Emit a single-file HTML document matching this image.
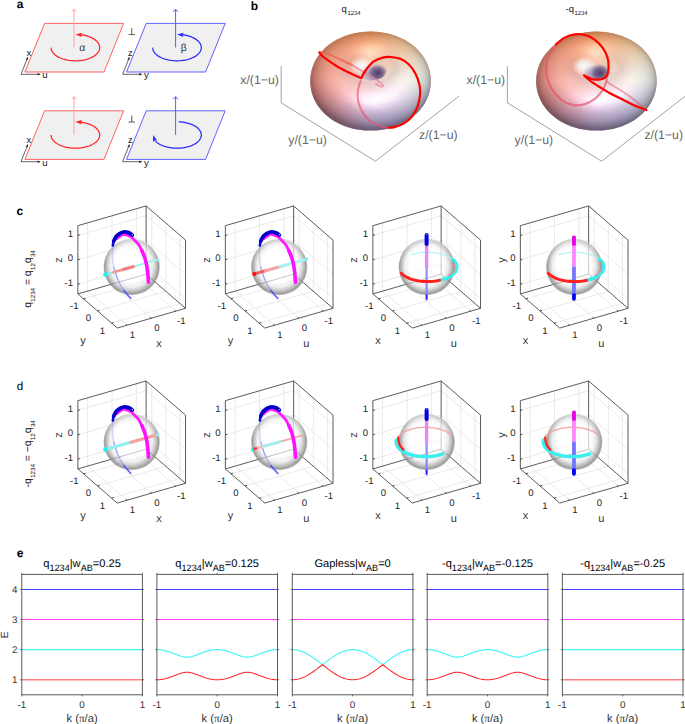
<!DOCTYPE html>
<html><head><meta charset="utf-8"><style>
html,body{margin:0;padding:0;background:#fff;}
svg{display:block;}
text{font-family:'Liberation Sans',sans-serif;text-rendering:geometricPrecision;}
</style></head><body>
<svg width="685" height="724" viewBox="0 0 685 724" style="font-family:'Liberation Sans',sans-serif">
<defs>
<radialGradient id="sph" cx="0.5" cy="0.5" r="0.5" fx="0.47" fy="0.4">
<stop offset="0" stop-color="#ffffff" stop-opacity="0.7"/>
<stop offset="0.6" stop-color="#ffffff" stop-opacity="0.65"/>
<stop offset="0.76" stop-color="#e8e8e8" stop-opacity="0.65"/>
<stop offset="0.88" stop-color="#a8a8a8" stop-opacity="0.72"/>
<stop offset="0.96" stop-color="#808080" stop-opacity="0.78"/>
<stop offset="1" stop-color="#a0a0a0" stop-opacity="0.6"/>
</radialGradient>
<linearGradient id="sphl" x1="0" y1="0" x2="0" y2="1">
<stop offset="0" stop-color="#ffffff" stop-opacity="0.55"/>
<stop offset="0.45" stop-color="#ffffff" stop-opacity="0"/>
<stop offset="1" stop-color="#ffffff" stop-opacity="0"/>
</linearGradient>
<linearGradient id="tul" x1="0" y1="0" x2="0" y2="1"><stop offset="0" stop-color="#c8885c"/><stop offset="0.5" stop-color="#b08080"/><stop offset="1" stop-color="#74607e"/></linearGradient><radialGradient id="hd"><stop offset="0" stop-color="#48385e" stop-opacity="0.95"/><stop offset="0.55" stop-color="#5e4e78" stop-opacity="0.7"/><stop offset="1" stop-color="#8070a0" stop-opacity="0"/></radialGradient><radialGradient id="hl"><stop offset="0" stop-color="#7878b0" stop-opacity="0.8"/><stop offset="0.6" stop-color="#9090c0" stop-opacity="0.5"/><stop offset="1" stop-color="#b0b0d8" stop-opacity="0"/></radialGradient><radialGradient id="hw"><stop offset="0" stop-color="#ffffff" stop-opacity="1"/><stop offset="0.45" stop-color="#f4fcff" stop-opacity="0.8"/><stop offset="0.75" stop-color="#fffbf0" stop-opacity="0.35"/><stop offset="1" stop-color="#ffffff" stop-opacity="0"/></radialGradient><filter id="tb" x="-5%" y="-5%" width="110%" height="110%"><feGaussianBlur stdDeviation="1.0"/></filter></defs>
<rect width="685" height="724" fill="#fff"/>
<path d="M151.76,279.09 L151.76,210.83 M146.13,264.46 L185.54,298.59 M136.37,277.03 L136.37,208.77 M146.13,264.46 L77.86,284.17 M136.37,277.03 L175.78,311.16 M151.76,279.09 L83.49,298.79 M165.83,291.28 L165.83,223.02 M146.13,240.08 L185.54,274.21 M111.99,284.07 L111.99,215.8 M146.13,240.08 L77.86,259.79 M111.99,284.07 L151.4,318.2 M165.83,291.28 L97.57,310.98 M179.91,303.47 L179.91,235.21 M146.13,215.7 L185.54,249.83 M87.62,291.1 L87.62,222.84 M146.13,215.7 L77.86,235.41 M87.62,291.1 L127.03,325.23 M179.91,303.47 L111.64,323.17" stroke="#e3e3e3" stroke-width="0.75" fill="none"/>
<path d="M77.86,293.92 L77.86,225.66 M146.13,274.21 L146.13,205.95 M185.54,308.34 L185.54,240.08 M77.86,225.66 L146.13,205.95 M146.13,205.95 L185.54,240.08 M77.86,293.92 L117.27,328.05 M117.27,328.05 L185.54,308.34 M77.86,293.92 L146.13,274.21 M146.13,274.21 L185.54,308.34" stroke="#4a4a4a" stroke-width="0.9" fill="none" stroke-linejoin="miter"/>
<path d="M77.86,284.17 L79.82,283.6 M83.49,298.79 L85.45,298.23 M175.78,311.16 L174.66,310.18 M77.86,259.79 L79.82,259.22 M97.57,310.98 L99.52,310.42 M151.4,318.2 L150.28,317.22 M77.86,235.41 L79.82,234.85 M111.64,323.17 L113.6,322.61 M127.03,325.23 L125.9,324.26" stroke="#333" stroke-width="0.9" fill="none"/>
<text x="73.06" y="237.01" text-anchor="end" font-size="9.6" fill="#262626">1</text>
<text x="73.06" y="261.39" text-anchor="end" font-size="9.6" fill="#262626">0</text>
<text x="73.06" y="285.77" text-anchor="end" font-size="9.6" fill="#262626">-1</text>
<text x="74.29" y="309.19" text-anchor="middle" font-size="9.6" fill="#262626">-1</text>
<text x="88.37" y="321.38" text-anchor="middle" font-size="9.6" fill="#262626">0</text>
<text x="102.44" y="333.57" text-anchor="middle" font-size="9.6" fill="#262626">1</text>
<text x="132.53" y="337.73" text-anchor="middle" font-size="9.6" fill="#262626">1</text>
<text x="156.9" y="330.7" text-anchor="middle" font-size="9.6" fill="#262626">0</text>
<text x="181.28" y="323.66" text-anchor="middle" font-size="9.6" fill="#262626">-1</text>
<text transform="translate(62.06,259.99) rotate(-90)" text-anchor="middle" font-size="11" fill="#333">z</text>
<text x="83.07" y="343.98" text-anchor="middle" font-size="11" fill="#333">y</text>
<text x="158.9" y="346.7" text-anchor="middle" font-size="11" fill="#333">x</text>
<circle cx="131.7" cy="267" r="28.15" fill="url(#sph)"/><circle cx="131.7" cy="267" r="28.15" fill="url(#sphl)"/>
<path d="M113.19,245.23 C113.06,246.9 112.27,251.59 112.37,255.21 C112.47,258.83 112.86,262.84 113.78,266.95 C114.7,271.06 117.2,277.71 117.89,279.86" stroke="#9a9aff" stroke-width="1.3" stroke-opacity="0.4" fill="none" stroke-linecap="round" stroke-linejoin="round"/>
<path d="M113.78,266.95 C114.46,269.1 116.22,275.95 117.89,279.86 C119.55,283.77 121.6,287.33 123.76,290.42 C125.91,293.51 129.62,297.07 130.8,298.4" stroke="#7a7aff" stroke-width="1.3" stroke-opacity="0.55" fill="none" stroke-linecap="round" stroke-linejoin="round"/>
<path d="M123.76,290.42 C124.93,291.75 129.62,297.07 130.8,298.4" stroke="#4040ff" stroke-width="1.4" stroke-opacity="0.8" fill="none" stroke-linecap="round" stroke-linejoin="round"/>
<path d="M104.98,274.58 L113.78,272.09" stroke="#7ff0f0" stroke-width="1.9" stroke-opacity="1" fill="none" stroke-linecap="round"/>
<path d="M133.15,266.62 L158.97,259.32" stroke="#9ff2f2" stroke-width="1.7" stroke-opacity="1" fill="none" stroke-linecap="round"/>
<path d="M113.78,272.09 L133.15,266.62" stroke="#f29a9a" stroke-width="3" stroke-opacity="1" fill="none" stroke-linecap="round"/>
<path d="M123.17,269.44 L133.15,266.62" stroke="#ef8080" stroke-width="3" stroke-opacity="1" fill="none" stroke-linecap="round"/>
<circle cx="105.33" cy="274.48" r="2.2" fill="#1ef0f0"/>
<path d="M116.71,238.78 C117.79,238.04 120.92,234.71 123.17,234.32 C125.42,233.93 128.35,235.49 130.21,236.43 C132.07,237.37 132.91,238.58 134.32,239.95 C135.73,241.32 137.39,242.85 138.66,244.65 C139.93,246.45 141.4,249.73 141.95,250.75" stroke="#ff1cff" stroke-width="2.8" stroke-opacity="1" fill="none" stroke-linecap="round" stroke-linejoin="round"/>
<path d="M141.95,250.75 C142.42,251.92 143.98,255.39 144.77,257.79 C145.55,260.2 146.13,262.59 146.64,265.19 C147.15,267.79 147.52,270.57 147.82,273.4 C148.11,276.24 148.31,280.74 148.4,282.21" stroke="#ff10ff" stroke-width="3.6" stroke-opacity="1" fill="none" stroke-linecap="round" stroke-linejoin="round"/>
<path d="M112.84,245.59 C113,244.84 113.13,242.75 113.78,241.13 C114.42,239.5 116.22,236.73 116.71,235.85" stroke="#0a0ad8" stroke-width="2.6" stroke-opacity="1" fill="none" stroke-linecap="round" stroke-linejoin="round"/>
<path d="M113.78,241.13 C114.27,240.25 115.25,237.33 116.71,235.85 C118.18,234.36 120.63,232.75 122.58,232.21 C124.54,231.66 126.83,232.09 128.45,232.56 C130.07,233.03 131.68,234.61 132.32,235.02" stroke="#0000c8" stroke-width="3.8" stroke-opacity="1" fill="none" stroke-linecap="round" stroke-linejoin="round"/>
<circle cx="132.39" cy="234.59" r="0.8" fill="#9a9aff"/>
<path d="M299.26,279.09 L299.26,210.83 M293.63,264.46 L333.04,298.59 M283.87,277.03 L283.87,208.77 M293.63,264.46 L225.36,284.17 M283.87,277.03 L323.28,311.16 M299.26,279.09 L230.99,298.79 M313.33,291.28 L313.33,223.02 M293.63,240.08 L333.04,274.21 M259.5,284.07 L259.5,215.8 M293.63,240.08 L225.36,259.79 M259.5,284.07 L298.9,318.2 M313.33,291.28 L245.07,310.98 M327.41,303.47 L327.41,235.21 M293.63,215.7 L333.04,249.83 M235.12,291.1 L235.12,222.84 M293.63,215.7 L225.36,235.41 M235.12,291.1 L274.53,325.23 M327.41,303.47 L259.14,323.17" stroke="#e3e3e3" stroke-width="0.75" fill="none"/>
<path d="M225.36,293.92 L225.36,225.66 M293.63,274.21 L293.63,205.95 M333.04,308.34 L333.04,240.08 M225.36,225.66 L293.63,205.95 M293.63,205.95 L333.04,240.08 M225.36,293.92 L264.77,328.05 M264.77,328.05 L333.04,308.34 M225.36,293.92 L293.63,274.21 M293.63,274.21 L333.04,308.34" stroke="#4a4a4a" stroke-width="0.9" fill="none" stroke-linejoin="miter"/>
<path d="M225.36,284.17 L227.32,283.6 M230.99,298.79 L232.95,298.23 M323.28,311.16 L322.16,310.18 M225.36,259.79 L227.32,259.22 M245.07,310.98 L247.02,310.42 M298.9,318.2 L297.78,317.22 M225.36,235.41 L227.32,234.85 M259.14,323.17 L261.1,322.61 M274.53,325.23 L273.4,324.26" stroke="#333" stroke-width="0.9" fill="none"/>
<text x="220.56" y="237.01" text-anchor="end" font-size="9.6" fill="#262626">1</text>
<text x="220.56" y="261.39" text-anchor="end" font-size="9.6" fill="#262626">0</text>
<text x="220.56" y="285.77" text-anchor="end" font-size="9.6" fill="#262626">-1</text>
<text x="221.79" y="309.19" text-anchor="middle" font-size="9.6" fill="#262626">-1</text>
<text x="235.87" y="321.38" text-anchor="middle" font-size="9.6" fill="#262626">0</text>
<text x="249.94" y="333.57" text-anchor="middle" font-size="9.6" fill="#262626">1</text>
<text x="280.03" y="337.73" text-anchor="middle" font-size="9.6" fill="#262626">1</text>
<text x="304.4" y="330.7" text-anchor="middle" font-size="9.6" fill="#262626">0</text>
<text x="328.78" y="323.66" text-anchor="middle" font-size="9.6" fill="#262626">-1</text>
<text transform="translate(209.56,259.99) rotate(-90)" text-anchor="middle" font-size="11" fill="#333">z</text>
<text x="230.57" y="343.98" text-anchor="middle" font-size="11" fill="#333">y</text>
<text x="306.4" y="346.7" text-anchor="middle" font-size="11" fill="#333">u</text>
<circle cx="279.2" cy="267" r="28.15" fill="url(#sph)"/><circle cx="279.2" cy="267" r="28.15" fill="url(#sphl)"/>
<path d="M260.19,245.23 C260.06,246.9 259.27,251.59 259.37,255.21 C259.47,258.83 259.86,262.84 260.78,266.95 C261.7,271.06 264.2,277.71 264.89,279.86" stroke="#9a9aff" stroke-width="1.3" stroke-opacity="0.4" fill="none" stroke-linecap="round" stroke-linejoin="round"/>
<path d="M260.78,266.95 C261.46,269.1 263.22,275.95 264.89,279.86 C266.55,283.77 268.6,287.33 270.76,290.42 C272.91,293.51 276.62,297.07 277.8,298.4" stroke="#7a7aff" stroke-width="1.3" stroke-opacity="0.55" fill="none" stroke-linecap="round" stroke-linejoin="round"/>
<path d="M270.76,290.42 C271.93,291.75 276.62,297.07 277.8,298.4" stroke="#4040ff" stroke-width="1.4" stroke-opacity="0.8" fill="none" stroke-linecap="round" stroke-linejoin="round"/>
<path d="M277.8,267.28 L306.55,259.15" stroke="#a8f2f2" stroke-width="3" stroke-opacity="1" fill="none" stroke-linecap="round"/>
<path d="M254.32,273.91 L265.47,270.76" stroke="#f06060" stroke-width="3" stroke-opacity="1" fill="none" stroke-linecap="round"/>
<path d="M265.47,270.76 L277.8,267.28" stroke="#f4a4a4" stroke-width="3" stroke-opacity="1" fill="none" stroke-linecap="round"/>
<circle cx="306.32" cy="259.22" r="1.5" fill="#70e8e8"/>
<circle cx="254.32" cy="273.91" r="2.1" fill="#ff1010"/>
<path d="M263.71,238.78 C264.79,238.04 267.92,234.71 270.17,234.32 C272.42,233.93 275.35,235.49 277.21,236.43 C279.07,237.37 279.91,238.58 281.32,239.95 C282.73,241.32 284.39,242.85 285.66,244.65 C286.93,246.45 288.4,249.73 288.95,250.75" stroke="#ff1cff" stroke-width="2.8" stroke-opacity="1" fill="none" stroke-linecap="round" stroke-linejoin="round"/>
<path d="M288.95,250.75 C289.42,251.92 290.98,255.39 291.77,257.79 C292.55,260.2 293.13,262.59 293.64,265.19 C294.15,267.79 294.52,270.57 294.82,273.4 C295.11,276.24 295.31,280.74 295.4,282.21" stroke="#ff10ff" stroke-width="3.6" stroke-opacity="1" fill="none" stroke-linecap="round" stroke-linejoin="round"/>
<path d="M259.84,245.59 C260,244.84 260.13,242.75 260.78,241.13 C261.42,239.5 263.22,236.73 263.71,235.85" stroke="#0a0ad8" stroke-width="2.6" stroke-opacity="1" fill="none" stroke-linecap="round" stroke-linejoin="round"/>
<path d="M260.78,241.13 C261.27,240.25 262.25,237.33 263.71,235.85 C265.18,234.36 267.63,232.75 269.58,232.21 C271.54,231.66 273.83,232.09 275.45,232.56 C277.07,233.03 278.68,234.61 279.32,235.02" stroke="#0000c8" stroke-width="3.8" stroke-opacity="1" fill="none" stroke-linecap="round" stroke-linejoin="round"/>
<circle cx="279.39" cy="234.59" r="0.8" fill="#9a9aff"/>
<path d="M446.76,279.09 L446.76,210.83 M441.13,264.46 L480.54,298.59 M431.37,277.03 L431.37,208.77 M441.13,264.46 L372.86,284.17 M431.37,277.03 L470.78,311.16 M446.76,279.09 L378.49,298.79 M460.83,291.28 L460.83,223.02 M441.13,240.08 L480.54,274.21 M407,284.07 L407,215.8 M441.13,240.08 L372.86,259.79 M407,284.07 L446.4,318.2 M460.83,291.28 L392.57,310.98 M474.91,303.47 L474.91,235.21 M441.13,215.7 L480.54,249.83 M382.62,291.1 L382.62,222.84 M441.13,215.7 L372.86,235.41 M382.62,291.1 L422.03,325.23 M474.91,303.47 L406.64,323.17" stroke="#e3e3e3" stroke-width="0.75" fill="none"/>
<path d="M372.86,293.92 L372.86,225.66 M441.13,274.21 L441.13,205.95 M480.54,308.34 L480.54,240.08 M372.86,225.66 L441.13,205.95 M441.13,205.95 L480.54,240.08 M372.86,293.92 L412.27,328.05 M412.27,328.05 L480.54,308.34 M372.86,293.92 L441.13,274.21 M441.13,274.21 L480.54,308.34" stroke="#4a4a4a" stroke-width="0.9" fill="none" stroke-linejoin="miter"/>
<path d="M372.86,284.17 L374.82,283.6 M378.49,298.79 L380.45,298.23 M470.78,311.16 L469.66,310.18 M372.86,259.79 L374.82,259.22 M392.57,310.98 L394.52,310.42 M446.4,318.2 L445.28,317.22 M372.86,235.41 L374.82,234.85 M406.64,323.17 L408.6,322.61 M422.03,325.23 L420.9,324.26" stroke="#333" stroke-width="0.9" fill="none"/>
<text x="368.06" y="237.01" text-anchor="end" font-size="9.6" fill="#262626">1</text>
<text x="368.06" y="261.39" text-anchor="end" font-size="9.6" fill="#262626">0</text>
<text x="368.06" y="285.77" text-anchor="end" font-size="9.6" fill="#262626">-1</text>
<text x="369.29" y="309.19" text-anchor="middle" font-size="9.6" fill="#262626">-1</text>
<text x="383.37" y="321.38" text-anchor="middle" font-size="9.6" fill="#262626">0</text>
<text x="397.44" y="333.57" text-anchor="middle" font-size="9.6" fill="#262626">1</text>
<text x="427.53" y="337.73" text-anchor="middle" font-size="9.6" fill="#262626">1</text>
<text x="451.9" y="330.7" text-anchor="middle" font-size="9.6" fill="#262626">0</text>
<text x="476.28" y="323.66" text-anchor="middle" font-size="9.6" fill="#262626">-1</text>
<text transform="translate(357.06,259.99) rotate(-90)" text-anchor="middle" font-size="11" fill="#333">z</text>
<text x="378.07" y="343.98" text-anchor="middle" font-size="11" fill="#333">x</text>
<text x="453.9" y="346.7" text-anchor="middle" font-size="11" fill="#333">u</text>
<circle cx="426.7" cy="267" r="28.15" fill="url(#sph)"/><circle cx="426.7" cy="267" r="28.15" fill="url(#sphl)"/>
<path d="M452.93,259.62 L451.85,258.76 L450.64,257.93 L449.33,257.15 L447.91,256.41 L446.39,255.73 L444.78,255.1 L443.08,254.53 L441.31,254.02 L439.47,253.57 L437.58,253.18 L435.63,252.87 L433.65,252.62 L431.64,252.44 L429.6,252.34 L427.56,252.3 L425.51,252.34 L423.48,252.44 L421.47,252.62 L419.48,252.87 L417.54,253.18 L415.64,253.57 L413.81,254.02 L412.03,254.53" stroke="#a8f4f4" stroke-width="1.3" stroke-opacity="0.85" fill="none" stroke-linecap="round" stroke-linejoin="round"/>
<path d="M426.62,268.12 L426.62,298.87" stroke="#7c7cff" stroke-width="2.3" stroke-opacity="0.85" fill="none" stroke-linecap="butt"/>
<path d="M426.62,295.12 L426.62,299.23" stroke="#2020ff" stroke-width="1.8" stroke-opacity="0.9" fill="none" stroke-linecap="round"/>
<path d="M426.62,243.47 L426.62,268.12" stroke="#e488f4" stroke-width="3.4" stroke-opacity="1" fill="none" stroke-linecap="butt"/>
<path d="M426.62,235.02 L426.62,244.06" stroke="#0000e8" stroke-width="4" stroke-opacity="1" fill="none" stroke-linecap="round"/>
<circle cx="426.62" cy="234.55" r="0.7" fill="#8a8aff"/>
<path d="M401.23,273.37 L402.19,274.27 L403.27,275.14 L404.47,275.97 L405.79,276.75 L407.21,277.49 L408.73,278.17 L410.34,278.8 L412.03,279.37 L413.81,279.88 L415.64,280.33 L417.54,280.71 L419.48,281.03 L421.47,281.28 L423.48,281.45 L425.52,281.56 L427.56,281.6 L429.6,281.56 L431.64,281.45 L433.65,281.28 L435.63,281.03 L437.58,280.71 L439.47,280.33 L441.31,279.88 L443.08,279.37" stroke="#ff2020" stroke-width="3" stroke-opacity="1" fill="none" stroke-linecap="round" stroke-linejoin="round"/>
<path d="M442.21,279.63 L443.98,279.08 L445.67,278.46 L447.26,277.79 L448.76,277.06 L450.15,276.27 L451.42,275.44 L452.57,274.57 L453.6,273.66 L454.49,272.71 L455.24,271.74 L455.86,270.74 L456.32,269.72 L456.65,268.69 L456.82,267.65 L456.85,266.6 L456.72,265.56 L456.45,264.52 L456.03,263.49 L455.46,262.49 L454.76,261.5 L453.91,260.55 L452.93,259.62" stroke="#38f0f0" stroke-width="3.4" stroke-opacity="1" fill="none" stroke-linecap="round" stroke-linejoin="round"/>
<path d="M448.43,275.7 L449.64,274.93 L450.73,274.11 L451.7,273.26 L452.55,272.37 L453.27,271.46 L453.85,270.52 L454.3,269.56 L454.6,268.59 L454.77,267.61 L454.8,266.63 L454.68,265.65 L454.42,264.68 L454.02,263.71 L453.49,262.77 L452.82,261.85" stroke="#f07878" stroke-width="1.1" stroke-opacity="0.9" fill="none" stroke-linecap="round" stroke-linejoin="round"/>
<path d="M594.26,279.09 L594.26,210.83 M588.63,264.46 L628.04,298.59 M578.87,277.03 L578.87,208.77 M588.63,264.46 L520.36,284.17 M578.87,277.03 L618.28,311.16 M594.26,279.09 L525.99,298.79 M608.33,291.28 L608.33,223.02 M588.63,240.08 L628.04,274.21 M554.5,284.07 L554.5,215.8 M588.63,240.08 L520.36,259.79 M554.5,284.07 L593.91,318.2 M608.33,291.28 L540.07,310.98 M622.41,303.47 L622.41,235.21 M588.63,215.7 L628.04,249.83 M530.12,291.1 L530.12,222.84 M588.63,215.7 L520.36,235.41 M530.12,291.1 L569.53,325.23 M622.41,303.47 L554.14,323.17" stroke="#e3e3e3" stroke-width="0.75" fill="none"/>
<path d="M520.36,293.92 L520.36,225.66 M588.63,274.21 L588.63,205.95 M628.04,308.34 L628.04,240.08 M520.36,225.66 L588.63,205.95 M588.63,205.95 L628.04,240.08 M520.36,293.92 L559.77,328.05 M559.77,328.05 L628.04,308.34 M520.36,293.92 L588.63,274.21 M588.63,274.21 L628.04,308.34" stroke="#4a4a4a" stroke-width="0.9" fill="none" stroke-linejoin="miter"/>
<path d="M520.36,284.17 L522.32,283.6 M525.99,298.79 L527.95,298.23 M618.28,311.16 L617.16,310.18 M520.36,259.79 L522.32,259.22 M540.07,310.98 L542.02,310.42 M593.91,318.2 L592.78,317.22 M520.36,235.41 L522.32,234.85 M554.14,323.17 L556.1,322.61 M569.53,325.23 L568.4,324.26" stroke="#333" stroke-width="0.9" fill="none"/>
<text x="515.56" y="237.01" text-anchor="end" font-size="9.6" fill="#262626">1</text>
<text x="515.56" y="261.39" text-anchor="end" font-size="9.6" fill="#262626">0</text>
<text x="515.56" y="285.77" text-anchor="end" font-size="9.6" fill="#262626">-1</text>
<text x="516.79" y="309.19" text-anchor="middle" font-size="9.6" fill="#262626">-1</text>
<text x="530.87" y="321.38" text-anchor="middle" font-size="9.6" fill="#262626">0</text>
<text x="544.94" y="333.57" text-anchor="middle" font-size="9.6" fill="#262626">1</text>
<text x="575.03" y="337.73" text-anchor="middle" font-size="9.6" fill="#262626">1</text>
<text x="599.41" y="330.7" text-anchor="middle" font-size="9.6" fill="#262626">0</text>
<text x="623.78" y="323.66" text-anchor="middle" font-size="9.6" fill="#262626">-1</text>
<text transform="translate(504.56,259.99) rotate(-90)" text-anchor="middle" font-size="11" fill="#333">y</text>
<text x="525.57" y="343.98" text-anchor="middle" font-size="11" fill="#333">x</text>
<text x="601.41" y="346.7" text-anchor="middle" font-size="11" fill="#333">u</text>
<circle cx="574.2" cy="267" r="28.15" fill="url(#sph)"/><circle cx="574.2" cy="267" r="28.15" fill="url(#sphl)"/>
<path d="M599.93,259.62 L598.85,258.76 L597.64,257.93 L596.33,257.15 L594.91,256.41 L593.39,255.73 L591.78,255.1 L590.08,254.53 L588.31,254.02 L586.47,253.57 L584.58,253.18 L582.63,252.87 L580.65,252.62 L578.64,252.44 L576.6,252.34 L574.56,252.3 L572.51,252.34 L570.48,252.44 L568.47,252.62 L566.48,252.87 L564.54,253.18 L562.64,253.57 L560.81,254.02 L559.03,254.53" stroke="#a8f4f4" stroke-width="1.3" stroke-opacity="0.85" fill="none" stroke-linecap="round" stroke-linejoin="round"/>
<path d="M573.97,266.36 L573.97,295.7" stroke="#7474ff" stroke-width="3.8" stroke-opacity="1" fill="none" stroke-linecap="butt"/>
<path d="M573.97,295.12 L573.97,298.87" stroke="#0000ff" stroke-width="3.8" stroke-opacity="1" fill="none" stroke-linecap="round"/>
<path d="M573.97,243.47 L573.97,266.36" stroke="#ff88ff" stroke-width="3.8" stroke-opacity="1" fill="none" stroke-linecap="butt"/>
<path d="M573.97,237.37 L573.97,244.06" stroke="#e800e8" stroke-width="3.9" stroke-opacity="1" fill="none" stroke-linecap="round"/>
<path d="M548.23,273.37 L549.19,274.27 L550.27,275.14 L551.47,275.97 L552.79,276.75 L554.21,277.49 L555.73,278.17 L557.34,278.8 L559.03,279.37 L560.81,279.88 L562.64,280.33 L564.54,280.71 L566.48,281.03 L568.47,281.28 L570.48,281.45 L572.52,281.56 L574.56,281.6 L576.6,281.56 L578.64,281.45 L580.65,281.28 L582.63,281.03 L584.58,280.71 L586.47,280.33 L588.31,279.88 L590.08,279.37" stroke="#ff2020" stroke-width="3" stroke-opacity="1" fill="none" stroke-linecap="round" stroke-linejoin="round"/>
<path d="M589.21,279.63 L590.98,279.08 L592.67,278.46 L594.26,277.79 L595.76,277.06 L597.15,276.27 L598.42,275.44 L599.57,274.57 L600.6,273.66 L601.49,272.71 L602.24,271.74 L602.86,270.74 L603.32,269.72 L603.65,268.69 L603.82,267.65 L603.85,266.6 L603.72,265.56 L603.45,264.52 L603.03,263.49 L602.46,262.49 L601.76,261.5 L600.91,260.55 L599.93,259.62" stroke="#38f0f0" stroke-width="3.4" stroke-opacity="1" fill="none" stroke-linecap="round" stroke-linejoin="round"/>
<path d="M595.43,275.7 L596.64,274.93 L597.73,274.11 L598.7,273.26 L599.55,272.37 L600.27,271.46 L600.85,270.52 L601.3,269.56 L601.6,268.59 L601.77,267.61 L601.8,266.63 L601.68,265.65 L601.42,264.68 L601.02,263.71 L600.49,262.77 L599.82,261.85" stroke="#f07878" stroke-width="1.1" stroke-opacity="0.9" fill="none" stroke-linecap="round" stroke-linejoin="round"/>
<path d="M151.76,454.09 L151.76,385.83 M146.13,439.46 L185.54,473.59 M136.37,452.03 L136.37,383.77 M146.13,439.46 L77.86,459.17 M136.37,452.03 L175.78,486.16 M151.76,454.09 L83.49,473.79 M165.83,466.28 L165.83,398.02 M146.13,415.08 L185.54,449.21 M111.99,459.07 L111.99,390.8 M146.13,415.08 L77.86,434.79 M111.99,459.07 L151.4,493.2 M165.83,466.28 L97.57,485.98 M179.91,478.47 L179.91,410.21 M146.13,390.7 L185.54,424.83 M87.62,466.1 L87.62,397.84 M146.13,390.7 L77.86,410.41 M87.62,466.1 L127.03,500.23 M179.91,478.47 L111.64,498.17" stroke="#e3e3e3" stroke-width="0.75" fill="none"/>
<path d="M77.86,468.92 L77.86,400.66 M146.13,449.21 L146.13,380.95 M185.54,483.34 L185.54,415.08 M77.86,400.66 L146.13,380.95 M146.13,380.95 L185.54,415.08 M77.86,468.92 L117.27,503.05 M117.27,503.05 L185.54,483.34 M77.86,468.92 L146.13,449.21 M146.13,449.21 L185.54,483.34" stroke="#4a4a4a" stroke-width="0.9" fill="none" stroke-linejoin="miter"/>
<path d="M77.86,459.17 L79.82,458.6 M83.49,473.79 L85.45,473.23 M175.78,486.16 L174.66,485.18 M77.86,434.79 L79.82,434.22 M97.57,485.98 L99.52,485.42 M151.4,493.2 L150.28,492.22 M77.86,410.41 L79.82,409.85 M111.64,498.17 L113.6,497.61 M127.03,500.23 L125.9,499.26" stroke="#333" stroke-width="0.9" fill="none"/>
<text x="73.06" y="412.01" text-anchor="end" font-size="9.6" fill="#262626">1</text>
<text x="73.06" y="436.39" text-anchor="end" font-size="9.6" fill="#262626">0</text>
<text x="73.06" y="460.77" text-anchor="end" font-size="9.6" fill="#262626">-1</text>
<text x="74.29" y="484.19" text-anchor="middle" font-size="9.6" fill="#262626">-1</text>
<text x="88.37" y="496.38" text-anchor="middle" font-size="9.6" fill="#262626">0</text>
<text x="102.44" y="508.57" text-anchor="middle" font-size="9.6" fill="#262626">1</text>
<text x="132.53" y="512.73" text-anchor="middle" font-size="9.6" fill="#262626">1</text>
<text x="156.9" y="505.7" text-anchor="middle" font-size="9.6" fill="#262626">0</text>
<text x="181.28" y="498.66" text-anchor="middle" font-size="9.6" fill="#262626">-1</text>
<text transform="translate(62.06,434.99) rotate(-90)" text-anchor="middle" font-size="11" fill="#333">z</text>
<text x="83.07" y="518.98" text-anchor="middle" font-size="11" fill="#333">y</text>
<text x="158.9" y="521.7" text-anchor="middle" font-size="11" fill="#333">x</text>
<circle cx="131.7" cy="442" r="28.15" fill="url(#sph)"/><circle cx="131.7" cy="442" r="28.15" fill="url(#sphl)"/>
<path d="M113.19,420.23 C113.06,421.9 112.27,426.59 112.37,430.21 C112.47,433.83 112.86,437.84 113.78,441.95 C114.7,446.06 117.2,452.71 117.89,454.86" stroke="#9a9aff" stroke-width="1.3" stroke-opacity="0.4" fill="none" stroke-linecap="round" stroke-linejoin="round"/>
<path d="M113.78,441.95 C114.46,444.1 116.22,450.95 117.89,454.86 C119.55,458.77 121.6,462.33 123.76,465.42 C125.91,468.51 129.62,472.07 130.8,473.4" stroke="#7a7aff" stroke-width="1.3" stroke-opacity="0.55" fill="none" stroke-linecap="round" stroke-linejoin="round"/>
<path d="M123.76,465.42 C124.93,466.75 129.62,472.07 130.8,473.4" stroke="#4040ff" stroke-width="1.4" stroke-opacity="0.8" fill="none" stroke-linecap="round" stroke-linejoin="round"/>
<path d="M104.98,449.58 L130.8,442.28" stroke="#8ff0f0" stroke-width="3" stroke-opacity="1" fill="none" stroke-linecap="round"/>
<path d="M130.8,442.28 L156.62,434.98" stroke="#f4a0a0" stroke-width="3" stroke-opacity="1" fill="none" stroke-linecap="round"/>
<path d="M156.62,434.98 L158.97,434.32" stroke="#a0f0f0" stroke-width="2" stroke-opacity="1" fill="none" stroke-linecap="round"/>
<circle cx="105.33" cy="449.48" r="2.2" fill="#1ef0f0"/>
<path d="M116.71,413.78 C117.79,413.04 120.92,409.71 123.17,409.32 C125.42,408.93 128.35,410.49 130.21,411.43 C132.07,412.37 132.91,413.58 134.32,414.95 C135.73,416.32 137.39,417.85 138.66,419.65 C139.93,421.45 141.4,424.73 141.95,425.75" stroke="#ff1cff" stroke-width="2.8" stroke-opacity="1" fill="none" stroke-linecap="round" stroke-linejoin="round"/>
<path d="M141.95,425.75 C142.42,426.92 143.98,430.39 144.77,432.79 C145.55,435.2 146.13,437.59 146.64,440.19 C147.15,442.79 147.52,445.57 147.82,448.4 C148.11,451.24 148.31,455.74 148.4,457.21" stroke="#ff10ff" stroke-width="3.6" stroke-opacity="1" fill="none" stroke-linecap="round" stroke-linejoin="round"/>
<path d="M112.84,420.59 C113,419.84 113.13,417.75 113.78,416.13 C114.42,414.5 116.22,411.73 116.71,410.85" stroke="#0a0ad8" stroke-width="2.6" stroke-opacity="1" fill="none" stroke-linecap="round" stroke-linejoin="round"/>
<path d="M113.78,416.13 C114.27,415.25 115.25,412.33 116.71,410.85 C118.18,409.36 120.63,407.75 122.58,407.21 C124.54,406.66 126.83,407.09 128.45,407.56 C130.07,408.03 131.68,409.61 132.32,410.02" stroke="#0000c8" stroke-width="3.8" stroke-opacity="1" fill="none" stroke-linecap="round" stroke-linejoin="round"/>
<circle cx="132.39" cy="409.59" r="0.8" fill="#9a9aff"/>
<path d="M299.26,454.09 L299.26,385.83 M293.63,439.46 L333.04,473.59 M283.87,452.03 L283.87,383.77 M293.63,439.46 L225.36,459.17 M283.87,452.03 L323.28,486.16 M299.26,454.09 L230.99,473.79 M313.33,466.28 L313.33,398.02 M293.63,415.08 L333.04,449.21 M259.5,459.07 L259.5,390.8 M293.63,415.08 L225.36,434.79 M259.5,459.07 L298.9,493.2 M313.33,466.28 L245.07,485.98 M327.41,478.47 L327.41,410.21 M293.63,390.7 L333.04,424.83 M235.12,466.1 L235.12,397.84 M293.63,390.7 L225.36,410.41 M235.12,466.1 L274.53,500.23 M327.41,478.47 L259.14,498.17" stroke="#e3e3e3" stroke-width="0.75" fill="none"/>
<path d="M225.36,468.92 L225.36,400.66 M293.63,449.21 L293.63,380.95 M333.04,483.34 L333.04,415.08 M225.36,400.66 L293.63,380.95 M293.63,380.95 L333.04,415.08 M225.36,468.92 L264.77,503.05 M264.77,503.05 L333.04,483.34 M225.36,468.92 L293.63,449.21 M293.63,449.21 L333.04,483.34" stroke="#4a4a4a" stroke-width="0.9" fill="none" stroke-linejoin="miter"/>
<path d="M225.36,459.17 L227.32,458.6 M230.99,473.79 L232.95,473.23 M323.28,486.16 L322.16,485.18 M225.36,434.79 L227.32,434.22 M245.07,485.98 L247.02,485.42 M298.9,493.2 L297.78,492.22 M225.36,410.41 L227.32,409.85 M259.14,498.17 L261.1,497.61 M274.53,500.23 L273.4,499.26" stroke="#333" stroke-width="0.9" fill="none"/>
<text x="220.56" y="412.01" text-anchor="end" font-size="9.6" fill="#262626">1</text>
<text x="220.56" y="436.39" text-anchor="end" font-size="9.6" fill="#262626">0</text>
<text x="220.56" y="460.77" text-anchor="end" font-size="9.6" fill="#262626">-1</text>
<text x="221.79" y="484.19" text-anchor="middle" font-size="9.6" fill="#262626">-1</text>
<text x="235.87" y="496.38" text-anchor="middle" font-size="9.6" fill="#262626">0</text>
<text x="249.94" y="508.57" text-anchor="middle" font-size="9.6" fill="#262626">1</text>
<text x="280.03" y="512.73" text-anchor="middle" font-size="9.6" fill="#262626">1</text>
<text x="304.4" y="505.7" text-anchor="middle" font-size="9.6" fill="#262626">0</text>
<text x="328.78" y="498.66" text-anchor="middle" font-size="9.6" fill="#262626">-1</text>
<text transform="translate(209.56,434.99) rotate(-90)" text-anchor="middle" font-size="11" fill="#333">z</text>
<text x="230.57" y="518.98" text-anchor="middle" font-size="11" fill="#333">y</text>
<text x="306.4" y="521.7" text-anchor="middle" font-size="11" fill="#333">u</text>
<circle cx="279.2" cy="442" r="28.15" fill="url(#sph)"/><circle cx="279.2" cy="442" r="28.15" fill="url(#sphl)"/>
<path d="M260.19,420.23 C260.06,421.9 259.27,426.59 259.37,430.21 C259.47,433.83 259.86,437.84 260.78,441.95 C261.7,446.06 264.2,452.71 264.89,454.86" stroke="#9a9aff" stroke-width="1.3" stroke-opacity="0.4" fill="none" stroke-linecap="round" stroke-linejoin="round"/>
<path d="M260.78,441.95 C261.46,444.1 263.22,450.95 264.89,454.86 C266.55,458.77 268.6,462.33 270.76,465.42 C272.91,468.51 276.62,472.07 277.8,473.4" stroke="#7a7aff" stroke-width="1.3" stroke-opacity="0.55" fill="none" stroke-linecap="round" stroke-linejoin="round"/>
<path d="M270.76,465.42 C271.93,466.75 276.62,472.07 277.8,473.4" stroke="#4040ff" stroke-width="1.4" stroke-opacity="0.8" fill="none" stroke-linecap="round" stroke-linejoin="round"/>
<path d="M280.15,441.62 L303.62,434.98" stroke="#f6a4a4" stroke-width="1.6" stroke-opacity="1" fill="none" stroke-linecap="round"/>
<path d="M261.37,446.92 L280.15,441.62" stroke="#a6ecec" stroke-width="3" stroke-opacity="1" fill="none" stroke-linecap="round"/>
<path d="M256.08,448.42 L261.37,446.92" stroke="#f8b4b4" stroke-width="2.4" stroke-opacity="1" fill="none" stroke-linecap="round"/>
<path d="M253.15,449.25 L256.08,448.42" stroke="#ff3030" stroke-width="2.4" stroke-opacity="1" fill="none" stroke-linecap="round"/>
<circle cx="252.33" cy="449.88" r="1.6" fill="#30f0f0"/>
<path d="M263.71,413.78 C264.79,413.04 267.92,409.71 270.17,409.32 C272.42,408.93 275.35,410.49 277.21,411.43 C279.07,412.37 279.91,413.58 281.32,414.95 C282.73,416.32 284.39,417.85 285.66,419.65 C286.93,421.45 288.4,424.73 288.95,425.75" stroke="#ff1cff" stroke-width="2.8" stroke-opacity="1" fill="none" stroke-linecap="round" stroke-linejoin="round"/>
<path d="M288.95,425.75 C289.42,426.92 290.98,430.39 291.77,432.79 C292.55,435.2 293.13,437.59 293.64,440.19 C294.15,442.79 294.52,445.57 294.82,448.4 C295.11,451.24 295.31,455.74 295.4,457.21" stroke="#ff10ff" stroke-width="3.6" stroke-opacity="1" fill="none" stroke-linecap="round" stroke-linejoin="round"/>
<path d="M259.84,420.59 C260,419.84 260.13,417.75 260.78,416.13 C261.42,414.5 263.22,411.73 263.71,410.85" stroke="#0a0ad8" stroke-width="2.6" stroke-opacity="1" fill="none" stroke-linecap="round" stroke-linejoin="round"/>
<path d="M260.78,416.13 C261.27,415.25 262.25,412.33 263.71,410.85 C265.18,409.36 267.63,407.75 269.58,407.21 C271.54,406.66 273.83,407.09 275.45,407.56 C277.07,408.03 278.68,409.61 279.32,410.02" stroke="#0000c8" stroke-width="3.8" stroke-opacity="1" fill="none" stroke-linecap="round" stroke-linejoin="round"/>
<circle cx="279.39" cy="409.59" r="0.8" fill="#9a9aff"/>
<path d="M446.76,454.09 L446.76,385.83 M441.13,439.46 L480.54,473.59 M431.37,452.03 L431.37,383.77 M441.13,439.46 L372.86,459.17 M431.37,452.03 L470.78,486.16 M446.76,454.09 L378.49,473.79 M460.83,466.28 L460.83,398.02 M441.13,415.08 L480.54,449.21 M407,459.07 L407,390.8 M441.13,415.08 L372.86,434.79 M407,459.07 L446.4,493.2 M460.83,466.28 L392.57,485.98 M474.91,478.47 L474.91,410.21 M441.13,390.7 L480.54,424.83 M382.62,466.1 L382.62,397.84 M441.13,390.7 L372.86,410.41 M382.62,466.1 L422.03,500.23 M474.91,478.47 L406.64,498.17" stroke="#e3e3e3" stroke-width="0.75" fill="none"/>
<path d="M372.86,468.92 L372.86,400.66 M441.13,449.21 L441.13,380.95 M480.54,483.34 L480.54,415.08 M372.86,400.66 L441.13,380.95 M441.13,380.95 L480.54,415.08 M372.86,468.92 L412.27,503.05 M412.27,503.05 L480.54,483.34 M372.86,468.92 L441.13,449.21 M441.13,449.21 L480.54,483.34" stroke="#4a4a4a" stroke-width="0.9" fill="none" stroke-linejoin="miter"/>
<path d="M372.86,459.17 L374.82,458.6 M378.49,473.79 L380.45,473.23 M470.78,486.16 L469.66,485.18 M372.86,434.79 L374.82,434.22 M392.57,485.98 L394.52,485.42 M446.4,493.2 L445.28,492.22 M372.86,410.41 L374.82,409.85 M406.64,498.17 L408.6,497.61 M422.03,500.23 L420.9,499.26" stroke="#333" stroke-width="0.9" fill="none"/>
<text x="368.06" y="412.01" text-anchor="end" font-size="9.6" fill="#262626">1</text>
<text x="368.06" y="436.39" text-anchor="end" font-size="9.6" fill="#262626">0</text>
<text x="368.06" y="460.77" text-anchor="end" font-size="9.6" fill="#262626">-1</text>
<text x="369.29" y="484.19" text-anchor="middle" font-size="9.6" fill="#262626">-1</text>
<text x="383.37" y="496.38" text-anchor="middle" font-size="9.6" fill="#262626">0</text>
<text x="397.44" y="508.57" text-anchor="middle" font-size="9.6" fill="#262626">1</text>
<text x="427.53" y="512.73" text-anchor="middle" font-size="9.6" fill="#262626">1</text>
<text x="451.9" y="505.7" text-anchor="middle" font-size="9.6" fill="#262626">0</text>
<text x="476.28" y="498.66" text-anchor="middle" font-size="9.6" fill="#262626">-1</text>
<text transform="translate(357.06,434.99) rotate(-90)" text-anchor="middle" font-size="11" fill="#333">z</text>
<text x="378.07" y="518.98" text-anchor="middle" font-size="11" fill="#333">x</text>
<text x="453.9" y="521.7" text-anchor="middle" font-size="11" fill="#333">u</text>
<circle cx="426.7" cy="442" r="28.15" fill="url(#sph)"/><circle cx="426.7" cy="442" r="28.15" fill="url(#sphl)"/>
<path d="M450.82,434.62 L449.72,433.75 L448.51,432.92 L447.18,432.13 L445.75,431.39 L444.21,430.7 L442.58,430.07 L440.87,429.5 L439.08,428.98 L437.23,428.54 L435.31,428.16 L433.35,427.84 L431.34,427.6 L429.31,427.43 L427.26,427.33 L425.2,427.3 L423.14,427.35 L421.09,427.46 L419.06,427.65 L417.07,427.91 L415.12,428.24 L413.21,428.64 L411.37,429.1 L409.6,429.63 L407.91,430.22 L406.3,430.86 L404.79,431.56 L403.38,432.31 L402.08,433.11 L400.89,433.96 L399.83,434.84 L398.9,435.76" stroke="#f6a0a0" stroke-width="1.4" stroke-opacity="0.9" fill="none" stroke-linecap="round" stroke-linejoin="round"/>
<path d="M426.62,443.12 L426.62,473.87" stroke="#7c7cff" stroke-width="2.3" stroke-opacity="0.85" fill="none" stroke-linecap="butt"/>
<path d="M426.62,470.12 L426.62,474.23" stroke="#2020ff" stroke-width="1.8" stroke-opacity="0.9" fill="none" stroke-linecap="round"/>
<path d="M426.62,418.47 L426.62,443.12" stroke="#e488f4" stroke-width="3.4" stroke-opacity="1" fill="none" stroke-linecap="butt"/>
<path d="M426.62,410.02 L426.62,419.06" stroke="#0000e8" stroke-width="4" stroke-opacity="1" fill="none" stroke-linecap="round"/>
<circle cx="426.62" cy="409.55" r="0.7" fill="#8a8aff"/>
<path d="M396.44,439.91 L396.22,440.94 L396.15,441.98 L396.23,443.02 L396.45,444.05 L396.82,445.07 L397.34,446.08 L397.99,447.06 L398.79,448.02 L399.71,448.95 L400.77,449.84 L401.95,450.7 L403.25,451.51 L404.65,452.27 L406.17,452.98 L407.78,453.63 L409.48,454.23 L411.26,454.76 L413.11,455.23 L415.02,455.64 L416.99,455.97 L418.99,456.24 L421.03,456.43 L423.09,456.55 L425.17,456.6 L427.24,456.57 L429.31,456.47 L431.36,456.29 L433.37,456.05 L435.35,455.73 L437.28,455.35 L439.14,454.9 L440.94,454.38 L442.67,453.8" stroke="#38f0f0" stroke-width="3.4" stroke-opacity="1" fill="none" stroke-linecap="round" stroke-linejoin="round"/>
<path d="M398.22,437.49 C398.29,438.19 398.33,440.29 398.69,441.71 C399.04,443.14 399.55,444.73 400.33,446.06 C401.11,447.39 402.87,449.09 403.38,449.69" stroke="#ff2020" stroke-width="2.3" stroke-opacity="1" fill="none" stroke-linecap="round" stroke-linejoin="round"/>
<path d="M594.26,454.09 L594.26,385.83 M588.63,439.46 L628.04,473.59 M578.87,452.03 L578.87,383.77 M588.63,439.46 L520.36,459.17 M578.87,452.03 L618.28,486.16 M594.26,454.09 L525.99,473.79 M608.33,466.28 L608.33,398.02 M588.63,415.08 L628.04,449.21 M554.5,459.07 L554.5,390.8 M588.63,415.08 L520.36,434.79 M554.5,459.07 L593.91,493.2 M608.33,466.28 L540.07,485.98 M622.41,478.47 L622.41,410.21 M588.63,390.7 L628.04,424.83 M530.12,466.1 L530.12,397.84 M588.63,390.7 L520.36,410.41 M530.12,466.1 L569.53,500.23 M622.41,478.47 L554.14,498.17" stroke="#e3e3e3" stroke-width="0.75" fill="none"/>
<path d="M520.36,468.92 L520.36,400.66 M588.63,449.21 L588.63,380.95 M628.04,483.34 L628.04,415.08 M520.36,400.66 L588.63,380.95 M588.63,380.95 L628.04,415.08 M520.36,468.92 L559.77,503.05 M559.77,503.05 L628.04,483.34 M520.36,468.92 L588.63,449.21 M588.63,449.21 L628.04,483.34" stroke="#4a4a4a" stroke-width="0.9" fill="none" stroke-linejoin="miter"/>
<path d="M520.36,459.17 L522.32,458.6 M525.99,473.79 L527.95,473.23 M618.28,486.16 L617.16,485.18 M520.36,434.79 L522.32,434.22 M540.07,485.98 L542.02,485.42 M593.91,493.2 L592.78,492.22 M520.36,410.41 L522.32,409.85 M554.14,498.17 L556.1,497.61 M569.53,500.23 L568.4,499.26" stroke="#333" stroke-width="0.9" fill="none"/>
<text x="515.56" y="412.01" text-anchor="end" font-size="9.6" fill="#262626">1</text>
<text x="515.56" y="436.39" text-anchor="end" font-size="9.6" fill="#262626">0</text>
<text x="515.56" y="460.77" text-anchor="end" font-size="9.6" fill="#262626">-1</text>
<text x="516.79" y="484.19" text-anchor="middle" font-size="9.6" fill="#262626">-1</text>
<text x="530.87" y="496.38" text-anchor="middle" font-size="9.6" fill="#262626">0</text>
<text x="544.94" y="508.57" text-anchor="middle" font-size="9.6" fill="#262626">1</text>
<text x="575.03" y="512.73" text-anchor="middle" font-size="9.6" fill="#262626">1</text>
<text x="599.41" y="505.7" text-anchor="middle" font-size="9.6" fill="#262626">0</text>
<text x="623.78" y="498.66" text-anchor="middle" font-size="9.6" fill="#262626">-1</text>
<text transform="translate(504.56,434.99) rotate(-90)" text-anchor="middle" font-size="11" fill="#333">y</text>
<text x="525.57" y="518.98" text-anchor="middle" font-size="11" fill="#333">x</text>
<text x="601.41" y="521.7" text-anchor="middle" font-size="11" fill="#333">u</text>
<circle cx="574.2" cy="442" r="28.15" fill="url(#sph)"/><circle cx="574.2" cy="442" r="28.15" fill="url(#sphl)"/>
<path d="M597.82,434.62 L596.72,433.75 L595.51,432.92 L594.18,432.13 L592.75,431.39 L591.21,430.7 L589.58,430.07 L587.87,429.5 L586.08,428.98 L584.23,428.54 L582.31,428.16 L580.35,427.84 L578.34,427.6 L576.31,427.43 L574.26,427.33 L572.2,427.3 L570.14,427.35 L568.09,427.46 L566.06,427.65 L564.07,427.91 L562.12,428.24 L560.21,428.64 L558.37,429.1 L556.6,429.63 L554.91,430.22 L553.3,430.86 L551.79,431.56 L550.38,432.31 L549.08,433.11 L547.89,433.96 L546.83,434.84 L545.9,435.76" stroke="#f6a0a0" stroke-width="1.4" stroke-opacity="0.9" fill="none" stroke-linecap="round" stroke-linejoin="round"/>
<path d="M573.97,441.36 L573.97,470.7" stroke="#7474ff" stroke-width="3.8" stroke-opacity="1" fill="none" stroke-linecap="butt"/>
<path d="M573.97,470.12 L573.97,473.87" stroke="#0000ff" stroke-width="3.8" stroke-opacity="1" fill="none" stroke-linecap="round"/>
<path d="M573.97,418.47 L573.97,441.36" stroke="#ff88ff" stroke-width="3.8" stroke-opacity="1" fill="none" stroke-linecap="butt"/>
<path d="M573.97,412.37 L573.97,419.06" stroke="#e800e8" stroke-width="3.9" stroke-opacity="1" fill="none" stroke-linecap="round"/>
<path d="M543.44,439.91 L543.22,440.94 L543.15,441.98 L543.23,443.02 L543.45,444.05 L543.82,445.07 L544.34,446.08 L544.99,447.06 L545.79,448.02 L546.71,448.95 L547.77,449.84 L548.95,450.7 L550.25,451.51 L551.65,452.27 L553.17,452.98 L554.78,453.63 L556.48,454.23 L558.26,454.76 L560.11,455.23 L562.02,455.64 L563.99,455.97 L565.99,456.24 L568.03,456.43 L570.09,456.55 L572.17,456.6 L574.24,456.57 L576.31,456.47 L578.36,456.29 L580.37,456.05 L582.35,455.73 L584.28,455.35 L586.14,454.9 L587.94,454.38 L589.67,453.8" stroke="#38f0f0" stroke-width="3.4" stroke-opacity="1" fill="none" stroke-linecap="round" stroke-linejoin="round"/>
<path d="M545.22,437.49 C545.29,438.19 545.33,440.29 545.69,441.71 C546.04,443.14 546.55,444.73 547.33,446.06 C548.11,447.39 549.87,449.09 550.38,449.69" stroke="#ff2020" stroke-width="2.3" stroke-opacity="1" fill="none" stroke-linecap="round" stroke-linejoin="round"/>
<text x="16.6" y="215" font-size="12" font-weight="bold">c</text>
<text x="16.7" y="389.9" font-size="11.6">d</text>
<text transform="translate(30.8,279) rotate(-90)" text-anchor="middle" font-size="10.4" fill="#111">q<tspan font-size="6.2" dx="0.3" dy="3.9">1234</tspan><tspan dy="-3.9"> = q</tspan><tspan font-size="6.2" dx="0.3" dy="3.9">12</tspan><tspan dy="-3.9">q</tspan><tspan font-size="6.2" dx="0.3" dy="3.9">34</tspan></text>
<text transform="translate(30.8,453.8) rotate(-90)" text-anchor="middle" font-size="10.4" fill="#111">-q<tspan font-size="6.2" dx="0.3" dy="3.9">1234</tspan><tspan dy="-3.9"> = −q</tspan><tspan font-size="6.2" dx="0.3" dy="3.9">12</tspan><tspan dy="-3.9">q</tspan><tspan font-size="6.2" dx="0.3" dy="3.9">34</tspan></text>
<path d="M21.8,589.45 H142.4" stroke="#4646ff" stroke-width="1.1" fill="none"/>
<path d="M21.8,619.55 H142.4" stroke="#ff3cff" stroke-width="1.1" fill="none"/>
<path d="M21.8,649.65 L22.81,649.65 L23.81,649.65 L24.82,649.65 L25.82,649.65 L26.83,649.65 L27.83,649.65 L28.84,649.65 L29.84,649.65 L30.85,649.65 L31.85,649.65 L32.86,649.65 L33.86,649.65 L34.87,649.65 L35.87,649.65 L36.88,649.65 L37.88,649.65 L38.88,649.65 L39.89,649.65 L40.89,649.65 L41.9,649.65 L42.91,649.65 L43.91,649.65 L44.91,649.65 L45.92,649.65 L46.93,649.65 L47.93,649.65 L48.93,649.65 L49.94,649.65 L50.95,649.65 L51.95,649.65 L52.95,649.65 L53.96,649.65 L54.97,649.65 L55.97,649.65 L56.97,649.65 L57.98,649.65 L58.98,649.65 L59.99,649.65 L61,649.65 L62,649.65 L63,649.65 L64.01,649.65 L65.02,649.65 L66.02,649.65 L67.02,649.65 L68.03,649.65 L69.03,649.65 L70.04,649.65 L71.05,649.65 L72.05,649.65 L73.05,649.65 L74.06,649.65 L75.06,649.65 L76.07,649.65 L77.08,649.65 L78.08,649.65 L79.08,649.65 L80.09,649.65 L81.09,649.65 L82.1,649.65 L83.1,649.65 L84.11,649.65 L85.11,649.65 L86.12,649.65 L87.12,649.65 L88.13,649.65 L89.13,649.65 L90.14,649.65 L91.14,649.65 L92.15,649.65 L93.16,649.65 L94.16,649.65 L95.16,649.65 L96.17,649.65 L97.17,649.65 L98.18,649.65 L99.19,649.65 L100.19,649.65 L101.19,649.65 L102.2,649.65 L103.2,649.65 L104.21,649.65 L105.21,649.65 L106.22,649.65 L107.22,649.65 L108.23,649.65 L109.23,649.65 L110.24,649.65 L111.24,649.65 L112.25,649.65 L113.25,649.65 L114.26,649.65 L115.27,649.65 L116.27,649.65 L117.27,649.65 L118.28,649.65 L119.28,649.65 L120.29,649.65 L121.29,649.65 L122.3,649.65 L123.3,649.65 L124.31,649.65 L125.31,649.65 L126.32,649.65 L127.32,649.65 L128.33,649.65 L129.34,649.65 L130.34,649.65 L131.34,649.65 L132.35,649.65 L133.36,649.65 L134.36,649.65 L135.37,649.65 L136.37,649.65 L137.38,649.65 L138.38,649.65 L139.38,649.65 L140.39,649.65 L141.4,649.65 L142.4,649.65" stroke="#3cf4f4" stroke-width="1.1" fill="none"/>
<path d="M21.8,679.75 L22.81,679.75 L23.81,679.75 L24.82,679.75 L25.82,679.75 L26.83,679.75 L27.83,679.75 L28.84,679.75 L29.84,679.75 L30.85,679.75 L31.85,679.75 L32.86,679.75 L33.86,679.75 L34.87,679.75 L35.87,679.75 L36.88,679.75 L37.88,679.75 L38.88,679.75 L39.89,679.75 L40.89,679.75 L41.9,679.75 L42.91,679.75 L43.91,679.75 L44.91,679.75 L45.92,679.75 L46.93,679.75 L47.93,679.75 L48.93,679.75 L49.94,679.75 L50.95,679.75 L51.95,679.75 L52.95,679.75 L53.96,679.75 L54.97,679.75 L55.97,679.75 L56.97,679.75 L57.98,679.75 L58.98,679.75 L59.99,679.75 L61,679.75 L62,679.75 L63,679.75 L64.01,679.75 L65.02,679.75 L66.02,679.75 L67.02,679.75 L68.03,679.75 L69.03,679.75 L70.04,679.75 L71.05,679.75 L72.05,679.75 L73.05,679.75 L74.06,679.75 L75.06,679.75 L76.07,679.75 L77.08,679.75 L78.08,679.75 L79.08,679.75 L80.09,679.75 L81.09,679.75 L82.1,679.75 L83.1,679.75 L84.11,679.75 L85.11,679.75 L86.12,679.75 L87.12,679.75 L88.13,679.75 L89.13,679.75 L90.14,679.75 L91.14,679.75 L92.15,679.75 L93.16,679.75 L94.16,679.75 L95.16,679.75 L96.17,679.75 L97.17,679.75 L98.18,679.75 L99.19,679.75 L100.19,679.75 L101.19,679.75 L102.2,679.75 L103.2,679.75 L104.21,679.75 L105.21,679.75 L106.22,679.75 L107.22,679.75 L108.23,679.75 L109.23,679.75 L110.24,679.75 L111.24,679.75 L112.25,679.75 L113.25,679.75 L114.26,679.75 L115.27,679.75 L116.27,679.75 L117.27,679.75 L118.28,679.75 L119.28,679.75 L120.29,679.75 L121.29,679.75 L122.3,679.75 L123.3,679.75 L124.31,679.75 L125.31,679.75 L126.32,679.75 L127.32,679.75 L128.33,679.75 L129.34,679.75 L130.34,679.75 L131.34,679.75 L132.35,679.75 L133.36,679.75 L134.36,679.75 L135.37,679.75 L136.37,679.75 L137.38,679.75 L138.38,679.75 L139.38,679.75 L140.39,679.75 L141.4,679.75 L142.4,679.75" stroke="#ff8080" stroke-width="1.4" fill="none"/>
<rect x="21.8" y="574.4" width="120.6" height="120.4" fill="none" stroke="#5a5a5a" stroke-width="1"/>
<path d="M21.8,694.8 v1.6 M21.8,574.4 v-1.6 M82.1,694.8 v1.6 M82.1,574.4 v-1.6 M142.4,694.8 v1.6 M142.4,574.4 v-1.6 M21.8,679.75 h-1.6 M142.4,679.75 h1.6 M21.8,649.65 h-1.6 M142.4,649.65 h1.6 M21.8,619.55 h-1.6 M142.4,619.55 h1.6 M21.8,589.45 h-1.6 M142.4,589.45 h1.6" stroke="#444" stroke-width="0.8" fill="none"/>
<text x="21.8" y="708.4" text-anchor="middle" font-size="9.8" fill="#333">-1</text>
<text x="82.1" y="708.4" text-anchor="middle" font-size="9.8" fill="#333">0</text>
<text x="142.4" y="708.4" text-anchor="middle" font-size="9.8" fill="#333">1</text>
<text x="82.1" y="721.8" text-anchor="middle" font-size="11.2" fill="#333">k (<tspan font-family="Liberation Serif">π</tspan>/a)</text>
<text x="82.1" y="566.5" text-anchor="middle" font-size="11.1" fill="#000">q<tspan font-size="9.1" dy="4.7">1234</tspan><tspan dy="-4.7">|w</tspan><tspan font-size="9.1" dy="4.7">AB</tspan><tspan dy="-4.7">=0.25</tspan></text>
<text x="17.5" y="683.25" text-anchor="end" font-size="9.8" fill="#333">1</text>
<text x="17.5" y="653.15" text-anchor="end" font-size="9.8" fill="#333">2</text>
<text x="17.5" y="623.05" text-anchor="end" font-size="9.8" fill="#333">3</text>
<text x="17.5" y="592.95" text-anchor="end" font-size="9.8" fill="#333">4</text>
<text transform="translate(7.9,634.9) rotate(-90)" text-anchor="middle" font-size="10.4" fill="#333">E</text>
<path d="M156.9,589.45 H277.5" stroke="#4646ff" stroke-width="1.1" fill="none"/>
<path d="M156.9,619.55 H277.5" stroke="#ff3cff" stroke-width="1.1" fill="none"/>
<path d="M156.9,649.65 L157.91,649.67 L158.91,649.71 L159.92,649.79 L160.92,649.9 L161.93,650.03 L162.93,650.2 L163.94,650.39 L164.94,650.61 L165.94,650.86 L166.95,651.13 L167.96,651.43 L168.96,651.75 L169.97,652.08 L170.97,652.43 L171.97,652.8 L172.98,653.18 L173.99,653.57 L174.99,653.96 L176,654.36 L177,654.75 L178,655.13 L179.01,655.5 L180.02,655.84 L181.02,656.16 L182.03,656.45 L183.03,656.7 L184.03,656.9 L185.04,657.05 L186.05,657.14 L187.05,657.17 L188.06,657.14 L189.06,657.05 L190.06,656.9 L191.07,656.7 L192.07,656.45 L193.08,656.16 L194.09,655.84 L195.09,655.5 L196.09,655.13 L197.1,654.75 L198.11,654.36 L199.11,653.96 L200.12,653.57 L201.12,653.18 L202.12,652.8 L203.13,652.43 L204.13,652.08 L205.14,651.75 L206.15,651.43 L207.15,651.13 L208.16,650.86 L209.16,650.61 L210.16,650.39 L211.17,650.2 L212.18,650.03 L213.18,649.9 L214.19,649.79 L215.19,649.71 L216.19,649.67 L217.2,649.65 L218.2,649.67 L219.21,649.71 L220.22,649.79 L221.22,649.9 L222.22,650.03 L223.23,650.2 L224.24,650.39 L225.24,650.61 L226.25,650.86 L227.25,651.13 L228.25,651.43 L229.26,651.75 L230.26,652.08 L231.27,652.43 L232.28,652.8 L233.28,653.18 L234.29,653.57 L235.29,653.96 L236.3,654.36 L237.3,654.75 L238.31,655.13 L239.31,655.5 L240.31,655.84 L241.32,656.16 L242.32,656.45 L243.33,656.7 L244.33,656.9 L245.34,657.05 L246.34,657.14 L247.35,657.17 L248.36,657.14 L249.36,657.05 L250.37,656.9 L251.37,656.7 L252.38,656.45 L253.38,656.16 L254.38,655.84 L255.39,655.5 L256.39,655.13 L257.4,654.75 L258.4,654.36 L259.41,653.96 L260.41,653.57 L261.42,653.18 L262.43,652.8 L263.43,652.43 L264.44,652.08 L265.44,651.75 L266.44,651.43 L267.45,651.13 L268.46,650.86 L269.46,650.61 L270.47,650.39 L271.47,650.2 L272.48,650.03 L273.48,649.9 L274.49,649.79 L275.49,649.71 L276.5,649.67 L277.5,649.65" stroke="#3cf4f4" stroke-width="1.1" fill="none"/>
<path d="M156.9,679.75 L157.91,679.73 L158.91,679.69 L159.92,679.61 L160.92,679.5 L161.93,679.37 L162.93,679.2 L163.94,679.01 L164.94,678.79 L165.94,678.54 L166.95,678.27 L167.96,677.97 L168.96,677.65 L169.97,677.32 L170.97,676.97 L171.97,676.6 L172.98,676.22 L173.99,675.83 L174.99,675.44 L176,675.04 L177,674.65 L178,674.27 L179.01,673.9 L180.02,673.56 L181.02,673.24 L182.03,672.95 L183.03,672.7 L184.03,672.5 L185.04,672.35 L186.05,672.26 L187.05,672.22 L188.06,672.26 L189.06,672.35 L190.06,672.5 L191.07,672.7 L192.07,672.95 L193.08,673.24 L194.09,673.56 L195.09,673.9 L196.09,674.27 L197.1,674.65 L198.11,675.04 L199.11,675.44 L200.12,675.83 L201.12,676.22 L202.12,676.6 L203.13,676.97 L204.13,677.32 L205.14,677.65 L206.15,677.97 L207.15,678.27 L208.16,678.54 L209.16,678.79 L210.16,679.01 L211.17,679.2 L212.18,679.37 L213.18,679.5 L214.19,679.61 L215.19,679.69 L216.19,679.73 L217.2,679.75 L218.2,679.73 L219.21,679.69 L220.22,679.61 L221.22,679.5 L222.22,679.37 L223.23,679.2 L224.24,679.01 L225.24,678.79 L226.25,678.54 L227.25,678.27 L228.25,677.97 L229.26,677.65 L230.26,677.32 L231.27,676.97 L232.28,676.6 L233.28,676.22 L234.29,675.83 L235.29,675.44 L236.3,675.04 L237.3,674.65 L238.31,674.27 L239.31,673.9 L240.31,673.56 L241.32,673.24 L242.32,672.95 L243.33,672.7 L244.33,672.5 L245.34,672.35 L246.34,672.26 L247.35,672.22 L248.36,672.26 L249.36,672.35 L250.37,672.5 L251.37,672.7 L252.38,672.95 L253.38,673.24 L254.38,673.56 L255.39,673.9 L256.39,674.27 L257.4,674.65 L258.4,675.04 L259.41,675.44 L260.41,675.83 L261.42,676.22 L262.43,676.6 L263.43,676.97 L264.44,677.32 L265.44,677.65 L266.44,677.97 L267.45,678.27 L268.46,678.54 L269.46,678.79 L270.47,679.01 L271.47,679.2 L272.48,679.37 L273.48,679.5 L274.49,679.61 L275.49,679.69 L276.5,679.73 L277.5,679.75" stroke="#ff2a2a" stroke-width="1.1" fill="none"/>
<rect x="156.9" y="574.4" width="120.6" height="120.4" fill="none" stroke="#5a5a5a" stroke-width="1"/>
<path d="M156.9,694.8 v1.6 M156.9,574.4 v-1.6 M217.2,694.8 v1.6 M217.2,574.4 v-1.6 M277.5,694.8 v1.6 M277.5,574.4 v-1.6 M156.9,679.75 h-1.6 M277.5,679.75 h1.6 M156.9,649.65 h-1.6 M277.5,649.65 h1.6 M156.9,619.55 h-1.6 M277.5,619.55 h1.6 M156.9,589.45 h-1.6 M277.5,589.45 h1.6" stroke="#444" stroke-width="0.8" fill="none"/>
<text x="156.9" y="708.4" text-anchor="middle" font-size="9.8" fill="#333">-1</text>
<text x="217.2" y="708.4" text-anchor="middle" font-size="9.8" fill="#333">0</text>
<text x="277.5" y="708.4" text-anchor="middle" font-size="9.8" fill="#333">1</text>
<text x="217.2" y="721.8" text-anchor="middle" font-size="11.2" fill="#333">k (<tspan font-family="Liberation Serif">π</tspan>/a)</text>
<text x="217.2" y="566.5" text-anchor="middle" font-size="11.1" fill="#000">q<tspan font-size="9.1" dy="4.7">1234</tspan><tspan dy="-4.7">|w</tspan><tspan font-size="9.1" dy="4.7">AB</tspan><tspan dy="-4.7">=0.125</tspan></text>
<path d="M292.3,589.45 H412.9" stroke="#4646ff" stroke-width="1.1" fill="none"/>
<path d="M292.3,619.55 H412.9" stroke="#ff3cff" stroke-width="1.1" fill="none"/>
<path d="M292.3,649.65 L293.31,649.67 L294.31,649.73 L295.31,649.84 L296.32,649.98 L297.32,650.16 L298.33,650.39 L299.34,650.65 L300.34,650.95 L301.35,651.29 L302.35,651.67 L303.36,652.08 L304.36,652.52 L305.37,653 L306.37,653.52 L307.38,654.06 L308.38,654.63 L309.38,655.23 L310.39,655.85 L311.39,656.5 L312.4,657.17 L313.41,657.87 L314.41,658.58 L315.42,659.31 L316.42,660.05 L317.43,660.8 L318.43,661.57 L319.44,662.35 L320.44,663.13 L321.44,663.91 L322.45,664.7 L323.46,663.91 L324.46,663.13 L325.47,662.35 L326.47,661.57 L327.48,660.8 L328.48,660.05 L329.49,659.31 L330.49,658.58 L331.5,657.87 L332.5,657.17 L333.5,656.5 L334.51,655.85 L335.51,655.23 L336.52,654.63 L337.52,654.06 L338.53,653.52 L339.54,653 L340.54,652.52 L341.55,652.08 L342.55,651.67 L343.56,651.29 L344.56,650.95 L345.56,650.65 L346.57,650.39 L347.57,650.16 L348.58,649.98 L349.59,649.84 L350.59,649.73 L351.6,649.67 L352.6,649.65 L353.61,649.67 L354.61,649.73 L355.62,649.84 L356.62,649.98 L357.62,650.16 L358.63,650.39 L359.63,650.65 L360.64,650.95 L361.64,651.29 L362.65,651.67 L363.66,652.08 L364.66,652.52 L365.67,653 L366.67,653.52 L367.68,654.06 L368.68,654.63 L369.69,655.23 L370.69,655.85 L371.69,656.5 L372.7,657.17 L373.71,657.87 L374.71,658.58 L375.72,659.31 L376.72,660.05 L377.73,660.8 L378.73,661.57 L379.74,662.35 L380.74,663.13 L381.75,663.91 L382.75,664.7 L383.75,663.91 L384.76,663.13 L385.76,662.35 L386.77,661.57 L387.77,660.8 L388.78,660.05 L389.79,659.31 L390.79,658.58 L391.8,657.87 L392.8,657.17 L393.81,656.5 L394.81,655.85 L395.81,655.23 L396.82,654.63 L397.82,654.06 L398.83,653.52 L399.84,653 L400.84,652.52 L401.85,652.08 L402.85,651.67 L403.86,651.29 L404.86,650.95 L405.87,650.65 L406.87,650.39 L407.88,650.16 L408.88,649.98 L409.88,649.84 L410.89,649.73 L411.89,649.67 L412.9,649.65" stroke="#3cf4f4" stroke-width="1.1" fill="none"/>
<path d="M292.3,679.75 L293.31,679.73 L294.31,679.67 L295.31,679.56 L296.32,679.42 L297.32,679.24 L298.33,679.01 L299.34,678.75 L300.34,678.45 L301.35,678.11 L302.35,677.73 L303.36,677.32 L304.36,676.88 L305.37,676.4 L306.37,675.88 L307.38,675.34 L308.38,674.77 L309.38,674.17 L310.39,673.55 L311.39,672.9 L312.4,672.22 L313.41,671.53 L314.41,670.82 L315.42,670.09 L316.42,669.35 L317.43,668.6 L318.43,667.83 L319.44,667.05 L320.44,666.27 L321.44,665.49 L322.45,664.7 L323.46,665.49 L324.46,666.27 L325.47,667.05 L326.47,667.83 L327.48,668.6 L328.48,669.35 L329.49,670.09 L330.49,670.82 L331.5,671.53 L332.5,672.22 L333.5,672.9 L334.51,673.55 L335.51,674.17 L336.52,674.77 L337.52,675.34 L338.53,675.88 L339.54,676.4 L340.54,676.88 L341.55,677.32 L342.55,677.73 L343.56,678.11 L344.56,678.45 L345.56,678.75 L346.57,679.01 L347.57,679.24 L348.58,679.42 L349.59,679.56 L350.59,679.67 L351.6,679.73 L352.6,679.75 L353.61,679.73 L354.61,679.67 L355.62,679.56 L356.62,679.42 L357.62,679.24 L358.63,679.01 L359.63,678.75 L360.64,678.45 L361.64,678.11 L362.65,677.73 L363.66,677.32 L364.66,676.88 L365.67,676.4 L366.67,675.88 L367.68,675.34 L368.68,674.77 L369.69,674.17 L370.69,673.55 L371.69,672.9 L372.7,672.22 L373.71,671.53 L374.71,670.82 L375.72,670.09 L376.72,669.35 L377.73,668.6 L378.73,667.83 L379.74,667.05 L380.74,666.27 L381.75,665.49 L382.75,664.7 L383.75,665.49 L384.76,666.27 L385.76,667.05 L386.77,667.83 L387.77,668.6 L388.78,669.35 L389.79,670.09 L390.79,670.82 L391.8,671.53 L392.8,672.22 L393.81,672.9 L394.81,673.55 L395.81,674.17 L396.82,674.77 L397.82,675.34 L398.83,675.88 L399.84,676.4 L400.84,676.88 L401.85,677.32 L402.85,677.73 L403.86,678.11 L404.86,678.45 L405.87,678.75 L406.87,679.01 L407.88,679.24 L408.88,679.42 L409.88,679.56 L410.89,679.67 L411.89,679.73 L412.9,679.75" stroke="#ff2a2a" stroke-width="1.1" fill="none"/>
<rect x="292.3" y="574.4" width="120.6" height="120.4" fill="none" stroke="#5a5a5a" stroke-width="1"/>
<path d="M292.3,694.8 v1.6 M292.3,574.4 v-1.6 M352.6,694.8 v1.6 M352.6,574.4 v-1.6 M412.9,694.8 v1.6 M412.9,574.4 v-1.6 M292.3,679.75 h-1.6 M412.9,679.75 h1.6 M292.3,649.65 h-1.6 M412.9,649.65 h1.6 M292.3,619.55 h-1.6 M412.9,619.55 h1.6 M292.3,589.45 h-1.6 M412.9,589.45 h1.6" stroke="#444" stroke-width="0.8" fill="none"/>
<text x="292.3" y="708.4" text-anchor="middle" font-size="9.8" fill="#333">-1</text>
<text x="352.6" y="708.4" text-anchor="middle" font-size="9.8" fill="#333">0</text>
<text x="412.9" y="708.4" text-anchor="middle" font-size="9.8" fill="#333">1</text>
<text x="352.6" y="721.8" text-anchor="middle" font-size="11.2" fill="#333">k (<tspan font-family="Liberation Serif">π</tspan>/a)</text>
<text x="352.6" y="566.5" text-anchor="middle" font-size="11.1" fill="#000">Gapless|w<tspan font-size="9.1" dy="4.7">AB</tspan><tspan dy="-4.7">=0</tspan></text>
<path d="M427.2,589.45 H547.8" stroke="#4646ff" stroke-width="1.1" fill="none"/>
<path d="M427.2,619.55 H547.8" stroke="#ff3cff" stroke-width="1.1" fill="none"/>
<path d="M427.2,649.65 L428.2,649.67 L429.21,649.71 L430.21,649.79 L431.22,649.9 L432.22,650.03 L433.23,650.2 L434.24,650.39 L435.24,650.61 L436.25,650.86 L437.25,651.13 L438.25,651.43 L439.26,651.75 L440.26,652.08 L441.27,652.43 L442.27,652.8 L443.28,653.18 L444.28,653.57 L445.29,653.96 L446.29,654.36 L447.3,654.75 L448.31,655.13 L449.31,655.5 L450.31,655.84 L451.32,656.16 L452.32,656.45 L453.33,656.7 L454.33,656.9 L455.34,657.05 L456.34,657.14 L457.35,657.17 L458.36,657.14 L459.36,657.05 L460.37,656.9 L461.37,656.7 L462.38,656.45 L463.38,656.16 L464.38,655.84 L465.39,655.5 L466.39,655.13 L467.4,654.75 L468.4,654.36 L469.41,653.96 L470.41,653.57 L471.42,653.18 L472.42,652.8 L473.43,652.43 L474.44,652.08 L475.44,651.75 L476.44,651.43 L477.45,651.13 L478.45,650.86 L479.46,650.61 L480.46,650.39 L481.47,650.2 L482.47,650.03 L483.48,649.9 L484.49,649.79 L485.49,649.71 L486.5,649.67 L487.5,649.65 L488.5,649.67 L489.51,649.71 L490.51,649.79 L491.52,649.9 L492.52,650.03 L493.53,650.2 L494.53,650.39 L495.54,650.61 L496.54,650.86 L497.55,651.13 L498.56,651.43 L499.56,651.75 L500.56,652.08 L501.57,652.43 L502.57,652.8 L503.58,653.18 L504.58,653.57 L505.59,653.96 L506.59,654.36 L507.6,654.75 L508.61,655.13 L509.61,655.5 L510.62,655.84 L511.62,656.16 L512.62,656.45 L513.63,656.7 L514.63,656.9 L515.64,657.05 L516.64,657.14 L517.65,657.17 L518.65,657.14 L519.66,657.05 L520.66,656.9 L521.67,656.7 L522.67,656.45 L523.68,656.16 L524.68,655.84 L525.69,655.5 L526.69,655.13 L527.7,654.75 L528.7,654.36 L529.71,653.96 L530.71,653.57 L531.72,653.18 L532.73,652.8 L533.73,652.43 L534.74,652.08 L535.74,651.75 L536.75,651.43 L537.75,651.13 L538.75,650.86 L539.76,650.61 L540.76,650.39 L541.77,650.2 L542.77,650.03 L543.78,649.9 L544.78,649.79 L545.79,649.71 L546.79,649.67 L547.8,649.65" stroke="#3cf4f4" stroke-width="1.1" fill="none"/>
<path d="M427.2,679.75 L428.2,679.73 L429.21,679.69 L430.21,679.61 L431.22,679.5 L432.22,679.37 L433.23,679.2 L434.24,679.01 L435.24,678.79 L436.25,678.54 L437.25,678.27 L438.25,677.97 L439.26,677.65 L440.26,677.32 L441.27,676.97 L442.27,676.6 L443.28,676.22 L444.28,675.83 L445.29,675.44 L446.29,675.04 L447.3,674.65 L448.31,674.27 L449.31,673.9 L450.31,673.56 L451.32,673.24 L452.32,672.95 L453.33,672.7 L454.33,672.5 L455.34,672.35 L456.34,672.26 L457.35,672.22 L458.36,672.26 L459.36,672.35 L460.37,672.5 L461.37,672.7 L462.38,672.95 L463.38,673.24 L464.38,673.56 L465.39,673.9 L466.39,674.27 L467.4,674.65 L468.4,675.04 L469.41,675.44 L470.41,675.83 L471.42,676.22 L472.42,676.6 L473.43,676.97 L474.44,677.32 L475.44,677.65 L476.44,677.97 L477.45,678.27 L478.45,678.54 L479.46,678.79 L480.46,679.01 L481.47,679.2 L482.47,679.37 L483.48,679.5 L484.49,679.61 L485.49,679.69 L486.5,679.73 L487.5,679.75 L488.5,679.73 L489.51,679.69 L490.51,679.61 L491.52,679.5 L492.52,679.37 L493.53,679.2 L494.53,679.01 L495.54,678.79 L496.54,678.54 L497.55,678.27 L498.56,677.97 L499.56,677.65 L500.56,677.32 L501.57,676.97 L502.57,676.6 L503.58,676.22 L504.58,675.83 L505.59,675.44 L506.59,675.04 L507.6,674.65 L508.61,674.27 L509.61,673.9 L510.62,673.56 L511.62,673.24 L512.62,672.95 L513.63,672.7 L514.63,672.5 L515.64,672.35 L516.64,672.26 L517.65,672.22 L518.65,672.26 L519.66,672.35 L520.66,672.5 L521.67,672.7 L522.67,672.95 L523.68,673.24 L524.68,673.56 L525.69,673.9 L526.69,674.27 L527.7,674.65 L528.7,675.04 L529.71,675.44 L530.71,675.83 L531.72,676.22 L532.73,676.6 L533.73,676.97 L534.74,677.32 L535.74,677.65 L536.75,677.97 L537.75,678.27 L538.75,678.54 L539.76,678.79 L540.76,679.01 L541.77,679.2 L542.77,679.37 L543.78,679.5 L544.78,679.61 L545.79,679.69 L546.79,679.73 L547.8,679.75" stroke="#ff2a2a" stroke-width="1.1" fill="none"/>
<rect x="427.2" y="574.4" width="120.6" height="120.4" fill="none" stroke="#5a5a5a" stroke-width="1"/>
<path d="M427.2,694.8 v1.6 M427.2,574.4 v-1.6 M487.5,694.8 v1.6 M487.5,574.4 v-1.6 M547.8,694.8 v1.6 M547.8,574.4 v-1.6 M427.2,679.75 h-1.6 M547.8,679.75 h1.6 M427.2,649.65 h-1.6 M547.8,649.65 h1.6 M427.2,619.55 h-1.6 M547.8,619.55 h1.6 M427.2,589.45 h-1.6 M547.8,589.45 h1.6" stroke="#444" stroke-width="0.8" fill="none"/>
<text x="427.2" y="708.4" text-anchor="middle" font-size="9.8" fill="#333">-1</text>
<text x="487.5" y="708.4" text-anchor="middle" font-size="9.8" fill="#333">0</text>
<text x="547.8" y="708.4" text-anchor="middle" font-size="9.8" fill="#333">1</text>
<text x="487.5" y="721.8" text-anchor="middle" font-size="11.2" fill="#333">k (<tspan font-family="Liberation Serif">π</tspan>/a)</text>
<text x="487.5" y="566.5" text-anchor="middle" font-size="11.1" fill="#000">-q<tspan font-size="9.1" dy="4.7">1234</tspan><tspan dy="-4.7">|w</tspan><tspan font-size="9.1" dy="4.7">AB</tspan><tspan dy="-4.7">=-0.125</tspan></text>
<path d="M562.4,589.45 H683" stroke="#4646ff" stroke-width="1.1" fill="none"/>
<path d="M562.4,619.55 H683" stroke="#ff3cff" stroke-width="1.1" fill="none"/>
<path d="M562.4,649.65 L563.4,649.65 L564.41,649.65 L565.41,649.65 L566.42,649.65 L567.42,649.65 L568.43,649.65 L569.43,649.65 L570.44,649.65 L571.44,649.65 L572.45,649.65 L573.45,649.65 L574.46,649.65 L575.47,649.65 L576.47,649.65 L577.48,649.65 L578.48,649.65 L579.49,649.65 L580.49,649.65 L581.5,649.65 L582.5,649.65 L583.5,649.65 L584.51,649.65 L585.51,649.65 L586.52,649.65 L587.52,649.65 L588.53,649.65 L589.53,649.65 L590.54,649.65 L591.54,649.65 L592.55,649.65 L593.55,649.65 L594.56,649.65 L595.56,649.65 L596.57,649.65 L597.57,649.65 L598.58,649.65 L599.59,649.65 L600.59,649.65 L601.6,649.65 L602.6,649.65 L603.61,649.65 L604.61,649.65 L605.62,649.65 L606.62,649.65 L607.62,649.65 L608.63,649.65 L609.63,649.65 L610.64,649.65 L611.64,649.65 L612.65,649.65 L613.65,649.65 L614.66,649.65 L615.66,649.65 L616.67,649.65 L617.67,649.65 L618.68,649.65 L619.68,649.65 L620.69,649.65 L621.69,649.65 L622.7,649.65 L623.7,649.65 L624.71,649.65 L625.71,649.65 L626.72,649.65 L627.72,649.65 L628.73,649.65 L629.74,649.65 L630.74,649.65 L631.75,649.65 L632.75,649.65 L633.75,649.65 L634.76,649.65 L635.76,649.65 L636.77,649.65 L637.77,649.65 L638.78,649.65 L639.78,649.65 L640.79,649.65 L641.79,649.65 L642.8,649.65 L643.8,649.65 L644.81,649.65 L645.81,649.65 L646.82,649.65 L647.82,649.65 L648.83,649.65 L649.83,649.65 L650.84,649.65 L651.85,649.65 L652.85,649.65 L653.86,649.65 L654.86,649.65 L655.87,649.65 L656.87,649.65 L657.88,649.65 L658.88,649.65 L659.88,649.65 L660.89,649.65 L661.89,649.65 L662.9,649.65 L663.9,649.65 L664.91,649.65 L665.91,649.65 L666.92,649.65 L667.92,649.65 L668.93,649.65 L669.93,649.65 L670.94,649.65 L671.94,649.65 L672.95,649.65 L673.95,649.65 L674.96,649.65 L675.96,649.65 L676.97,649.65 L677.98,649.65 L678.98,649.65 L679.99,649.65 L680.99,649.65 L682,649.65 L683,649.65" stroke="#3cf4f4" stroke-width="1.1" fill="none"/>
<path d="M562.4,679.75 L563.4,679.75 L564.41,679.75 L565.41,679.75 L566.42,679.75 L567.42,679.75 L568.43,679.75 L569.43,679.75 L570.44,679.75 L571.44,679.75 L572.45,679.75 L573.45,679.75 L574.46,679.75 L575.47,679.75 L576.47,679.75 L577.48,679.75 L578.48,679.75 L579.49,679.75 L580.49,679.75 L581.5,679.75 L582.5,679.75 L583.5,679.75 L584.51,679.75 L585.51,679.75 L586.52,679.75 L587.52,679.75 L588.53,679.75 L589.53,679.75 L590.54,679.75 L591.54,679.75 L592.55,679.75 L593.55,679.75 L594.56,679.75 L595.56,679.75 L596.57,679.75 L597.57,679.75 L598.58,679.75 L599.59,679.75 L600.59,679.75 L601.6,679.75 L602.6,679.75 L603.61,679.75 L604.61,679.75 L605.62,679.75 L606.62,679.75 L607.62,679.75 L608.63,679.75 L609.63,679.75 L610.64,679.75 L611.64,679.75 L612.65,679.75 L613.65,679.75 L614.66,679.75 L615.66,679.75 L616.67,679.75 L617.67,679.75 L618.68,679.75 L619.68,679.75 L620.69,679.75 L621.69,679.75 L622.7,679.75 L623.7,679.75 L624.71,679.75 L625.71,679.75 L626.72,679.75 L627.72,679.75 L628.73,679.75 L629.74,679.75 L630.74,679.75 L631.75,679.75 L632.75,679.75 L633.75,679.75 L634.76,679.75 L635.76,679.75 L636.77,679.75 L637.77,679.75 L638.78,679.75 L639.78,679.75 L640.79,679.75 L641.79,679.75 L642.8,679.75 L643.8,679.75 L644.81,679.75 L645.81,679.75 L646.82,679.75 L647.82,679.75 L648.83,679.75 L649.83,679.75 L650.84,679.75 L651.85,679.75 L652.85,679.75 L653.86,679.75 L654.86,679.75 L655.87,679.75 L656.87,679.75 L657.88,679.75 L658.88,679.75 L659.88,679.75 L660.89,679.75 L661.89,679.75 L662.9,679.75 L663.9,679.75 L664.91,679.75 L665.91,679.75 L666.92,679.75 L667.92,679.75 L668.93,679.75 L669.93,679.75 L670.94,679.75 L671.94,679.75 L672.95,679.75 L673.95,679.75 L674.96,679.75 L675.96,679.75 L676.97,679.75 L677.98,679.75 L678.98,679.75 L679.99,679.75 L680.99,679.75 L682,679.75 L683,679.75" stroke="#ff8080" stroke-width="1.4" fill="none"/>
<rect x="562.4" y="574.4" width="120.6" height="120.4" fill="none" stroke="#5a5a5a" stroke-width="1"/>
<path d="M562.4,694.8 v1.6 M562.4,574.4 v-1.6 M622.7,694.8 v1.6 M622.7,574.4 v-1.6 M683,694.8 v1.6 M683,574.4 v-1.6 M562.4,679.75 h-1.6 M683,679.75 h1.6 M562.4,649.65 h-1.6 M683,649.65 h1.6 M562.4,619.55 h-1.6 M683,619.55 h1.6 M562.4,589.45 h-1.6 M683,589.45 h1.6" stroke="#444" stroke-width="0.8" fill="none"/>
<text x="562.4" y="708.4" text-anchor="middle" font-size="9.8" fill="#333">-1</text>
<text x="622.7" y="708.4" text-anchor="middle" font-size="9.8" fill="#333">0</text>
<text x="683" y="708.4" text-anchor="middle" font-size="9.8" fill="#333">1</text>
<text x="622.7" y="721.8" text-anchor="middle" font-size="11.2" fill="#333">k (<tspan font-family="Liberation Serif">π</tspan>/a)</text>
<text x="622.7" y="566.5" text-anchor="middle" font-size="11.1" fill="#000">-q<tspan font-size="9.1" dy="4.7">1234</tspan><tspan dy="-4.7">|w</tspan><tspan font-size="9.1" dy="4.7">AB</tspan><tspan dy="-4.7">=-0.25</tspan></text>
<text x="16.7" y="557" font-size="12" font-weight="bold">e</text>
<path d="M44.6,23.4 L123.6,23.4 L104,72 L24.9,72 Z" fill="#f0f0f0" stroke="#ff5c5c" stroke-width="0.95"/>
<path d="M74,47.5 V9.4 M71.6,11.9 L74,9.2 L76.4,11.9" stroke="#f7a8a8" stroke-width="1" fill="none"/>
<path d="M51.1,47.6 L51.13,48.26 L51.22,48.92 L51.38,49.58 L51.59,50.23 L51.86,50.88 L52.2,51.52 L52.59,52.15 L53.04,52.76 L53.54,53.37 L54.1,53.95 L54.72,54.53 L55.38,55.08 L56.1,55.62 L56.86,56.14 L57.68,56.63 L58.53,57.1 L59.43,57.55 L60.37,57.97 L61.35,58.37 L62.36,58.74 L63.41,59.08 L64.49,59.39 L65.59,59.68 L66.72,59.93 L67.87,60.15 L69.04,60.34 L70.22,60.5 L71.42,60.62 L72.63,60.71 L73.85,60.77 L75.07,60.8 L76.29,60.79 L77.5,60.75 L78.72,60.68 L79.92,60.57 L81.11,60.43 L82.29,60.26 L83.45,60.05 L84.59,59.82 L85.71,59.55 L86.8,59.26 L87.87,58.93 L88.9,58.58 L89.9,58.19 L90.86,57.79 L91.78,57.35 L92.66,56.89 L93.5,56.41 L94.29,55.91 L95.03,55.38 L95.73,54.83 L96.37,54.27 L96.96,53.69 L97.49,53.09 L97.97,52.49 L98.4,51.86 L98.76,51.23 L99.07,50.59 L99.32,49.94 L99.5,49.28 L99.63,48.63 L99.69,47.96 L99.69,47.3 L99.64,46.64 L99.52,45.98 L99.34,45.32 L99.1,44.67 L98.79,44.03 L98.44,43.4 L98.02,42.77 L97.54,42.16 L97.01,41.57 L96.43,40.98 L95.79,40.42 L95.1,39.87 L94.36,39.34 L93.57,38.84 L92.74,38.35 L91.87,37.89 L90.95,37.46 L89.99,37.04 L89,36.66 L87.97,36.3 L86.91,35.97 L85.82,35.67 L84.7,35.41 L83.56,35.17 L82.41,34.96 L81.23,34.79 L80.04,34.64" stroke="#ff2222" stroke-width="1.25" fill="none"/>
<path d="M75.4,34.4 L81.96,32.72 L81.14,34.86 L81.6,37.1 Z" fill="#ff2222"/>
<text x="82.2" y="51.2" text-anchor="middle" font-size="10.4" fill="#333">α</text>
<path d="M27.7,57.5 L21,74.3 L40,74.3" stroke="#222" stroke-width="0.7" fill="none"/>
<path d="M28,56.7 L27.93,60.12 L26.93,59.38 L25.7,59.23 Z" fill="#222"/>
<path d="M40.6,74.3 L37.4,75.5 L37.72,74.3 L37.4,73.1 Z" fill="#222"/>
<text x="28.8" y="55.9" text-anchor="middle" font-size="9.6" fill="#222">x</text>
<text x="44.8" y="78.3" text-anchor="middle" font-size="9.6" fill="#222">u</text>
<path d="M146.2,23.4 L225.2,23.4 L205.6,72 L126.5,72 Z" fill="#f0f0f0" stroke="#5a5aff" stroke-width="0.95"/>
<path d="M175.6,47.5 V9.4 M173.2,11.9 L175.6,9.2 L178,11.9" stroke="#5a5aff" stroke-width="1" fill="none"/>
<path d="M152.7,47.6 L152.73,48.26 L152.82,48.92 L152.98,49.58 L153.19,50.23 L153.46,50.88 L153.8,51.52 L154.19,52.15 L154.64,52.76 L155.14,53.37 L155.7,53.95 L156.32,54.53 L156.98,55.08 L157.7,55.62 L158.46,56.14 L159.28,56.63 L160.13,57.1 L161.03,57.55 L161.97,57.97 L162.95,58.37 L163.96,58.74 L165.01,59.08 L166.09,59.39 L167.19,59.68 L168.32,59.93 L169.47,60.15 L170.64,60.34 L171.82,60.5 L173.02,60.62 L174.23,60.71 L175.45,60.77 L176.67,60.8 L177.89,60.79 L179.1,60.75 L180.32,60.68 L181.52,60.57 L182.71,60.43 L183.89,60.26 L185.05,60.05 L186.19,59.82 L187.31,59.55 L188.4,59.26 L189.47,58.93 L190.5,58.58 L191.5,58.19 L192.46,57.79 L193.38,57.35 L194.26,56.89 L195.1,56.41 L195.89,55.91 L196.63,55.38 L197.33,54.83 L197.97,54.27 L198.56,53.69 L199.09,53.09 L199.57,52.49 L200,51.86 L200.36,51.23 L200.67,50.59 L200.92,49.94 L201.1,49.28 L201.23,48.63 L201.29,47.96 L201.29,47.3 L201.24,46.64 L201.12,45.98 L200.94,45.32 L200.7,44.67 L200.39,44.03 L200.04,43.4 L199.62,42.77 L199.14,42.16 L198.61,41.57 L198.03,40.98 L197.39,40.42 L196.7,39.87 L195.96,39.34 L195.17,38.84 L194.34,38.35 L193.47,37.89 L192.55,37.46 L191.59,37.04 L190.6,36.66 L189.57,36.3 L188.51,35.97 L187.42,35.67 L186.3,35.41 L185.16,35.17 L184.01,34.96 L182.83,34.79 L181.64,34.64" stroke="#2828ff" stroke-width="1.25" fill="none"/>
<path d="M177,34.4 L183.56,32.72 L182.74,34.86 L183.2,37.1 Z" fill="#2828ff"/>
<text x="183.8" y="51.2" text-anchor="middle" font-size="10.4" fill="#333">β</text>
<path d="M129.3,57.5 L122.6,74.3 L141.6,74.3" stroke="#222" stroke-width="0.7" fill="none"/>
<path d="M129.6,56.7 L129.53,60.12 L128.53,59.38 L127.3,59.23 Z" fill="#222"/>
<path d="M142.2,74.3 L139,75.5 L139.32,74.3 L139,73.1 Z" fill="#222"/>
<text x="130.4" y="55.9" text-anchor="middle" font-size="9.6" fill="#222">z</text>
<text x="146.4" y="78.3" text-anchor="middle" font-size="9.6" fill="#222">y</text>
<path d="M44.6,110.8 L123.6,110.8 L104,159.4 L24.9,159.4 Z" fill="#f0f0f0" stroke="#ff5c5c" stroke-width="0.95"/>
<path d="M74,134.9 V96.8 M71.6,99.3 L74,96.6 L76.4,99.3" stroke="#f7a8a8" stroke-width="1" fill="none"/>
<path d="M51.1,135 L51.13,135.66 L51.22,136.32 L51.38,136.98 L51.59,137.63 L51.86,138.28 L52.2,138.92 L52.59,139.55 L53.04,140.16 L53.54,140.77 L54.1,141.35 L54.72,141.93 L55.38,142.48 L56.1,143.02 L56.86,143.54 L57.68,144.03 L58.53,144.5 L59.43,144.95 L60.37,145.37 L61.35,145.77 L62.36,146.14 L63.41,146.48 L64.49,146.79 L65.59,147.08 L66.72,147.33 L67.87,147.55 L69.04,147.74 L70.22,147.9 L71.42,148.02 L72.63,148.11 L73.85,148.17 L75.07,148.2 L76.29,148.19 L77.5,148.15 L78.72,148.08 L79.92,147.97 L81.11,147.83 L82.29,147.66 L83.45,147.45 L84.59,147.22 L85.71,146.95 L86.8,146.66 L87.87,146.33 L88.9,145.98 L89.9,145.59 L90.86,145.19 L91.78,144.75 L92.66,144.29 L93.5,143.81 L94.29,143.31 L95.03,142.78 L95.73,142.23 L96.37,141.67 L96.96,141.09 L97.49,140.49 L97.97,139.89 L98.4,139.26 L98.76,138.63 L99.07,137.99 L99.32,137.34 L99.5,136.68 L99.63,136.03 L99.69,135.36 L99.69,134.7 L99.64,134.04 L99.52,133.38 L99.34,132.72 L99.1,132.07 L98.79,131.43 L98.44,130.8 L98.02,130.17 L97.54,129.56 L97.01,128.97 L96.43,128.38 L95.79,127.82 L95.1,127.27 L94.36,126.74 L93.57,126.24 L92.74,125.75 L91.87,125.29 L90.95,124.86 L89.99,124.44 L89,124.06 L87.97,123.7 L86.91,123.37 L85.82,123.07 L84.7,122.81 L83.56,122.57 L82.41,122.36 L81.23,122.19 L80.04,122.04" stroke="#ff2222" stroke-width="1.25" fill="none"/>
<path d="M75.4,121.8 L81.96,120.12 L81.14,122.26 L81.6,124.5 Z" fill="#ff2222"/>
<path d="M27.7,144.9 L21,161.7 L40,161.7" stroke="#222" stroke-width="0.7" fill="none"/>
<path d="M28,144.1 L27.93,147.52 L26.93,146.78 L25.7,146.63 Z" fill="#222"/>
<path d="M40.6,161.7 L37.4,162.9 L37.72,161.7 L37.4,160.5 Z" fill="#222"/>
<text x="28.8" y="143.3" text-anchor="middle" font-size="9.6" fill="#222">x</text>
<text x="44.8" y="165.7" text-anchor="middle" font-size="9.6" fill="#222">u</text>
<path d="M146.2,110.8 L225.2,110.8 L205.6,159.4 L126.5,159.4 Z" fill="#f0f0f0" stroke="#5a5aff" stroke-width="0.95"/>
<path d="M175.6,134.9 V96.8 M173.2,99.3 L175.6,96.6 L178,99.3" stroke="#5a5aff" stroke-width="1" fill="none"/>
<path d="M178.7,121.83 L179.81,121.89 L180.92,121.97 L182.02,122.09 L183.12,122.22 L184.19,122.39 L185.26,122.59 L186.3,122.81 L187.33,123.05 L188.33,123.32 L189.31,123.62 L190.27,123.94 L191.19,124.28 L192.09,124.65 L192.95,125.04 L193.78,125.45 L194.57,125.88 L195.33,126.33 L196.04,126.8 L196.72,127.29 L197.35,127.79 L197.94,128.31 L198.49,128.84 L198.99,129.38 L199.44,129.94 L199.85,130.51 L200.21,131.09 L200.52,131.67 L200.77,132.27 L200.98,132.86 L201.14,133.47 L201.24,134.07 L201.29,134.68 L201.29,135.29 L201.24,135.9 L201.14,136.51 L200.99,137.11 L200.78,137.71 L200.53,138.3 L200.22,138.89 L199.87,139.47 L199.46,140.03 L199.01,140.59 L198.51,141.14 L197.97,141.67 L197.38,142.19 L196.75,142.69 L196.07,143.18 L195.36,143.65 L194.6,144.1 L193.81,144.53 L192.98,144.94 L192.12,145.33 L191.23,145.7 L190.31,146.05 L189.35,146.37 L188.37,146.66 L187.37,146.94 L186.35,147.18 L185.3,147.41 L184.24,147.6 L183.16,147.77 L182.07,147.91 L180.97,148.02 L179.86,148.11 L178.74,148.17 L177.62,148.2 L176.5,148.2 L175.38,148.17 L174.26,148.12 L173.15,148.03 L172.05,147.92 L170.96,147.79 L169.88,147.62 L168.81,147.43 L167.77,147.21 L166.74,146.97 L165.73,146.7 L164.75,146.4 L163.8,146.08 L162.87,145.74 L161.97,145.37 L161.11,144.99 L160.28,144.58 L159.48,144.15 L158.72,143.7 L158,143.23 L157.32,142.75 L156.69,142.24 L156.09,141.73 L155.54,141.2" stroke="#2828ff" stroke-width="1.25" fill="none"/>
<path d="M153.2,135.1 L157.15,140.6 L154.86,140.62 L152.93,141.86 Z" fill="#2828ff"/>
<path d="M129.3,144.9 L122.6,161.7 L141.6,161.7" stroke="#222" stroke-width="0.7" fill="none"/>
<path d="M129.6,144.1 L129.53,147.52 L128.53,146.78 L127.3,146.63 Z" fill="#222"/>
<path d="M142.2,161.7 L139,162.9 L139.32,161.7 L139,160.5 Z" fill="#222"/>
<text x="130.4" y="143.3" text-anchor="middle" font-size="9.6" fill="#222">z</text>
<text x="146.4" y="165.7" text-anchor="middle" font-size="9.6" fill="#222">y</text>
<path d="M128.6,34.6 H134.9 M131.75,34.6 V28.2" stroke="#333" stroke-width="0.8" fill="none"/>
<path d="M128.6,122 H134.9 M131.75,122 V115.6" stroke="#333" stroke-width="0.8" fill="none"/>
<text x="16.7" y="8.4" font-size="12" font-weight="bold">a</text>
<clipPath id="ts0"><path d="M310.21,82.15 L310.30,84.25 L310.50,86.35 L310.80,88.43 L311.21,90.49 L311.70,92.53 L312.31,94.53 L313.00,96.51 L313.78,98.44 L314.66,100.33 L315.61,102.17 L316.65,103.96 L317.77,105.69 L318.95,107.37 L320.20,108.98 L321.50,110.54 L322.87,112.03 L324.28,113.46 L325.74,114.83 L327.25,116.12 L328.78,117.37 L330.35,118.54 L331.96,119.64 L333.58,120.70 L335.24,121.67 L336.89,122.60 L338.57,123.47 L340.26,124.29 L341.96,125.04 L343.68,125.74 L345.40,126.38 L347.12,126.99 L348.84,127.54 L350.57,128.04 L352.31,128.49 L354.05,128.89 L355.78,129.25 L357.51,129.56 L359.25,129.84 L360.98,130.07 L362.71,130.26 L364.45,130.40 L366.18,130.53 L367.91,130.59 L369.64,130.62 L371.36,130.62 L373.09,130.59 L374.82,130.53 L376.55,130.40 L378.29,130.26 L380.02,130.07 L381.75,129.84 L383.49,129.56 L385.22,129.25 L386.95,128.89 L388.69,128.49 L390.43,128.04 L392.16,127.54 L393.88,126.99 L395.60,126.38 L397.32,125.74 L399.04,125.04 L400.74,124.29 L402.43,123.47 L404.11,122.60 L405.76,121.67 L407.42,120.70 L409.04,119.64 L410.65,118.54 L412.22,117.37 L413.75,116.12 L415.26,114.83 L416.72,113.46 L418.13,112.03 L419.50,110.54 L420.80,108.98 L422.05,107.37 L423.23,105.69 L424.35,103.96 L425.39,102.17 L426.34,100.33 L427.22,98.44 L428.00,96.51 L428.69,94.53 L429.30,92.53 L429.79,90.49 L430.20,88.43 L430.50,86.35 L430.70,84.25 L430.79,82.15 L430.79,80.05 L430.70,77.95 L430.50,75.85 L430.20,73.77 L429.79,71.71 L429.30,69.67 L428.69,67.67 L428.00,65.69 L427.22,63.76 L426.34,61.87 L425.39,60.03 L424.35,58.24 L423.23,56.51 L422.05,54.83 L420.80,53.22 L419.50,51.66 L418.13,50.17 L416.72,48.74 L415.26,47.37 L413.75,46.08 L412.22,44.83 L410.65,43.66 L409.04,42.56 L407.42,41.50 L405.76,40.53 L404.11,39.60 L402.43,38.73 L400.74,37.91 L399.04,37.16 L397.32,36.46 L395.60,35.82 L393.88,35.21 L392.16,34.66 L390.43,34.16 L388.69,33.71 L386.95,33.31 L385.22,32.95 L383.49,32.64 L381.75,32.36 L380.02,32.13 L378.29,31.94 L376.55,31.80 L374.82,31.67 L373.09,31.61 L371.36,31.58 L369.64,31.58 L367.91,31.61 L366.18,31.67 L364.45,31.80 L362.71,31.94 L360.98,32.13 L359.25,32.36 L357.51,32.64 L355.78,32.95 L354.05,33.31 L352.31,33.71 L350.57,34.16 L348.84,34.66 L347.12,35.21 L345.40,35.82 L343.68,36.46 L341.96,37.16 L340.26,37.91 L338.57,38.73 L336.89,39.60 L335.24,40.53 L333.58,41.50 L331.96,42.56 L330.35,43.66 L328.78,44.83 L327.25,46.08 L325.74,47.37 L324.28,48.74 L322.87,50.17 L321.50,51.66 L320.20,53.22 L318.95,54.83 L317.77,56.51 L316.65,58.24 L315.61,60.03 L314.66,61.87 L313.78,63.76 L313.00,65.69 L312.31,67.67 L311.70,69.67 L311.21,71.71 L310.80,73.77 L310.50,75.85 L310.30,77.95 L310.21,80.05 Z"/></clipPath>
<path d="M310.21,82.15 L310.30,84.25 L310.50,86.35 L310.80,88.43 L311.21,90.49 L311.70,92.53 L312.31,94.53 L313.00,96.51 L313.78,98.44 L314.66,100.33 L315.61,102.17 L316.65,103.96 L317.77,105.69 L318.95,107.37 L320.20,108.98 L321.50,110.54 L322.87,112.03 L324.28,113.46 L325.74,114.83 L327.25,116.12 L328.78,117.37 L330.35,118.54 L331.96,119.64 L333.58,120.70 L335.24,121.67 L336.89,122.60 L338.57,123.47 L340.26,124.29 L341.96,125.04 L343.68,125.74 L345.40,126.38 L347.12,126.99 L348.84,127.54 L350.57,128.04 L352.31,128.49 L354.05,128.89 L355.78,129.25 L357.51,129.56 L359.25,129.84 L360.98,130.07 L362.71,130.26 L364.45,130.40 L366.18,130.53 L367.91,130.59 L369.64,130.62 L371.36,130.62 L373.09,130.59 L374.82,130.53 L376.55,130.40 L378.29,130.26 L380.02,130.07 L381.75,129.84 L383.49,129.56 L385.22,129.25 L386.95,128.89 L388.69,128.49 L390.43,128.04 L392.16,127.54 L393.88,126.99 L395.60,126.38 L397.32,125.74 L399.04,125.04 L400.74,124.29 L402.43,123.47 L404.11,122.60 L405.76,121.67 L407.42,120.70 L409.04,119.64 L410.65,118.54 L412.22,117.37 L413.75,116.12 L415.26,114.83 L416.72,113.46 L418.13,112.03 L419.50,110.54 L420.80,108.98 L422.05,107.37 L423.23,105.69 L424.35,103.96 L425.39,102.17 L426.34,100.33 L427.22,98.44 L428.00,96.51 L428.69,94.53 L429.30,92.53 L429.79,90.49 L430.20,88.43 L430.50,86.35 L430.70,84.25 L430.79,82.15 L430.79,80.05 L430.70,77.95 L430.50,75.85 L430.20,73.77 L429.79,71.71 L429.30,69.67 L428.69,67.67 L428.00,65.69 L427.22,63.76 L426.34,61.87 L425.39,60.03 L424.35,58.24 L423.23,56.51 L422.05,54.83 L420.80,53.22 L419.50,51.66 L418.13,50.17 L416.72,48.74 L415.26,47.37 L413.75,46.08 L412.22,44.83 L410.65,43.66 L409.04,42.56 L407.42,41.50 L405.76,40.53 L404.11,39.60 L402.43,38.73 L400.74,37.91 L399.04,37.16 L397.32,36.46 L395.60,35.82 L393.88,35.21 L392.16,34.66 L390.43,34.16 L388.69,33.71 L386.95,33.31 L385.22,32.95 L383.49,32.64 L381.75,32.36 L380.02,32.13 L378.29,31.94 L376.55,31.80 L374.82,31.67 L373.09,31.61 L371.36,31.58 L369.64,31.58 L367.91,31.61 L366.18,31.67 L364.45,31.80 L362.71,31.94 L360.98,32.13 L359.25,32.36 L357.51,32.64 L355.78,32.95 L354.05,33.31 L352.31,33.71 L350.57,34.16 L348.84,34.66 L347.12,35.21 L345.40,35.82 L343.68,36.46 L341.96,37.16 L340.26,37.91 L338.57,38.73 L336.89,39.60 L335.24,40.53 L333.58,41.50 L331.96,42.56 L330.35,43.66 L328.78,44.83 L327.25,46.08 L325.74,47.37 L324.28,48.74 L322.87,50.17 L321.50,51.66 L320.20,53.22 L318.95,54.83 L317.77,56.51 L316.65,58.24 L315.61,60.03 L314.66,61.87 L313.78,63.76 L313.00,65.69 L312.31,67.67 L311.70,69.67 L311.21,71.71 L310.80,73.77 L310.50,75.85 L310.30,77.95 L310.21,80.05 Z" fill="url(#tul)"/>
<g clip-path="url(#ts0)"><g filter="url(#tb)"><path fill="#ac6c43" d="M375.4 31.7l-5.1-.1 .0 .2 4.8 .2z"/><path fill="#ab6a41" d="M370.7 31.6l-5.1 .1 .3 .3 4.8-.2z"/><path fill="#aa6941" d="M366.1 31.7l-5.0 .5 .5 .2 4.8-.5z"/><path fill="#ac7047" d="M379.9 32.2l-5.0-.5-.3 .2 4.8 .5z"/><path fill="#ad754c" d="M384.5 32.9l-5.0-.8-.6 .2 4.8 .8z"/><path fill="#aa6942" d="M361.5 32.1l-5.0 .8 .8 .2 4.8-.8z"/><path fill="#ae7951" d="M388.9 33.8l-4.9-1.0-.8 .2 4.6 1.0z"/><path fill="#aa6943" d="M357.0 32.8l-4.9 1.0 1.1 .2 4.6-1.0z"/><path fill="#b07f58" d="M393.1 35.1l-4.7-1.4-1.0 .2 4.5 1.3z"/><path fill="#ab6945" d="M352.6 33.7l-4.7 1.4 1.2 .1 4.5-1.3z"/><path fill="#bb774a" d="M375.1 31.9l-4.8-.1 .0 .9 4.5 .2z"/><path fill="#bb7548" d="M370.7 31.8l-4.8 .1 .3 1.0 4.5-.2z"/><path fill="#bc7b4e" d="M379.4 32.3l-4.8-.4-.3 .9 4.5 .4z"/><path fill="#ba7448" d="M366.4 31.9l-4.8 .4 .6 .9 4.5-.4z"/><path fill="#b2845e" d="M397.2 36.6l-4.5-1.7-1.3 .1 4.3 1.6z"/><path fill="#ac6a47" d="M348.3 34.9l-4.5 1.7 1.5 .0 4.3-1.6z"/><path fill="#bd7f53" d="M383.7 33.0l-4.7-.7-.6 .9 4.4 .7z"/><path fill="#ba7349" d="M362.0 32.3l-4.7 .7 .9 .9 4.4-.7z"/><path fill="#be8459" d="M387.8 33.9l-4.6-1.0-.9 .9 4.4 .9z"/><path fill="#ba734a" d="M357.8 32.9l-4.6 1.0 1.1 .8 4.4-.9z"/><path fill="#ad6b4a" d="M344.2 36.4l-4.3 1.9 1.7 .0 4.1-1.9z"/><path fill="#b48a65" d="M401.1 38.3l-4.3-1.9-1.5 .0 4.1 1.9z"/><path fill="#a16348" d="M335.0 40.8l-4.0 2.6 1.8-.9 3.9-2.4z"/><path fill="#aa8c6d" d="M410.0 43.4l-4.0-2.6-1.7-.7 3.9 2.4z"/><path fill="#bf895f" d="M391.9 35.1l-4.5-1.3-1.2 .8 4.2 1.3z"/><path fill="#ba744c" d="M353.6 33.8l-4.5 1.3 1.5 .8 4.2-1.3z"/><path fill="#b6906d" d="M404.8 40.3l-4.1-2.2-1.8-.1 3.9 2.1z"/><path fill="#af6c4c" d="M340.3 38.1l-4.1 2.2 2.0-.2 3.9-2.1z"/><path fill="#c98152" d="M374.8 32.7l-4.5-.1 .0 1.6 4.2 .1z"/><path fill="#c97f50" d="M370.7 32.6l-4.5 .1 .3 1.6 4.2-.1z"/><path fill="#bb744e" d="M349.6 34.9l-4.3 1.6 1.7 .7 4.0-1.5z"/><path fill="#c08e66" d="M395.7 36.5l-4.3-1.6-1.4 .8 4.0 1.5z"/><path fill="#c87e51" d="M366.7 32.7l-4.5 .4 .6 1.6 4.2-.4z"/><path fill="#ca8557" d="M378.8 33.1l-4.5-.4-.3 1.6 4.2 .4z"/><path fill="#ca895b" d="M382.8 33.7l-4.4-.7-.7 1.6 4.1 .7z"/><path fill="#c87e51" d="M362.6 33.0l-4.4 .7 1.0 1.6 4.1-.7z"/><path fill="#fee2dc" d="M371.6 78.5l-1.2-.1 .0 2.0 1.4 .1z"/><path fill="#ffe1db" d="M370.6 78.4l-1.2 .1-.2 2.0 1.4-.1z"/><path fill="#fee2dc" d="M372.6 78.6l-1.2-.1 .1 2.0 1.4 .1z"/><path fill="#fee0d9" d="M369.6 78.5l-1.2 .1-.3 2.0 1.4-.1z"/><path fill="#fee3dd" d="M373.6 78.7l-1.2-.1 .2 2.0 1.4 .1z"/><path fill="#feded8" d="M368.6 78.6l-1.2 .1-.4 2.0 1.4-.1z"/><path fill="#a3654b" d="M331.4 43.1l-3.6 2.8 2.0-1.0 3.4-2.7z"/><path fill="#ac9276" d="M413.2 45.9l-3.6-2.8-1.8-.9 3.4 2.7z"/><path fill="#feddd7" d="M367.7 78.7l-1.2 .2-.6 2.1 1.3-.2z"/><path fill="#fee4de" d="M374.5 78.9l-1.2-.2 .5 2.1 1.3 .2z"/><path fill="#fee4df" d="M375.4 79.2l-1.1-.3 .6 2.1 1.3 .3z"/><path fill="#fedcd6" d="M366.7 78.9l-1.1 .3-.8 2.1 1.3-.3z"/><path fill="#c87e53" d="M358.6 33.6l-4.3 1.0 1.3 1.5 4.0-.9z"/><path fill="#cb8e61" d="M386.7 34.6l-4.3-1.0-1.0 1.6 4.0 .9z"/><path fill="#bc7551" d="M345.7 36.3l-4.1 1.9 2.0 .5 3.8-1.7z"/><path fill="#c2946d" d="M399.4 38.2l-4.1-1.9-1.7 .7 3.8 1.7z"/><path fill="#fedbd5" d="M365.8 79.2l-1.1 .3-.9 2.1 1.3-.3z"/><path fill="#fee5e0" d="M376.3 79.5l-1.1-.3 .7 2.1 1.3 .3z"/><path fill="#b99675" d="M408.2 42.5l-3.8-2.5-2.0-.2 3.6 2.4z"/><path fill="#b06d4f" d="M336.6 40.0l-3.8 2.5 2.2-.3 3.6-2.4z"/><path fill="#cc9367" d="M390.5 35.7l-4.2-1.2-1.3 1.4 3.9 1.2z"/><path fill="#c97e54" d="M354.7 34.5l-4.2 1.2 1.6 1.4 3.9-1.2z"/><path fill="#c49a74" d="M402.9 40.0l-3.9-2.1-2.0 .6 3.6 2.0z"/><path fill="#bd7654" d="M342.0 37.9l-3.9 2.1 2.3 .5 3.6-2.0z"/><path fill="#d68c5c" d="M374.5 34.1l-4.2-.1 .0 2.2 3.8 .1z"/><path fill="#d68a5a" d="M370.7 34.0l-4.2 .1 .4 2.2 3.8-.1z"/><path fill="#c97e56" d="M350.9 35.5l-4.0 1.5 1.9 1.3 3.8-1.4z"/><path fill="#ce986d" d="M394.1 37.0l-4.0-1.5-1.7 1.4 3.8 1.4z"/><path fill="#a6664e" d="M328.1 45.5l-3.3 3.1 2.2-1.1 3.1-2.9z"/><path fill="#b0997e" d="M416.2 48.6l-3.3-3.1-2.0-.9 3.1 2.9z"/><path fill="#d68f60" d="M378.2 34.5l-4.2-.4-.3 2.2 3.8 .4z"/><path fill="#d5895a" d="M367.0 34.1l-4.2 .4 .7 2.2 3.8-.4z"/><path fill="#d79365" d="M381.9 35.1l-4.1-.7-.7 2.2 3.7 .6z"/><path fill="#d5885b" d="M363.2 34.4l-4.1 .7 1.1 2.1 3.7-.6z"/><path fill="#fee0d9" d="M371.5 76.3l-1.1 .0 .0 2.6 1.2 .0z"/><path fill="#fedfd8" d="M370.6 76.3l-1.1 .0-.1 2.6 1.2 .0z"/><path fill="#fee0d9" d="M372.4 76.4l-1.1-.1 .1 2.6 1.2 .1z"/><path fill="#feded6" d="M369.7 76.3l-1.1 .1-.2 2.6 1.2-.1z"/><path fill="#b36f52" d="M333.1 42.1l-3.4 2.7 2.4-.3 3.3-2.6z"/><path fill="#bb9d7d" d="M411.3 44.8l-3.4-2.7-2.3-.2 3.3 2.6z"/><path fill="#fee1da" d="M373.3 76.6l-1.1-.2 .2 2.6 1.2 .1z"/><path fill="#feddd5" d="M368.8 76.4l-1.1 .2-.3 2.5 1.2-.1z"/><path fill="#fde1da" d="M374.2 76.8l-1.1-.2 .3 2.6 1.2 .2z"/><path fill="#fedcd4" d="M367.9 76.6l-1.1 .2-.4 2.6 1.2-.2z"/><path fill="#fde2db" d="M375.0 77.0l-1.0-.2 .4 2.6 1.1 .2z"/><path fill="#fedbd3" d="M367.0 76.8l-1.0 .2-.5 2.6 1.1-.2z"/><path fill="#d5885c" d="M359.5 34.9l-4.0 1.0 1.4 2.0 3.7-.8z"/><path fill="#d7976a" d="M385.5 35.9l-4.0-1.0-1.1 2.2 3.7 .8z"/><path fill="#ca7f59" d="M347.3 36.8l-3.8 1.8 2.2 1.1 3.5-1.6z"/><path fill="#cf9d74" d="M397.5 38.6l-3.8-1.8-1.9 1.3 3.5 1.6z"/><path fill="#fde3dc" d="M375.9 77.3l-1.0-.3 .4 2.6 1.1 .3z"/><path fill="#fedad3" d="M366.1 77.0l-1.0 .3-.5 2.6 1.1-.3z"/><path fill="#bf7756" d="M338.5 39.7l-3.6 2.4 2.5 .3 3.4-2.2z"/><path fill="#c6a07c" d="M406.1 42.1l-3.6-2.4-2.3 .5 3.4 2.2z"/><path fill="#fed9d2" d="M365.3 77.3l-.9 .3-.6 2.7 1.0-.3z"/><path fill="#fde3dd" d="M376.6 77.6l-.9-.3 .5 2.7 1.0 .3z"/><path fill="#d89c6f" d="M388.9 36.9l-3.8-1.2-1.4 2.1 3.5 1.1z"/><path fill="#d5885d" d="M355.9 35.7l-3.8 1.2 1.7 2.0 3.5-1.1z"/><path fill="#fde4de" d="M377.3 78.0l-.8-.3 .6 2.6 .9 .4z"/><path fill="#fed9d1" d="M364.5 77.7l-.8 .3-.7 2.7 .9-.4z"/><path fill="#fde5df" d="M378.0 78.5l-.8-.5 .7 2.8 .9 .4z"/><path fill="#fed8d1" d="M363.8 78.0l-.8 .5-.8 2.7 .9-.4z"/><path fill="#9d604d" d="M320.7 52.7l-2.5 3.5 1.9-1.7 2.5-3.4z"/><path fill="#a96851" d="M325.1 48.2l-2.9 3.2 2.4-1.2 2.7-3.1z"/><path fill="#b39f86" d="M418.8 51.4l-2.9-3.2-2.2-1.1 2.7 3.1z"/><path fill="#d1a37b" d="M400.7 40.3l-3.5-2.0-2.3 1.2 3.3 1.8z"/><path fill="#cb805b" d="M343.8 38.3l-3.5 2.0 2.5 1.0 3.3-1.8z"/><path fill="#e19667" d="M374.1 36.1l-3.8-.2 .0 2.8 3.5 .2z"/><path fill="#e19465" d="M370.7 35.9l-3.8 .2 .3 2.8 3.5-.2z"/><path fill="#fde6e0" d="M378.6 78.9l-.7-.4 .7 2.7 .8 .5z"/><path fill="#fed8d1" d="M363.1 78.5l-.7 .4-.8 2.8 .8-.5z"/><path fill="#b57055" d="M330.0 44.5l-3.1 2.9 2.6-.5 2.9-2.8z"/><path fill="#bea385" d="M414.1 47.4l-3.1-2.9-2.4-.4 2.9 2.8z"/><path fill="#d6885f" d="M352.4 36.7l-3.7 1.4 2.1 1.9 3.4-1.3z"/><path fill="#d9a175" d="M392.3 38.1l-3.7-1.4-1.8 2.0 3.4 1.3z"/><path fill="#e09365" d="M367.3 36.0l-3.8 .4 .7 2.8 3.4-.4z"/><path fill="#e19a6b" d="M377.5 36.4l-3.8-.4-.3 2.8 3.4 .4z"/><path fill="#e19d6f" d="M380.9 36.9l-3.8-.6-.7 2.8 3.4 .5z"/><path fill="#e09265" d="M363.9 36.3l-3.8 .6 1.1 2.7 3.4-.5z"/><path fill="#fdddd4" d="M371.5 73.7l-1.1 .0 .0 3.1 1.1 .0z"/><path fill="#fddcd3" d="M370.6 73.7l-1.1 .0 .0 3.1 1.1 .0z"/><path fill="#fdddd4" d="M372.4 73.8l-1.1-.1 .0 3.1 1.1 .1z"/><path fill="#fddbd2" d="M369.7 73.7l-1.1 .1 .0 3.1 1.1-.1z"/><path fill="#c9a684" d="M409.0 44.3l-3.2-2.6-2.5 .4 3.0 2.4z"/><path fill="#c17959" d="M335.2 41.7l-3.2 2.6 2.7 .2 3.0-2.4z"/><path fill="#fdded5" d="M373.2 74.0l-1.0-.2 .1 3.1 1.0 .1z"/><path fill="#fddad1" d="M368.8 73.8l-1.0 .2-.1 3.0 1.0-.1z"/><path fill="#fdded6" d="M374.1 74.1l-1.0-.1 .1 3.0 1.0 .2z"/><path fill="#fdd9d0" d="M367.9 74.0l-1.0 .1-.1 3.1 1.0-.2z"/><path fill="#fcdfd7" d="M374.9 74.4l-1.0-.3 .2 3.1 1.0 .3z"/><path fill="#fdd8cf" d="M367.1 74.1l-1.0 .3-.2 3.1 1.0-.3z"/><path fill="#e2a173" d="M384.1 37.7l-3.6-.9-1.1 2.7 3.3 .8z"/><path fill="#e09266" d="M360.5 36.8l-3.6 .9 1.4 2.6 3.3-.8z"/><path fill="#d68961" d="M349.1 37.9l-3.5 1.6 2.3 1.8 3.2-1.5z"/><path fill="#daa57c" d="M395.4 39.5l-3.5-1.6-2.0 1.9 3.2 1.5z"/><path fill="#fce0d7" d="M375.7 74.7l-.9-.3 .1 3.1 1.0 .3z"/><path fill="#fdd8cf" d="M366.2 74.4l-.9 .3-.2 3.1 1.0-.3z"/><path fill="#cc815e" d="M340.6 40.0l-3.3 2.2 2.7 .9 3.1-2.0z"/><path fill="#d2a882" d="M403.7 42.2l-3.3-2.2-2.5 1.1 3.1 2.0z"/><path fill="#fdd7ce" d="M365.4 74.7l-.9 .3-.2 3.1 1.0-.3z"/><path fill="#fce1d8" d="M376.5 75.0l-.9-.3 .1 3.1 1.0 .3z"/><path fill="#e2a578" d="M387.3 38.6l-3.5-1.1-1.5 2.7 3.2 .9z"/><path fill="#e09267" d="M357.2 37.5l-3.5 1.1 1.8 2.5 3.2-.9z"/><path fill="#fce1da" d="M377.2 75.4l-.9-.4 .2 3.1 .9 .4z"/><path fill="#fdd7ce" d="M364.7 75.0l-.9 .4-.2 3.1 .9-.4z"/><path fill="#fce2db" d="M377.8 75.8l-.7-.4 .2 3.1 .8 .4z"/><path fill="#fdd6ce" d="M363.9 75.4l-.7 .4-.3 3.1 .8-.4z"/><path fill="#b6a68f" d="M421.0 54.4l-2.4-3.4-2.4-1.2 2.3 3.3z"/><path fill="#ac6a54" d="M322.4 51.0l-2.4 3.4 2.5-1.3 2.3-3.3z"/><path fill="#b87258" d="M327.1 47.0l-2.7 3.1 2.8-.7 2.6-2.9z"/><path fill="#c1aa8e" d="M416.6 50.1l-2.7-3.1-2.7-.5 2.6 2.9z"/><path fill="#eba275" d="M373.8 38.5l-3.5-.1 .0 3.3 3.1 .1z"/><path fill="#eba073" d="M370.7 38.4l-3.5 .1 .4 3.3 3.1-.1z"/><path fill="#dbaa82" d="M398.4 41.1l-3.3-1.8-2.4 1.7 3.0 1.7z"/><path fill="#d78963" d="M345.9 39.3l-3.3 1.8 2.7 1.6 3.0-1.7z"/><path fill="#a16250" d="M318.3 55.8l-2.1 3.7 2.1-1.9 2.0-3.6z"/><path fill="#aba18f" d="M424.8 59.5l-2.1-3.7-2.0-1.8 2.0 3.6z"/><path fill="#eb9f72" d="M367.6 38.5l-3.4 .3 .7 3.3 3.1-.3z"/><path fill="#eba578" d="M376.8 38.8l-3.4-.3-.4 3.3 3.1 .3z"/><path fill="#e09269" d="M354.0 38.4l-3.3 1.3 2.1 2.4 3.0-1.1z"/><path fill="#e3a97e" d="M390.3 39.7l-3.3-1.3-1.8 2.6 3.0 1.1z"/><path fill="#fdd6cd" d="M363.3 75.8l-.7 .5-.3 3.1 .7-.5z"/><path fill="#fce3dc" d="M378.4 76.3l-.7-.5 .3 3.1 .7 .5z"/><path fill="#c37a5c" d="M332.2 44.0l-2.9 2.7 3.0 .0 2.7-2.6z"/><path fill="#cbac8c" d="M411.7 46.7l-2.9-2.7-2.8 .1 2.7 2.6z"/><path fill="#eba87b" d="M379.8 39.3l-3.3-.5-.8 3.2 3.0 .5z"/><path fill="#eb9e72" d="M364.5 38.8l-3.3 .5 1.1 3.2 3.0-.5z"/><path fill="#fcd9ce" d="M371.5 70.7l-1.1 .0 .0 3.5 1.1 .0z"/><path fill="#fcd8cd" d="M370.6 70.7l-1.1 .0 .0 3.5 1.1 .0z"/><path fill="#fcd9ce" d="M372.4 70.8l-1.0-.1-.1 3.5 1.1 .1z"/><path fill="#fcd7cc" d="M369.6 70.7l-1.0 .1 .0 3.5 1.1-.1z"/><path fill="#955a4b" d="M315.0 61.3l-1.7 3.8 1.6-2.3 1.6-3.8z"/><path fill="#9f9b8e" d="M427.7 65.1l-1.7-3.8-1.5-2.3 1.6 3.8z"/><path fill="#fcdacf" d="M373.3 70.9l-1.0-.1-.1 3.5 1.0 .1z"/><path fill="#fcd6cb" d="M368.7 70.8l-1.0 .1 .1 3.5 1.0-.1z"/><path fill="#fdd6cd" d="M362.7 76.3l-.7 .4-.3 3.2 .7-.5z"/><path fill="#fce4dd" d="M379.0 76.7l-.7-.4 .3 3.1 .7 .5z"/><path fill="#ce8261" d="M337.5 41.9l-3.0 2.4 3.1 .7 2.7-2.2z"/><path fill="#d4ae8a" d="M406.5 44.3l-3.0-2.4-2.8 .9 2.7 2.2z"/><path fill="#fcd5ca" d="M367.8 70.9l-1.0 .2 .1 3.5 1.0-.2z"/><path fill="#fbdbd0" d="M374.2 71.1l-1.0-.2-.1 3.5 1.0 .2z"/><path fill="#ebab7f" d="M382.8 40.0l-3.3-.8-1.1 3.2 2.9 .7z"/><path fill="#ea9d73" d="M361.5 39.2l-3.3 .8 1.5 3.1 2.9-.7z"/><path fill="#fbdbd0" d="M375.1 71.4l-1.0-.3-.2 3.5 1.0 .3z"/><path fill="#fcd5c9" d="M366.9 71.1l-1.0 .3 .2 3.5 1.0-.3z"/><path fill="#fdd5ce" d="M362.1 76.8l-.5 .5-.3 3.2 .5-.6z"/><path fill="#fde4de" d="M379.4 77.3l-.5-.5 .3 3.1 .5 .6z"/><path fill="#e1926a" d="M351.0 39.5l-3.2 1.5 2.4 2.3 2.9-1.4z"/><path fill="#e3ad84" d="M393.2 41.0l-3.2-1.5-2.1 2.4 2.9 1.4z"/><path fill="#fbdcd1" d="M375.9 71.7l-1.0-.3-.1 3.5 .9 .2z"/><path fill="#fcd4c9" d="M366.1 71.4l-1.0 .3 .2 3.4 .9-.2z"/><path fill="#885246" d="M312.6 67.3l-1.3 4.0 1.0-2.6 1.2-4.0z"/><path fill="#fcd3c8" d="M365.2 71.7l-.9 .3 .2 3.5 .9-.4z"/><path fill="#fbddd3" d="M376.7 72.0l-.9-.3-.2 3.4 .9 .4z"/><path fill="#d88a66" d="M342.9 40.9l-3.1 2.0 3.0 1.4 2.7-1.8z"/><path fill="#dcb089" d="M401.2 42.9l-3.1-2.0-2.6 1.6 2.7 1.8z"/><path fill="#ebae83" d="M385.6 40.8l-3.1-1.0-1.5 3.2 2.8 .8z"/><path fill="#ea9d73" d="M358.5 39.8l-3.1 1.0 1.8 3.0 2.8-.8z"/><path fill="#fde5df" d="M379.9 77.8l-.5-.5 .3 3.2 .5 .5z"/><path fill="#fdd5ce" d="M361.6 77.3l-.5 .5-.3 3.2 .5-.5z"/><path fill="#fbded4" d="M377.4 72.4l-.9-.4-.2 3.5 .9 .4z"/><path fill="#fcd3c8" d="M364.5 72.0l-.9 .4 .2 3.5 .9-.4z"/><path fill="#fab389" d="M373.4 41.4l-3.1-.1 .0 3.7 2.7 .1z"/><path fill="#fab287" d="M370.7 41.3l-3.1 .1 .4 3.7 2.7-.1z"/><path fill="#fdd5ce" d="M361.2 77.8l-.4 .6-.3 3.2 .4-.6z"/><path fill="#fde6e0" d="M380.2 78.4l-.4-.6 .3 3.2 .4 .6z"/><path fill="#fbdfd5" d="M378.1 72.8l-.8-.4-.3 3.5 .8 .4z"/><path fill="#fcd3c8" d="M363.7 72.4l-.8 .4 .3 3.5 .8-.4z"/><path fill="#fab086" d="M367.9 41.4l-3.0 .3 .7 3.7 2.7-.3z"/><path fill="#f9b58b" d="M376.1 41.7l-3.0-.3-.4 3.7 2.7 .3z"/><path fill="#ea9d74" d="M355.6 40.7l-3.0 1.1 2.2 2.9 2.7-1.0z"/><path fill="#ebb188" d="M388.4 41.8l-3.0-1.1-1.9 3.0 2.7 1.0z"/><path fill="#e4b289" d="M396.0 42.4l-3.0-1.6-2.5 2.3 2.7 1.5z"/><path fill="#e1936c" d="M348.0 40.8l-3.0 1.6 2.8 2.2 2.7-1.5z"/><path fill="#c4b096" d="M418.7 53.0l-2.3-3.3-2.8-.7 2.1 3.1z"/><path fill="#bb745c" d="M324.6 49.7l-2.3 3.3 3.0-.9 2.1-3.1z"/><path fill="#c67c60" d="M329.5 46.4l-2.5 2.9 3.2-.2 2.3-2.7z"/><path fill="#cdb294" d="M414.0 49.3l-2.5-2.9-3.0 .0 2.3 2.7z"/><path fill="#fad4c6" d="M371.6 67.3l-1.2 .0 .0 3.9 1.1 .0z"/><path fill="#fad3c5" d="M370.6 67.3l-1.2 .0 .1 3.9 1.1 .0z"/><path fill="#f8b78d" d="M378.8 42.1l-3.0-.5-.7 3.7 2.6 .4z"/><path fill="#f9af86" d="M365.2 41.6l-3.0 .5 1.1 3.6 2.6-.4z"/><path fill="#fad2c4" d="M369.6 67.3l-1.2 .1 .2 3.9 1.1-.1z"/><path fill="#fad5c7" d="M372.6 67.4l-1.2-.1-.1 3.9 1.1 .1z"/><path fill="#fcd2c8" d="M363.0 72.8l-.7 .5 .3 3.4 .7-.4z"/><path fill="#fbdfd6" d="M378.7 73.3l-.7-.5-.3 3.5 .7 .4z"/><path fill="#b06c58" d="M320.1 54.0l-1.9 3.5 2.6-1.5 1.9-3.4z"/><path fill="#baad98" d="M422.8 57.5l-1.9-3.5-2.6-1.4 1.9 3.4z"/><path fill="#fad5c7" d="M373.6 67.6l-1.2-.2-.1 3.9 1.0 .1z"/><path fill="#fad1c3" d="M368.6 67.4l-1.2 .2 .3 3.8 1.0-.1z"/><path fill="#d08364" d="M334.7 44.0l-2.7 2.6 3.3 .5 2.5-2.4z"/><path fill="#d6b492" d="M409.0 46.6l-2.7-2.6-3.1 .7 2.5 2.4z"/><path fill="#fad6c8" d="M374.5 67.8l-1.1-.2-.2 3.8 1.0 .2z"/><path fill="#fad1c2" d="M367.6 67.6l-1.1 .2 .3 3.8 1.0-.2z"/><path fill="#f8ae85" d="M362.5 42.0l-2.9 .7 1.4 3.5 2.6-.6z"/><path fill="#f7b990" d="M381.4 42.7l-2.9-.7-1.1 3.6 2.6 .6z"/><path fill="#fad7c9" d="M375.5 68.1l-1.1-.3-.4 3.8 1.0 .3z"/><path fill="#fad0c2" d="M366.6 67.8l-1.1 .3 .5 3.8 1.0-.3z"/><path fill="#fcd2c8" d="M362.4 73.3l-.7 .5 .3 3.4 .7-.5z"/><path fill="#fbe0d7" d="M379.3 73.8l-.7-.5-.3 3.4 .7 .5z"/><path fill="#a56453" d="M316.3 59.0l-1.5 3.8 2.2-2.0 1.5-3.7z"/><path fill="#afa898" d="M426.2 62.8l-1.5-3.8-2.2-1.9 1.5 3.7z"/><path fill="#deb590" d="M403.7 44.8l-2.8-2.2-2.9 1.4 2.5 2.1z"/><path fill="#d98b69" d="M340.1 42.6l-2.8 2.2 3.2 1.3 2.5-2.1z"/><path fill="#facfc1" d="M365.7 68.0l-1.1 .4 .6 3.8 .9-.4z"/><path fill="#fad8ca" d="M376.4 68.4l-1.1-.4-.4 3.8 .9 .4z"/><path fill="#ea9c76" d="M352.9 41.6l-2.9 1.4 2.5 2.7 2.5-1.2z"/><path fill="#ebb58d" d="M391.0 43.0l-2.9-1.4-2.1 2.9 2.5 1.2z"/><path fill="#f6bb93" d="M384.0 43.4l-2.8-.8-1.5 3.5 2.5 .8z"/><path fill="#f7ac85" d="M359.8 42.6l-2.8 .8 1.8 3.5 2.5-.8z"/><path fill="#fcd2c9" d="M361.8 73.8l-.6 .6 .4 3.4 .5-.6z"/><path fill="#fce1d9" d="M379.8 74.4l-.6-.6-.3 3.4 .5 .6z"/><path fill="#facfc1" d="M364.8 68.4l-1.0 .4 .6 3.7 .9-.4z"/><path fill="#fad9cc" d="M377.2 68.8l-1.0-.4-.5 3.7 .9 .4z"/><path fill="#e2936f" d="M345.3 42.2l-2.8 1.9 3.1 1.9 2.5-1.7z"/><path fill="#e5b690" d="M398.5 44.1l-2.8-1.9-2.8 2.1 2.5 1.7z"/><path fill="#ffcda6" d="M373.1 44.7l-2.7-.1 .0 4.1 2.3 .0z"/><path fill="#ffcca5" d="M370.6 44.6l-2.7 .1 .4 4.0 2.3 .0z"/><path fill="#995c4f" d="M313.4 64.7l-1.2 3.9 1.7-2.4 1.1-3.8z"/><path fill="#a3a196" d="M428.8 68.6l-1.2-3.9-1.6-2.3 1.1 3.8z"/><path fill="#ffcaa4" d="M368.2 44.7l-2.7 .2 .7 4.0 2.4-.2z"/><path fill="#ffcda7" d="M375.5 44.9l-2.7-.2-.4 4.0 2.4 .2z"/><path fill="#fadacd" d="M378.0 69.2l-.9-.5-.6 3.8 .8 .4z"/><path fill="#facec1" d="M363.9 68.7l-.9 .5 .7 3.7 .8-.4z"/><path fill="#facfbe" d="M371.7 63.7l-1.3-.1 .0 4.2 1.2 .0z"/><path fill="#facfbd" d="M370.6 63.6l-1.3 .1 .1 4.1 1.2 .0z"/><path fill="#fce2da" d="M380.2 74.9l-.5-.5-.3 3.4 .4 .5z"/><path fill="#fcd2c9" d="M361.3 74.4l-.5 .5 .4 3.4 .4-.5z"/><path fill="#f9d0bf" d="M372.8 63.8l-1.2-.1-.2 4.1 1.2 .1z"/><path fill="#f9cebc" d="M369.4 63.7l-1.2 .1 .2 4.1 1.2-.1z"/><path fill="#ffcca7" d="M377.8 45.3l-2.6-.4-.7 4.0 2.3 .3z"/><path fill="#ffc7a2" d="M365.8 44.9l-2.6 .4 1.0 3.9 2.3-.3z"/><path fill="#f9d1bf" d="M374.0 64.0l-1.3-.2-.3 4.1 1.1 .2z"/><path fill="#f9cdbb" d="M368.3 63.8l-1.3 .2 .5 4.1 1.1-.2z"/><path fill="#f5bc96" d="M386.4 44.3l-2.7-1.0-1.8 3.5 2.4 .9z"/><path fill="#f6ab85" d="M357.3 43.3l-2.7 1.0 2.1 3.4 2.4-.9z"/><path fill="#facec1" d="M363.1 69.2l-.9 .5 .8 3.6 .8-.4z"/><path fill="#fadbce" d="M378.8 69.7l-.9-.5-.7 3.7 .8 .4z"/><path fill="#f9ccba" d="M367.2 63.9l-1.3 .3 .6 4.1 1.1-.3z"/><path fill="#f9d1c0" d="M375.1 64.2l-1.3-.3-.4 4.1 1.1 .3z"/><path fill="#ebb892" d="M393.4 44.3l-2.7-1.5-2.4 2.7 2.4 1.4z"/><path fill="#ea9d77" d="M350.3 42.8l-2.7 1.5 2.7 2.6 2.4-1.4z"/><path fill="#ffcba6" d="M380.1 45.8l-2.5-.5-1.1 3.9 2.2 .5z"/><path fill="#ffc49f" d="M363.4 45.3l-2.5 .5 1.4 3.9 2.2-.5z"/><path fill="#979992" d="M430.3 74.9l-.7-4.1-1.0-2.6 .7 4.0z"/><path fill="#8d544a" d="M311.4 70.8l-.7 4.1 1.0-2.7 .7-4.0z"/><path fill="#fcd3c9" d="M360.9 74.9l-.4 .6 .3 3.4 .4-.6z"/><path fill="#fce3db" d="M380.5 75.5l-.4-.6-.3 3.4 .4 .6z"/><path fill="#f9d2c1" d="M376.1 64.5l-1.2-.3-.6 4.0 1.1 .3z"/><path fill="#f9cbb9" d="M366.1 64.2l-1.2 .3 .7 4.0 1.1-.3z"/><path fill="#d28567" d="M332.2 46.3l-2.3 2.7 3.4 .3 2.2-2.5z"/><path fill="#d8b999" d="M411.1 49.0l-2.3-2.7-3.3 .5 2.2 2.5z"/><path fill="#facec1" d="M362.4 69.6l-.8 .6 .8 3.6 .7-.5z"/><path fill="#fadcd0" d="M379.4 70.2l-.8-.6-.7 3.7 .7 .5z"/><path fill="#d0b89c" d="M416.0 52.0l-2.1-3.0-3.2-.3 2.0 2.9z"/><path fill="#c87e63" d="M327.1 49.0l-2.1 3.0 3.3-.4 2.0-2.9z"/><path fill="#ffe2c0" d="M372.7 48.3l-2.3-.1 .0 4.3 2.0 .0z"/><path fill="#ffe2c0" d="M370.6 48.2l-2.3 .1 .3 4.2 2.0 .0z"/><path fill="#f9cab9" d="M365.0 64.5l-1.1 .4 .8 4.0 1.0-.4z"/><path fill="#f8d3c2" d="M377.1 64.9l-1.1-.4-.7 4.0 1.0 .4z"/><path fill="#db8c6b" d="M337.5 44.5l-2.5 2.4 3.5 1.1 2.2-2.2z"/><path fill="#dfba97" d="M406.0 46.9l-2.5-2.4-3.2 1.3 2.2 2.2z"/><path fill="#ffcaa6" d="M382.4 46.5l-2.5-.7-1.4 3.8 2.2 .6z"/><path fill="#ffc09c" d="M361.1 45.8l-2.5 .7 1.7 3.7 2.2-.6z"/><path fill="#ffe0be" d="M368.5 48.3l-2.3 .2 .6 4.2 2.0-.2z"/><path fill="#ffe0be" d="M374.8 48.5l-2.3-.2-.3 4.2 2.0 .2z"/><path fill="#f5aa85" d="M354.8 44.2l-2.5 1.2 2.4 3.2 2.2-1.1z"/><path fill="#f4be99" d="M388.7 45.4l-2.5-1.2-2.1 3.3 2.2 1.1z"/><path fill="#be765f" d="M322.4 52.6l-1.9 3.4 3.2-1.1 1.7-3.2z"/><path fill="#c7b69f" d="M420.5 56.0l-1.9-3.4-3.0-.9 1.7 3.2z"/><path fill="#fdceb9" d="M371.9 59.9l-1.5-.1 .0 4.3 1.3 .1z"/><path fill="#fdceb8" d="M370.6 59.8l-1.5 .1 .2 4.3 1.3-.1z"/><path fill="#fcccb7" d="M369.2 59.9l-1.4 .1 .4 4.3 1.3-.1z"/><path fill="#fcceb9" d="M373.2 60.0l-1.4-.1-.3 4.3 1.3 .1z"/><path fill="#fdd3ca" d="M360.5 75.5l-.3 .6 .4 3.4 .3-.6z"/><path fill="#fce4dd" d="M380.8 76.1l-.3-.6-.4 3.4 .3 .6z"/><path fill="#ffddbb" d="M376.9 48.8l-2.3-.3-.7 4.2 2.0 .3z"/><path fill="#ffdbba" d="M366.4 48.5l-2.3 .3 1.0 4.2 2.0-.3z"/><path fill="#e39471" d="M342.7 43.8l-2.5 2.0 3.3 1.8 2.3-1.8z"/><path fill="#e6ba96" d="M400.8 45.8l-2.5-2.0-3.1 2.0 2.3 1.8z"/><path fill="#fbcec1" d="M361.7 70.1l-.8 .6 .9 3.6 .7-.5z"/><path fill="#faddd1" d="M380.1 70.7l-.8-.6-.8 3.7 .7 .5z"/><path fill="#f9c9b9" d="M364.0 64.9l-1.1 .4 1.0 3.9 1.0-.4z"/><path fill="#f8d4c4" d="M378.1 65.3l-1.1-.4-.9 3.9 1.0 .4z"/><path fill="#fbceb9" d="M374.5 60.2l-1.4-.2-.4 4.3 1.2 .1z"/><path fill="#fccbb5" d="M367.9 60.0l-1.4 .2 .6 4.2 1.2-.1z"/><path fill="#814d44" d="M310.4 77.2l-.2 4.1 .3-2.8 .3-4.1z"/><path fill="#f9ceb9" d="M375.8 60.5l-1.4-.3-.6 4.2 1.2 .3z"/><path fill="#fbc9b4" d="M366.6 60.2l-1.4 .3 .8 4.2 1.2-.3z"/><path fill="#ffe1c4" d="M372.4 52.1l-2.0-.1 .0 4.4 1.7 .0z"/><path fill="#ffe1c4" d="M370.6 52.0l-2.0 .1 .3 4.3 1.7 .0z"/><path fill="#b46e5b" d="M318.2 57.1l-1.5 3.6 2.8-1.6 1.4-3.5z"/><path fill="#bdb3a0" d="M424.3 60.7l-1.5-3.6-2.7-1.5 1.4 3.5z"/><path fill="#ffd6b5" d="M364.4 48.8l-2.3 .5 1.3 4.0 1.9-.4z"/><path fill="#ffd8b7" d="M378.9 49.3l-2.3-.5-.9 4.1 1.9 .4z"/><path fill="#ffd6bd" d="M372.1 56.0l-1.7-.1 .0 4.4 1.5 .0z"/><path fill="#ffd6bc" d="M370.6 55.9l-1.7 .1 .2 4.3 1.5 .0z"/><path fill="#ffdfc2" d="M374.2 52.2l-2.0-.1-.3 4.3 1.7 .2z"/><path fill="#ffdfc2" d="M368.8 52.1l-2.0 .1 .6 4.4 1.7-.2z"/><path fill="#ffc9a5" d="M384.5 47.3l-2.4-.9-1.7 3.7 2.1 .8z"/><path fill="#ffbc99" d="M358.9 46.4l-2.4 .9 2.0 3.6 2.1-.8z"/><path fill="#ea9d79" d="M347.8 44.1l-2.5 1.6 3.0 2.5 2.3-1.5z"/><path fill="#ecbc97" d="M395.7 45.7l-2.5-1.6-2.8 2.6 2.3 1.5z"/><path fill="#ffd4bb" d="M369.0 55.9l-1.7 .2 .5 4.4 1.5-.2z"/><path fill="#ffd5bc" d="M373.7 56.1l-1.7-.2-.3 4.4 1.5 .2z"/><path fill="#f8d5c5" d="M379.0 65.8l-1.0-.5-1.0 3.9 .9 .5z"/><path fill="#f9c9b8" d="M363.0 65.3l-1.0 .5 1.1 3.9 .9-.5z"/><path fill="#fdd3cb" d="M360.2 76.1l-.2 .7 .4 3.3 .2-.6z"/><path fill="#fce5de" d="M381.0 76.8l-.2-.7-.4 3.4 .2 .6z"/><path fill="#f8ceba" d="M377.0 60.8l-1.4-.4-.8 4.3 1.2 .3z"/><path fill="#f9c7b2" d="M365.4 60.4l-1.4 .4 1.0 4.2 1.2-.3z"/><path fill="#fbcec2" d="M361.0 70.7l-.6 .6 .9 3.6 .6-.6z"/><path fill="#faded3" d="M380.6 71.3l-.6-.6-.9 3.6 .6 .6z"/><path fill="#ffdbbe" d="M376.0 52.5l-2.0-.3-.6 4.3 1.7 .3z"/><path fill="#ffdabd" d="M367.0 52.2l-2.0 .3 .9 4.3 1.7-.3z"/><path fill="#ffd3ba" d="M375.2 56.3l-1.7-.2-.5 4.3 1.4 .3z"/><path fill="#ffd1b8" d="M367.5 56.1l-1.7 .2 .8 4.4 1.4-.3z"/><path fill="#ffd4b3" d="M380.8 49.8l-2.1-.6-1.3 4.1 1.8 .5z"/><path fill="#ffcfaf" d="M362.3 49.2l-2.1 .6 1.6 4.0 1.8-.5z"/><path fill="#f3c09c" d="M390.9 46.6l-2.4-1.4-2.4 3.2 2.1 1.2z"/><path fill="#f4a985" d="M352.5 45.2l-2.4 1.4 2.7 3.0 2.1-1.2z"/><path fill="#ffcdb4" d="M366.0 56.3l-1.7 .4 1.0 4.2 1.4-.3z"/><path fill="#ffd1b8" d="M376.7 56.7l-1.7-.4-.7 4.3 1.4 .3z"/><path fill="#ffd7ba" d="M377.7 52.9l-1.9-.4-.9 4.3 1.7 .3z"/><path fill="#ffd4b8" d="M365.2 52.5l-1.9 .4 1.1 4.2 1.7-.3z"/><path fill="#f9c5b1" d="M364.1 60.8l-1.3 .5 1.2 4.0 1.1-.3z"/><path fill="#f8cfbb" d="M378.2 61.3l-1.3-.5-1.0 4.2 1.1 .3z"/><path fill="#f8d6c7" d="M379.8 66.3l-.9-.5-1.1 3.8 .8 .5z"/><path fill="#f9c9b9" d="M362.1 65.8l-.9 .5 1.2 3.8 .8-.5z"/><path fill="#a96757" d="M314.7 62.4l-1.0 3.8 2.3-2.2 1.0-3.7z"/><path fill="#b3afa1" d="M427.3 66.2l-1.0-3.8-2.3-2.1 1.0 3.7z"/><path fill="#fce5df" d="M381.1 77.4l-.1-.6-.4 3.3 .1 .6z"/><path fill="#fadfd4" d="M381.1 71.9l-.6-.6-.9 3.5 .5 .6z"/><path fill="#fbcec2" d="M360.5 71.3l-.6 .6 1.0 3.5 .5-.6z"/><path fill="#fbc8a6" d="M386.5 48.2l-2.2-1.0-2.0 3.6 1.9 .9z"/><path fill="#ffb996" d="M356.7 47.2l-2.2 1.0 2.3 3.5 1.9-.9z"/><path fill="#fdcfb7" d="M378.1 57.1l-1.6-.5-1.0 4.3 1.4 .4z"/><path fill="#ffc9b0" d="M364.5 56.6l-1.6 .5 1.2 4.2 1.4-.4z"/><path fill="#ffd3b6" d="M379.4 53.4l-1.9-.5-1.1 4.2 1.6 .4z"/><path fill="#ffceb2" d="M363.5 52.9l-1.9 .5 1.4 4.1 1.6-.4z"/><path fill="#f8c4b0" d="M363.0 61.2l-1.3 .5 1.3 4.1 1.1-.5z"/><path fill="#f7d0bc" d="M379.3 61.7l-1.3-.5-1.1 4.1 1.1 .5z"/><path fill="#ffc8a8" d="M360.4 49.7l-2.1 .8 1.9 3.9 1.8-.7z"/><path fill="#ffcfb0" d="M382.7 50.5l-2.1-.8-1.6 4.0 1.8 .7z"/><path fill="#f9d7c9" d="M380.6 66.9l-.9-.6-1.2 3.8 .8 .5z"/><path fill="#f9c9b9" d="M361.3 66.3l-.9 .6 1.3 3.7 .8-.5z"/><path fill="#fdc5ad" d="M363.1 57.0l-1.6 .6 1.5 4.1 1.3-.5z"/><path fill="#faceb6" d="M379.5 57.6l-1.6-.6-1.2 4.2 1.3 .5z"/><path fill="#dc8e6e" d="M335.2 46.6l-2.2 2.5 3.7 .8 1.9-2.2z"/><path fill="#e1bf9e" d="M408.0 49.1l-2.2-2.5-3.4 1.1 1.9 2.2z"/><path fill="#e39574" d="M340.4 45.6l-2.3 2.1 3.6 1.6 2.0-2.0z"/><path fill="#e6bf9c" d="M402.9 47.7l-2.3-2.1-3.3 1.7 2.0 2.0z"/><path fill="#fbcec3" d="M360.0 71.9l-.4 .7 1.0 3.4 .4-.6z"/><path fill="#fbe0d6" d="M381.4 72.6l-.4-.7-1.0 3.5 .4 .6z"/><path fill="#fecfb4" d="M381.0 54.0l-1.8-.7-1.4 4.2 1.5 .5z"/><path fill="#ffc7ac" d="M361.8 53.3l-1.8 .7 1.7 4.0 1.5-.5z"/><path fill="#f7d1bd" d="M380.3 62.3l-1.1-.6-1.4 4.0 1.1 .6z"/><path fill="#f7c3b0" d="M361.8 61.7l-1.1 .6 1.4 4.0 1.1-.6z"/><path fill="#eb9d7b" d="M345.5 45.5l-2.3 1.8 3.3 2.3 2.1-1.6z"/><path fill="#ecc09c" d="M397.8 47.3l-2.3-1.8-3.1 2.5 2.1 1.6z"/><path fill="#dabfa1" d="M413.0 51.5l-2.0-2.8-3.5 .2 1.9 2.7z"/><path fill="#d4876a" d="M330.0 48.7l-2.0 2.8 3.6 .1 1.9-2.7z"/><path fill="#a7a89e" d="M429.4 72.2l-.6-4.0-1.7-2.4 .6 3.8z"/><path fill="#9e5f52" d="M312.2 68.2l-.6 4.0 1.7-2.6 .6-3.8z"/><path fill="#f3a885" d="M350.3 46.4l-2.2 1.5 3.0 2.8 1.9-1.3z"/><path fill="#f1c29f" d="M392.9 47.9l-2.2-1.5-2.7 3.0 1.9 1.3z"/><path fill="#f9c9b9" d="M360.5 66.9l-.8 .6 1.4 3.7 .7-.6z"/><path fill="#f9d9ca" d="M381.3 67.5l-.8-.6-1.3 3.7 .7 .6z"/><path fill="#ffc1a3" d="M358.5 50.4l-1.9 .9 2.1 3.8 1.7-.8z"/><path fill="#fcccad" d="M384.4 51.3l-1.9-.9-1.9 3.9 1.7 .8z"/><path fill="#f8c7a6" d="M388.4 49.2l-2.1-1.1-2.3 3.5 1.9 1.0z"/><path fill="#fcb594" d="M354.7 48.1l-2.1 1.1 2.5 3.4 1.9-1.0z"/><path fill="#f8cdb6" d="M380.8 58.2l-1.5-.7-1.4 4.2 1.2 .5z"/><path fill="#fac2aa" d="M361.7 57.5l-1.5 .7 1.7 4.0 1.2-.5z"/><path fill="#cb7f66" d="M325.1 51.7l-1.8 3.1 3.5-.6 1.6-3.0z"/><path fill="#d3bea5" d="M417.7 54.8l-1.8-3.1-3.3-.5 1.6 3.0z"/><path fill="#fec2a6" d="M360.2 53.9l-1.7 .8 1.9 3.9 1.5-.6z"/><path fill="#facdb2" d="M382.5 54.7l-1.7-.8-1.7 4.1 1.5 .6z"/><path fill="#f7c3af" d="M360.8 62.3l-1.1 .6 1.6 3.9 1.0-.6z"/><path fill="#f7d2bf" d="M381.3 62.9l-1.1-.6-1.5 3.9 1.0 .6z"/><path fill="#fbcfc4" d="M359.6 72.6l-.3 .6 1.0 3.4 .3-.6z"/><path fill="#fbe0d7" d="M381.7 73.2l-.3-.6-1.0 3.4 .3 .6z"/><path fill="#f9c9ba" d="M359.8 67.5l-.7 .7 1.5 3.6 .6-.6z"/><path fill="#f9dacc" d="M381.9 68.2l-.7-.7-1.4 3.7 .6 .6z"/><path fill="#f7cdb7" d="M382.0 58.8l-1.4-.7-1.6 4.0 1.2 .7z"/><path fill="#f8bfa8" d="M360.4 58.1l-1.4 .7 1.8 4.0 1.2-.7z"/><path fill="#c27863" d="M320.6 55.6l-1.4 3.4 3.2-1.3 1.3-3.2z"/><path fill="#cabda7" d="M421.8 59.0l-1.4-3.4-3.1-1.1 1.3 3.2z"/><path fill="#f6c9ab" d="M386.1 52.2l-1.8-1.0-2.2 3.8 1.6 .8z"/><path fill="#febc9e" d="M356.7 51.2l-1.8 1.0 2.4 3.6 1.6-.8z"/><path fill="#92574d" d="M310.6 74.5l-.1 4.0 1.1-2.8 .1-4.0z"/><path fill="#9ba09a" d="M430.5 78.5l-.1-4.0-1.1-2.8 .1 4.0z"/><path fill="#f7d3c1" d="M382.2 63.6l-1.0-.7-1.6 3.8 .8 .7z"/><path fill="#f7c3b0" d="M359.8 62.9l-1.0 .7 1.8 3.8 .8-.7z"/><path fill="#f7cbb1" d="M383.9 55.4l-1.6-.8-1.9 3.9 1.4 .8z"/><path fill="#fabda2" d="M358.7 54.6l-1.6 .8 2.1 3.9 1.4-.8z"/><path fill="#fccfc5" d="M359.3 73.2l-.3 .7 1.1 3.4 .3-.7z"/><path fill="#fbe1d8" d="M382.0 73.9l-.3-.7-1.1 3.4 .3 .7z"/><path fill="#f9b292" d="M352.7 49.1l-1.9 1.3 2.8 3.2 1.7-1.2z"/><path fill="#f5c7a7" d="M390.2 50.4l-1.9-1.3-2.6 3.3 1.7 1.2z"/><path fill="#f2a786" d="M348.2 47.7l-2.0 1.6 3.3 2.6 1.7-1.4z"/><path fill="#f0c4a3" d="M394.8 49.3l-2.0-1.6-3.0 2.8 1.7 1.4z"/><path fill="#f9dbce" d="M382.5 68.9l-.7-.7-1.5 3.5 .6 .7z"/><path fill="#f9c9bb" d="M359.2 68.2l-.7 .7 1.6 3.5 .6-.7z"/><path fill="#f7bea7" d="M359.1 58.8l-1.2 .8 2.0 3.8 1.1-.7z"/><path fill="#f6ceb8" d="M383.1 59.6l-1.2-.8-1.9 3.9 1.1 .7z"/><path fill="#eb9e7d" d="M343.4 47.1l-2.1 1.9 3.6 2.1 1.8-1.8z"/><path fill="#ecc3a1" d="M399.7 49.0l-2.1-1.9-3.3 2.2 1.8 1.8z"/><path fill="#b8715f" d="M316.7 60.4l-1.0 3.6 2.8-1.8 1.0-3.5z"/><path fill="#c1baa9" d="M425.3 64.0l-1.0-3.6-2.8-1.7 1.0 3.5z"/><path fill="#e59676" d="M338.3 47.5l-2.0 2.3 3.7 1.3 1.8-2.1z"/><path fill="#e7c3a2" d="M404.7 49.8l-2.0-2.3-3.5 1.5 1.8 2.1z"/><path fill="#f7c3b0" d="M358.9 63.6l-.9 .7 1.9 3.7 .8-.7z"/><path fill="#f7d4c3" d="M383.0 64.3l-.9-.7-1.8 3.7 .8 .7z"/><path fill="#f9b79a" d="M355.1 52.1l-1.8 1.1 2.7 3.5 1.5-1.0z"/><path fill="#f2c7aa" d="M387.7 53.2l-1.8-1.1-2.4 3.6 1.5 1.0z"/><path fill="#fbe2da" d="M382.1 74.6l-.2-.7-1.1 3.3 .2 .7z"/><path fill="#fcd0c6" d="M359.1 73.9l-.2 .7 1.1 3.3 .2-.7z"/><path fill="#f5cbb2" d="M385.3 56.3l-1.5-1.0-2.2 3.9 1.3 .8z"/><path fill="#f7baa0" d="M357.2 55.3l-1.5 1.0 2.4 3.7 1.3-.8z"/><path fill="#e2c4a5" d="M409.7 51.4l-1.8-2.6-3.7 .8 1.7 2.4z"/><path fill="#de8f72" d="M333.1 48.8l-1.8 2.6 3.8 .6 1.7-2.4z"/><path fill="#855048" d="M310.1 80.9l.3 4.1 .5-2.9-.4-4.1z"/><path fill="#8f9492" d="M430.6 85.0l.3-4.1-.4-2.9-.4 4.1z"/><path fill="#fac9bb" d="M358.6 68.9l-.5 .7 1.6 3.4 .5-.6z"/><path fill="#f9dccf" d="M382.9 69.6l-.5-.7-1.6 3.5 .5 .6z"/><path fill="#f6bda7" d="M358.0 59.5l-1.2 .9 2.2 3.6 1.0-.7z"/><path fill="#f6cfba" d="M384.2 60.4l-1.2-.9-2.0 3.8 1.0 .7z"/><path fill="#f2c7a8" d="M391.9 51.6l-1.8-1.4-2.9 3.2 1.6 1.2z"/><path fill="#f6af90" d="M350.9 50.2l-1.8 1.4 3.1 3.0 1.6-1.2z"/><path fill="#f8c3b1" d="M358.1 64.3l-.8 .8 2.0 3.6 .7-.8z"/><path fill="#f7d6c5" d="M383.7 65.1l-.8-.8-1.9 3.6 .7 .8z"/><path fill="#d6886e" d="M328.1 51.2l-1.7 2.9 3.8-.1 1.5-2.8z"/><path fill="#dcc4a9" d="M414.6 54.1l-1.7-2.9-3.6 .0 1.5 2.8z"/><path fill="#fcd0c7" d="M359.0 74.6l-.1 .7 1.1 3.2 .0-.6z"/><path fill="#fbe3db" d="M382.1 75.3l-.1-.7-1.0 3.3 .0 .6z"/><path fill="#b7b5a9" d="M428.0 69.7l-.6-3.9-2.3-2.2 .5 3.7z"/><path fill="#ae695a" d="M313.6 65.8l-.6 3.9 2.4-2.4 .5-3.7z"/><path fill="#f5b79e" d="M355.9 56.2l-1.4 1.0 2.6 3.6 1.1-.9z"/><path fill="#f4ccb3" d="M386.5 57.2l-1.4-1.0-2.3 3.7 1.1 .9z"/><path fill="#f1a687" d="M346.4 49.1l-1.9 1.7 3.5 2.4 1.6-1.5z"/><path fill="#efc6a7" d="M396.5 50.8l-1.9-1.7-3.2 2.6 1.6 1.5z"/><path fill="#f5b397" d="M353.5 53.1l-1.6 1.2 2.9 3.3 1.3-1.0z"/><path fill="#eec5aa" d="M389.1 54.3l-1.6-1.2-2.6 3.5 1.3 1.0z"/><path fill="#facabc" d="M358.2 69.6l-.4 .8 1.6 3.3 .4-.7z"/><path fill="#f9ddd1" d="M383.2 70.4l-.4-.8-1.6 3.4 .4 .7z"/><path fill="#f6bca7" d="M356.9 60.3l-1.0 .9 2.3 3.6 .9-.8z"/><path fill="#f5d1bc" d="M385.1 61.2l-1.0-.9-2.2 3.7 .9 .8z"/><path fill="#7d8284" d="M429.5 91.4l.9-4.1 .2-2.8-.8 4.1z"/><path fill="#ce826a" d="M323.4 54.5l-1.4 3.2 3.6-.8 1.3-3.1z"/><path fill="#d5c4ad" d="M419.0 57.7l-1.4-3.2-3.5-.7 1.3 3.1z"/><path fill="#fce4dc" d="M382.1 76.0l.0-.7-1.1 3.2 .0 .7z"/><path fill="#eb9e7f" d="M341.5 48.8l-1.8 2.1 3.7 1.8 1.6-1.9z"/><path fill="#ecc6a7" d="M401.3 50.9l-1.8-2.1-3.5 2.0 1.6 1.9z"/><path fill="#f7d7c7" d="M384.3 65.9l-.7-.8-2.0 3.5 .6 .7z"/><path fill="#f8c3b2" d="M357.4 65.1l-.7 .8 2.1 3.4 .6-.7z"/><path fill="#facabd" d="M357.8 70.4l-.3 .8 1.7 3.2 .3-.7z"/><path fill="#faded3" d="M383.5 71.2l-.3-.8-1.7 3.3 .3 .7z"/><path fill="#f4ad90" d="M349.3 51.4l-1.6 1.5 3.3 2.9 1.4-1.3z"/><path fill="#efc7aa" d="M393.3 52.9l-1.6-1.5-3.1 3.1 1.4 1.3z"/><path fill="#a36256" d="M311.5 71.8l-.1 4.0 1.7-2.7 .1-3.9z"/><path fill="#acaea7" d="M429.6 75.8l-.1-4.0-1.7-2.6 .1 3.9z"/><path fill="#f4b69e" d="M354.6 57.1l-1.2 1.1 2.7 3.4 1.1-.9z"/><path fill="#f3cdb5" d="M387.6 58.2l-1.2-1.1-2.6 3.6 1.1 .9z"/><path fill="#e8c7a9" d="M406.3 51.9l-1.7-2.4-3.8 1.3 1.5 2.2z"/><path fill="#e69779" d="M336.4 49.5l-1.7 2.4 4.0 1.1 1.5-2.2z"/><path fill="#f6bca8" d="M356.0 61.1l-1.0 1.0 2.5 3.4 .8-.8z"/><path fill="#f6d2bf" d="M386.0 62.1l-1.0-1.0-2.3 3.6 .8 .8z"/><path fill="#f2b095" d="M352.1 54.1l-1.4 1.3 3.0 3.2 1.2-1.1z"/><path fill="#ebc5ab" d="M390.3 55.4l-1.4-1.3-2.8 3.4 1.2 1.1z"/><path fill="#c67b66" d="M319.1 58.7l-.9 3.5 3.3-1.5 .9-3.3z"/><path fill="#cdc3b0" d="M422.8 62.2l-.9-3.5-3.3-1.3 .9 3.3z"/><path fill="#f8c3b3" d="M356.8 65.9l-.7 .9 2.3 3.3 .5-.8z"/><path fill="#f8d9c9" d="M384.9 66.8l-.7-.9-2.1 3.4 .5 .8z"/><path fill="#7b4a47" d="M312.3 93.5l1.2 4.0-.9-2.6-1.3-4.0z"/><path fill="#f0a688" d="M344.7 50.6l-1.6 1.8 3.6 2.2 1.5-1.6z"/><path fill="#eec8aa" d="M397.9 52.4l-1.6-1.8-3.5 2.4 1.5 1.6z"/><path fill="#fadfd5" d="M383.6 72.0l-.2-.9-1.7 3.2 .2 .8z"/><path fill="#fbcbbf" d="M357.6 71.1l-.2 .9 1.7 3.1 .2-.8z"/><path fill="#e09175" d="M331.4 51.2l-1.6 2.7 4.0 .3 1.4-2.5z"/><path fill="#e4c9ac" d="M411.2 53.9l-1.6-2.7-3.8 .5 1.4 2.5z"/><path fill="#f3b69e" d="M353.5 58.1l-1.1 1.2 2.9 3.2 1.0-1.0z"/><path fill="#f3ceb8" d="M388.6 59.3l-1.1-1.2-2.8 3.4 1.0 1.0z"/><path fill="#f6d4c1" d="M386.7 63.1l-.8-1.1-2.5 3.4 .7 .9z"/><path fill="#f6bda9" d="M355.1 62.0l-.8 1.1 2.6 3.2 .7-.9z"/><path fill="#975b51" d="M310.3 78.1l.4 4.1 1.2-2.9-.4-4.0z"/><path fill="#a0a5a1" d="M430.3 82.2l.4-4.1-1.2-2.8-.4 4.0z"/><path fill="#f8c4b4" d="M356.2 66.7l-.5 1.0 2.3 3.1 .4-.8z"/><path fill="#f8dacc" d="M385.3 67.7l-.5-1.0-2.2 3.3 .4 .8z"/><path fill="#f2ab8f" d="M347.8 52.8l-1.4 1.6 3.5 2.6 1.2-1.4z"/><path fill="#edc8ac" d="M394.6 54.4l-1.4-1.6-3.3 2.8 1.2 1.4z"/><path fill="#c5c0b2" d="M425.9 67.4l-.5-3.7-2.9-1.9 .6 3.5z"/><path fill="#bc7463" d="M315.6 63.7l-.5 3.7 2.8-2.1 .6-3.5z"/><path fill="#efae94" d="M350.8 55.3l-1.3 1.4 3.3 2.9 1.0-1.2z"/><path fill="#e9c5ac" d="M391.5 56.7l-1.3-1.4-3.0 3.1 1.0 1.2z"/><path fill="#eccaac" d="M402.7 52.8l-1.5-2.2-3.8 1.8 1.4 1.9z"/><path fill="#ec9f81" d="M339.8 50.6l-1.5 2.2 3.9 1.5 1.4-1.9z"/><path fill="#fbccc0" d="M357.4 71.9l-.1 .8 1.8 3.1 .1-.8z"/><path fill="#fae0d6" d="M383.7 72.7l-.1-.8-1.8 3.1 .1 .8z"/><path fill="#d98a71" d="M326.5 53.8l-1.3 3.0 3.9-.4 1.2-2.8z"/><path fill="#decab1" d="M415.8 56.8l-1.3-3.0-3.8-.2 1.2 2.8z"/><path fill="#f6bdaa" d="M354.4 63.0l-.7 1.1 2.7 3.1 .6-1.0z"/><path fill="#f6d6c4" d="M387.3 64.1l-.7-1.1-2.6 3.2 .6 1.0z"/><path fill="#f3d0bb" d="M389.4 60.4l-.9-1.2-3.0 3.2 .9 1.0z"/><path fill="#f3b69f" d="M352.5 59.2l-.9 1.2 3.0 3.0 .9-1.0z"/><path fill="#f9c5b6" d="M355.8 67.6l-.3 1.0 2.3 3.0 .3-.8z"/><path fill="#f8dbce" d="M385.5 68.6l-.3-1.0-2.3 3.2 .3 .8z"/><path fill="#88514b" d="M310.2 84.6l.9 4.0 .5-2.9-.9-4.0z"/><path fill="#909696" d="M429.9 88.6l.9-4.0-.5-2.9-.9 4.0z"/><path fill="#fbcdc1" d="M357.4 72.7l.0 .8 1.7 3.0 .0-.8z"/><path fill="#fae1d8" d="M383.6 73.5l.0-.8-1.7 3.0 .0 .8z"/><path fill="#e7997c" d="M334.8 51.6l-1.4 2.5 4.1 .8 1.3-2.2z"/><path fill="#e9ccaf" d="M407.6 54.1l-1.4-2.5-4.0 1.1 1.3 2.2z"/><path fill="#eecaae" d="M399.2 54.1l-1.4-1.9-3.7 2.2 1.3 1.7z"/><path fill="#f0a689" d="M343.2 52.2l-1.4 1.9 3.8 2.0 1.3-1.7z"/><path fill="#d1846e" d="M322.0 57.4l-.9 3.3 3.7-1.1 .8-3.1z"/><path fill="#d8cab5" d="M419.9 60.7l-.9-3.3-3.6-.9 .8 3.1z"/><path fill="#b26c5e" d="M312.9 69.3l-.1 3.9 2.4-2.5 .1-3.8z"/><path fill="#bbbbb1" d="M428.2 73.2l-.1-3.9-2.4-2.4 .1 3.8z"/><path fill="#e9c6af" d="M392.4 58.0l-1.0-1.5-3.3 3.0 .9 1.2z"/><path fill="#edac94" d="M349.6 56.5l-1.0 1.5 3.4 2.7 .9-1.2z"/><path fill="#ecc8af" d="M395.7 55.9l-1.2-1.7-3.5 2.6 1.1 1.5z"/><path fill="#f0aa8f" d="M346.5 54.2l-1.2 1.7 3.6 2.4 1.1-1.5z"/><path fill="#f7beac" d="M353.8 64.0l-.5 1.1 2.8 2.9 .4-.9z"/><path fill="#f6d7c6" d="M387.7 65.1l-.5-1.1-2.7 3.1 .4 .9z"/><path fill="#f8ddd0" d="M385.7 69.5l-.2-1.0-2.4 3.0 .3 .9z"/><path fill="#f9c6b7" d="M355.5 68.5l-.2 1.0 2.3 2.9 .3-.9z"/><path fill="#fbcec3" d="M357.4 73.5l.1 .8 1.8 2.9-.1-.8z"/><path fill="#fbe2d9" d="M383.5 74.3l.1-.8-1.8 2.9-.1 .8z"/><path fill="#f4b6a1" d="M351.7 60.3l-.8 1.3 3.2 2.8 .7-1.1z"/><path fill="#f3d2be" d="M390.1 61.6l-.8-1.3-3.1 3.0 .7 1.1z"/><path fill="#e29378" d="M329.9 53.6l-1.2 2.8 4.1 .1 1.1-2.6z"/><path fill="#e6ceb3" d="M412.3 56.4l-1.2-2.8-4.0 .3 1.1 2.6z"/><path fill="#7c4b47" d="M311.2 91.0l1.4 3.9-.2-2.8-1.3-4.0z"/><path fill="#7f8488" d="M428.4 94.9l1.4-3.9 .1-2.9-1.3 4.0z"/><path fill="#eca084" d="M338.4 52.6l-1.3 2.2 4.1 1.3 1.1-2.0z"/><path fill="#edcdb1" d="M403.9 54.8l-1.3-2.2-3.9 1.5 1.1 2.0z"/><path fill="#d1c9b8" d="M423.4 65.4l-.5-3.5-3.3-1.6 .5 3.4z"/><path fill="#c97d6a" d="M318.1 61.9l-.5 3.5 3.3-1.7 .5-3.4z"/><path fill="#a7655a" d="M311.2 75.4l.4 4.0 1.8-2.9-.4-3.8z"/><path fill="#b0b4ae" d="M429.4 79.4l.4-4.0-1.8-2.7-.4 3.8z"/><path fill="#f9c7b9" d="M355.4 69.4l-.2 1.0 2.4 2.7 .1-.8z"/><path fill="#f9ded2" d="M385.8 70.4l-.2-1.0-2.3 2.9 .1 .8z"/><path fill="#ebab94" d="M348.7 57.8l-.9 1.5 3.5 2.6 .8-1.3z"/><path fill="#e9c8b2" d="M393.2 59.3l-.9-1.5-3.4 2.8 .8 1.3z"/><path fill="#f7bfad" d="M353.3 65.0l-.4 1.1 2.9 2.8 .4-1.0z"/><path fill="#f7d9c9" d="M388.1 66.1l-.4-1.1-2.9 2.9 .4 1.0z"/><path fill="#efa68b" d="M341.9 53.9l-1.1 2.0 3.9 1.7 1.1-1.7z"/><path fill="#edccb2" d="M400.2 55.9l-1.1-2.0-3.9 2.0 1.1 1.7z"/><path fill="#7a4a49" d="M313.3 97.1l1.8 3.8-.8-2.5-1.8-3.9z"/><path fill="#757881" d="M425.9 100.9l1.8-3.8 .8-2.6-1.8 3.9z"/><path fill="#efa990" d="M345.4 55.7l-1.1 1.7 3.8 2.2 .9-1.5z"/><path fill="#eac9b1" d="M396.7 57.4l-1.1-1.7-3.6 2.4 .9 1.5z"/><path fill="#dc8d75" d="M325.2 56.5l-.8 3.1 3.9-.6 .8-2.9z"/><path fill="#e1cfb8" d="M416.6 59.6l-.8-3.1-3.9-.4 .8 2.9z"/><path fill="#f4b7a2" d="M351.0 61.4l-.6 1.4 3.2 2.6 .6-1.1z"/><path fill="#f4d4c0" d="M390.6 62.8l-.6-1.4-3.2 2.9 .6 1.1z"/><path fill="#e89a7f" d="M333.5 53.8l-1.1 2.6 4.2 .5 1.0-2.2z"/><path fill="#ead0b5" d="M408.6 56.4l-1.1-2.6-4.1 .9 1.0 2.2z"/><path fill="#fac8ba" d="M355.3 70.3l.0 1.0 2.4 2.6 .0-.8z"/><path fill="#f9dfd3" d="M385.7 71.3l.0-1.0-2.4 2.8 .0 .8z"/><path fill="#c17767" d="M315.0 67.0l-.1 3.8 2.8-2.3 .1-3.5z"/><path fill="#c8c6ba" d="M426.1 70.8l-.1-3.8-2.8-2.0 .1 3.5z"/><path fill="#9b5d54" d="M310.5 81.8l.9 4.0 1.1-3.0-.8-3.9z"/><path fill="#a3a9a7" d="M429.6 85.8l.9-4.0-1.2-2.9-.8 3.9z"/><path fill="#f7dacb" d="M388.3 67.2l-.3-1.1-2.9 2.7 .3 1.0z"/><path fill="#f8c0af" d="M353.0 66.1l-.3 1.1 2.9 2.6 .3-1.0z"/><path fill="#e9aa95" d="M347.8 59.2l-.7 1.5 3.7 2.3 .6-1.3z"/><path fill="#e9cab6" d="M393.9 60.7l-.7-1.5-3.6 2.5 .6 1.3z"/><path fill="#eda186" d="M337.2 54.5l-1.0 2.3 4.2 1.1 .9-2.1z"/><path fill="#edd0b6" d="M404.8 56.8l-1.0-2.3-4.1 1.3 .9 2.1z"/><path fill="#f4b8a4" d="M350.5 62.6l-.5 1.4 3.3 2.5 .4-1.2z"/><path fill="#f4d6c3" d="M391.0 64.0l-.5-1.4-3.2 2.7 .4 1.2z"/><path fill="#dbd0bd" d="M420.5 63.7l-.6-3.3-3.6-1.1 .5 3.1z"/><path fill="#d58772" d="M321.1 60.4l-.6 3.3 3.7-1.3 .5-3.1z"/><path fill="#fac9bc" d="M355.3 71.2l.2 1.0 2.3 2.5-.1-.8z"/><path fill="#f9e0d5" d="M385.5 72.2l.2-1.0-2.4 2.7-.1 .8z"/><path fill="#eda991" d="M344.4 57.2l-.8 1.8 3.9 2.0 .7-1.6z"/><path fill="#e9cab4" d="M397.4 59.0l-.8-1.8-3.8 2.2 .7 1.6z"/><path fill="#e4957c" d="M328.7 56.1l-.8 2.8 4.2-.1 .7-2.6z"/><path fill="#e7d2ba" d="M413.1 58.9l-.8-2.8-4.1 .1 .7 2.6z"/><path fill="#efa68c" d="M340.8 55.7l-.9 2.0 4.1 1.5 .8-1.8z"/><path fill="#ecceb6" d="M401.1 57.7l-.9-2.0-4.0 1.7 .8 1.8z"/><path fill="#8a534e" d="M310.9 88.3l1.4 3.9 .5-3.0-1.4-3.9z"/><path fill="#92979a" d="M428.7 92.2l1.4-3.9-.5-3.0-1.4 3.9z"/><path fill="#f7dccd" d="M388.4 68.3l-.2-1.2-2.9 2.6 .1 1.0z"/><path fill="#f8c1b1" d="M352.8 67.1l-.2 1.2 3.0 2.4 .1-1.0z"/><path fill="#b77063" d="M312.7 72.8l.4 3.9 2.3-2.7-.4-3.7z"/><path fill="#bfc1b9" d="M427.9 76.7l.4-3.9-2.3-2.5-.4 3.7z"/><path fill="#fbcabe" d="M355.5 72.1l.2 1.0 2.4 2.4-.2-.8z"/><path fill="#fae1d7" d="M385.3 73.1l.2-1.0-2.4 2.6-.2 .8z"/><path fill="#eaab97" d="M347.2 60.6l-.5 1.6 3.7 2.1 .4-1.4z"/><path fill="#e9ccb9" d="M394.3 62.2l-.5-1.6-3.6 2.3 .4 1.4z"/><path fill="#f4d7c6" d="M391.3 65.2l-.3-1.3-3.4 2.4 .3 1.2z"/><path fill="#f5b9a6" d="M350.0 63.9l-.3 1.3 3.4 2.3 .3-1.2z"/><path fill="#ea9c83" d="M332.4 56.1l-.7 2.6 4.2 .3 .7-2.3z"/><path fill="#ebd3bb" d="M409.3 58.7l-.7-2.6-4.2 .6 .7 2.3z"/><path fill="#cd806f" d="M317.5 65.1l-.1 3.5 3.3-1.9 .1-3.4z"/><path fill="#d4cfc0" d="M423.6 68.6l-.1-3.5-3.3-1.8 .1 3.4z"/><path fill="#7b4a48" d="M312.3 94.6l1.9 3.8-.1-2.8-1.9-3.9z"/><path fill="#81858c" d="M426.8 98.4l1.9-3.8 .1-2.9-1.9 3.9z"/><path fill="#f9c2b3" d="M352.7 68.2l.0 1.2 2.9 2.2 .1-1.0z"/><path fill="#f8ddd0" d="M388.3 69.4l.0-1.2-3.0 2.4 .1 1.0z"/><path fill="#e3d4c0" d="M417.2 62.4l-.6-3.1-3.9-.7 .4 2.9z"/><path fill="#de8f79" d="M324.4 59.3l-.6 3.1 4.1-.9 .4-2.9z"/><path fill="#eca992" d="M343.7 58.9l-.6 1.8 4.0 1.7 .5-1.6z"/><path fill="#e8cbb6" d="M397.9 60.7l-.6-1.8-3.9 1.9 .5 1.6z"/><path fill="#fbcbc0" d="M355.8 73.0l.3 1.0 2.3 2.2-.3-.8z"/><path fill="#fae2d8" d="M384.9 74.0l.3-1.0-2.3 2.4-.3 .8z"/><path fill="#eda289" d="M336.2 56.6l-.7 2.3 4.3 .8 .6-2.1z"/><path fill="#edd3bb" d="M405.5 58.9l-.7-2.3-4.2 1.0 .6 2.1z"/><path fill="#ac695e" d="M311.4 79.0l.9 3.9 1.7-2.9-.8-3.8z"/><path fill="#b4bab6" d="M428.7 82.9l.9-3.9-1.8-2.8-.8 3.8z"/><path fill="#eea68e" d="M340.0 57.5l-.7 2.1 4.2 1.2 .6-1.8z"/><path fill="#ecd0b9" d="M401.7 59.6l-.7-2.1-4.1 1.5 .6 1.8z"/><path fill="#794a4a" d="M314.8 100.5l2.3 3.7-.8-2.5-2.3-3.8z"/><path fill="#737681" d="M423.9 104.2l2.3-3.7 .8-2.6-2.3 3.8z"/><path fill="#f5baa8" d="M349.8 65.1l-.1 1.4 3.4 2.1 .1-1.2z"/><path fill="#f5d9c9" d="M391.3 66.5l-.1-1.4-3.4 2.3 .1 1.2z"/><path fill="#eacebc" d="M394.6 63.6l-.3-1.6-3.8 2.1 .3 1.4z"/><path fill="#eaad99" d="M346.7 62.0l-.3 1.6 3.8 1.9 .3-1.4z"/><path fill="#717281" d="M420.2 109.5l2.7-3.5 1.3-2.2-2.7 3.6z"/><path fill="#f9c3b5" d="M352.8 69.3l.1 1.1 2.9 2.1-.1-1.0z"/><path fill="#f8ded2" d="M388.1 70.4l.1-1.1-2.9 2.2-.1 1.0z"/><path fill="#fbcdc2" d="M356.2 73.9l.4 .9 2.3 2.1-.4-.7z"/><path fill="#fbe3da" d="M384.4 74.8l.4-.9-2.3 2.3-.4 .7z"/><path fill="#c57a6b" d="M314.7 70.4l.4 3.7 2.9-2.4-.4-3.5z"/><path fill="#ccccc2" d="M425.9 74.1l.4-3.7-2.9-2.2-.4 3.5z"/><path fill="#e9d7c1" d="M413.6 61.5l-.5-2.8-4.2-.2 .4 2.6z"/><path fill="#e69780" d="M327.9 58.7l-.5 2.8 4.3-.4 .4-2.6z"/><path fill="#d88a76" d="M320.5 63.4l-.2 3.3 3.8-1.5 .1-3.1z"/><path fill="#ded5c5" d="M420.7 66.7l-.2-3.3-3.7-1.3 .1 3.1z"/><path fill="#9d5f58" d="M311.2 85.4l1.4 3.9 1.1-3.1-1.4-3.8z"/><path fill="#a4aaab" d="M428.4 89.3l1.4-3.9-1.1-3.0-1.4 3.8z"/><path fill="#e6ccb8" d="M398.2 62.3l-.4-1.8-4.0 1.7 .4 1.6z"/><path fill="#eba994" d="M343.2 60.5l-.4 1.8 4.0 1.5 .4-1.6z"/><path fill="#f6bcab" d="M349.7 66.4l.0 1.4 3.4 1.8 .0-1.2z"/><path fill="#f5dbcc" d="M391.3 67.8l.0-1.4-3.4 2.0 .0 1.2z"/><path fill="#edd7c1" d="M409.8 61.1l-.5-2.6-4.3 .3 .5 2.3z"/><path fill="#eb9e86" d="M331.7 58.5l-.5 2.6 4.3 .0 .5-2.3z"/><path fill="#f9c5b7" d="M353.0 70.3l.2 1.2 2.9 1.9-.2-1.0z"/><path fill="#f9e0d4" d="M387.8 71.5l.2-1.2-2.9 2.1-.2 1.0z"/><path fill="#ead0bf" d="M394.7 65.1l-.2-1.6-3.7 1.8 .1 1.4z"/><path fill="#ebae9b" d="M346.5 63.5l-.2 1.6 3.8 1.6 .1-1.4z"/><path fill="#ebd1bd" d="M402.0 61.5l-.4-2.1-4.2 1.2 .4 1.9z"/><path fill="#eea790" d="M339.4 59.4l-.4 2.1 4.2 1.0 .4-1.9z"/><path fill="#edd5bf" d="M405.9 61.1l-.4-2.4-4.3 .8 .4 2.1z"/><path fill="#eea38c" d="M335.5 58.7l-.4 2.4 4.3 .5 .4-2.1z"/><path fill="#8d5551" d="M312.0 91.9l1.9 3.8 .5-3.1-1.9-3.8z"/><path fill="#93989e" d="M427.1 95.7l1.9-3.8-.5-3.1-1.9 3.8z"/><path fill="#bc7467" d="M312.9 76.3l.8 3.8 2.4-2.8-.9-3.7z"/><path fill="#c3c7c1" d="M427.3 80.1l.8-3.8-2.3-2.7-.9 3.7z"/><path fill="#e1927d" d="M323.8 62.1l-.1 3.2 4.0-1.2 .1-2.9z"/><path fill="#e5d9c7" d="M417.3 65.3l-.1-3.2-4.0-.9 .1 2.9z"/><path fill="#fac7ba" d="M353.3 71.4l.4 1.1 2.8 1.8-.3-1.0z"/><path fill="#f9e1d6" d="M387.3 72.5l.4-1.1-2.9 1.9-.3 1.0z"/><path fill="#d18473" d="M317.3 68.3l.3 3.5 3.3-2.1-.3-3.4z"/><path fill="#d7d4c8" d="M423.4 71.8l.3-3.5-3.3-2.0-.3 3.4z"/><path fill="#f7bdad" d="M349.8 67.6l.2 1.4 3.3 1.7-.1-1.2z"/><path fill="#f6dcce" d="M391.0 69.0l.2-1.4-3.4 1.9-.1 1.2z"/><path fill="#7d4c4c" d="M313.9 98.1l2.3 3.7-.1-2.9-2.4-3.7z"/><path fill="#828590" d="M424.8 101.8l2.3-3.7 .2-2.9-2.4 3.7z"/><path fill="#eaa995" d="M342.8 62.2l-.1 1.8 4.0 1.2 .2-1.6z"/><path fill="#e5cdbb" d="M398.3 64.0l-.1-1.8-4.1 1.4 .2 1.6z"/><path fill="#ebaf9e" d="M346.4 64.9l.0 1.6 3.8 1.5-.1-1.4z"/><path fill="#ebd2c2" d="M394.6 66.5l.0-1.6-3.7 1.7-.1 1.4z"/><path fill="#e89984" d="M327.4 61.3l-.1 2.9 4.2-.8 .1-2.6z"/><path fill="#ebdbc7" d="M413.7 64.2l-.1-2.9-4.2-.5 .1 2.6z"/><path fill="#af6c62" d="M312.1 82.6l1.3 3.8 1.7-3.1-1.3-3.7z"/><path fill="#b6bcba" d="M427.6 86.4l1.3-3.8-1.7-3.0-1.3 3.7z"/><path fill="#774a4c" d="M316.7 103.9l2.8 3.5-.7-2.5-2.8-3.6z"/><path fill="#727481" d="M421.5 107.4l2.8-3.5 .7-2.6-2.8 3.6z"/><path fill="#fac8bc" d="M353.7 72.4l.6 1.1 2.7 1.6-.4-.9z"/><path fill="#fae2d7" d="M386.7 73.5l.6-1.1-2.9 1.8-.4 .9z"/><path fill="#754b4f" d="M320.4 109.1l3.1 3.3-1.2-2.1-3.1-3.3z"/><path fill="#6f7081" d="M417.5 112.4l3.1-3.3 1.2-2.1-3.1 3.3z"/><path fill="#eea893" d="M339.0 61.3l-.1 2.1 4.2 .7 .2-1.8z"/><path fill="#ebd3c0" d="M402.1 63.4l-.1-2.1-4.3 1.0 .2 1.8z"/><path fill="#eedac6" d="M409.9 63.5l-.1-2.7-4.4 .1 .2 2.3z"/><path fill="#eda08a" d="M331.2 60.8l-.1 2.7 4.3-.3 .2-2.3z"/><path fill="#f7bfb0" d="M350.0 68.9l.3 1.3 3.4 1.5-.3-1.2z"/><path fill="#f6ded1" d="M390.7 70.2l.3-1.3-3.4 1.6-.3 1.2z"/><path fill="#eed8c4" d="M406.0 63.2l-.1-2.4-4.4 .5 .2 2.2z"/><path fill="#efa58f" d="M335.1 60.8l-.1 2.4 4.3 .3 .2-2.2z"/><path fill="#dc8d7b" d="M320.3 66.5l.3 3.3 3.7-1.8-.3-3.1z"/><path fill="#e1dacc" d="M420.4 69.8l.3-3.3-3.7-1.6-.3 3.1z"/><path fill="#c97e70" d="M314.9 73.8l.8 3.7 2.9-2.7-.8-3.4z"/><path fill="#d0d2ca" d="M425.3 77.5l.8-3.7-2.9-2.4-.8 3.4z"/><path fill="#fbcabe" d="M354.3 73.4l.7 1.0 2.6 1.5-.5-.9z"/><path fill="#fae2d9" d="M386.0 74.4l.7-1.0-2.8 1.6-.5 .9z"/><path fill="#e9aa97" d="M342.7 63.9l.1 1.8 4.1 1.0-.1-1.7z"/><path fill="#e4cdbd" d="M398.2 65.7l.1-1.8-4.1 1.1-.1 1.7z"/><path fill="#ecb1a0" d="M346.4 66.4l.3 1.6 3.7 1.2-.2-1.4z"/><path fill="#ebd4c5" d="M394.3 68.0l.3-1.6-3.8 1.4-.2 1.4z"/><path fill="#9f615c" d="M312.3 89.0l1.9 3.8 1.0-3.2-1.8-3.7z"/><path fill="#a5abaf" d="M426.8 92.8l1.9-3.8-1.1-3.1-1.8 3.7z"/><path fill="#f8c1b3" d="M350.4 70.1l.5 1.3 3.2 1.3-.4-1.1z"/><path fill="#f7dfd3" d="M390.1 71.4l.5-1.3-3.3 1.5-.4 1.1z"/><path fill="#e49582" d="M323.6 65.0l.3 3.1 4.0-1.4-.3-2.9z"/><path fill="#e8dece" d="M417.1 68.1l.3-3.1-4.0-1.2-.3 2.9z"/><path fill="#fbccc1" d="M355.0 74.4l.8 1.0 2.6 1.3-.7-.9z"/><path fill="#fae3da" d="M385.2 75.4l.8-1.0-2.7 1.4-.7 .9z"/><path fill="#eea995" d="M338.9 63.2l.1 2.1 4.2 .5 .0-1.9z"/><path fill="#ead4c3" d="M402.0 65.3l.1-2.1-4.3 .7 .0 1.9z"/><path fill="#c0786c" d="M313.6 79.8l1.2 3.7 2.3-2.9-1.2-3.6z"/><path fill="#c7ccc8" d="M426.2 83.5l1.2-3.7-2.3-2.8-1.2 3.6z"/><path fill="#8f5856" d="M313.6 95.4l2.3 3.6 .5-3.1-2.3-3.6z"/><path fill="#9498a2" d="M425.1 99.0l2.3-3.6-.5-3.1-2.3 3.6z"/><path fill="#d58778" d="M317.5 71.5l.7 3.5 3.3-2.4-.7-3.2z"/><path fill="#dbdad0" d="M422.8 75.0l.7-3.5-3.3-2.1-.7 3.2z"/><path fill="#ea9c88" d="M327.2 63.9l.3 2.9 4.2-1.0-.2-2.6z"/><path fill="#eddfce" d="M413.5 66.8l.3-2.9-4.3-.7-.2 2.6z"/><path fill="#edb3a3" d="M346.7 67.8l.4 1.6 3.7 1.0-.3-1.4z"/><path fill="#ecd5c8" d="M393.9 69.4l.4-1.6-3.8 1.2-.3 1.4z"/><path fill="#efa692" d="M335.0 63.0l.1 2.4 4.4-.1-.2-2.1z"/><path fill="#eedac8" d="M405.9 65.4l.1-2.4-4.3 .2-.2 2.1z"/><path fill="#fccec4" d="M355.9 75.3l.9 .9 2.4 1.2-.8-.8z"/><path fill="#fbe4dc" d="M384.2 76.2l.9-.9-2.5 1.3-.8 .8z"/><path fill="#724d56" d="M327.7 116.3l3.7 2.8-1.4-1.4-3.8-2.9z"/><path fill="#6c6b80" d="M409.6 119.1l3.7-2.8 1.5-1.5-3.8 2.9z"/><path fill="#f8c3b5" d="M350.9 71.3l.7 1.3 3.1 1.1-.5-1.1z"/><path fill="#f7e0d5" d="M389.4 72.6l.7-1.3-3.3 1.3-.5 1.1z"/><path fill="#e9ab99" d="M342.8 65.5l.3 1.9 4.0 .7-.2-1.6z"/><path fill="#e3cebf" d="M397.9 67.4l.3-1.9-4.1 1.0-.2 1.6z"/><path fill="#eea28e" d="M331.1 63.2l.1 2.7 4.4-.5-.2-2.4z"/><path fill="#efdecc" d="M409.8 65.9l.1-2.7-4.3-.2-.2 2.4z"/><path fill="#7f4f50" d="M315.9 101.5l2.7 3.5-.1-2.9-2.8-3.5z"/><path fill="#838693" d="M422.4 105.0l2.7-3.5 .2-2.9-2.8 3.5z"/><path fill="#744b52" d="M323.1 112.1l3.5 3.1-1.1-2.1-3.6-3.1z"/><path fill="#6e6e80" d="M414.4 115.2l3.5-3.1 1.2-2.1-3.6 3.1z"/><path fill="#764b4e" d="M319.1 107.1l3.1 3.3-.6-2.5-3.2-3.4z"/><path fill="#737484" d="M418.8 110.4l3.1-3.3 .7-2.6-3.2 3.4z"/><path fill="#b16e66" d="M313.2 86.1l1.8 3.7 1.6-3.2-1.7-3.6z"/><path fill="#b7bdbe" d="M426.0 89.8l1.8-3.7-1.7-3.1-1.7 3.6z"/><path fill="#df9080" d="M320.5 69.5l.6 3.3 3.7-2.0-.6-3.1z"/><path fill="#e4dfd3" d="M419.9 72.8l.6-3.3-3.7-1.8-.6 3.1z"/><path fill="#f9c5b8" d="M351.6 72.5l.8 1.2 3.1 .9-.7-1.1z"/><path fill="#f8e1d7" d="M388.6 73.7l.8-1.2-3.2 1.0-.7 1.1z"/><path fill="#edb5a6" d="M347.1 69.3l.7 1.5 3.6 .8-.6-1.4z"/><path fill="#ecd7ca" d="M393.2 70.8l.7-1.5-3.7 .9-.6 1.4z"/><path fill="#eeaa98" d="M339.0 65.1l.4 2.1 4.2 .2-.3-1.8z"/><path fill="#ead6c6" d="M401.6 67.2l.4-2.1-4.3 .5-.3 1.8z"/><path fill="#ce8275" d="M315.6 77.2l1.2 3.6 2.8-2.8-1.2-3.5z"/><path fill="#d3d7d1" d="M424.2 80.8l1.2-3.6-2.8-2.7-1.2 3.5z"/><path fill="#e8ab9b" d="M343.1 67.2l.5 1.8 4.0 .5-.4-1.6z"/><path fill="#e2cec0" d="M397.4 69.0l.5-1.8-4.1 .7-.4 1.6z"/><path fill="#e79887" d="M323.8 67.8l.6 3.1 4.0-1.6-.6-2.9z"/><path fill="#eae2d4" d="M416.6 70.9l.6-3.1-4.0-1.4-.6 2.9z"/><path fill="#f0a895" d="M335.1 65.1l.4 2.4 4.3-.3-.4-2.1z"/><path fill="#eedccc" d="M405.5 67.5l.4-2.4-4.3 .0-.4 2.1z"/><path fill="#a26460" d="M313.9 92.5l2.3 3.6 1.0-3.2-2.3-3.6z"/><path fill="#a6abb2" d="M424.8 96.1l2.3-3.6-1.0-3.2-2.3 3.6z"/><path fill="#f9c7bb" d="M352.4 73.6l1.0 1.2 2.9 .7-.8-1.0z"/><path fill="#f8e2d8" d="M387.6 74.8l1.0-1.2-3.1 .9-.8 1.0z"/><path fill="#ed9f8d" d="M327.4 66.5l.6 2.9 4.1-1.3-.5-2.6z"/><path fill="#efe3d4" d="M413.0 69.4l.6-2.9-4.2-1.0-.5 2.6z"/><path fill="#f0a592" d="M331.2 65.6l.5 2.6 4.3-.7-.5-2.4z"/><path fill="#f0e1d1" d="M409.3 68.2l.5-2.6-4.3-.5-.5 2.4z"/><path fill="#eeb7a9" d="M347.8 70.7l.8 1.5 3.5 .5-.7-1.3z"/><path fill="#edd8cd" d="M392.4 72.2l.8-1.5-3.6 .7-.7 1.3z"/><path fill="#714e59" d="M331.0 118.8l4.0 2.6-1.3-1.4-4.1-2.6z"/><path fill="#6b6980" d="M406.0 121.4l4.0-2.6 1.4-1.4-4.1 2.6z"/><path fill="#d98c7e" d="M318.1 74.7l1.1 3.4 3.3-2.5-1.1-3.3z"/><path fill="#dedfd7" d="M421.8 78.1l1.1-3.4-3.3-2.4-1.1 3.3z"/><path fill="#c27a70" d="M314.6 83.3l1.8 3.6 2.2-3.2-1.7-3.4z"/><path fill="#c8cdcb" d="M424.6 86.9l1.8-3.6-2.3-3.0-1.7 3.4z"/><path fill="#925a5a" d="M315.6 98.8l2.8 3.5 .4-3.1-2.8-3.5z"/><path fill="#9699a5" d="M422.6 102.3l2.8-3.5-.4-3.1-2.8 3.5z"/><path fill="#edac9b" d="M339.4 67.0l.6 2.1 4.1-.1-.5-1.8z"/><path fill="#ead7c8" d="M401.0 69.1l.6-2.1-4.2 .2-.5 1.8z"/><path fill="#fac9be" d="M353.4 74.7l1.1 1.1 2.7 .6-.9-1.0z"/><path fill="#f9e3da" d="M386.5 75.8l1.1-1.1-2.9 .7-.9 1.0z"/><path fill="#e7ac9d" d="M343.6 68.9l.8 1.8 3.8 .2-.6-1.6z"/><path fill="#e1cec2" d="M396.6 70.7l.8-1.8-4.0 .4-.6 1.6z"/><path fill="#734c55" d="M326.2 114.9l3.8 2.8-1.0-2.0-3.9-2.8z"/><path fill="#6d6c80" d="M411.0 117.7l3.8-2.8 1.1-2.0-3.9 2.8z"/><path fill="#825255" d="M318.3 104.7l3.2 3.3-.1-2.8-3.2-3.4z"/><path fill="#858696" d="M419.5 108.0l3.2-3.3 .1-2.9-3.2 3.4z"/><path fill="#754b51" d="M321.9 110.1l3.5 3.1-.6-2.4-3.6-3.2z"/><path fill="#747587" d="M415.6 113.2l3.5-3.1 .7-2.5-3.6 3.2z"/><path fill="#efb9ac" d="M348.6 72.0l.9 1.5 3.4 .3-.8-1.3z"/><path fill="#eed9cf" d="M391.5 73.5l.9-1.5-3.5 .5-.8 1.3z"/><path fill="#e39485" d="M321.0 72.5l1.1 3.3 3.6-2.3-1.0-3.0z"/><path fill="#e7e4da" d="M418.9 75.8l1.1-3.3-3.7-2.0-1.0 3.0z"/><path fill="#facbc1" d="M354.5 75.7l1.2 1.1 2.6 .3-1.1-.9z"/><path fill="#f9e3db" d="M385.3 76.8l1.2-1.1-2.7 .5-1.1 .9z"/><path fill="#f1ab99" d="M335.5 67.3l.7 2.3 4.2-.5-.6-2.1z"/><path fill="#efded0" d="M404.8 69.6l.7-2.3-4.3-.3-.6 2.1z"/><path fill="#b3706a" d="M314.7 89.6l2.3 3.5 1.6-3.2-2.2-3.5z"/><path fill="#b8bcc1" d="M424.0 93.1l2.3-3.5-1.7-3.2-2.2 3.5z"/><path fill="#d2867b" d="M316.6 80.5l1.7 3.5 2.7-3.0-1.6-3.3z"/><path fill="#d7dbd7" d="M422.7 84.0l1.7-3.5-2.8-2.8-1.6 3.3z"/><path fill="#ea9c8c" d="M324.3 70.6l1.0 3.1 3.9-1.9-.9-2.8z"/><path fill="#ede6db" d="M415.7 73.7l1.0-3.1-4.0-1.6-.9 2.8z"/><path fill="#f1a896" d="M331.6 68.0l.9 2.6 4.1-1.1-.7-2.3z"/><path fill="#f1e3d5" d="M408.5 70.6l.9-2.6-4.3-.8-.7 2.3z"/><path fill="#e6ada0" d="M344.4 70.5l.9 1.7 3.7 .0-.8-1.5z"/><path fill="#e2cfc4" d="M395.7 72.2l.9-1.7-3.8 .2-.8 1.5z"/><path fill="#704f5c" d="M334.6 121.1l4.3 2.3-1.2-1.3-4.4-2.3z"/><path fill="#6a677f" d="M402.1 123.4l4.3-2.3 1.3-1.3-4.4 2.3z"/><path fill="#edad9e" d="M339.9 68.9l.9 2.0 4.0-.3-.7-1.8z"/><path fill="#e9d8cb" d="M400.2 70.9l.9-2.0-4.2-.1-.7 1.8z"/><path fill="#efa392" d="M327.9 69.1l.9 2.8 4.1-1.5-.9-2.5z"/><path fill="#f1e6d9" d="M412.2 71.9l.9-2.8-4.1-1.2-.9 2.5z"/><path fill="#fbcec4" d="M355.7 76.6l1.4 1.1 2.3 .1-1.1-.9z"/><path fill="#fae4dc" d="M383.9 77.7l1.4-1.1-2.6 .3-1.1 .9z"/><path fill="#efbcb0" d="M349.5 73.3l1.2 1.4 3.2 .1-1.0-1.2z"/><path fill="#eedad0" d="M390.3 74.7l1.2-1.4-3.4 .3-1.0 1.2z"/><path fill="#a46665" d="M315.9 95.9l2.7 3.5 1.0-3.3-2.7-3.5z"/><path fill="#a7abb5" d="M422.4 99.4l2.7-3.5-1.0-3.3-2.7 3.5z"/><path fill="#fbd0c7" d="M357.0 77.4l1.5 1.1 2.1 .0-1.2-.9z"/><path fill="#fae4dd" d="M382.5 78.5l1.5-1.1-2.4 .2-1.2 .9z"/><path fill="#724e58" d="M329.5 117.5l4.2 2.6-.9-2.0-4.3-2.6z"/><path fill="#6c6a80" d="M407.3 120.1l4.2-2.6 1.0-2.0-4.3 2.6z"/><path fill="#dd9083" d="M319.1 77.9l1.6 3.3 3.1-2.7-1.5-3.2z"/><path fill="#e2e3dd" d="M420.3 81.2l1.6-3.3-3.2-2.6-1.5 3.2z"/><path fill="#f1ad9d" d="M336.2 69.4l.9 2.3 4.1-.8-.8-2.1z"/><path fill="#efe0d3" d="M403.9 71.7l.9-2.3-4.2-.6-.8 2.1z"/><path fill="#f0beb3" d="M350.6 74.5l1.4 1.4 3.0-.1-1.2-1.2z"/><path fill="#efdbd2" d="M389.0 75.9l1.4-1.4-3.2 .1-1.2 1.2z"/><path fill="#e5afa2" d="M345.3 72.0l1.1 1.7 3.6-.2-1.0-1.5z"/><path fill="#e3d1c7" d="M394.6 73.7l1.1-1.7-3.7 .0-1.0 1.5z"/><path fill="#945d5f" d="M318.0 102.0l3.2 3.4 .4-3.2-3.2-3.3z"/><path fill="#9799a8" d="M419.8 105.4l3.2-3.4-.4-3.1-3.2 3.3z"/><path fill="#c47c75" d="M316.1 86.6l2.2 3.5 2.1-3.3-2.1-3.3z"/><path fill="#c9cdce" d="M422.7 90.1l2.2-3.5-2.2-3.1-2.1 3.3z"/><path fill="#fcd2ca" d="M358.4 78.2l1.8 1.0 1.7-.2-1.4-.8z"/><path fill="#fbe4dd" d="M380.8 79.2l1.8-1.0-2.1 .0-1.4 .8z"/><path fill="#744d54" d="M325.0 113.0l3.9 2.9-.6-2.5-3.9-2.9z"/><path fill="#757589" d="M412.1 115.9l3.9-2.9 .6-2.5-3.9 2.9z"/><path fill="#edafa1" d="M340.8 70.7l1.1 2.0 3.9-.5-1.0-1.8z"/><path fill="#e9d8cd" d="M399.1 72.7l1.1-2.0-4.0-.3-1.0 1.8z"/><path fill="#84555a" d="M321.1 107.8l3.6 3.1-.1-2.9-3.6-3.1z"/><path fill="#868699" d="M416.3 110.9l3.6-3.1 .1-2.9-3.6 3.1z"/><path fill="#e6998b" d="M322.0 75.5l1.4 3.2 3.5-2.5-1.4-3.0z"/><path fill="#eae8e0" d="M417.6 78.7l1.4-3.2-3.5-2.3-1.4 3.0z"/><path fill="#6f5160" d="M338.4 123.2l4.6 2.0-1.0-1.2-4.7-2.1z"/><path fill="#6a667f" d="M398.0 125.2l4.6-2.0 1.1-1.3-4.7 2.1z"/><path fill="#fcd5cd" d="M360.0 78.9l1.9 .9 1.4-.3-1.6-.8z"/><path fill="#fbe4de" d="M379.1 79.8l1.9-.9-1.7-.2-1.6 .8z"/><path fill="#f3ab9b" d="M332.4 70.3l1.1 2.5 4.1-1.2-1.0-2.3z"/><path fill="#f2e6da" d="M407.5 72.8l1.1-2.5-4.2-1.0-1.0 2.3z"/><path fill="#f0c1b6" d="M351.9 75.7l1.5 1.3 2.8-.3-1.3-1.1z"/><path fill="#efdbd3" d="M387.6 77.0l1.5-1.3-3.0-.1-1.3 1.1z"/><path fill="#eda091" d="M325.2 73.4l1.4 3.0 3.7-2.1-1.2-2.8z"/><path fill="#f0eae1" d="M414.4 76.4l1.4-3.0-3.9-1.9-1.2 2.8z"/><path fill="#f2a797" d="M328.7 71.7l1.2 2.7 4.0-1.7-1.1-2.5z"/><path fill="#f3eadf" d="M411.1 74.4l1.2-2.7-4.1-1.5-1.1 2.5z"/><path fill="#fcd7d0" d="M361.5 79.5l2.1 .7 1.1-.3-1.8-.6z"/><path fill="#fce4de" d="M377.4 80.2l2.1-.7-1.4-.2-1.8 .6z"/><path fill="#6c576c" d="M352.1 128.4l4.9 1.0-.6-.4-5.1-1.2z"/><path fill="#69627d" d="M384.0 129.4l4.9-1.0 .8-.6-5.1 1.2z"/><path fill="#e4b0a4" d="M346.4 73.5l1.3 1.7 3.4-.5-1.1-1.5z"/><path fill="#e3d2c9" d="M393.3 75.2l1.3-1.7-3.6-.3-1.1 1.5z"/><path fill="#b5736f" d="M316.7 92.9l2.7 3.4 1.5-3.4-2.6-3.3z"/><path fill="#b9bcc4" d="M421.6 96.3l2.7-3.4-1.6-3.3-2.6 3.3z"/><path fill="#d3897f" d="M318.1 83.7l2.1 3.4 2.5-3.2-2.0-3.2z"/><path fill="#d8dbd9" d="M420.8 87.1l2.1-3.4-2.6-3.0-2.0 3.2z"/><path fill="#fddad3" d="M363.2 80.0l2.2 .5 .8-.3-1.9-.5z"/><path fill="#fce3de" d="M375.6 80.5l2.2-.5-1.1-.3-1.9 .5z"/><path fill="#f2b0a1" d="M337.1 71.4l1.2 2.3 4.0-1.1-1.1-2.0z"/><path fill="#f0e1d6" d="M402.7 73.7l1.2-2.3-4.1-.8-1.1 2.0z"/><path fill="#fddcd6" d="M364.9 80.4l2.3 .3 .5-.3-2.0-.3z"/><path fill="#fde3de" d="M373.8 80.7l2.3-.3-.8-.3-2.0 .3z"/><path fill="#f1c3ba" d="M353.3 76.8l1.7 1.2 2.5-.4-1.4-1.1z"/><path fill="#f0dcd5" d="M386.0 78.0l1.7-1.2-2.8-.3-1.4 1.1z"/><path fill="#edb1a4" d="M341.8 72.5l1.3 1.9 3.8-.8-1.2-1.7z"/><path fill="#e9d9cf" d="M397.9 74.4l1.3-1.9-3.9-.6-1.2 1.7z"/><path fill="#704f5b" d="M333.2 119.9l4.5 2.3-.8-1.9-4.6-2.4z"/><path fill="#6b687f" d="M403.3 122.2l4.5-2.3 .9-2.0-4.6 2.4z"/><path fill="#fdded8" d="M366.7 80.7l2.2 .2 .3-.3-2.0-.2z"/><path fill="#fde2dd" d="M372.1 80.9l2.2-.2-.5-.3-2.0 .2z"/><path fill="#6b5970" d="M356.5 129.3l5.0 .8-.4-.4-5.2-.8z"/><path fill="#69617c" d="M379.5 130.1l5.0-.8 .6-.4-5.2 .8z"/><path fill="#fde0db" d="M368.5 80.8l2.2 .1 .0-.3-2.0-.1z"/><path fill="#fde2dd" d="M370.3 80.9l2.2-.1-.2-.3-2.0 .1z"/><path fill="#6e5364" d="M342.5 125.0l4.8 1.7-.9-1.2-4.9-1.7z"/><path fill="#69657e" d="M393.7 126.7l4.8-1.7 1.0-1.2-4.9 1.7z"/><path fill="#a5696a" d="M318.3 99.1l3.1 3.3 1.0-3.3-3.1-3.3z"/><path fill="#a8aab8" d="M419.6 102.4l3.1-3.3-1.0-3.3-3.1 3.3z"/><path fill="#e5b3a8" d="M347.7 74.9l1.5 1.6 3.2-.7-1.3-1.4z"/><path fill="#e4d2ca" d="M391.8 76.5l1.5-1.6-3.4-.5-1.3 1.4z"/><path fill="#e19589" d="M320.5 81.0l1.9 3.2 3.0-3.0-1.8-3.0z"/><path fill="#e5e7e2" d="M418.6 84.2l1.9-3.2-3.1-2.8-1.8 3.0z"/><path fill="#6b5c74" d="M361.1 130.1l5.0 .4-.2-.4-5.3-.5z"/><path fill="#69607b" d="M374.9 130.5l5.0-.4 .5-.5-5.3 .5z"/><path fill="#f1c6bd" d="M354.9 77.8l1.8 1.1 2.2-.6-1.5-1.0z"/><path fill="#f0dcd5" d="M384.3 78.9l1.8-1.1-2.5-.5-1.5 1.0z"/><path fill="#755059" d="M328.5 115.7l4.2 2.6-.5-2.4-4.3-2.7z"/><path fill="#77758b" d="M408.3 118.3l4.2-2.6 .6-2.5-4.3 2.7z"/><path fill="#f5ae9f" d="M333.4 72.6l1.4 2.5 4.0-1.6-1.3-2.2z"/><path fill="#f4e8de" d="M406.2 75.1l1.4-2.5-4.1-1.3-1.3 2.2z"/><path fill="#956165" d="M320.9 105.1l3.5 3.1 .4-3.1-3.6-3.1z"/><path fill="#9898aa" d="M416.6 108.2l3.5-3.1-.3-3.1-3.6 3.1z"/><path fill="#6a5e78" d="M365.6 130.5l5.1 .1 .0-.4-5.3-.1z"/><path fill="#6a607a" d="M370.3 130.6l5.1-.1 .2-.4-5.3 .1z"/><path fill="#c57f7a" d="M318.1 89.8l2.6 3.4 2.0-3.4-2.5-3.2z"/><path fill="#c9ccd1" d="M420.3 93.2l2.6-3.4-2.1-3.2-2.5 3.2z"/><path fill="#85585f" d="M324.3 110.7l3.9 2.9-.1-2.9-3.9-2.9z"/><path fill="#87869b" d="M412.8 113.6l3.9-2.9 .1-2.9-3.9 2.9z"/><path fill="#ea9e91" d="M323.3 78.4l1.8 3.1 3.4-2.7-1.8-2.9z"/><path fill="#edece6" d="M415.9 81.5l1.8-3.1-3.4-2.5-1.8 2.9z"/><path fill="#f4ab9c" d="M329.8 74.2l1.6 2.7 3.8-2.0-1.4-2.5z"/><path fill="#f5ede4" d="M409.6 76.9l1.6-2.7-4.0-1.8-1.4 2.5z"/><path fill="#edb4a7" d="M343.1 74.2l1.5 1.8 3.6-1.0-1.4-1.6z"/><path fill="#e9d9d1" d="M396.4 76.0l1.5-1.8-3.7-.8-1.4 1.6z"/><path fill="#f2c8c0" d="M356.5 78.7l2.0 1.0 1.9-.7-1.7-1.0z"/><path fill="#f1dcd6" d="M382.5 79.7l2.0-1.0-2.2-.7-1.7 1.0z"/><path fill="#f3b2a5" d="M338.3 73.4l1.5 2.2 3.8-1.3-1.4-1.9z"/><path fill="#f0e2d9" d="M401.2 75.6l1.5-2.2-3.9-1.0-1.4 1.9z"/><path fill="#f0a597" d="M326.4 76.1l1.7 2.9 3.7-2.4-1.6-2.6z"/><path fill="#f3eee6" d="M412.9 79.0l1.7-2.9-3.8-2.1-1.6 2.6z"/><path fill="#e6b5ac" d="M349.1 76.3l1.8 1.5 2.9-.9-1.5-1.3z"/><path fill="#e4d3cc" d="M390.1 77.8l1.8-1.5-3.2-.7-1.5 1.3z"/><path fill="#6d5567" d="M346.8 126.6l4.9 1.4-.6-1.1-5.2-1.5z"/><path fill="#69637d" d="M389.3 128.0l4.9-1.4 .9-1.2-5.2 1.5z"/><path fill="#6f515f" d="M337.2 122.0l4.7 2.0-.7-1.8-4.8-2.1z"/><path fill="#6b677f" d="M399.1 124.0l4.7-2.0 .8-1.9-4.8 2.1z"/><path fill="#f2cbc4" d="M358.3 79.5l2.1 .9 1.6-.9-1.8-.8z"/><path fill="#f2dcd6" d="M380.6 80.4l2.1-.9-1.9-.8-1.8 .8z"/><path fill="#b77675" d="M319.1 96.1l3.1 3.2 1.4-3.4-3.0-3.2z"/><path fill="#b9bbc7" d="M418.8 99.3l3.1-3.2-1.5-3.4-3.0 3.2z"/><path fill="#d48b84" d="M319.9 86.8l2.5 3.3 2.5-3.3-2.4-3.1z"/><path fill="#d8dadc" d="M418.6 90.1l2.5-3.3-2.6-3.1-2.4 3.1z"/><path fill="#f3cec7" d="M360.1 80.2l2.3 .7 1.3-.9-2.0-.7z"/><path fill="#f2dcd6" d="M378.6 80.9l2.3-.7-1.6-.9-2.0 .7z"/><path fill="#f6b2a4" d="M334.7 74.8l1.7 2.4 3.8-1.8-1.6-2.1z"/><path fill="#f5eae1" d="M404.6 77.2l1.7-2.4-3.9-1.5-1.6 2.1z"/><path fill="#e6b8af" d="M350.8 77.5l1.9 1.4 2.7-1.1-1.7-1.2z"/><path fill="#e5d4cd" d="M388.3 78.9l1.9-1.4-2.9-.9-1.7 1.2z"/><path fill="#6c576b" d="M351.3 127.9l5.1 1.1-.6-1.1-5.2-1.1z"/><path fill="#69627d" d="M384.6 129.0l5.1-1.1 .7-1.1-5.2 1.1z"/><path fill="#edb6ab" d="M344.5 75.8l1.8 1.8 3.3-1.3-1.5-1.5z"/><path fill="#e9dad2" d="M394.7 77.6l1.8-1.8-3.6-1.0-1.5 1.5z"/><path fill="#77535f" d="M332.3 118.1l4.5 2.3-.5-2.4-4.5-2.3z"/><path fill="#78758c" d="M404.2 120.4l4.5-2.3 .5-2.4-4.5 2.3z"/><path fill="#f3d0ca" d="M362.1 80.7l2.4 .6 .9-1.0-2.1-.5z"/><path fill="#f3dbd6" d="M376.5 81.3l2.4-.6-1.2-.9-2.1 .5z"/><path fill="#a76d70" d="M321.1 102.2l3.5 3.1 .9-3.4-3.5-3.1z"/><path fill="#a9aabb" d="M416.4 105.3l3.5-3.1-.9-3.4-3.5 3.1z"/><path fill="#f3b5a9" d="M339.7 75.3l1.8 2.1 3.5-1.5-1.5-1.9z"/><path fill="#f1e3db" d="M399.5 77.4l1.8-2.1-3.8-1.3-1.5 1.9z"/><path fill="#e2978d" d="M322.2 83.9l2.4 3.1 2.9-3.1-2.3-2.9z"/><path fill="#e5e6e4" d="M416.4 87.0l2.4-3.1-3.0-2.9-2.3 2.9z"/><path fill="#f3d3cd" d="M364.1 81.2l2.4 .4 .7-1.0-2.2-.4z"/><path fill="#f3dbd6" d="M374.5 81.6l2.4-.4-.9-1.0-2.2 .4z"/><path fill="#f7afa2" d="M331.3 76.6l1.8 2.6 3.7-2.2-1.7-2.4z"/><path fill="#f7f0e8" d="M407.9 79.2l1.8-2.6-3.8-2.0-1.7 2.4z"/><path fill="#875c65" d="M327.8 113.4l4.3 2.6-.1-2.8-4.3-2.7z"/><path fill="#88869d" d="M408.9 116.0l4.3-2.6 .1-2.9-4.3 2.7z"/><path fill="#6e5363" d="M341.5 123.9l4.9 1.7-.6-1.8-5.0-1.7z"/><path fill="#6a657e" d="M394.6 125.6l4.9-1.7 .7-1.8-5.0 1.7z"/><path fill="#97646b" d="M324.1 108.0l3.9 2.9 .3-3.2-3.9-2.8z"/><path fill="#9998ad" d="M413.0 110.9l3.9-2.9-.3-3.1-3.9 2.8z"/><path fill="#f4d5d0" d="M366.1 81.5l2.5 .3 .3-1.1-2.2-.2z"/><path fill="#f3dad5" d="M372.4 81.8l2.5-.3-.6-1.0-2.2 .2z"/><path fill="#6b5970" d="M355.9 128.9l5.2 .8-.3-1.1-5.4-.8z"/><path fill="#69617c" d="M379.9 129.7l5.2-.8 .5-1.1-5.4 .8z"/><path fill="#e7bbb3" d="M352.5 78.7l2.1 1.2 2.4-1.2-1.8-1.1z"/><path fill="#e6d4ce" d="M386.4 79.9l2.1-1.2-2.7-1.1-1.8 1.1z"/><path fill="#f4d8d3" d="M368.2 81.7l2.5 .1 .0-1.0-2.2-.1z"/><path fill="#f4d9d5" d="M370.3 81.8l2.5-.1-.3-1.0-2.2 .1z"/><path fill="#eda297" d="M324.9 81.2l2.3 3.0 3.2-2.9-2.1-2.8z"/><path fill="#f0efea" d="M413.8 84.2l2.3-3.0-3.4-2.7-2.1 2.8z"/><path fill="#f4aa9e" d="M328.0 78.8l2.0 2.7 3.5-2.6-1.9-2.5z"/><path fill="#f6f2eb" d="M411.0 81.5l2.0-2.7-3.6-2.4-1.9 2.5z"/><path fill="#c7827f" d="M320.4 92.9l3.0 3.2 1.9-3.5-2.9-3.0z"/><path fill="#c9cbd4" d="M417.6 96.1l3.0-3.2-2.0-3.3-2.9 3.0z"/><path fill="#edb9af" d="M346.2 77.3l2.0 1.7 3.1-1.5-1.8-1.4z"/><path fill="#e9dad3" d="M392.8 79.0l2.0-1.7-3.3-1.2-1.8 1.4z"/><path fill="#6b5c74" d="M360.6 129.7l5.3 .5-.2-1.1-5.4-.5z"/><path fill="#6a617b" d="M375.1 130.2l5.3-.5 .3-1.1-5.4 .5z"/><path fill="#6b5e78" d="M365.4 130.1l5.3 .2 .0-1.1-5.5-.1z"/><path fill="#6a607a" d="M370.3 130.3l5.3-.2 .2-1.0-5.5 .1z"/><path fill="#e7beb7" d="M354.4 79.7l2.3 1.1 2.1-1.3-2.0-1.0z"/><path fill="#e6d4ce" d="M384.3 80.8l2.3-1.1-2.4-1.2-2.0 1.0z"/><path fill="#f7b6aa" d="M336.3 76.9l2.0 2.3 3.5-2.0-1.8-2.0z"/><path fill="#f6ece4" d="M402.7 79.2l2.0-2.3-3.7-1.7-1.8 2.0z"/><path fill="#f4b9ae" d="M341.3 77.2l2.1 1.9 3.3-1.7-1.8-1.8z"/><path fill="#f1e4dd" d="M397.6 79.1l2.1-1.9-3.6-1.6-1.8 1.8z"/><path fill="#785765" d="M336.4 120.3l4.8 2.1-.4-2.4-4.9-2.1z"/><path fill="#78748e" d="M399.8 122.4l4.8-2.1 .5-2.4-4.9 2.1z"/><path fill="#6e5567" d="M345.9 125.5l5.1 1.5-.5-1.8-5.2-1.5z"/><path fill="#6a647d" d="M390.0 127.0l5.1-1.5 .6-1.8-5.2 1.5z"/><path fill="#b8797a" d="M321.9 99.1l3.4 3.1 1.3-3.6-3.3-3.0z"/><path fill="#babac9" d="M415.7 102.2l3.4-3.1-1.4-3.5-3.3 3.0z"/><path fill="#d58e89" d="M322.2 89.8l2.8 3.1 2.4-3.4-2.8-3.0z"/><path fill="#d8d9de" d="M416.0 92.9l2.8-3.1-2.4-3.3-2.8 3.0z"/><path fill="#e8c1ba" d="M356.5 80.6l2.4 1.0 1.7-1.5-2.1-.9z"/><path fill="#e7d4cf" d="M382.1 81.6l2.4-1.0-2.0-1.4-2.1 .9z"/><path fill="#edbbb2" d="M348.1 78.8l2.2 1.5 2.7-1.6-1.9-1.4z"/><path fill="#e9dad4" d="M390.7 80.3l2.2-1.5-3.0-1.5-1.9 1.4z"/><path fill="#f9b4a9" d="M333.0 78.9l2.2 2.5 3.4-2.4-2.0-2.3z"/><path fill="#f9f2ec" d="M405.8 81.4l2.2-2.5-3.6-2.2-2.0 2.3z"/><path fill="#885f6b" d="M331.7 115.9l4.6 2.3-.1-2.8-4.6-2.4z"/><path fill="#89869f" d="M404.7 118.2l4.6-2.3 .1-2.9-4.6 2.4z"/><path fill="#a97176" d="M324.3 105.1l3.9 2.9 .8-3.5-3.9-2.8z"/><path fill="#aaa9bd" d="M412.8 108.0l3.9-2.9-.8-3.4-3.9 2.8z"/><path fill="#e39a93" d="M324.4 86.8l2.7 2.9 2.7-3.2-2.6-2.8z"/><path fill="#e5e4e6" d="M413.9 89.7l2.7-2.9-2.8-3.1-2.6 2.8z"/><path fill="#e8c4be" d="M358.6 81.4l2.6 .8 1.4-1.5-2.3-.8z"/><path fill="#e7d3cf" d="M379.8 82.2l2.6-.8-1.7-1.5-2.3 .8z"/><path fill="#996871" d="M327.6 110.7l4.3 2.7 .3-3.2-4.3-2.7z"/><path fill="#9997ae" d="M409.1 113.4l4.3-2.7-.3-3.2-4.3 2.7z"/><path fill="#f7afa4" d="M329.9 81.3l2.3 2.6 3.3-2.8-2.2-2.4z"/><path fill="#f9f5f0" d="M408.8 83.9l2.3-2.6-3.4-2.6-2.2 2.4z"/><path fill="#6d576b" d="M350.6 126.9l5.2 1.1-.3-1.7-5.4-1.2z"/><path fill="#6a637d" d="M385.2 128.0l5.2-1.1 .5-1.8-5.4 1.2z"/><path fill="#eea59c" d="M327.0 83.9l2.5 2.8 3.0-3.1-2.4-2.6z"/><path fill="#f0eeed" d="M411.5 86.7l2.5-2.8-3.1-2.9-2.4 2.6z"/><path fill="#f4bcb2" d="M343.2 78.9l2.3 1.8 3.1-2.0-2.1-1.6z"/><path fill="#f2e4de" d="M395.5 80.7l2.3-1.8-3.3-1.8-2.1 1.6z"/><path fill="#f9baaf" d="M338.1 79.0l2.3 2.1 3.3-2.2-2.0-2.0z"/><path fill="#f7ede7" d="M400.6 81.1l2.3-2.1-3.6-2.1-2.0 2.0z"/><path fill="#e8c6c1" d="M360.8 82.1l2.7 .6 1.0-1.6-2.3-.6z"/><path fill="#e7d2ce" d="M377.5 82.7l2.7-.6-1.4-1.6-2.3 .6z"/><path fill="#ecbeb6" d="M350.1 80.1l2.4 1.3 2.4-1.7-2.1-1.3z"/><path fill="#e9d9d4" d="M388.5 81.4l2.4-1.3-2.7-1.7-2.1 1.3z"/><path fill="#c88585" d="M323.1 95.9l3.4 3.0 1.7-3.6-3.2-2.9z"/><path fill="#cacad6" d="M414.5 98.9l3.4-3.0-1.9-3.5-3.2 2.9z"/><path fill="#795a6b" d="M340.7 122.2l5.0 1.8-.3-2.3-5.1-1.8z"/><path fill="#79748e" d="M395.3 124.0l5.0-1.8 .4-2.3-5.1 1.8z"/><path fill="#e8c8c4" d="M363.1 82.6l2.8 .4 .7-1.6-2.4-.5z"/><path fill="#e7d1cd" d="M375.1 83.0l2.8-.4-1.1-1.7-2.4 .5z"/><path fill="#6c5a6f" d="M355.4 127.9l5.3 .9-.2-1.8-5.5-.8z"/><path fill="#6a627c" d="M380.3 128.8l5.3-.9 .4-1.7-5.5 .8z"/><path fill="#e8cbc7" d="M365.5 83.0l2.8 .2 .3-1.7-2.4-.2z"/><path fill="#e8d0cd" d="M372.7 83.2l2.8-.2-.7-1.7-2.4 .2z"/><path fill="#e8cdca" d="M367.9 83.2l2.8 .1 .0-1.7-2.5-.1z"/><path fill="#e8cfcc" d="M370.3 83.3l2.8-.1-.3-1.7-2.5 .1z"/><path fill="#ecc1b9" d="M352.2 81.2l2.6 1.3 2.2-2.0-2.3-1.1z"/><path fill="#e9d9d4" d="M386.2 82.5l2.6-1.3-2.5-1.8-2.3 1.1z"/><path fill="#fbb9af" d="M335.0 81.1l2.5 2.4 3.2-2.7-2.3-2.1z"/><path fill="#fcf4ef" d="M403.5 83.5l2.5-2.4-3.4-2.4-2.3 2.1z"/><path fill="#f5bfb6" d="M345.3 80.5l2.5 1.6 2.8-2.1-2.2-1.5z"/><path fill="#f2e5df" d="M393.2 82.1l2.5-1.6-3.1-2.0-2.2 1.5z"/><path fill="#6c5c73" d="M360.3 128.7l5.4 .5-.1-1.7-5.6-.5z"/><path fill="#6b627b" d="M375.3 129.2l5.4-.5 .3-1.7-5.6 .5z"/><path fill="#b97d81" d="M325.0 102.0l3.8 2.8 1.2-3.6-3.7-2.8z"/><path fill="#bbb9cb" d="M412.2 104.8l3.8-2.8-1.3-3.6-3.7 2.8z"/><path fill="#d7918f" d="M324.8 92.7l3.2 2.9 2.2-3.6-3.1-2.8z"/><path fill="#d8d7e0" d="M413.0 95.6l3.2-2.9-2.3-3.5-3.1 2.8z"/><path fill="#8a6372" d="M335.8 118.1l4.9 2.1-.1-2.9-4.9-2.1z"/><path fill="#8a85a0" d="M400.3 120.2l4.9-2.1 .1-2.9-4.9 2.1z"/><path fill="#6b5f78" d="M365.2 129.2l5.5 .1 .0-1.7-5.6-.1z"/><path fill="#6b617a" d="M370.3 129.3l5.5-.1 .1-1.7-5.6 .1z"/><path fill="#fabeb4" d="M340.2 80.9l2.5 1.9 3.1-2.4-2.3-1.8z"/><path fill="#f8eee9" d="M398.3 82.8l2.5-1.9-3.3-2.3-2.3 1.8z"/><path fill="#7a5e71" d="M345.3 123.9l5.2 1.5-.3-2.4-5.3-1.5z"/><path fill="#7a738f" d="M390.5 125.4l5.2-1.5 .4-2.4-5.3 1.5z"/><path fill="#aa747c" d="M327.8 107.8l4.3 2.6 .7-3.5-4.2-2.6z"/><path fill="#aba8be" d="M408.9 110.4l4.3-2.6-.8-3.5-4.2 2.6z"/><path fill="#ebc2bc" d="M354.6 82.3l2.7 1.0 1.8-2.0-2.4-1.0z"/><path fill="#e9d7d3" d="M383.7 83.3l2.7-1.0-2.1-2.0-2.4 1.0z"/><path fill="#f8b3aa" d="M332.0 83.7l2.7 2.5 3.1-3.0-2.5-2.3z"/><path fill="#f9f4f2" d="M406.3 86.2l2.7-2.5-3.3-2.8-2.5 2.3z"/><path fill="#9a6c78" d="M331.5 113.2l4.6 2.4 .2-3.2-4.5-2.4z"/><path fill="#9a97b0" d="M404.9 115.6l4.6-2.4-.3-3.2-4.5 2.4z"/><path fill="#e49d99" d="M326.9 89.5l3.0 2.8 2.5-3.5-2.9-2.6z"/><path fill="#e6e4e9" d="M411.1 92.3l3.0-2.8-2.6-3.3-2.9 2.6z"/><path fill="#efa9a2" d="M329.3 86.5l2.9 2.6 2.8-3.2-2.7-2.5z"/><path fill="#f2eeef" d="M408.8 89.1l2.9-2.6-3.0-3.1-2.7 2.5z"/><path fill="#f5c2ba" d="M347.6 81.9l2.7 1.6 2.4-2.3-2.4-1.4z"/><path fill="#f2e4df" d="M390.7 83.5l2.7-1.6-2.7-2.1-2.4 1.4z"/><path fill="#eac4bf" d="M357.0 83.2l2.9 .9 1.4-2.2-2.5-.8z"/><path fill="#e8d5d2" d="M381.1 84.1l2.9-.9-1.8-2.1-2.5 .8z"/><path fill="#c9898b" d="M326.1 98.7l3.8 2.8 1.6-3.7-3.6-2.7z"/><path fill="#cac8d7" d="M411.1 101.5l3.8-2.8-1.8-3.6-3.6 2.7z"/><path fill="#7b6277" d="M350.1 125.3l5.3 1.1-.2-2.3-5.4-1.2z"/><path fill="#7b738f" d="M385.6 126.4l5.3-1.1 .3-2.4-5.4 1.2z"/><path fill="#fbbcb4" d="M337.3 83.2l2.8 2.2 2.9-2.8-2.5-2.0z"/><path fill="#fcf3f0" d="M400.9 85.4l2.8-2.2-3.2-2.6-2.5 2.0z"/><path fill="#8b6778" d="M340.3 120.1l5.0 1.7 .0-2.8-5.1-1.8z"/><path fill="#8b85a1" d="M395.7 121.8l5.0-1.7 .1-2.9-5.1 1.8z"/><path fill="#fac1b8" d="M342.5 82.6l2.8 1.9 2.8-2.6-2.5-1.7z"/><path fill="#f8ece9" d="M395.7 84.5l2.8-1.9-3.1-2.4-2.5 1.7z"/><path fill="#eac6c2" d="M359.5 83.9l3.0 .7 1.1-2.2-2.6-.6z"/><path fill="#e8d4d1" d="M378.5 84.6l3.0-.7-1.5-2.1-2.6 .6z"/><path fill="#f3c4be" d="M350.0 83.3l2.9 1.3 2.1-2.4-2.5-1.3z"/><path fill="#f1e1de" d="M388.1 84.6l2.9-1.3-2.5-2.4-2.5 1.3z"/><path fill="#e9c9c5" d="M362.1 84.5l3.1 .5 .7-2.2-2.7-.5z"/><path fill="#e8d2d0" d="M375.8 85.0l3.1-.5-1.1-2.2-2.7 .5z"/><path fill="#bb8188" d="M328.5 104.6l4.1 2.6 1.1-3.7-4.0-2.5z"/><path fill="#bbb8cd" d="M408.4 107.2l4.1-2.6-1.2-3.6-4.0 2.5z"/><path fill="#d89595" d="M327.7 95.4l3.6 2.6 2.0-3.6-3.4-2.6z"/><path fill="#d9d6e2" d="M409.7 98.0l3.6-2.6-2.2-3.6-3.4 2.6z"/><path fill="#7c667d" d="M355.0 126.4l5.5 .8-.2-2.3-5.5-.9z"/><path fill="#7b728e" d="M380.5 127.2l5.5-.8 .2-2.4-5.5 .9z"/><path fill="#f9b7b0" d="M334.5 85.9l3.0 2.3 2.8-3.1-2.8-2.1z"/><path fill="#fbf4f4" d="M403.5 88.2l3.0-2.3-3.0-2.9-2.8 2.1z"/><path fill="#9b707f" d="M335.7 115.5l4.8 2.1 .2-3.3-4.8-2.1z"/><path fill="#9b96b1" d="M400.5 117.6l4.8-2.1-.2-3.3-4.8 2.1z"/><path fill="#e9cbc9" d="M364.8 84.9l3.1 .3 .4-2.3-2.8-.2z"/><path fill="#e8d1cf" d="M373.1 85.2l3.1-.3-.7-2.2-2.8 .2z"/><path fill="#e9cecc" d="M367.6 85.2l3.1 .1 .0-2.3-2.8-.1z"/><path fill="#e9d0ce" d="M370.3 85.3l3.1-.1-.3-2.3-2.8 .1z"/><path fill="#ab7983" d="M331.7 110.3l4.5 2.3 .7-3.5-4.5-2.3z"/><path fill="#aba7c0" d="M404.8 112.6l4.5-2.3-.7-3.5-4.5 2.3z"/><path fill="#e5a2a0" d="M329.7 92.1l3.4 2.6 2.3-3.6-3.2-2.5z"/><path fill="#e7e3eb" d="M407.9 94.7l3.4-2.6-2.5-3.5-3.2 2.5z"/><path fill="#f1aea9" d="M332.0 88.9l3.2 2.5 2.6-3.5-3.0-2.2z"/><path fill="#f4eef2" d="M405.8 91.4l3.2-2.5-2.8-3.2-3.0 2.2z"/><path fill="#7c6a83" d="M360.0 127.2l5.6 .4-.1-2.2-5.6-.6z"/><path fill="#7c718e" d="M375.4 127.6l5.6-.4 .1-2.4-5.6 .6z"/><path fill="#f9c3bd" d="M345.0 84.2l3.0 1.7 2.5-2.8-2.7-1.4z"/><path fill="#f7eae8" d="M393.0 85.9l3.0-1.7-2.8-2.5-2.7 1.4z"/><path fill="#f3c6c1" d="M352.6 84.4l3.1 1.2 1.8-2.6-2.7-1.0z"/><path fill="#f1dfdd" d="M385.3 85.6l3.1-1.2-2.2-2.4-2.7 1.0z"/><path fill="#8c6c7f" d="M344.9 121.7l5.3 1.5-.1-2.8-5.3-1.5z"/><path fill="#8b84a1" d="M390.8 123.2l5.3-1.5 .1-2.8-5.3 1.5z"/><path fill="#fcbfb9" d="M339.8 85.2l3.1 1.9 2.6-2.9-2.7-1.9z"/><path fill="#fcf1f1" d="M398.1 87.1l3.1-1.9-3.0-2.9-2.7 1.9z"/><path fill="#7c6e89" d="M365.1 127.6l5.6 .2 .0-2.3-5.7-.2z"/><path fill="#7c708c" d="M370.3 127.8l5.6-.2 .1-2.3-5.7 .2z"/><path fill="#ca8d92" d="M329.5 101.3l4.1 2.5 1.5-3.8-4.0-2.4z"/><path fill="#cbc7d9" d="M407.4 103.8l4.1-2.5-1.6-3.7-4.0 2.4z"/><path fill="#f2c9c5" d="M355.3 85.4l3.2 1.0 1.5-2.7-2.8-.8z"/><path fill="#f0dddc" d="M382.5 86.4l3.2-1.0-1.9-2.5-2.8 .8z"/><path fill="#9c7586" d="M340.1 117.4l5.1 1.8 .2-3.2-5.1-1.8z"/><path fill="#9c95b2" d="M395.8 119.2l5.1-1.8-.2-3.2-5.1 1.8z"/><path fill="#fabcb8" d="M337.3 88.0l3.2 2.1 2.6-3.3-3.0-1.9z"/><path fill="#fcf4f7" d="M400.5 90.1l3.2-2.1-2.8-3.1-3.0 1.9z"/><path fill="#f8c6c1" d="M347.8 85.7l3.1 1.5 2.2-2.9-2.9-1.3z"/><path fill="#f7e8e7" d="M390.1 87.2l3.1-1.5-2.4-2.7-2.9 1.3z"/><path fill="#8c7086" d="M349.7 123.1l5.5 1.2-.1-2.8-5.4-1.2z"/><path fill="#8c83a1" d="M385.8 124.3l5.5-1.2 .0-2.8-5.4 1.2z"/><path fill="#bc858f" d="M332.3 107.0l4.4 2.4 1.0-3.8-4.3-2.2z"/><path fill="#bcb7ce" d="M404.3 109.4l4.4-2.4-1.1-3.6-4.3 2.2z"/><path fill="#d99a9d" d="M331.0 97.9l3.9 2.4 1.8-3.8-3.7-2.3z"/><path fill="#dad6e4" d="M406.1 100.3l3.9-2.4-2.0-3.7-3.7 2.3z"/><path fill="#f1cbc9" d="M358.2 86.3l3.3 .7 1.1-2.7-2.9-.7z"/><path fill="#f0dcdb" d="M379.5 87.0l3.3-.7-1.5-2.7-2.9 .7z"/><path fill="#ac7d8b" d="M335.8 112.5l4.9 2.1 .5-3.6-4.7-2.0z"/><path fill="#aca6c1" d="M400.3 114.6l4.9-2.1-.7-3.5-4.7 2.0z"/><path fill="#fcc3bf" d="M342.6 86.9l3.3 1.8 2.4-3.1-3.0-1.6z"/><path fill="#fcf0f1" d="M395.1 88.7l3.3-1.8-2.7-2.9-3.0 1.6z"/><path fill="#f3b3b1" d="M334.9 91.2l3.5 2.2 2.4-3.6-3.3-2.1z"/><path fill="#f6eff6" d="M402.6 93.4l3.5-2.2-2.6-3.5-3.3 2.1z"/><path fill="#e7a7a7" d="M332.8 94.5l3.7 2.3 2.1-3.7-3.5-2.2z"/><path fill="#eae4ee" d="M404.5 96.8l3.7-2.3-2.3-3.6-3.5 2.2z"/><path fill="#f1cecd" d="M361.1 86.9l3.4 .6 .8-2.8-3.1-.5z"/><path fill="#f0dada" d="M376.5 87.5l3.4-.6-1.1-2.7-3.1 .5z"/><path fill="#8d748d" d="M354.7 124.3l5.6 .8 .0-2.8-5.6-.9z"/><path fill="#8d82a0" d="M380.7 125.1l5.6-.8 .0-2.9-5.6 .9z"/><path fill="#f8c9c6" d="M350.7 87.0l3.3 1.3 1.8-3.0-3.0-1.2z"/><path fill="#f6e6e7" d="M387.0 88.3l3.3-1.3-2.1-2.9-3.0 1.2z"/><path fill="#f1d2d1" d="M364.2 87.4l3.4 .3 .4-2.8-3.1-.3z"/><path fill="#f0d9d9" d="M373.4 87.7l3.4-.3-.7-2.8-3.1 .3z"/><path fill="#f1d5d5" d="M367.2 87.7l3.5 .1 .0-2.8-3.1-.1z"/><path fill="#f1d7d8" d="M370.3 87.8l3.5-.1-.4-2.8-3.1 .1z"/><path fill="#cb9299" d="M333.3 103.6l4.3 2.3 1.3-3.8-4.2-2.2z"/><path fill="#ccc6da" d="M403.4 105.9l4.3-2.3-1.4-3.7-4.2 2.2z"/><path fill="#9d798d" d="M344.8 119.1l5.3 1.5 .1-3.2-5.2-1.5z"/><path fill="#9d94b2" d="M390.9 120.6l5.3-1.5-.2-3.2-5.2 1.5z"/><path fill="#8d7994" d="M359.9 125.0l5.6 .6 .0-2.9-5.7-.5z"/><path fill="#8d819f" d="M375.5 125.6l5.6-.6 .1-2.8-5.7 .5z"/><path fill="#fdc2c0" d="M340.3 90.0l3.5 1.9 2.3-3.5-3.3-1.8z"/><path fill="#fff4f9" d="M397.2 91.9l3.5-1.9-2.5-3.4-3.3 1.8z"/><path fill="#fdc7c5" d="M345.6 88.5l3.5 1.6 2.0-3.3-3.1-1.4z"/><path fill="#fdeff2" d="M391.9 90.1l3.5-1.6-2.4-3.1-3.1 1.4z"/><path fill="#8e7d9a" d="M365.0 125.5l5.7 .2 .0-2.8-5.7-.2z"/><path fill="#8e809e" d="M370.3 125.7l5.7-.2 .0-2.8-5.7 .2z"/><path fill="#bd8a96" d="M336.4 109.2l4.7 2.1 .9-3.8-4.7-2.0z"/><path fill="#bcb6cf" d="M399.9 111.3l4.7-2.1-.9-3.7-4.7 2.0z"/><path fill="#f7ccca" d="M353.7 88.1l3.5 1.1 1.5-3.1-3.2-1.0z"/><path fill="#f6e4e6" d="M383.8 89.2l3.5-1.1-1.8-3.0-3.2 1.0z"/><path fill="#ad8292" d="M340.3 114.5l5.0 1.7 .5-3.5-5.0-1.8z"/><path fill="#ada5c1" d="M395.7 116.2l5.0-1.7-.5-3.6-5.0 1.8z"/><path fill="#da9fa4" d="M334.6 100.1l4.1 2.3 1.7-3.9-4.0-2.2z"/><path fill="#dcd5e6" d="M402.3 102.4l4.1-2.3-1.8-3.8-4.0 2.2z"/><path fill="#f7babb" d="M338.1 93.2l3.8 2.0 2.1-3.7-3.5-1.8z"/><path fill="#faf1fa" d="M399.1 95.2l3.8-2.0-2.4-3.5-3.5 1.8z"/><path fill="#eaadb0" d="M336.2 96.6l4.0 2.2 1.9-3.9-3.8-2.0z"/><path fill="#ede5f2" d="M400.8 98.8l4.0-2.2-2.1-3.7-3.8 2.0z"/><path fill="#9e7e94" d="M349.6 120.5l5.5 1.2 .1-3.2-5.4-1.2z"/><path fill="#9d93b2" d="M385.9 121.7l5.5-1.2-.2-3.2-5.4 1.2z"/><path fill="#f7cfcf" d="M356.9 89.0l3.6 .9 1.1-3.2-3.3-.8z"/><path fill="#f6e2e5" d="M380.5 89.9l3.6-.9-1.4-3.1-3.3 .8z"/><path fill="#fdcccb" d="M348.8 90.0l3.6 1.3 1.8-3.4-3.4-1.2z"/><path fill="#fdeef2" d="M388.6 91.3l3.6-1.3-2.0-3.3-3.4 1.2z"/><path fill="#ffc8c8" d="M343.5 91.7l3.8 1.7 1.9-3.6-3.4-1.6z"/><path fill="#fff5fc" d="M393.7 93.4l3.8-1.7-2.3-3.5-3.4 1.6z"/><path fill="#cc97a1" d="M337.2 105.8l4.6 2.0 1.2-3.9-4.5-2.0z"/><path fill="#cdc5db" d="M399.2 107.8l4.6-2.0-1.3-3.9-4.5 2.0z"/><path fill="#f7d3d4" d="M360.1 89.8l3.7 .6 .8-3.3-3.4-.5z"/><path fill="#f6e1e4" d="M377.2 90.4l3.7-.6-1.1-3.2-3.4 .5z"/><path fill="#9e839c" d="M354.7 121.7l5.5 .8 .1-3.3-5.5-.8z"/><path fill="#9e92b1" d="M380.8 122.5l5.5-.8-.1-3.3-5.5 .8z"/><path fill="#ae879a" d="M344.9 116.1l5.3 1.5 .3-3.6-5.1-1.4z"/><path fill="#ada4c1" d="M390.8 117.6l5.3-1.5-.5-3.5-5.1 1.4z"/><path fill="#f7d7d9" d="M363.5 90.3l3.7 .4 .4-3.3-3.4-.3z"/><path fill="#f7dfe3" d="M373.8 90.7l3.7-.4-.7-3.2-3.4 .3z"/><path fill="#be8f9e" d="M340.7 111.2l5.0 1.7 .7-3.8-4.8-1.7z"/><path fill="#bdb5cf" d="M395.3 112.9l5.0-1.7-.9-3.8-4.8 1.7z"/><path fill="#f7dbde" d="M366.9 90.6l3.8 .1 .0-3.2-3.4-.1z"/><path fill="#f7dee1" d="M370.3 90.7l3.8-.1-.4-3.2-3.4 .1z"/><path fill="#fbc3c5" d="M341.6 95.1l4.0 1.8 1.8-3.8-3.7-1.7z"/><path fill="#fff4ff" d="M395.4 96.9l4.0-1.8-2.1-3.7-3.7 1.7z"/><path fill="#fed0d2" d="M352.1 91.2l3.8 1.1 1.4-3.5-3.5-1.0z"/><path fill="#feecf2" d="M385.1 92.3l3.8-1.1-1.7-3.4-3.5 1.0z"/><path fill="#dda5ad" d="M338.4 102.2l4.4 2.0 1.4-4.0-4.2-1.9z"/><path fill="#ded6e8" d="M398.2 104.2l4.4-2.0-1.6-3.9-4.2 1.9z"/><path fill="#9f88a3" d="M359.8 122.5l5.7 .5 .0-3.3-5.6-.5z"/><path fill="#9f91b0" d="M375.5 123.0l5.7-.5-.1-3.3-5.6 .5z"/><path fill="#edb5bb" d="M339.9 98.6l4.2 1.9 1.6-4.0-4.0-1.7z"/><path fill="#f1e8f7" d="M396.9 100.5l4.2-1.9-1.8-3.8-4.0 1.7z"/><path fill="#9f8daa" d="M365.0 122.9l5.7 .2 .0-3.3-5.6-.1z"/><path fill="#9f90ae" d="M370.3 123.1l5.7-.2-.1-3.2-5.6 .1z"/><path fill="#ffcfd2" d="M346.9 93.2l4.0 1.5 1.6-3.7-3.6-1.4z"/><path fill="#fff7ff" d="M390.1 94.7l4.0-1.5-2.0-3.6-3.6 1.4z"/><path fill="#af8ca2" d="M349.8 117.5l5.4 1.2 .2-3.6-5.3-1.2z"/><path fill="#aea3c1" d="M385.8 118.7l5.4-1.2-.3-3.6-5.3 1.2z"/><path fill="#ffd5d8" d="M355.6 92.2l3.9 .9 1.1-3.6-3.6-.8z"/><path fill="#ffebf2" d="M381.5 93.1l3.9-.9-1.4-3.5-3.6 .8z"/><path fill="#ce9caa" d="M341.5 107.7l4.8 1.7 1.0-4.0-4.7-1.7z"/><path fill="#cec4dc" d="M394.7 109.4l4.8-1.7-1.1-4.0-4.7 1.7z"/><path fill="#be94a6" d="M345.3 112.8l5.2 1.5 .5-3.9-5.0-1.4z"/><path fill="#beb3cf" d="M390.5 114.3l5.2-1.5-.7-3.8-5.0 1.4z"/><path fill="#ffccd1" d="M345.3 96.7l4.2 1.6 1.5-4.0-3.9-1.4z"/><path fill="#fff8ff" d="M391.5 98.3l4.2-1.6-1.8-3.8-3.9 1.4z"/><path fill="#ffdadf" d="M359.1 93.0l4.1 .6 .7-3.6-3.7-.6z"/><path fill="#ffeaf1" d="M377.8 93.6l4.1-.6-1.1-3.6-3.7 .6z"/><path fill="#ffd7db" d="M350.6 94.5l4.1 1.2 1.3-3.7-3.8-1.1z"/><path fill="#fff8ff" d="M386.3 95.7l4.1-1.2-1.6-3.6-3.8 1.1z"/><path fill="#af91aa" d="M354.7 118.7l5.6 .8 .2-3.7-5.5-.8z"/><path fill="#afa2c0" d="M380.7 119.5l5.6-.8-.3-3.7-5.5 .8z"/><path fill="#dfacb7" d="M342.5 104.0l4.7 1.7 1.1-4.1-4.4-1.6z"/><path fill="#e1d7eb" d="M393.8 105.7l4.7-1.7-1.4-4.0-4.4 1.6z"/><path fill="#f2bec6" d="M343.8 100.3l4.4 1.7 1.4-4.1-4.2-1.5z"/><path fill="#f7ebfc" d="M392.8 102.0l4.4-1.7-1.6-3.9-4.2 1.5z"/><path fill="#ffdfe5" d="M362.8 93.6l4.1 .4 .4-3.7-3.8-.3z"/><path fill="#ffe9f0" d="M374.1 94.0l4.1-.4-.7-3.6-3.8 .3z"/><path fill="#ffe4eb" d="M366.6 93.9l4.1 .2 .0-3.7-3.8-.1z"/><path fill="#ffe7ef" d="M370.3 94.1l4.1-.2-.3-3.6-3.8 .1z"/><path fill="#b096b1" d="M359.9 119.4l5.6 .6 .1-3.7-5.6-.5z"/><path fill="#afa0bf" d="M375.5 120.0l5.6-.6-.1-3.6-5.6 .5z"/><path fill="#cfa2b2" d="M345.9 109.3l5.1 1.4 .7-4.0-4.8-1.4z"/><path fill="#cfc4dd" d="M390.0 110.7l5.1-1.4-1.0-4.0-4.8 1.4z"/><path fill="#bf9aae" d="M350.1 114.2l5.3 1.2 .4-3.9-5.2-1.2z"/><path fill="#bfb2cf" d="M385.6 115.4l5.3-1.2-.5-3.9-5.2 1.2z"/><path fill="#ffdee5" d="M354.3 95.6l4.3 1.0 1.0-3.9-3.9-.8z"/><path fill="#fff9ff" d="M382.4 96.6l4.3-1.0-1.4-3.7-3.9 .8z"/><path fill="#b09cb9" d="M365.1 119.9l5.6 .2 .0-3.7-5.6-.1z"/><path fill="#b09fbd" d="M370.3 120.1l5.6-.2 .0-3.6-5.6 .1z"/><path fill="#ffd6de" d="M349.1 98.1l4.4 1.3 1.3-4.0-4.1-1.2z"/><path fill="#fffcff" d="M387.5 99.4l4.4-1.3-1.6-3.9-4.1 1.2z"/><path fill="#e2b4c2" d="M346.8 105.6l4.9 1.4 .9-4.1-4.6-1.4z"/><path fill="#e5d8ee" d="M389.3 107.0l4.9-1.4-1.2-4.1-4.6 1.4z"/><path fill="#f8c8d3" d="M347.9 101.8l4.6 1.4 1.1-4.1-4.4-1.3z"/><path fill="#fdefff" d="M388.5 103.2l4.6-1.4-1.3-4.0-4.4 1.3z"/><path fill="#ffe6ee" d="M358.2 96.5l4.4 .7 .6-3.9-4.0-.6z"/><path fill="#fff9ff" d="M378.4 97.2l4.4-.7-1.0-3.8-4.0 .6z"/><path fill="#c09fb6" d="M355.0 115.3l5.4 .8 .3-3.9-5.3-.8z"/><path fill="#bfb1ce" d="M380.6 116.1l5.4-.8-.4-3.9-5.3 .8z"/><path fill="#d1a9bb" d="M350.6 110.6l5.2 1.2 .6-4.1-5.1-1.1z"/><path fill="#d1c3dd" d="M385.2 111.8l5.2-1.2-.7-4.0-5.1 1.1z"/><path fill="#ffe1eb" d="M353.2 99.3l4.5 1.0 .9-4.0-4.2-1.0z"/><path fill="#ffffff" d="M383.3 100.3l4.5-1.0-1.2-4.0-4.2 1.0z"/><path fill="#ffedf7" d="M362.2 97.1l4.4 .4 .3-3.9-4.0-.4z"/><path fill="#fff9ff" d="M374.4 97.5l4.4-.4-.7-3.9-4.0 .4z"/><path fill="#fff4ff" d="M366.2 97.5l4.5 .2 .0-4.0-4.1-.1z"/><path fill="#fff8ff" d="M370.3 97.7l4.5-.2-.4-3.9-4.1 .1z"/><path fill="#c1a5bf" d="M360.0 116.1l5.5 .5 .2-4.0-5.4-.4z"/><path fill="#c0b0cd" d="M375.5 116.6l5.5-.5-.3-3.9-5.4 .4z"/><path fill="#e6bdcd" d="M351.3 106.9l5.0 1.1 .7-4.2-4.8-1.0z"/><path fill="#e9daf1" d="M384.7 108.0l5.0-1.1-.9-4.1-4.8 1.0z"/><path fill="#fed4e1" d="M352.2 103.1l4.7 1.0 .9-4.1-4.5-1.0z"/><path fill="#fff3ff" d="M384.1 104.1l4.7-1.0-1.1-4.1-4.5 1.0z"/><path fill="#c1aac6" d="M365.1 116.6l5.6 .1 .0-3.9-5.4-.2z"/><path fill="#c1aecb" d="M370.3 116.7l5.6-.1-.2-4.0-5.4 .2z"/><path fill="#ffecf8" d="M357.3 100.2l4.7 .7 .6-4.0-4.3-.7z"/><path fill="#ffffff" d="M379.0 100.9l4.7-.7-1.0-4.0-4.3 .7z"/><path fill="#d2afc5" d="M355.4 111.7l5.3 .8 .4-4.1-5.1-.8z"/><path fill="#d3c3dd" d="M380.3 112.5l5.3-.8-.6-4.1-5.1 .8z"/><path fill="#fff6ff" d="M361.6 100.9l4.7 .4 .3-4.1-4.4-.4z"/><path fill="#ffffff" d="M374.7 101.3l4.7-.4-.6-4.1-4.4 .4z"/><path fill="#ffdfee" d="M356.6 104.1l4.9 .7 .5-4.2-4.6-.7z"/><path fill="#fff7ff" d="M379.5 104.8l4.9-.7-.8-4.2-4.6 .7z"/><path fill="#eac6d8" d="M355.9 107.9l5.1 .8 .5-4.2-4.9-.8z"/><path fill="#eddbf3" d="M380.0 108.7l5.1-.8-.7-4.2-4.9 .8z"/><path fill="#d4b6ce" d="M360.3 112.5l5.4 .4 .2-4.1-5.2-.5z"/><path fill="#d4c2dd" d="M375.3 112.9l5.4-.4-.4-4.2-5.2 .5z"/><path fill="#ffffff" d="M365.9 101.3l4.8 .2 .0-4.2-4.4-.1z"/><path fill="#ffffff" d="M370.3 101.5l4.8-.2-.4-4.1-4.4 .1z"/><path fill="#d5bcd6" d="M365.3 112.9l5.4 .2 .0-4.1-5.2-.2z"/><path fill="#d5c0db" d="M370.3 113.1l5.4-.2-.2-4.1-5.2 .2z"/><path fill="#ffeafb" d="M361.1 104.8l5.0 .4 .2-4.2-4.7-.4z"/><path fill="#fff8ff" d="M374.9 105.2l5.0-.4-.5-4.2-4.7 .4z"/><path fill="#eecee3" d="M360.7 108.7l5.1 .4 .3-4.2-5.0-.5z"/><path fill="#efdcf4" d="M375.2 109.1l5.1-.4-.4-4.3-5.0 .5z"/><path fill="#fff3ff" d="M365.7 105.2l5.0 .2 .0-4.3-4.7-.1z"/><path fill="#fff8ff" d="M370.3 105.4l5.0-.2-.3-4.2-4.7 .1z"/><path fill="#f0d6ed" d="M365.5 109.1l5.2 .2 .0-4.3-5.0-.1z"/><path fill="#f1dbf2" d="M370.3 109.3l5.2-.2-.2-4.2-5.0 .1z"/></g></g>
<clipPath id="hc1"><path d="M350.5,66.78 L352.5,67.94 L354.5,69.5 L356.5,71.41 L358.5,74.11 L360.5,78.17 L362.5,79.15 L364.5,79.82 L366.5,80.26 L368.5,80.52 L370.5,80.62 L372.5,80.52 L374.5,80.26 L376.5,79.82 L378.5,79.3 L380.5,78.6 L382.5,77.2 L384.5,75.2 L386.5,72.6 L388.5,69.6 L390.5,66.8 L390.5,36.1 L350.5,36.1 Z"/></clipPath><ellipse cx="362" cy="66.1" rx="12" ry="9.5" fill="url(#hw)" opacity="0.92"/><g clip-path="url(#hc1)"><ellipse cx="373" cy="74.1" rx="13.5" ry="10.5" fill="url(#hl)"/><ellipse cx="378" cy="73.1" rx="10.5" ry="9.5" fill="url(#hd)"/></g>
<clipPath id="ts225"><path d="M536.11,82.15 L536.20,84.25 L536.40,86.35 L536.70,88.43 L537.11,90.49 L537.60,92.53 L538.21,94.53 L538.90,96.51 L539.68,98.44 L540.56,100.33 L541.51,102.17 L542.55,103.96 L543.67,105.69 L544.85,107.37 L546.10,108.98 L547.40,110.54 L548.77,112.03 L550.18,113.46 L551.64,114.83 L553.15,116.12 L554.68,117.37 L556.25,118.54 L557.86,119.64 L559.48,120.70 L561.14,121.67 L562.79,122.60 L564.47,123.47 L566.16,124.29 L567.86,125.04 L569.58,125.74 L571.30,126.38 L573.02,126.99 L574.74,127.54 L576.47,128.04 L578.21,128.49 L579.95,128.89 L581.68,129.25 L583.41,129.56 L585.15,129.84 L586.88,130.07 L588.61,130.26 L590.35,130.40 L592.08,130.53 L593.81,130.59 L595.54,130.62 L597.26,130.62 L598.99,130.59 L600.72,130.53 L602.45,130.40 L604.19,130.26 L605.92,130.07 L607.65,129.84 L609.39,129.56 L611.12,129.25 L612.85,128.89 L614.59,128.49 L616.33,128.04 L618.06,127.54 L619.78,126.99 L621.50,126.38 L623.22,125.74 L624.94,125.04 L626.64,124.29 L628.33,123.47 L630.01,122.60 L631.66,121.67 L633.32,120.70 L634.94,119.64 L636.55,118.54 L638.12,117.37 L639.65,116.12 L641.16,114.83 L642.62,113.46 L644.03,112.03 L645.40,110.54 L646.70,108.98 L647.95,107.37 L649.13,105.69 L650.25,103.96 L651.29,102.17 L652.24,100.33 L653.12,98.44 L653.90,96.51 L654.59,94.53 L655.20,92.53 L655.69,90.49 L656.10,88.43 L656.40,86.35 L656.60,84.25 L656.69,82.15 L656.69,80.05 L656.60,77.95 L656.40,75.85 L656.10,73.77 L655.69,71.71 L655.20,69.67 L654.59,67.67 L653.90,65.69 L653.12,63.76 L652.24,61.87 L651.29,60.03 L650.25,58.24 L649.13,56.51 L647.95,54.83 L646.70,53.22 L645.40,51.66 L644.03,50.17 L642.62,48.74 L641.16,47.37 L639.65,46.08 L638.12,44.83 L636.55,43.66 L634.94,42.56 L633.32,41.50 L631.66,40.53 L630.01,39.60 L628.33,38.73 L626.64,37.91 L624.94,37.16 L623.22,36.46 L621.50,35.82 L619.78,35.21 L618.06,34.66 L616.33,34.16 L614.59,33.71 L612.85,33.31 L611.12,32.95 L609.39,32.64 L607.65,32.36 L605.92,32.13 L604.19,31.94 L602.45,31.80 L600.72,31.67 L598.99,31.61 L597.26,31.58 L595.54,31.58 L593.81,31.61 L592.08,31.67 L590.35,31.80 L588.61,31.94 L586.88,32.13 L585.15,32.36 L583.41,32.64 L581.68,32.95 L579.95,33.31 L578.21,33.71 L576.47,34.16 L574.74,34.66 L573.02,35.21 L571.30,35.82 L569.58,36.46 L567.86,37.16 L566.16,37.91 L564.47,38.73 L562.79,39.60 L561.14,40.53 L559.48,41.50 L557.86,42.56 L556.25,43.66 L554.68,44.83 L553.15,46.08 L551.64,47.37 L550.18,48.74 L548.77,50.17 L547.40,51.66 L546.10,53.22 L544.85,54.83 L543.67,56.51 L542.55,58.24 L541.51,60.03 L540.56,61.87 L539.68,63.76 L538.90,65.69 L538.21,67.67 L537.60,69.67 L537.11,71.71 L536.70,73.77 L536.40,75.85 L536.20,77.95 L536.11,80.05 Z"/></clipPath>
<path d="M536.11,82.15 L536.20,84.25 L536.40,86.35 L536.70,88.43 L537.11,90.49 L537.60,92.53 L538.21,94.53 L538.90,96.51 L539.68,98.44 L540.56,100.33 L541.51,102.17 L542.55,103.96 L543.67,105.69 L544.85,107.37 L546.10,108.98 L547.40,110.54 L548.77,112.03 L550.18,113.46 L551.64,114.83 L553.15,116.12 L554.68,117.37 L556.25,118.54 L557.86,119.64 L559.48,120.70 L561.14,121.67 L562.79,122.60 L564.47,123.47 L566.16,124.29 L567.86,125.04 L569.58,125.74 L571.30,126.38 L573.02,126.99 L574.74,127.54 L576.47,128.04 L578.21,128.49 L579.95,128.89 L581.68,129.25 L583.41,129.56 L585.15,129.84 L586.88,130.07 L588.61,130.26 L590.35,130.40 L592.08,130.53 L593.81,130.59 L595.54,130.62 L597.26,130.62 L598.99,130.59 L600.72,130.53 L602.45,130.40 L604.19,130.26 L605.92,130.07 L607.65,129.84 L609.39,129.56 L611.12,129.25 L612.85,128.89 L614.59,128.49 L616.33,128.04 L618.06,127.54 L619.78,126.99 L621.50,126.38 L623.22,125.74 L624.94,125.04 L626.64,124.29 L628.33,123.47 L630.01,122.60 L631.66,121.67 L633.32,120.70 L634.94,119.64 L636.55,118.54 L638.12,117.37 L639.65,116.12 L641.16,114.83 L642.62,113.46 L644.03,112.03 L645.40,110.54 L646.70,108.98 L647.95,107.37 L649.13,105.69 L650.25,103.96 L651.29,102.17 L652.24,100.33 L653.12,98.44 L653.90,96.51 L654.59,94.53 L655.20,92.53 L655.69,90.49 L656.10,88.43 L656.40,86.35 L656.60,84.25 L656.69,82.15 L656.69,80.05 L656.60,77.95 L656.40,75.85 L656.10,73.77 L655.69,71.71 L655.20,69.67 L654.59,67.67 L653.90,65.69 L653.12,63.76 L652.24,61.87 L651.29,60.03 L650.25,58.24 L649.13,56.51 L647.95,54.83 L646.70,53.22 L645.40,51.66 L644.03,50.17 L642.62,48.74 L641.16,47.37 L639.65,46.08 L638.12,44.83 L636.55,43.66 L634.94,42.56 L633.32,41.50 L631.66,40.53 L630.01,39.60 L628.33,38.73 L626.64,37.91 L624.94,37.16 L623.22,36.46 L621.50,35.82 L619.78,35.21 L618.06,34.66 L616.33,34.16 L614.59,33.71 L612.85,33.31 L611.12,32.95 L609.39,32.64 L607.65,32.36 L605.92,32.13 L604.19,31.94 L602.45,31.80 L600.72,31.67 L598.99,31.61 L597.26,31.58 L595.54,31.58 L593.81,31.61 L592.08,31.67 L590.35,31.80 L588.61,31.94 L586.88,32.13 L585.15,32.36 L583.41,32.64 L581.68,32.95 L579.95,33.31 L578.21,33.71 L576.47,34.16 L574.74,34.66 L573.02,35.21 L571.30,35.82 L569.58,36.46 L567.86,37.16 L566.16,37.91 L564.47,38.73 L562.79,39.60 L561.14,40.53 L559.48,41.50 L557.86,42.56 L556.25,43.66 L554.68,44.83 L553.15,46.08 L551.64,47.37 L550.18,48.74 L548.77,50.17 L547.40,51.66 L546.10,53.22 L544.85,54.83 L543.67,56.51 L542.55,58.24 L541.51,60.03 L540.56,61.87 L539.68,63.76 L538.90,65.69 L538.21,67.67 L537.60,69.67 L537.11,71.71 L536.70,73.77 L536.40,75.85 L536.20,77.95 L536.11,80.05 Z" fill="url(#tul)"/>
<g clip-path="url(#ts225)"><g filter="url(#tb)"><path fill="#ac6c43" d="M601.3 31.7l-5.1-.1 .0 .2 4.8 .2z"/><path fill="#ab6a41" d="M596.6 31.6l-5.1 .1 .3 .3 4.8-.2z"/><path fill="#aa6941" d="M592.0 31.7l-5.0 .5 .5 .2 4.8-.5z"/><path fill="#ac7047" d="M605.8 32.2l-5.0-.5-.3 .2 4.8 .5z"/><path fill="#ad754c" d="M610.4 32.9l-5.0-.8-.6 .2 4.8 .8z"/><path fill="#aa6942" d="M587.4 32.1l-5.0 .8 .8 .2 4.8-.8z"/><path fill="#ae7951" d="M614.8 33.8l-4.9-1.0-.8 .2 4.6 1.0z"/><path fill="#aa6943" d="M582.9 32.8l-4.9 1.0 1.1 .2 4.6-1.0z"/><path fill="#b07f58" d="M619.0 35.1l-4.7-1.4-1.0 .2 4.5 1.3z"/><path fill="#ab6945" d="M578.5 33.7l-4.7 1.4 1.2 .1 4.5-1.3z"/><path fill="#bb774a" d="M601.0 31.9l-4.8-.1 .0 .9 4.5 .2z"/><path fill="#bb7548" d="M596.6 31.8l-4.8 .1 .3 1.0 4.5-.2z"/><path fill="#bc7b4e" d="M605.3 32.3l-4.8-.4-.3 .9 4.5 .4z"/><path fill="#ba7448" d="M592.3 31.9l-4.8 .4 .6 .9 4.5-.4z"/><path fill="#b2845e" d="M623.1 36.6l-4.5-1.7-1.3 .1 4.3 1.6z"/><path fill="#ac6a47" d="M574.2 34.9l-4.5 1.7 1.5 .0 4.3-1.6z"/><path fill="#bd7f53" d="M609.6 33.0l-4.7-.7-.6 .9 4.4 .7z"/><path fill="#ba7349" d="M587.9 32.3l-4.7 .7 .9 .9 4.4-.7z"/><path fill="#be8459" d="M613.7 33.9l-4.6-1.0-.9 .9 4.4 .9z"/><path fill="#ba734a" d="M583.7 32.9l-4.6 1.0 1.1 .8 4.4-.9z"/><path fill="#ad6b4a" d="M570.1 36.4l-4.3 1.9 1.7 .0 4.1-1.9z"/><path fill="#b48a65" d="M627.0 38.3l-4.3-1.9-1.5 .0 4.1 1.9z"/><path fill="#a16348" d="M560.9 40.8l-4.0 2.6 1.8-.9 3.9-2.4z"/><path fill="#aa8c6d" d="M635.9 43.4l-4.0-2.6-1.7-.7 3.9 2.4z"/><path fill="#bf895f" d="M617.8 35.1l-4.5-1.3-1.2 .8 4.2 1.3z"/><path fill="#ba744c" d="M579.5 33.8l-4.5 1.3 1.5 .8 4.2-1.3z"/><path fill="#b6906d" d="M630.7 40.3l-4.1-2.2-1.8-.1 3.9 2.1z"/><path fill="#af6c4c" d="M566.2 38.1l-4.1 2.2 2.0-.2 3.9-2.1z"/><path fill="#c98152" d="M600.7 32.7l-4.5-.1 .0 1.6 4.2 .1z"/><path fill="#c97f50" d="M596.6 32.6l-4.5 .1 .3 1.6 4.2-.1z"/><path fill="#bb744e" d="M575.5 34.9l-4.3 1.6 1.7 .7 4.0-1.5z"/><path fill="#c08e66" d="M621.6 36.5l-4.3-1.6-1.4 .8 4.0 1.5z"/><path fill="#c87e51" d="M592.6 32.7l-4.5 .4 .6 1.6 4.2-.4z"/><path fill="#ca8557" d="M604.7 33.1l-4.5-.4-.3 1.6 4.2 .4z"/><path fill="#ca895b" d="M608.7 33.7l-4.4-.7-.7 1.6 4.1 .7z"/><path fill="#c87e51" d="M588.5 33.0l-4.4 .7 1.0 1.6 4.1-.7z"/><path fill="#fee2dc" d="M597.5 78.5l-1.2-.1 .0 2.0 1.4 .1z"/><path fill="#ffe1db" d="M596.5 78.4l-1.2 .1-.2 2.0 1.4-.1z"/><path fill="#fee2dc" d="M598.5 78.6l-1.2-.1 .1 2.0 1.4 .1z"/><path fill="#fee0d9" d="M595.5 78.5l-1.2 .1-.3 2.0 1.4-.1z"/><path fill="#fee3dd" d="M599.5 78.7l-1.2-.1 .2 2.0 1.4 .1z"/><path fill="#feded8" d="M594.5 78.6l-1.2 .1-.4 2.0 1.4-.1z"/><path fill="#a3654b" d="M557.3 43.1l-3.6 2.8 2.0-1.0 3.4-2.7z"/><path fill="#ac9276" d="M639.1 45.9l-3.6-2.8-1.8-.9 3.4 2.7z"/><path fill="#feddd7" d="M593.6 78.7l-1.2 .2-.6 2.1 1.3-.2z"/><path fill="#fee4de" d="M600.4 78.9l-1.2-.2 .5 2.1 1.3 .2z"/><path fill="#fee4df" d="M601.3 79.2l-1.1-.3 .6 2.1 1.3 .3z"/><path fill="#fedcd6" d="M592.6 78.9l-1.1 .3-.8 2.1 1.3-.3z"/><path fill="#c87e53" d="M584.5 33.6l-4.3 1.0 1.3 1.5 4.0-.9z"/><path fill="#cb8e61" d="M612.6 34.6l-4.3-1.0-1.0 1.6 4.0 .9z"/><path fill="#bc7551" d="M571.6 36.3l-4.1 1.9 2.0 .5 3.8-1.7z"/><path fill="#c2946d" d="M625.3 38.2l-4.1-1.9-1.7 .7 3.8 1.7z"/><path fill="#fedbd5" d="M591.7 79.2l-1.1 .3-.9 2.1 1.3-.3z"/><path fill="#fee5e0" d="M602.2 79.5l-1.1-.3 .7 2.1 1.3 .3z"/><path fill="#b99675" d="M634.1 42.5l-3.8-2.5-2.0-.2 3.6 2.4z"/><path fill="#b06d4f" d="M562.5 40.0l-3.8 2.5 2.2-.3 3.6-2.4z"/><path fill="#cc9367" d="M616.4 35.7l-4.2-1.2-1.3 1.4 3.9 1.2z"/><path fill="#c97e54" d="M580.6 34.5l-4.2 1.2 1.6 1.4 3.9-1.2z"/><path fill="#c49a74" d="M628.8 40.0l-3.9-2.1-2.0 .6 3.6 2.0z"/><path fill="#bd7654" d="M567.9 37.9l-3.9 2.1 2.3 .5 3.6-2.0z"/><path fill="#d68c5c" d="M600.4 34.1l-4.2-.1 .0 2.2 3.8 .1z"/><path fill="#d68a5a" d="M596.6 34.0l-4.2 .1 .4 2.2 3.8-.1z"/><path fill="#c97e56" d="M576.8 35.5l-4.0 1.5 1.9 1.3 3.8-1.4z"/><path fill="#ce986d" d="M620.0 37.0l-4.0-1.5-1.7 1.4 3.8 1.4z"/><path fill="#a6664e" d="M554.0 45.5l-3.3 3.1 2.2-1.1 3.1-2.9z"/><path fill="#b0997e" d="M642.1 48.6l-3.3-3.1-2.0-.9 3.1 2.9z"/><path fill="#d68f60" d="M604.1 34.5l-4.2-.4-.3 2.2 3.8 .4z"/><path fill="#d5895a" d="M592.9 34.1l-4.2 .4 .7 2.2 3.8-.4z"/><path fill="#d79365" d="M607.8 35.1l-4.1-.7-.7 2.2 3.7 .6z"/><path fill="#d5885b" d="M589.1 34.4l-4.1 .7 1.1 2.1 3.7-.6z"/><path fill="#fee0d9" d="M597.4 76.3l-1.1 .0 .0 2.6 1.2 .0z"/><path fill="#fedfd8" d="M596.5 76.3l-1.1 .0-.1 2.6 1.2 .0z"/><path fill="#fee0d9" d="M598.3 76.4l-1.1-.1 .1 2.6 1.2 .1z"/><path fill="#feded6" d="M595.6 76.3l-1.1 .1-.2 2.6 1.2-.1z"/><path fill="#b36f52" d="M559.0 42.1l-3.4 2.7 2.4-.3 3.3-2.6z"/><path fill="#bb9d7d" d="M637.2 44.8l-3.4-2.7-2.3-.2 3.3 2.6z"/><path fill="#fee1da" d="M599.2 76.6l-1.1-.2 .2 2.6 1.2 .1z"/><path fill="#feddd5" d="M594.7 76.4l-1.1 .2-.3 2.5 1.2-.1z"/><path fill="#fde1da" d="M600.1 76.8l-1.1-.2 .3 2.6 1.2 .2z"/><path fill="#fedcd4" d="M593.8 76.6l-1.1 .2-.4 2.6 1.2-.2z"/><path fill="#fde2db" d="M600.9 77.0l-1.0-.2 .4 2.6 1.1 .2z"/><path fill="#fedbd3" d="M592.9 76.8l-1.0 .2-.5 2.6 1.1-.2z"/><path fill="#d5885c" d="M585.4 34.9l-4.0 1.0 1.4 2.0 3.7-.8z"/><path fill="#d7976a" d="M611.4 35.9l-4.0-1.0-1.1 2.2 3.7 .8z"/><path fill="#ca7f59" d="M573.2 36.8l-3.8 1.8 2.2 1.1 3.5-1.6z"/><path fill="#cf9d74" d="M623.4 38.6l-3.8-1.8-1.9 1.3 3.5 1.6z"/><path fill="#fde3dc" d="M601.8 77.3l-1.0-.3 .4 2.6 1.1 .3z"/><path fill="#fedad3" d="M592.0 77.0l-1.0 .3-.5 2.6 1.1-.3z"/><path fill="#bf7756" d="M564.4 39.7l-3.6 2.4 2.5 .3 3.4-2.2z"/><path fill="#c6a07c" d="M632.0 42.1l-3.6-2.4-2.3 .5 3.4 2.2z"/><path fill="#fed9d2" d="M591.2 77.3l-.9 .3-.6 2.7 1.0-.3z"/><path fill="#fde3dd" d="M602.5 77.6l-.9-.3 .5 2.7 1.0 .3z"/><path fill="#d89c6f" d="M614.8 36.9l-3.8-1.2-1.4 2.1 3.5 1.1z"/><path fill="#d5885d" d="M581.8 35.7l-3.8 1.2 1.7 2.0 3.5-1.1z"/><path fill="#fde4de" d="M603.2 78.0l-.8-.3 .6 2.6 .9 .4z"/><path fill="#fed9d1" d="M590.4 77.7l-.8 .3-.7 2.7 .9-.4z"/><path fill="#fde5df" d="M603.9 78.5l-.8-.5 .7 2.8 .9 .4z"/><path fill="#fed8d1" d="M589.7 78.0l-.8 .5-.8 2.7 .9-.4z"/><path fill="#9d604d" d="M546.6 52.7l-2.5 3.5 1.9-1.7 2.5-3.4z"/><path fill="#a96851" d="M551.0 48.2l-2.9 3.2 2.4-1.2 2.7-3.1z"/><path fill="#b39f86" d="M644.7 51.4l-2.9-3.2-2.2-1.1 2.7 3.1z"/><path fill="#d1a37b" d="M626.6 40.3l-3.5-2.0-2.3 1.2 3.3 1.8z"/><path fill="#cb805b" d="M569.7 38.3l-3.5 2.0 2.5 1.0 3.3-1.8z"/><path fill="#e19667" d="M600.0 36.1l-3.8-.2 .0 2.8 3.5 .2z"/><path fill="#e19465" d="M596.6 35.9l-3.8 .2 .3 2.8 3.5-.2z"/><path fill="#fde6e0" d="M604.5 78.9l-.7-.4 .7 2.7 .8 .5z"/><path fill="#fed8d1" d="M589.0 78.5l-.7 .4-.8 2.8 .8-.5z"/><path fill="#b57055" d="M555.9 44.5l-3.1 2.9 2.6-.5 2.9-2.8z"/><path fill="#bea385" d="M640.0 47.4l-3.1-2.9-2.4-.4 2.9 2.8z"/><path fill="#d6885f" d="M578.3 36.7l-3.7 1.4 2.1 1.9 3.4-1.3z"/><path fill="#d9a175" d="M618.2 38.1l-3.7-1.4-1.8 2.0 3.4 1.3z"/><path fill="#e09365" d="M593.2 36.0l-3.8 .4 .7 2.8 3.4-.4z"/><path fill="#e19a6b" d="M603.4 36.4l-3.8-.4-.3 2.8 3.4 .4z"/><path fill="#e19d6f" d="M606.8 36.9l-3.8-.6-.7 2.8 3.4 .5z"/><path fill="#e09265" d="M589.8 36.3l-3.8 .6 1.1 2.7 3.4-.5z"/><path fill="#fdddd4" d="M597.4 73.7l-1.1 .0 .0 3.1 1.1 .0z"/><path fill="#fddcd3" d="M596.5 73.7l-1.1 .0 .0 3.1 1.1 .0z"/><path fill="#fdddd4" d="M598.3 73.8l-1.1-.1 .0 3.1 1.1 .1z"/><path fill="#fddbd2" d="M595.6 73.7l-1.1 .1 .0 3.1 1.1-.1z"/><path fill="#c9a684" d="M634.9 44.3l-3.2-2.6-2.5 .4 3.0 2.4z"/><path fill="#c17959" d="M561.1 41.7l-3.2 2.6 2.7 .2 3.0-2.4z"/><path fill="#fdded5" d="M599.1 74.0l-1.0-.2 .1 3.1 1.0 .1z"/><path fill="#fddad1" d="M594.7 73.8l-1.0 .2-.1 3.0 1.0-.1z"/><path fill="#fdded6" d="M600.0 74.1l-1.0-.1 .1 3.0 1.0 .2z"/><path fill="#fdd9d0" d="M593.8 74.0l-1.0 .1-.1 3.1 1.0-.2z"/><path fill="#fcdfd7" d="M600.8 74.4l-1.0-.3 .2 3.1 1.0 .3z"/><path fill="#fdd8cf" d="M593.0 74.1l-1.0 .3-.2 3.1 1.0-.3z"/><path fill="#e2a173" d="M610.0 37.7l-3.6-.9-1.1 2.7 3.3 .8z"/><path fill="#e09266" d="M586.4 36.8l-3.6 .9 1.4 2.6 3.3-.8z"/><path fill="#d68961" d="M575.0 37.9l-3.5 1.6 2.3 1.8 3.2-1.5z"/><path fill="#daa57c" d="M621.3 39.5l-3.5-1.6-2.0 1.9 3.2 1.5z"/><path fill="#fce0d7" d="M601.6 74.7l-.9-.3 .1 3.1 1.0 .3z"/><path fill="#fdd8cf" d="M592.1 74.4l-.9 .3-.2 3.1 1.0-.3z"/><path fill="#cc815e" d="M566.5 40.0l-3.3 2.2 2.7 .9 3.1-2.0z"/><path fill="#d2a882" d="M629.6 42.2l-3.3-2.2-2.5 1.1 3.1 2.0z"/><path fill="#fdd7ce" d="M591.3 74.7l-.9 .3-.2 3.1 1.0-.3z"/><path fill="#fce1d8" d="M602.4 75.0l-.9-.3 .1 3.1 1.0 .3z"/><path fill="#e2a578" d="M613.2 38.6l-3.5-1.1-1.5 2.7 3.2 .9z"/><path fill="#e09267" d="M583.1 37.5l-3.5 1.1 1.8 2.5 3.2-.9z"/><path fill="#fce1da" d="M603.1 75.4l-.9-.4 .2 3.1 .9 .4z"/><path fill="#fdd7ce" d="M590.6 75.0l-.9 .4-.2 3.1 .9-.4z"/><path fill="#fce2db" d="M603.7 75.8l-.7-.4 .2 3.1 .8 .4z"/><path fill="#fdd6ce" d="M589.8 75.4l-.7 .4-.3 3.1 .8-.4z"/><path fill="#b6a68f" d="M646.9 54.4l-2.4-3.4-2.4-1.2 2.3 3.3z"/><path fill="#ac6a54" d="M548.3 51.0l-2.4 3.4 2.5-1.3 2.3-3.3z"/><path fill="#b87258" d="M553.0 47.0l-2.7 3.1 2.8-.7 2.6-2.9z"/><path fill="#c1aa8e" d="M642.5 50.1l-2.7-3.1-2.7-.5 2.6 2.9z"/><path fill="#eba275" d="M599.7 38.5l-3.5-.1 .0 3.3 3.1 .1z"/><path fill="#eba073" d="M596.6 38.4l-3.5 .1 .4 3.3 3.1-.1z"/><path fill="#dbaa82" d="M624.3 41.1l-3.3-1.8-2.4 1.7 3.0 1.7z"/><path fill="#d78963" d="M571.8 39.3l-3.3 1.8 2.7 1.6 3.0-1.7z"/><path fill="#a16250" d="M544.2 55.8l-2.1 3.7 2.1-1.9 2.0-3.6z"/><path fill="#aba18f" d="M650.7 59.5l-2.1-3.7-2.0-1.8 2.0 3.6z"/><path fill="#eb9f72" d="M593.5 38.5l-3.4 .3 .7 3.3 3.1-.3z"/><path fill="#eba578" d="M602.7 38.8l-3.4-.3-.4 3.3 3.1 .3z"/><path fill="#e09269" d="M579.9 38.4l-3.3 1.3 2.1 2.4 3.0-1.1z"/><path fill="#e3a97e" d="M616.2 39.7l-3.3-1.3-1.8 2.6 3.0 1.1z"/><path fill="#fdd6cd" d="M589.2 75.8l-.7 .5-.3 3.1 .7-.5z"/><path fill="#fce3dc" d="M604.3 76.3l-.7-.5 .3 3.1 .7 .5z"/><path fill="#c37a5c" d="M558.1 44.0l-2.9 2.7 3.0 .0 2.7-2.6z"/><path fill="#cbac8c" d="M637.6 46.7l-2.9-2.7-2.8 .1 2.7 2.6z"/><path fill="#eba87b" d="M605.7 39.3l-3.3-.5-.8 3.2 3.0 .5z"/><path fill="#eb9e72" d="M590.4 38.8l-3.3 .5 1.1 3.2 3.0-.5z"/><path fill="#fcd9ce" d="M597.4 70.7l-1.1 .0 .0 3.5 1.1 .0z"/><path fill="#fcd8cd" d="M596.5 70.7l-1.1 .0 .0 3.5 1.1 .0z"/><path fill="#fcd9ce" d="M598.3 70.8l-1.0-.1-.1 3.5 1.1 .1z"/><path fill="#fcd7cc" d="M595.5 70.7l-1.0 .1 .0 3.5 1.1-.1z"/><path fill="#955a4b" d="M540.9 61.3l-1.7 3.8 1.6-2.3 1.6-3.8z"/><path fill="#9f9b8e" d="M653.6 65.1l-1.7-3.8-1.5-2.3 1.6 3.8z"/><path fill="#fcdacf" d="M599.2 70.9l-1.0-.1-.1 3.5 1.0 .1z"/><path fill="#fcd6cb" d="M594.6 70.8l-1.0 .1 .1 3.5 1.0-.1z"/><path fill="#fdd6cd" d="M588.6 76.3l-.7 .4-.3 3.2 .7-.5z"/><path fill="#fce4dd" d="M604.9 76.7l-.7-.4 .3 3.1 .7 .5z"/><path fill="#ce8261" d="M563.4 41.9l-3.0 2.4 3.1 .7 2.7-2.2z"/><path fill="#d4ae8a" d="M632.4 44.3l-3.0-2.4-2.8 .9 2.7 2.2z"/><path fill="#fcd5ca" d="M593.7 70.9l-1.0 .2 .1 3.5 1.0-.2z"/><path fill="#fbdbd0" d="M600.1 71.1l-1.0-.2-.1 3.5 1.0 .2z"/><path fill="#ebab7f" d="M608.7 40.0l-3.3-.8-1.1 3.2 2.9 .7z"/><path fill="#ea9d73" d="M587.4 39.2l-3.3 .8 1.5 3.1 2.9-.7z"/><path fill="#fbdbd0" d="M601.0 71.4l-1.0-.3-.2 3.5 1.0 .3z"/><path fill="#fcd5c9" d="M592.8 71.1l-1.0 .3 .2 3.5 1.0-.3z"/><path fill="#fdd5ce" d="M588.0 76.8l-.5 .5-.3 3.2 .5-.6z"/><path fill="#fde4de" d="M605.3 77.3l-.5-.5 .3 3.1 .5 .6z"/><path fill="#e1926a" d="M576.9 39.5l-3.2 1.5 2.4 2.3 2.9-1.4z"/><path fill="#e3ad84" d="M619.1 41.0l-3.2-1.5-2.1 2.4 2.9 1.4z"/><path fill="#fbdcd1" d="M601.8 71.7l-1.0-.3-.1 3.5 .9 .2z"/><path fill="#fcd4c9" d="M592.0 71.4l-1.0 .3 .2 3.4 .9-.2z"/><path fill="#885246" d="M538.5 67.3l-1.3 4.0 1.0-2.6 1.2-4.0z"/><path fill="#fcd3c8" d="M591.1 71.7l-.9 .3 .2 3.5 .9-.4z"/><path fill="#fbddd3" d="M602.6 72.0l-.9-.3-.2 3.4 .9 .4z"/><path fill="#d88a66" d="M568.8 40.9l-3.1 2.0 3.0 1.4 2.7-1.8z"/><path fill="#dcb089" d="M627.1 42.9l-3.1-2.0-2.6 1.6 2.7 1.8z"/><path fill="#ebae83" d="M611.5 40.8l-3.1-1.0-1.5 3.2 2.8 .8z"/><path fill="#ea9d73" d="M584.4 39.8l-3.1 1.0 1.8 3.0 2.8-.8z"/><path fill="#fde5df" d="M605.8 77.8l-.5-.5 .3 3.2 .5 .5z"/><path fill="#fdd5ce" d="M587.5 77.3l-.5 .5-.3 3.2 .5-.5z"/><path fill="#fbded4" d="M603.3 72.4l-.9-.4-.2 3.5 .9 .4z"/><path fill="#fcd3c8" d="M590.4 72.0l-.9 .4 .2 3.5 .9-.4z"/><path fill="#fab389" d="M599.3 41.4l-3.1-.1 .0 3.7 2.7 .1z"/><path fill="#fab287" d="M596.6 41.3l-3.1 .1 .4 3.7 2.7-.1z"/><path fill="#fdd5ce" d="M587.1 77.8l-.4 .6-.3 3.2 .4-.6z"/><path fill="#fde6e0" d="M606.1 78.4l-.4-.6 .3 3.2 .4 .6z"/><path fill="#fbdfd5" d="M604.0 72.8l-.8-.4-.3 3.5 .8 .4z"/><path fill="#fcd3c8" d="M589.6 72.4l-.8 .4 .3 3.5 .8-.4z"/><path fill="#fab086" d="M593.8 41.4l-3.0 .3 .7 3.7 2.7-.3z"/><path fill="#f9b58b" d="M602.0 41.7l-3.0-.3-.4 3.7 2.7 .3z"/><path fill="#ea9d74" d="M581.5 40.7l-3.0 1.1 2.2 2.9 2.7-1.0z"/><path fill="#ebb188" d="M614.3 41.8l-3.0-1.1-1.9 3.0 2.7 1.0z"/><path fill="#e4b289" d="M621.9 42.4l-3.0-1.6-2.5 2.3 2.7 1.5z"/><path fill="#e1936c" d="M573.9 40.8l-3.0 1.6 2.8 2.2 2.7-1.5z"/><path fill="#c4b096" d="M644.6 53.0l-2.3-3.3-2.8-.7 2.1 3.1z"/><path fill="#bb745c" d="M550.5 49.7l-2.3 3.3 3.0-.9 2.1-3.1z"/><path fill="#c67c60" d="M555.4 46.4l-2.5 2.9 3.2-.2 2.3-2.7z"/><path fill="#cdb294" d="M639.9 49.3l-2.5-2.9-3.0 .0 2.3 2.7z"/><path fill="#fad4c6" d="M597.5 67.3l-1.2 .0 .0 3.9 1.1 .0z"/><path fill="#fad3c5" d="M596.5 67.3l-1.2 .0 .1 3.9 1.1 .0z"/><path fill="#f8b78d" d="M604.7 42.1l-3.0-.5-.7 3.7 2.6 .4z"/><path fill="#f9af86" d="M591.1 41.6l-3.0 .5 1.1 3.6 2.6-.4z"/><path fill="#fad2c4" d="M595.5 67.3l-1.2 .1 .2 3.9 1.1-.1z"/><path fill="#fad5c7" d="M598.5 67.4l-1.2-.1-.1 3.9 1.1 .1z"/><path fill="#fcd2c8" d="M588.9 72.8l-.7 .5 .3 3.4 .7-.4z"/><path fill="#fbdfd6" d="M604.6 73.3l-.7-.5-.3 3.5 .7 .4z"/><path fill="#b06c58" d="M546.0 54.0l-1.9 3.5 2.6-1.5 1.9-3.4z"/><path fill="#baad98" d="M648.7 57.5l-1.9-3.5-2.6-1.4 1.9 3.4z"/><path fill="#fad5c7" d="M599.5 67.6l-1.2-.2-.1 3.9 1.0 .1z"/><path fill="#fad1c3" d="M594.5 67.4l-1.2 .2 .3 3.8 1.0-.1z"/><path fill="#d08364" d="M560.6 44.0l-2.7 2.6 3.3 .5 2.5-2.4z"/><path fill="#d6b492" d="M634.9 46.6l-2.7-2.6-3.1 .7 2.5 2.4z"/><path fill="#fad6c8" d="M600.4 67.8l-1.1-.2-.2 3.8 1.0 .2z"/><path fill="#fad1c2" d="M593.5 67.6l-1.1 .2 .3 3.8 1.0-.2z"/><path fill="#f8ae85" d="M588.4 42.0l-2.9 .7 1.4 3.5 2.6-.6z"/><path fill="#f7b990" d="M607.3 42.7l-2.9-.7-1.1 3.6 2.6 .6z"/><path fill="#fad7c9" d="M601.4 68.1l-1.1-.3-.4 3.8 1.0 .3z"/><path fill="#fad0c2" d="M592.5 67.8l-1.1 .3 .5 3.8 1.0-.3z"/><path fill="#fcd2c8" d="M588.3 73.3l-.7 .5 .3 3.4 .7-.5z"/><path fill="#fbe0d7" d="M605.2 73.8l-.7-.5-.3 3.4 .7 .5z"/><path fill="#a56453" d="M542.2 59.0l-1.5 3.8 2.2-2.0 1.5-3.7z"/><path fill="#afa898" d="M652.1 62.8l-1.5-3.8-2.2-1.9 1.5 3.7z"/><path fill="#deb590" d="M629.6 44.8l-2.8-2.2-2.9 1.4 2.5 2.1z"/><path fill="#d98b69" d="M566.0 42.6l-2.8 2.2 3.2 1.3 2.5-2.1z"/><path fill="#facfc1" d="M591.6 68.0l-1.1 .4 .6 3.8 .9-.4z"/><path fill="#fad8ca" d="M602.3 68.4l-1.1-.4-.4 3.8 .9 .4z"/><path fill="#ea9c76" d="M578.8 41.6l-2.9 1.4 2.5 2.7 2.5-1.2z"/><path fill="#ebb58d" d="M616.9 43.0l-2.9-1.4-2.1 2.9 2.5 1.2z"/><path fill="#f6bb93" d="M609.9 43.4l-2.8-.8-1.5 3.5 2.5 .8z"/><path fill="#f7ac85" d="M585.7 42.6l-2.8 .8 1.8 3.5 2.5-.8z"/><path fill="#fcd2c9" d="M587.7 73.8l-.6 .6 .4 3.4 .5-.6z"/><path fill="#fce1d9" d="M605.7 74.4l-.6-.6-.3 3.4 .5 .6z"/><path fill="#facfc1" d="M590.7 68.4l-1.0 .4 .6 3.7 .9-.4z"/><path fill="#fad9cc" d="M603.1 68.8l-1.0-.4-.5 3.7 .9 .4z"/><path fill="#e2936f" d="M571.2 42.2l-2.8 1.9 3.1 1.9 2.5-1.7z"/><path fill="#e5b690" d="M624.4 44.1l-2.8-1.9-2.8 2.1 2.5 1.7z"/><path fill="#ffcda6" d="M599.0 44.7l-2.7-.1 .0 4.1 2.3 .0z"/><path fill="#ffcca5" d="M596.5 44.6l-2.7 .1 .4 4.0 2.3 .0z"/><path fill="#995c4f" d="M539.3 64.7l-1.2 3.9 1.7-2.4 1.1-3.8z"/><path fill="#a3a196" d="M654.7 68.6l-1.2-3.9-1.6-2.3 1.1 3.8z"/><path fill="#ffcaa4" d="M594.1 44.7l-2.7 .2 .7 4.0 2.4-.2z"/><path fill="#ffcda7" d="M601.4 44.9l-2.7-.2-.4 4.0 2.4 .2z"/><path fill="#fadacd" d="M603.9 69.2l-.9-.5-.6 3.8 .8 .4z"/><path fill="#facec1" d="M589.8 68.7l-.9 .5 .7 3.7 .8-.4z"/><path fill="#facfbe" d="M597.6 63.7l-1.3-.1 .0 4.2 1.2 .0z"/><path fill="#facfbd" d="M596.5 63.6l-1.3 .1 .1 4.1 1.2 .0z"/><path fill="#fce2da" d="M606.1 74.9l-.5-.5-.3 3.4 .4 .5z"/><path fill="#fcd2c9" d="M587.2 74.4l-.5 .5 .4 3.4 .4-.5z"/><path fill="#f9d0bf" d="M598.7 63.8l-1.2-.1-.2 4.1 1.2 .1z"/><path fill="#f9cebc" d="M595.3 63.7l-1.2 .1 .2 4.1 1.2-.1z"/><path fill="#ffcca7" d="M603.7 45.3l-2.6-.4-.7 4.0 2.3 .3z"/><path fill="#ffc7a2" d="M591.7 44.9l-2.6 .4 1.0 3.9 2.3-.3z"/><path fill="#f9d1bf" d="M599.9 64.0l-1.3-.2-.3 4.1 1.1 .2z"/><path fill="#f9cdbb" d="M594.2 63.8l-1.3 .2 .5 4.1 1.1-.2z"/><path fill="#f5bc96" d="M612.3 44.3l-2.7-1.0-1.8 3.5 2.4 .9z"/><path fill="#f6ab85" d="M583.2 43.3l-2.7 1.0 2.1 3.4 2.4-.9z"/><path fill="#facec1" d="M589.0 69.2l-.9 .5 .8 3.6 .8-.4z"/><path fill="#fadbce" d="M604.7 69.7l-.9-.5-.7 3.7 .8 .4z"/><path fill="#f9ccba" d="M593.1 63.9l-1.3 .3 .6 4.1 1.1-.3z"/><path fill="#f9d1c0" d="M601.0 64.2l-1.3-.3-.4 4.1 1.1 .3z"/><path fill="#ebb892" d="M619.3 44.3l-2.7-1.5-2.4 2.7 2.4 1.4z"/><path fill="#ea9d77" d="M576.2 42.8l-2.7 1.5 2.7 2.6 2.4-1.4z"/><path fill="#ffcba6" d="M606.0 45.8l-2.5-.5-1.1 3.9 2.2 .5z"/><path fill="#ffc49f" d="M589.3 45.3l-2.5 .5 1.4 3.9 2.2-.5z"/><path fill="#979992" d="M656.2 74.9l-.7-4.1-1.0-2.6 .7 4.0z"/><path fill="#8d544a" d="M537.3 70.8l-.7 4.1 1.0-2.7 .7-4.0z"/><path fill="#fcd3c9" d="M586.8 74.9l-.4 .6 .3 3.4 .4-.6z"/><path fill="#fce3db" d="M606.4 75.5l-.4-.6-.3 3.4 .4 .6z"/><path fill="#f9d2c1" d="M602.0 64.5l-1.2-.3-.6 4.0 1.1 .3z"/><path fill="#f9cbb9" d="M592.0 64.2l-1.2 .3 .7 4.0 1.1-.3z"/><path fill="#d28567" d="M558.1 46.3l-2.3 2.7 3.4 .3 2.2-2.5z"/><path fill="#d8b999" d="M637.0 49.0l-2.3-2.7-3.3 .5 2.2 2.5z"/><path fill="#facec1" d="M588.3 69.6l-.8 .6 .8 3.6 .7-.5z"/><path fill="#fadcd0" d="M605.3 70.2l-.8-.6-.7 3.7 .7 .5z"/><path fill="#d0b89c" d="M641.9 52.0l-2.1-3.0-3.2-.3 2.0 2.9z"/><path fill="#c87e63" d="M553.0 49.0l-2.1 3.0 3.3-.4 2.0-2.9z"/><path fill="#ffe2c0" d="M598.6 48.3l-2.3-.1 .0 4.3 2.0 .0z"/><path fill="#ffe2c0" d="M596.5 48.2l-2.3 .1 .3 4.2 2.0 .0z"/><path fill="#f9cab9" d="M590.9 64.5l-1.1 .4 .8 4.0 1.0-.4z"/><path fill="#f8d3c2" d="M603.0 64.9l-1.1-.4-.7 4.0 1.0 .4z"/><path fill="#db8c6b" d="M563.4 44.5l-2.5 2.4 3.5 1.1 2.2-2.2z"/><path fill="#dfba97" d="M631.9 46.9l-2.5-2.4-3.2 1.3 2.2 2.2z"/><path fill="#ffcaa6" d="M608.3 46.5l-2.5-.7-1.4 3.8 2.2 .6z"/><path fill="#ffc09c" d="M587.0 45.8l-2.5 .7 1.7 3.7 2.2-.6z"/><path fill="#ffe0be" d="M594.4 48.3l-2.3 .2 .6 4.2 2.0-.2z"/><path fill="#ffe0be" d="M600.7 48.5l-2.3-.2-.3 4.2 2.0 .2z"/><path fill="#f5aa85" d="M580.7 44.2l-2.5 1.2 2.4 3.2 2.2-1.1z"/><path fill="#f4be99" d="M614.6 45.4l-2.5-1.2-2.1 3.3 2.2 1.1z"/><path fill="#be765f" d="M548.3 52.6l-1.9 3.4 3.2-1.1 1.7-3.2z"/><path fill="#c7b69f" d="M646.4 56.0l-1.9-3.4-3.0-.9 1.7 3.2z"/><path fill="#fdceb9" d="M597.8 59.9l-1.5-.1 .0 4.3 1.3 .1z"/><path fill="#fdceb8" d="M596.5 59.8l-1.5 .1 .2 4.3 1.3-.1z"/><path fill="#fcccb7" d="M595.1 59.9l-1.4 .1 .4 4.3 1.3-.1z"/><path fill="#fcceb9" d="M599.1 60.0l-1.4-.1-.3 4.3 1.3 .1z"/><path fill="#fdd3ca" d="M586.4 75.5l-.3 .6 .4 3.4 .3-.6z"/><path fill="#fce4dd" d="M606.7 76.1l-.3-.6-.4 3.4 .3 .6z"/><path fill="#ffddbb" d="M602.8 48.8l-2.3-.3-.7 4.2 2.0 .3z"/><path fill="#ffdbba" d="M592.3 48.5l-2.3 .3 1.0 4.2 2.0-.3z"/><path fill="#e39471" d="M568.6 43.8l-2.5 2.0 3.3 1.8 2.3-1.8z"/><path fill="#e6ba96" d="M626.7 45.8l-2.5-2.0-3.1 2.0 2.3 1.8z"/><path fill="#fbcec1" d="M587.6 70.1l-.8 .6 .9 3.6 .7-.5z"/><path fill="#faddd1" d="M606.0 70.7l-.8-.6-.8 3.7 .7 .5z"/><path fill="#f9c9b9" d="M589.9 64.9l-1.1 .4 1.0 3.9 1.0-.4z"/><path fill="#f8d4c4" d="M604.0 65.3l-1.1-.4-.9 3.9 1.0 .4z"/><path fill="#fbceb9" d="M600.4 60.2l-1.4-.2-.4 4.3 1.2 .1z"/><path fill="#fccbb5" d="M593.8 60.0l-1.4 .2 .6 4.2 1.2-.1z"/><path fill="#814d44" d="M536.3 77.2l-.2 4.1 .3-2.8 .3-4.1z"/><path fill="#f9ceb9" d="M601.7 60.5l-1.4-.3-.6 4.2 1.2 .3z"/><path fill="#fbc9b4" d="M592.5 60.2l-1.4 .3 .8 4.2 1.2-.3z"/><path fill="#ffe1c4" d="M598.3 52.1l-2.0-.1 .0 4.4 1.7 .0z"/><path fill="#ffe1c4" d="M596.5 52.0l-2.0 .1 .3 4.3 1.7 .0z"/><path fill="#b46e5b" d="M544.1 57.1l-1.5 3.6 2.8-1.6 1.4-3.5z"/><path fill="#bdb3a0" d="M650.2 60.7l-1.5-3.6-2.7-1.5 1.4 3.5z"/><path fill="#ffd6b5" d="M590.3 48.8l-2.3 .5 1.3 4.0 1.9-.4z"/><path fill="#ffd8b7" d="M604.8 49.3l-2.3-.5-.9 4.1 1.9 .4z"/><path fill="#ffd6bd" d="M598.0 56.0l-1.7-.1 .0 4.4 1.5 .0z"/><path fill="#ffd6bc" d="M596.5 55.9l-1.7 .1 .2 4.3 1.5 .0z"/><path fill="#ffdfc2" d="M600.1 52.2l-2.0-.1-.3 4.3 1.7 .2z"/><path fill="#ffdfc2" d="M594.7 52.1l-2.0 .1 .6 4.4 1.7-.2z"/><path fill="#ffc9a5" d="M610.4 47.3l-2.4-.9-1.7 3.7 2.1 .8z"/><path fill="#ffbc99" d="M584.8 46.4l-2.4 .9 2.0 3.6 2.1-.8z"/><path fill="#ea9d79" d="M573.7 44.1l-2.5 1.6 3.0 2.5 2.3-1.5z"/><path fill="#ecbc97" d="M621.6 45.7l-2.5-1.6-2.8 2.6 2.3 1.5z"/><path fill="#ffd4bb" d="M594.9 55.9l-1.7 .2 .5 4.4 1.5-.2z"/><path fill="#ffd5bc" d="M599.6 56.1l-1.7-.2-.3 4.4 1.5 .2z"/><path fill="#f8d5c5" d="M604.9 65.8l-1.0-.5-1.0 3.9 .9 .5z"/><path fill="#f9c9b8" d="M588.9 65.3l-1.0 .5 1.1 3.9 .9-.5z"/><path fill="#fdd3cb" d="M586.1 76.1l-.2 .7 .4 3.3 .2-.6z"/><path fill="#fce5de" d="M606.9 76.8l-.2-.7-.4 3.4 .2 .6z"/><path fill="#f8ceba" d="M602.9 60.8l-1.4-.4-.8 4.3 1.2 .3z"/><path fill="#f9c7b2" d="M591.3 60.4l-1.4 .4 1.0 4.2 1.2-.3z"/><path fill="#fbcec2" d="M586.9 70.7l-.6 .6 .9 3.6 .6-.6z"/><path fill="#faded3" d="M606.5 71.3l-.6-.6-.9 3.6 .6 .6z"/><path fill="#ffdbbe" d="M601.9 52.5l-2.0-.3-.6 4.3 1.7 .3z"/><path fill="#ffdabd" d="M592.9 52.2l-2.0 .3 .9 4.3 1.7-.3z"/><path fill="#ffd3ba" d="M601.1 56.3l-1.7-.2-.5 4.3 1.4 .3z"/><path fill="#ffd1b8" d="M593.4 56.1l-1.7 .2 .8 4.4 1.4-.3z"/><path fill="#ffd4b3" d="M606.7 49.8l-2.1-.6-1.3 4.1 1.8 .5z"/><path fill="#ffcfaf" d="M588.2 49.2l-2.1 .6 1.6 4.0 1.8-.5z"/><path fill="#f3c09c" d="M616.8 46.6l-2.4-1.4-2.4 3.2 2.1 1.2z"/><path fill="#f4a985" d="M578.4 45.2l-2.4 1.4 2.7 3.0 2.1-1.2z"/><path fill="#ffcdb4" d="M591.9 56.3l-1.7 .4 1.0 4.2 1.4-.3z"/><path fill="#ffd1b8" d="M602.6 56.7l-1.7-.4-.7 4.3 1.4 .3z"/><path fill="#ffd7ba" d="M603.6 52.9l-1.9-.4-.9 4.3 1.7 .3z"/><path fill="#ffd4b8" d="M591.1 52.5l-1.9 .4 1.1 4.2 1.7-.3z"/><path fill="#f9c5b1" d="M590.0 60.8l-1.3 .5 1.2 4.0 1.1-.3z"/><path fill="#f8cfbb" d="M604.1 61.3l-1.3-.5-1.0 4.2 1.1 .3z"/><path fill="#f8d6c7" d="M605.7 66.3l-.9-.5-1.1 3.8 .8 .5z"/><path fill="#f9c9b9" d="M588.0 65.8l-.9 .5 1.2 3.8 .8-.5z"/><path fill="#a96757" d="M540.6 62.4l-1.0 3.8 2.3-2.2 1.0-3.7z"/><path fill="#b3afa1" d="M653.2 66.2l-1.0-3.8-2.3-2.1 1.0 3.7z"/><path fill="#fce5df" d="M607.0 77.4l-.1-.6-.4 3.3 .1 .6z"/><path fill="#fadfd4" d="M607.0 71.9l-.6-.6-.9 3.5 .5 .6z"/><path fill="#fbcec2" d="M586.4 71.3l-.6 .6 1.0 3.5 .5-.6z"/><path fill="#fbc8a6" d="M612.4 48.2l-2.2-1.0-2.0 3.6 1.9 .9z"/><path fill="#ffb996" d="M582.6 47.2l-2.2 1.0 2.3 3.5 1.9-.9z"/><path fill="#fdcfb7" d="M604.0 57.1l-1.6-.5-1.0 4.3 1.4 .4z"/><path fill="#ffc9b0" d="M590.4 56.6l-1.6 .5 1.2 4.2 1.4-.4z"/><path fill="#ffd3b6" d="M605.3 53.4l-1.9-.5-1.1 4.2 1.6 .4z"/><path fill="#ffceb2" d="M589.4 52.9l-1.9 .5 1.4 4.1 1.6-.4z"/><path fill="#f8c4b0" d="M588.9 61.2l-1.3 .5 1.3 4.1 1.1-.5z"/><path fill="#f7d0bc" d="M605.2 61.7l-1.3-.5-1.1 4.1 1.1 .5z"/><path fill="#ffc8a8" d="M586.3 49.7l-2.1 .8 1.9 3.9 1.8-.7z"/><path fill="#ffcfb0" d="M608.6 50.5l-2.1-.8-1.6 4.0 1.8 .7z"/><path fill="#f9d7c9" d="M606.5 66.9l-.9-.6-1.2 3.8 .8 .5z"/><path fill="#f9c9b9" d="M587.2 66.3l-.9 .6 1.3 3.7 .8-.5z"/><path fill="#fdc5ad" d="M589.0 57.0l-1.6 .6 1.5 4.1 1.3-.5z"/><path fill="#faceb6" d="M605.4 57.6l-1.6-.6-1.2 4.2 1.3 .5z"/><path fill="#dc8e6e" d="M561.1 46.6l-2.2 2.5 3.7 .8 1.9-2.2z"/><path fill="#e1bf9e" d="M633.9 49.1l-2.2-2.5-3.4 1.1 1.9 2.2z"/><path fill="#e39574" d="M566.3 45.6l-2.3 2.1 3.6 1.6 2.0-2.0z"/><path fill="#e6bf9c" d="M628.8 47.7l-2.3-2.1-3.3 1.7 2.0 2.0z"/><path fill="#fbcec3" d="M585.9 71.9l-.4 .7 1.0 3.4 .4-.6z"/><path fill="#fbe0d6" d="M607.3 72.6l-.4-.7-1.0 3.5 .4 .6z"/><path fill="#fecfb4" d="M606.9 54.0l-1.8-.7-1.4 4.2 1.5 .5z"/><path fill="#ffc7ac" d="M587.7 53.3l-1.8 .7 1.7 4.0 1.5-.5z"/><path fill="#f7d1bd" d="M606.2 62.3l-1.1-.6-1.4 4.0 1.1 .6z"/><path fill="#f7c3b0" d="M587.7 61.7l-1.1 .6 1.4 4.0 1.1-.6z"/><path fill="#eb9d7b" d="M571.4 45.5l-2.3 1.8 3.3 2.3 2.1-1.6z"/><path fill="#ecc09c" d="M623.7 47.3l-2.3-1.8-3.1 2.5 2.1 1.6z"/><path fill="#dabfa1" d="M638.9 51.5l-2.0-2.8-3.5 .2 1.9 2.7z"/><path fill="#d4876a" d="M555.9 48.7l-2.0 2.8 3.6 .1 1.9-2.7z"/><path fill="#a7a89e" d="M655.3 72.2l-.6-4.0-1.7-2.4 .6 3.8z"/><path fill="#9e5f52" d="M538.1 68.2l-.6 4.0 1.7-2.6 .6-3.8z"/><path fill="#f3a885" d="M576.2 46.4l-2.2 1.5 3.0 2.8 1.9-1.3z"/><path fill="#f1c29f" d="M618.8 47.9l-2.2-1.5-2.7 3.0 1.9 1.3z"/><path fill="#f9c9b9" d="M586.4 66.9l-.8 .6 1.4 3.7 .7-.6z"/><path fill="#f9d9ca" d="M607.2 67.5l-.8-.6-1.3 3.7 .7 .6z"/><path fill="#ffc1a3" d="M584.4 50.4l-1.9 .9 2.1 3.8 1.7-.8z"/><path fill="#fcccad" d="M610.3 51.3l-1.9-.9-1.9 3.9 1.7 .8z"/><path fill="#f8c7a6" d="M614.3 49.2l-2.1-1.1-2.3 3.5 1.9 1.0z"/><path fill="#fcb594" d="M580.6 48.1l-2.1 1.1 2.5 3.4 1.9-1.0z"/><path fill="#f8cdb6" d="M606.7 58.2l-1.5-.7-1.4 4.2 1.2 .5z"/><path fill="#fac2aa" d="M587.6 57.5l-1.5 .7 1.7 4.0 1.2-.5z"/><path fill="#cb7f66" d="M551.0 51.7l-1.8 3.1 3.5-.6 1.6-3.0z"/><path fill="#d3bea5" d="M643.6 54.8l-1.8-3.1-3.3-.5 1.6 3.0z"/><path fill="#fec2a6" d="M586.1 53.9l-1.7 .8 1.9 3.9 1.5-.6z"/><path fill="#facdb2" d="M608.4 54.7l-1.7-.8-1.7 4.1 1.5 .6z"/><path fill="#f7c3af" d="M586.7 62.3l-1.1 .6 1.6 3.9 1.0-.6z"/><path fill="#f7d2bf" d="M607.2 62.9l-1.1-.6-1.5 3.9 1.0 .6z"/><path fill="#fbcfc4" d="M585.5 72.6l-.3 .6 1.0 3.4 .3-.6z"/><path fill="#fbe0d7" d="M607.6 73.2l-.3-.6-1.0 3.4 .3 .6z"/><path fill="#f9c9ba" d="M585.7 67.5l-.7 .7 1.5 3.6 .6-.6z"/><path fill="#f9dacc" d="M607.8 68.2l-.7-.7-1.4 3.7 .6 .6z"/><path fill="#f7cdb7" d="M607.9 58.8l-1.4-.7-1.6 4.0 1.2 .7z"/><path fill="#f8bfa8" d="M586.3 58.1l-1.4 .7 1.8 4.0 1.2-.7z"/><path fill="#c27863" d="M546.5 55.6l-1.4 3.4 3.2-1.3 1.3-3.2z"/><path fill="#cabda7" d="M647.7 59.0l-1.4-3.4-3.1-1.1 1.3 3.2z"/><path fill="#f6c9ab" d="M612.0 52.2l-1.8-1.0-2.2 3.8 1.6 .8z"/><path fill="#febc9e" d="M582.6 51.2l-1.8 1.0 2.4 3.6 1.6-.8z"/><path fill="#92574d" d="M536.5 74.5l-.1 4.0 1.1-2.8 .1-4.0z"/><path fill="#9ba09a" d="M656.4 78.5l-.1-4.0-1.1-2.8 .1 4.0z"/><path fill="#f7d3c1" d="M608.1 63.6l-1.0-.7-1.6 3.8 .8 .7z"/><path fill="#f7c3b0" d="M585.7 62.9l-1.0 .7 1.8 3.8 .8-.7z"/><path fill="#f7cbb1" d="M609.8 55.4l-1.6-.8-1.9 3.9 1.4 .8z"/><path fill="#fabda2" d="M584.6 54.6l-1.6 .8 2.1 3.9 1.4-.8z"/><path fill="#fccfc5" d="M585.2 73.2l-.3 .7 1.1 3.4 .3-.7z"/><path fill="#fbe1d8" d="M607.9 73.9l-.3-.7-1.1 3.4 .3 .7z"/><path fill="#f9b292" d="M578.6 49.1l-1.9 1.3 2.8 3.2 1.7-1.2z"/><path fill="#f5c7a7" d="M616.1 50.4l-1.9-1.3-2.6 3.3 1.7 1.2z"/><path fill="#f2a786" d="M574.1 47.7l-2.0 1.6 3.3 2.6 1.7-1.4z"/><path fill="#f0c4a3" d="M620.7 49.3l-2.0-1.6-3.0 2.8 1.7 1.4z"/><path fill="#f9dbce" d="M608.4 68.9l-.7-.7-1.5 3.5 .6 .7z"/><path fill="#f9c9bb" d="M585.1 68.2l-.7 .7 1.6 3.5 .6-.7z"/><path fill="#f7bea7" d="M585.0 58.8l-1.2 .8 2.0 3.8 1.1-.7z"/><path fill="#f6ceb8" d="M609.0 59.6l-1.2-.8-1.9 3.9 1.1 .7z"/><path fill="#eb9e7d" d="M569.3 47.1l-2.1 1.9 3.6 2.1 1.8-1.8z"/><path fill="#ecc3a1" d="M625.6 49.0l-2.1-1.9-3.3 2.2 1.8 1.8z"/><path fill="#b8715f" d="M542.6 60.4l-1.0 3.6 2.8-1.8 1.0-3.5z"/><path fill="#c1baa9" d="M651.2 64.0l-1.0-3.6-2.8-1.7 1.0 3.5z"/><path fill="#e59676" d="M564.2 47.5l-2.0 2.3 3.7 1.3 1.8-2.1z"/><path fill="#e7c3a2" d="M630.6 49.8l-2.0-2.3-3.5 1.5 1.8 2.1z"/><path fill="#f7c3b0" d="M584.8 63.6l-.9 .7 1.9 3.7 .8-.7z"/><path fill="#f7d4c3" d="M608.9 64.3l-.9-.7-1.8 3.7 .8 .7z"/><path fill="#f9b79a" d="M581.0 52.1l-1.8 1.1 2.7 3.5 1.5-1.0z"/><path fill="#f2c7aa" d="M613.6 53.2l-1.8-1.1-2.4 3.6 1.5 1.0z"/><path fill="#fbe2da" d="M608.0 74.6l-.2-.7-1.1 3.3 .2 .7z"/><path fill="#fcd0c6" d="M585.0 73.9l-.2 .7 1.1 3.3 .2-.7z"/><path fill="#f5cbb2" d="M611.2 56.3l-1.5-1.0-2.2 3.9 1.3 .8z"/><path fill="#f7baa0" d="M583.1 55.3l-1.5 1.0 2.4 3.7 1.3-.8z"/><path fill="#e2c4a5" d="M635.6 51.4l-1.8-2.6-3.7 .8 1.7 2.4z"/><path fill="#de8f72" d="M559.0 48.8l-1.8 2.6 3.8 .6 1.7-2.4z"/><path fill="#855048" d="M536.0 80.9l.3 4.1 .5-2.9-.4-4.1z"/><path fill="#8f9492" d="M656.5 85.0l.3-4.1-.4-2.9-.4 4.1z"/><path fill="#fac9bb" d="M584.5 68.9l-.5 .7 1.6 3.4 .5-.6z"/><path fill="#f9dccf" d="M608.8 69.6l-.5-.7-1.6 3.5 .5 .6z"/><path fill="#f6bda7" d="M583.9 59.5l-1.2 .9 2.2 3.6 1.0-.7z"/><path fill="#f6cfba" d="M610.1 60.4l-1.2-.9-2.0 3.8 1.0 .7z"/><path fill="#f2c7a8" d="M617.8 51.6l-1.8-1.4-2.9 3.2 1.6 1.2z"/><path fill="#f6af90" d="M576.8 50.2l-1.8 1.4 3.1 3.0 1.6-1.2z"/><path fill="#f8c3b1" d="M584.0 64.3l-.8 .8 2.0 3.6 .7-.8z"/><path fill="#f7d6c5" d="M609.6 65.1l-.8-.8-1.9 3.6 .7 .8z"/><path fill="#d6886e" d="M554.0 51.2l-1.7 2.9 3.8-.1 1.5-2.8z"/><path fill="#dcc4a9" d="M640.5 54.1l-1.7-2.9-3.6 .0 1.5 2.8z"/><path fill="#fcd0c7" d="M584.9 74.6l-.1 .7 1.1 3.2 .0-.6z"/><path fill="#fbe3db" d="M608.0 75.3l-.1-.7-1.0 3.3 .0 .6z"/><path fill="#b7b5a9" d="M653.9 69.7l-.6-3.9-2.3-2.2 .5 3.7z"/><path fill="#ae695a" d="M539.5 65.8l-.6 3.9 2.4-2.4 .5-3.7z"/><path fill="#f5b79e" d="M581.8 56.2l-1.4 1.0 2.6 3.6 1.1-.9z"/><path fill="#f4ccb3" d="M612.4 57.2l-1.4-1.0-2.3 3.7 1.1 .9z"/><path fill="#f1a687" d="M572.3 49.1l-1.9 1.7 3.5 2.4 1.6-1.5z"/><path fill="#efc6a7" d="M622.4 50.8l-1.9-1.7-3.2 2.6 1.6 1.5z"/><path fill="#f5b397" d="M579.4 53.1l-1.6 1.2 2.9 3.3 1.3-1.0z"/><path fill="#eec5aa" d="M615.0 54.3l-1.6-1.2-2.6 3.5 1.3 1.0z"/><path fill="#facabc" d="M584.1 69.6l-.4 .8 1.6 3.3 .4-.7z"/><path fill="#f9ddd1" d="M609.1 70.4l-.4-.8-1.6 3.4 .4 .7z"/><path fill="#f6bca7" d="M582.8 60.3l-1.0 .9 2.3 3.6 .9-.8z"/><path fill="#f5d1bc" d="M611.0 61.2l-1.0-.9-2.2 3.7 .9 .8z"/><path fill="#7d8284" d="M655.4 91.4l.9-4.1 .2-2.8-.8 4.1z"/><path fill="#ce826a" d="M549.3 54.5l-1.4 3.2 3.6-.8 1.3-3.1z"/><path fill="#d5c4ad" d="M644.9 57.7l-1.4-3.2-3.5-.7 1.3 3.1z"/><path fill="#fce4dc" d="M608.0 76.0l.0-.7-1.1 3.2 .0 .7z"/><path fill="#eb9e7f" d="M567.4 48.8l-1.8 2.1 3.7 1.8 1.6-1.9z"/><path fill="#ecc6a7" d="M627.2 50.9l-1.8-2.1-3.5 2.0 1.6 1.9z"/><path fill="#f7d7c7" d="M610.2 65.9l-.7-.8-2.0 3.5 .6 .7z"/><path fill="#f8c3b2" d="M583.3 65.1l-.7 .8 2.1 3.4 .6-.7z"/><path fill="#facabd" d="M583.7 70.4l-.3 .8 1.7 3.2 .3-.7z"/><path fill="#faded3" d="M609.4 71.2l-.3-.8-1.7 3.3 .3 .7z"/><path fill="#f4ad90" d="M575.2 51.4l-1.6 1.5 3.3 2.9 1.4-1.3z"/><path fill="#efc7aa" d="M619.2 52.9l-1.6-1.5-3.1 3.1 1.4 1.3z"/><path fill="#a36256" d="M537.4 71.8l-.1 4.0 1.7-2.7 .1-3.9z"/><path fill="#acaea7" d="M655.5 75.8l-.1-4.0-1.7-2.6 .1 3.9z"/><path fill="#f4b69e" d="M580.5 57.1l-1.2 1.1 2.7 3.4 1.1-.9z"/><path fill="#f3cdb5" d="M613.5 58.2l-1.2-1.1-2.6 3.6 1.1 .9z"/><path fill="#e8c7a9" d="M632.2 51.9l-1.7-2.4-3.8 1.3 1.5 2.2z"/><path fill="#e69779" d="M562.3 49.5l-1.7 2.4 4.0 1.1 1.5-2.2z"/><path fill="#f6bca8" d="M581.9 61.1l-1.0 1.0 2.5 3.4 .8-.8z"/><path fill="#f6d2bf" d="M611.9 62.1l-1.0-1.0-2.3 3.6 .8 .8z"/><path fill="#f2b095" d="M578.0 54.1l-1.4 1.3 3.0 3.2 1.2-1.1z"/><path fill="#ebc5ab" d="M616.2 55.4l-1.4-1.3-2.8 3.4 1.2 1.1z"/><path fill="#c67b66" d="M545.0 58.7l-.9 3.5 3.3-1.5 .9-3.3z"/><path fill="#cdc3b0" d="M648.7 62.2l-.9-3.5-3.3-1.3 .9 3.3z"/><path fill="#f8c3b3" d="M582.7 65.9l-.7 .9 2.3 3.3 .5-.8z"/><path fill="#f8d9c9" d="M610.8 66.8l-.7-.9-2.1 3.4 .5 .8z"/><path fill="#7b4a47" d="M538.2 93.5l1.2 4.0-.9-2.6-1.3-4.0z"/><path fill="#f0a688" d="M570.6 50.6l-1.6 1.8 3.6 2.2 1.5-1.6z"/><path fill="#eec8aa" d="M623.8 52.4l-1.6-1.8-3.5 2.4 1.5 1.6z"/><path fill="#fadfd5" d="M609.5 72.0l-.2-.9-1.7 3.2 .2 .8z"/><path fill="#fbcbbf" d="M583.5 71.1l-.2 .9 1.7 3.1 .2-.8z"/><path fill="#e09175" d="M557.3 51.2l-1.6 2.7 4.0 .3 1.4-2.5z"/><path fill="#e4c9ac" d="M637.1 53.9l-1.6-2.7-3.8 .5 1.4 2.5z"/><path fill="#f3b69e" d="M579.4 58.1l-1.1 1.2 2.9 3.2 1.0-1.0z"/><path fill="#f3ceb8" d="M614.5 59.3l-1.1-1.2-2.8 3.4 1.0 1.0z"/><path fill="#f6d4c1" d="M612.6 63.1l-.8-1.1-2.5 3.4 .7 .9z"/><path fill="#f6bda9" d="M581.0 62.0l-.8 1.1 2.6 3.2 .7-.9z"/><path fill="#975b51" d="M536.2 78.1l.4 4.1 1.2-2.9-.4-4.0z"/><path fill="#a0a5a1" d="M656.2 82.2l.4-4.1-1.2-2.8-.4 4.0z"/><path fill="#f8c4b4" d="M582.1 66.7l-.5 1.0 2.3 3.1 .4-.8z"/><path fill="#f8dacc" d="M611.2 67.7l-.5-1.0-2.2 3.3 .4 .8z"/><path fill="#f2ab8f" d="M573.7 52.8l-1.4 1.6 3.5 2.6 1.2-1.4z"/><path fill="#edc8ac" d="M620.5 54.4l-1.4-1.6-3.3 2.8 1.2 1.4z"/><path fill="#c5c0b2" d="M651.8 67.4l-.5-3.7-2.9-1.9 .6 3.5z"/><path fill="#bc7463" d="M541.5 63.7l-.5 3.7 2.8-2.1 .6-3.5z"/><path fill="#efae94" d="M576.7 55.3l-1.3 1.4 3.3 2.9 1.0-1.2z"/><path fill="#e9c5ac" d="M617.4 56.7l-1.3-1.4-3.0 3.1 1.0 1.2z"/><path fill="#eccaac" d="M628.6 52.8l-1.5-2.2-3.8 1.8 1.4 1.9z"/><path fill="#ec9f81" d="M565.7 50.6l-1.5 2.2 3.9 1.5 1.4-1.9z"/><path fill="#fbccc0" d="M583.3 71.9l-.1 .8 1.8 3.1 .1-.8z"/><path fill="#fae0d6" d="M609.6 72.7l-.1-.8-1.8 3.1 .1 .8z"/><path fill="#d98a71" d="M552.4 53.8l-1.3 3.0 3.9-.4 1.2-2.8z"/><path fill="#decab1" d="M641.7 56.8l-1.3-3.0-3.8-.2 1.2 2.8z"/><path fill="#f6bdaa" d="M580.3 63.0l-.7 1.1 2.7 3.1 .6-1.0z"/><path fill="#f6d6c4" d="M613.2 64.1l-.7-1.1-2.6 3.2 .6 1.0z"/><path fill="#f3d0bb" d="M615.3 60.4l-.9-1.2-3.0 3.2 .9 1.0z"/><path fill="#f3b69f" d="M578.4 59.2l-.9 1.2 3.0 3.0 .9-1.0z"/><path fill="#f9c5b6" d="M581.7 67.6l-.3 1.0 2.3 3.0 .3-.8z"/><path fill="#f8dbce" d="M611.4 68.6l-.3-1.0-2.3 3.2 .3 .8z"/><path fill="#88514b" d="M536.1 84.6l.9 4.0 .5-2.9-.9-4.0z"/><path fill="#909696" d="M655.8 88.6l.9-4.0-.5-2.9-.9 4.0z"/><path fill="#fbcdc1" d="M583.3 72.7l.0 .8 1.7 3.0 .0-.8z"/><path fill="#fae1d8" d="M609.5 73.5l.0-.8-1.7 3.0 .0 .8z"/><path fill="#e7997c" d="M560.7 51.6l-1.4 2.5 4.1 .8 1.3-2.2z"/><path fill="#e9ccaf" d="M633.5 54.1l-1.4-2.5-4.0 1.1 1.3 2.2z"/><path fill="#eecaae" d="M625.1 54.1l-1.4-1.9-3.7 2.2 1.3 1.7z"/><path fill="#f0a689" d="M569.1 52.2l-1.4 1.9 3.8 2.0 1.3-1.7z"/><path fill="#d1846e" d="M547.9 57.4l-.9 3.3 3.7-1.1 .8-3.1z"/><path fill="#d8cab5" d="M645.8 60.7l-.9-3.3-3.6-.9 .8 3.1z"/><path fill="#b26c5e" d="M538.8 69.3l-.1 3.9 2.4-2.5 .1-3.8z"/><path fill="#bbbbb1" d="M654.1 73.2l-.1-3.9-2.4-2.4 .1 3.8z"/><path fill="#e9c6af" d="M618.3 58.0l-1.0-1.5-3.3 3.0 .9 1.2z"/><path fill="#edac94" d="M575.5 56.5l-1.0 1.5 3.4 2.7 .9-1.2z"/><path fill="#ecc8af" d="M621.6 55.9l-1.2-1.7-3.5 2.6 1.1 1.5z"/><path fill="#f0aa8f" d="M572.4 54.2l-1.2 1.7 3.6 2.4 1.1-1.5z"/><path fill="#f7beac" d="M579.7 64.0l-.5 1.1 2.8 2.9 .4-.9z"/><path fill="#f6d7c6" d="M613.6 65.1l-.5-1.1-2.7 3.1 .4 .9z"/><path fill="#f8ddd0" d="M611.6 69.5l-.2-1.0-2.4 3.0 .3 .9z"/><path fill="#f9c6b7" d="M581.4 68.5l-.2 1.0 2.3 2.9 .3-.9z"/><path fill="#fbcec3" d="M583.3 73.5l.1 .8 1.8 2.9-.1-.8z"/><path fill="#fbe2d9" d="M609.4 74.3l.1-.8-1.8 2.9-.1 .8z"/><path fill="#f4b6a1" d="M577.6 60.3l-.8 1.3 3.2 2.8 .7-1.1z"/><path fill="#f3d2be" d="M616.0 61.6l-.8-1.3-3.1 3.0 .7 1.1z"/><path fill="#e29378" d="M555.8 53.6l-1.2 2.8 4.1 .1 1.1-2.6z"/><path fill="#e6ceb3" d="M638.2 56.4l-1.2-2.8-4.0 .3 1.1 2.6z"/><path fill="#7c4b47" d="M537.1 91.0l1.4 3.9-.2-2.8-1.3-4.0z"/><path fill="#7f8488" d="M654.3 94.9l1.4-3.9 .1-2.9-1.3 4.0z"/><path fill="#eca084" d="M564.3 52.6l-1.3 2.2 4.1 1.3 1.1-2.0z"/><path fill="#edcdb1" d="M629.8 54.8l-1.3-2.2-3.9 1.5 1.1 2.0z"/><path fill="#d1c9b8" d="M649.3 65.4l-.5-3.5-3.3-1.6 .5 3.4z"/><path fill="#c97d6a" d="M544.0 61.9l-.5 3.5 3.3-1.7 .5-3.4z"/><path fill="#a7655a" d="M537.1 75.4l.4 4.0 1.8-2.9-.4-3.8z"/><path fill="#b0b4ae" d="M655.3 79.4l.4-4.0-1.8-2.7-.4 3.8z"/><path fill="#f9c7b9" d="M581.3 69.4l-.2 1.0 2.4 2.7 .1-.8z"/><path fill="#f9ded2" d="M611.7 70.4l-.2-1.0-2.3 2.9 .1 .8z"/><path fill="#ebab94" d="M574.6 57.8l-.9 1.5 3.5 2.6 .8-1.3z"/><path fill="#e9c8b2" d="M619.1 59.3l-.9-1.5-3.4 2.8 .8 1.3z"/><path fill="#f7bfad" d="M579.2 65.0l-.4 1.1 2.9 2.8 .4-1.0z"/><path fill="#f7d9c9" d="M614.0 66.1l-.4-1.1-2.9 2.9 .4 1.0z"/><path fill="#efa68b" d="M567.8 53.9l-1.1 2.0 3.9 1.7 1.1-1.7z"/><path fill="#edccb2" d="M626.1 55.9l-1.1-2.0-3.9 2.0 1.1 1.7z"/><path fill="#7a4a49" d="M539.2 97.1l1.8 3.8-.8-2.5-1.8-3.9z"/><path fill="#757881" d="M651.8 100.9l1.8-3.8 .8-2.6-1.8 3.9z"/><path fill="#efa990" d="M571.3 55.7l-1.1 1.7 3.8 2.2 .9-1.5z"/><path fill="#eac9b1" d="M622.6 57.4l-1.1-1.7-3.6 2.4 .9 1.5z"/><path fill="#dc8d75" d="M551.1 56.5l-.8 3.1 3.9-.6 .8-2.9z"/><path fill="#e1cfb8" d="M642.5 59.6l-.8-3.1-3.9-.4 .8 2.9z"/><path fill="#f4b7a2" d="M576.9 61.4l-.6 1.4 3.2 2.6 .6-1.1z"/><path fill="#f4d4c0" d="M616.5 62.8l-.6-1.4-3.2 2.9 .6 1.1z"/><path fill="#e89a7f" d="M559.4 53.8l-1.1 2.6 4.2 .5 1.0-2.2z"/><path fill="#ead0b5" d="M634.5 56.4l-1.1-2.6-4.1 .9 1.0 2.2z"/><path fill="#fac8ba" d="M581.2 70.3l.0 1.0 2.4 2.6 .0-.8z"/><path fill="#f9dfd3" d="M611.6 71.3l.0-1.0-2.4 2.8 .0 .8z"/><path fill="#c17767" d="M540.9 67.0l-.1 3.8 2.8-2.3 .1-3.5z"/><path fill="#c8c6ba" d="M652.0 70.8l-.1-3.8-2.8-2.0 .1 3.5z"/><path fill="#9b5d54" d="M536.4 81.8l.9 4.0 1.1-3.0-.8-3.9z"/><path fill="#a3a9a7" d="M655.5 85.8l.9-4.0-1.2-2.9-.8 3.9z"/><path fill="#f7dacb" d="M614.2 67.2l-.3-1.1-2.9 2.7 .3 1.0z"/><path fill="#f8c0af" d="M578.9 66.1l-.3 1.1 2.9 2.6 .3-1.0z"/><path fill="#e9aa95" d="M573.7 59.2l-.7 1.5 3.7 2.3 .6-1.3z"/><path fill="#e9cab6" d="M619.8 60.7l-.7-1.5-3.6 2.5 .6 1.3z"/><path fill="#eda186" d="M563.1 54.5l-1.0 2.3 4.2 1.1 .9-2.1z"/><path fill="#edd0b6" d="M630.7 56.8l-1.0-2.3-4.1 1.3 .9 2.1z"/><path fill="#f4b8a4" d="M576.4 62.6l-.5 1.4 3.3 2.5 .4-1.2z"/><path fill="#f4d6c3" d="M616.9 64.0l-.5-1.4-3.2 2.7 .4 1.2z"/><path fill="#dbd0bd" d="M646.4 63.7l-.6-3.3-3.6-1.1 .5 3.1z"/><path fill="#d58772" d="M547.0 60.4l-.6 3.3 3.7-1.3 .5-3.1z"/><path fill="#fac9bc" d="M581.2 71.2l.2 1.0 2.3 2.5-.1-.8z"/><path fill="#f9e0d5" d="M611.4 72.2l.2-1.0-2.4 2.7-.1 .8z"/><path fill="#eda991" d="M570.3 57.2l-.8 1.8 3.9 2.0 .7-1.6z"/><path fill="#e9cab4" d="M623.3 59.0l-.8-1.8-3.8 2.2 .7 1.6z"/><path fill="#e4957c" d="M554.6 56.1l-.8 2.8 4.2-.1 .7-2.6z"/><path fill="#e7d2ba" d="M639.0 58.9l-.8-2.8-4.1 .1 .7 2.6z"/><path fill="#efa68c" d="M566.7 55.7l-.9 2.0 4.1 1.5 .8-1.8z"/><path fill="#ecceb6" d="M627.0 57.7l-.9-2.0-4.0 1.7 .8 1.8z"/><path fill="#8a534e" d="M536.8 88.3l1.4 3.9 .5-3.0-1.4-3.9z"/><path fill="#92979a" d="M654.6 92.2l1.4-3.9-.5-3.0-1.4 3.9z"/><path fill="#f7dccd" d="M614.3 68.3l-.2-1.2-2.9 2.6 .1 1.0z"/><path fill="#f8c1b1" d="M578.7 67.1l-.2 1.2 3.0 2.4 .1-1.0z"/><path fill="#b77063" d="M538.6 72.8l.4 3.9 2.3-2.7-.4-3.7z"/><path fill="#bfc1b9" d="M653.8 76.7l.4-3.9-2.3-2.5-.4 3.7z"/><path fill="#fbcabe" d="M581.4 72.1l.2 1.0 2.4 2.4-.2-.8z"/><path fill="#fae1d7" d="M611.2 73.1l.2-1.0-2.4 2.6-.2 .8z"/><path fill="#eaab97" d="M573.1 60.6l-.5 1.6 3.7 2.1 .4-1.4z"/><path fill="#e9ccb9" d="M620.2 62.2l-.5-1.6-3.6 2.3 .4 1.4z"/><path fill="#f4d7c6" d="M617.2 65.2l-.3-1.3-3.4 2.4 .3 1.2z"/><path fill="#f5b9a6" d="M575.9 63.9l-.3 1.3 3.4 2.3 .3-1.2z"/><path fill="#ea9c83" d="M558.3 56.1l-.7 2.6 4.2 .3 .7-2.3z"/><path fill="#ebd3bb" d="M635.2 58.7l-.7-2.6-4.2 .6 .7 2.3z"/><path fill="#cd806f" d="M543.4 65.1l-.1 3.5 3.3-1.9 .1-3.4z"/><path fill="#d4cfc0" d="M649.5 68.6l-.1-3.5-3.3-1.8 .1 3.4z"/><path fill="#7b4a48" d="M538.2 94.6l1.9 3.8-.1-2.8-1.9-3.9z"/><path fill="#81858c" d="M652.7 98.4l1.9-3.8 .1-2.9-1.9 3.9z"/><path fill="#f9c2b3" d="M578.6 68.2l.0 1.2 2.9 2.2 .1-1.0z"/><path fill="#f8ddd0" d="M614.2 69.4l.0-1.2-3.0 2.4 .1 1.0z"/><path fill="#e3d4c0" d="M643.1 62.4l-.6-3.1-3.9-.7 .4 2.9z"/><path fill="#de8f79" d="M550.3 59.3l-.6 3.1 4.1-.9 .4-2.9z"/><path fill="#eca992" d="M569.6 58.9l-.6 1.8 4.0 1.7 .5-1.6z"/><path fill="#e8cbb6" d="M623.8 60.7l-.6-1.8-3.9 1.9 .5 1.6z"/><path fill="#fbcbc0" d="M581.7 73.0l.3 1.0 2.3 2.2-.3-.8z"/><path fill="#fae2d8" d="M610.8 74.0l.3-1.0-2.3 2.4-.3 .8z"/><path fill="#eda289" d="M562.1 56.6l-.7 2.3 4.3 .8 .6-2.1z"/><path fill="#edd3bb" d="M631.4 58.9l-.7-2.3-4.2 1.0 .6 2.1z"/><path fill="#ac695e" d="M537.3 79.0l.9 3.9 1.7-2.9-.8-3.8z"/><path fill="#b4bab6" d="M654.6 82.9l.9-3.9-1.8-2.8-.8 3.8z"/><path fill="#eea68e" d="M565.9 57.5l-.7 2.1 4.2 1.2 .6-1.8z"/><path fill="#ecd0b9" d="M627.6 59.6l-.7-2.1-4.1 1.5 .6 1.8z"/><path fill="#794a4a" d="M540.7 100.5l2.3 3.7-.8-2.5-2.3-3.8z"/><path fill="#737681" d="M649.8 104.2l2.3-3.7 .8-2.6-2.3 3.8z"/><path fill="#f5baa8" d="M575.7 65.1l-.1 1.4 3.4 2.1 .1-1.2z"/><path fill="#f5d9c9" d="M617.2 66.5l-.1-1.4-3.4 2.3 .1 1.2z"/><path fill="#eacebc" d="M620.5 63.6l-.3-1.6-3.8 2.1 .3 1.4z"/><path fill="#eaad99" d="M572.6 62.0l-.3 1.6 3.8 1.9 .3-1.4z"/><path fill="#717281" d="M646.1 109.5l2.7-3.5 1.3-2.2-2.7 3.6z"/><path fill="#f9c3b5" d="M578.7 69.3l.1 1.1 2.9 2.1-.1-1.0z"/><path fill="#f8ded2" d="M614.0 70.4l.1-1.1-2.9 2.2-.1 1.0z"/><path fill="#fbcdc2" d="M582.1 73.9l.4 .9 2.3 2.1-.4-.7z"/><path fill="#fbe3da" d="M610.3 74.8l.4-.9-2.3 2.3-.4 .7z"/><path fill="#c57a6b" d="M540.6 70.4l.4 3.7 2.9-2.4-.4-3.5z"/><path fill="#ccccc2" d="M651.8 74.1l.4-3.7-2.9-2.2-.4 3.5z"/><path fill="#e9d7c1" d="M639.5 61.5l-.5-2.8-4.2-.2 .4 2.6z"/><path fill="#e69780" d="M553.8 58.7l-.5 2.8 4.3-.4 .4-2.6z"/><path fill="#d88a76" d="M546.4 63.4l-.2 3.3 3.8-1.5 .1-3.1z"/><path fill="#ded5c5" d="M646.6 66.7l-.2-3.3-3.7-1.3 .1 3.1z"/><path fill="#9d5f58" d="M537.1 85.4l1.4 3.9 1.1-3.1-1.4-3.8z"/><path fill="#a4aaab" d="M654.3 89.3l1.4-3.9-1.1-3.0-1.4 3.8z"/><path fill="#e6ccb8" d="M624.1 62.3l-.4-1.8-4.0 1.7 .4 1.6z"/><path fill="#eba994" d="M569.1 60.5l-.4 1.8 4.0 1.5 .4-1.6z"/><path fill="#f6bcab" d="M575.6 66.4l.0 1.4 3.4 1.8 .0-1.2z"/><path fill="#f5dbcc" d="M617.2 67.8l.0-1.4-3.4 2.0 .0 1.2z"/><path fill="#edd7c1" d="M635.7 61.1l-.5-2.6-4.3 .3 .5 2.3z"/><path fill="#eb9e86" d="M557.6 58.5l-.5 2.6 4.3 .0 .5-2.3z"/><path fill="#f9c5b7" d="M578.9 70.3l.2 1.2 2.9 1.9-.2-1.0z"/><path fill="#f9e0d4" d="M613.7 71.5l.2-1.2-2.9 2.1-.2 1.0z"/><path fill="#ead0bf" d="M620.6 65.1l-.2-1.6-3.7 1.8 .1 1.4z"/><path fill="#ebae9b" d="M572.4 63.5l-.2 1.6 3.8 1.6 .1-1.4z"/><path fill="#ebd1bd" d="M627.9 61.5l-.4-2.1-4.2 1.2 .4 1.9z"/><path fill="#eea790" d="M565.3 59.4l-.4 2.1 4.2 1.0 .4-1.9z"/><path fill="#edd5bf" d="M631.8 61.1l-.4-2.4-4.3 .8 .4 2.1z"/><path fill="#eea38c" d="M561.4 58.7l-.4 2.4 4.3 .5 .4-2.1z"/><path fill="#8d5551" d="M537.9 91.9l1.9 3.8 .5-3.1-1.9-3.8z"/><path fill="#93989e" d="M653.0 95.7l1.9-3.8-.5-3.1-1.9 3.8z"/><path fill="#bc7467" d="M538.8 76.3l.8 3.8 2.4-2.8-.9-3.7z"/><path fill="#c3c7c1" d="M653.2 80.1l.8-3.8-2.3-2.7-.9 3.7z"/><path fill="#e1927d" d="M549.7 62.1l-.1 3.2 4.0-1.2 .1-2.9z"/><path fill="#e5d9c7" d="M643.2 65.3l-.1-3.2-4.0-.9 .1 2.9z"/><path fill="#fac7ba" d="M579.2 71.4l.4 1.1 2.8 1.8-.3-1.0z"/><path fill="#f9e1d6" d="M613.2 72.5l.4-1.1-2.9 1.9-.3 1.0z"/><path fill="#d18473" d="M543.2 68.3l.3 3.5 3.3-2.1-.3-3.4z"/><path fill="#d7d4c8" d="M649.3 71.8l.3-3.5-3.3-2.0-.3 3.4z"/><path fill="#f7bdad" d="M575.7 67.6l.2 1.4 3.3 1.7-.1-1.2z"/><path fill="#f6dcce" d="M616.9 69.0l.2-1.4-3.4 1.9-.1 1.2z"/><path fill="#7d4c4c" d="M539.8 98.1l2.3 3.7-.1-2.9-2.4-3.7z"/><path fill="#828590" d="M650.7 101.8l2.3-3.7 .2-2.9-2.4 3.7z"/><path fill="#eaa995" d="M568.7 62.2l-.1 1.8 4.0 1.2 .2-1.6z"/><path fill="#e5cdbb" d="M624.2 64.0l-.1-1.8-4.1 1.4 .2 1.6z"/><path fill="#ebaf9e" d="M572.3 64.9l.0 1.6 3.8 1.5-.1-1.4z"/><path fill="#ebd2c2" d="M620.5 66.5l.0-1.6-3.7 1.7-.1 1.4z"/><path fill="#e89984" d="M553.3 61.3l-.1 2.9 4.2-.8 .1-2.6z"/><path fill="#ebdbc7" d="M639.6 64.2l-.1-2.9-4.2-.5 .1 2.6z"/><path fill="#af6c62" d="M538.0 82.6l1.3 3.8 1.7-3.1-1.3-3.7z"/><path fill="#b6bcba" d="M653.5 86.4l1.3-3.8-1.7-3.0-1.3 3.7z"/><path fill="#774a4c" d="M542.6 103.9l2.8 3.5-.7-2.5-2.8-3.6z"/><path fill="#727481" d="M647.4 107.4l2.8-3.5 .7-2.6-2.8 3.6z"/><path fill="#fac8bc" d="M579.6 72.4l.6 1.1 2.7 1.6-.4-.9z"/><path fill="#fae2d7" d="M612.6 73.5l.6-1.1-2.9 1.8-.4 .9z"/><path fill="#754b4f" d="M546.3 109.1l3.1 3.3-1.2-2.1-3.1-3.3z"/><path fill="#6f7081" d="M643.4 112.4l3.1-3.3 1.2-2.1-3.1 3.3z"/><path fill="#eea893" d="M564.9 61.3l-.1 2.1 4.2 .7 .2-1.8z"/><path fill="#ebd3c0" d="M628.0 63.4l-.1-2.1-4.3 1.0 .2 1.8z"/><path fill="#eedac6" d="M635.8 63.5l-.1-2.7-4.4 .1 .2 2.3z"/><path fill="#eda08a" d="M557.1 60.8l-.1 2.7 4.3-.3 .2-2.3z"/><path fill="#f7bfb0" d="M575.9 68.9l.3 1.3 3.4 1.5-.3-1.2z"/><path fill="#f6ded1" d="M616.6 70.2l.3-1.3-3.4 1.6-.3 1.2z"/><path fill="#eed8c4" d="M631.9 63.2l-.1-2.4-4.4 .5 .2 2.2z"/><path fill="#efa58f" d="M561.0 60.8l-.1 2.4 4.3 .3 .2-2.2z"/><path fill="#dc8d7b" d="M546.2 66.5l.3 3.3 3.7-1.8-.3-3.1z"/><path fill="#e1dacc" d="M646.3 69.8l.3-3.3-3.7-1.6-.3 3.1z"/><path fill="#c97e70" d="M540.8 73.8l.8 3.7 2.9-2.7-.8-3.4z"/><path fill="#d0d2ca" d="M651.2 77.5l.8-3.7-2.9-2.4-.8 3.4z"/><path fill="#fbcabe" d="M580.2 73.4l.7 1.0 2.6 1.5-.5-.9z"/><path fill="#fae2d9" d="M611.9 74.4l.7-1.0-2.8 1.6-.5 .9z"/><path fill="#e9aa97" d="M568.6 63.9l.1 1.8 4.1 1.0-.1-1.7z"/><path fill="#e4cdbd" d="M624.1 65.7l.1-1.8-4.1 1.1-.1 1.7z"/><path fill="#ecb1a0" d="M572.3 66.4l.3 1.6 3.7 1.2-.2-1.4z"/><path fill="#ebd4c5" d="M620.2 68.0l.3-1.6-3.8 1.4-.2 1.4z"/><path fill="#9f615c" d="M538.2 89.0l1.9 3.8 1.0-3.2-1.8-3.7z"/><path fill="#a5abaf" d="M652.7 92.8l1.9-3.8-1.1-3.1-1.8 3.7z"/><path fill="#f8c1b3" d="M576.3 70.1l.5 1.3 3.2 1.3-.4-1.1z"/><path fill="#f7dfd3" d="M616.0 71.4l.5-1.3-3.3 1.5-.4 1.1z"/><path fill="#e49582" d="M549.5 65.0l.3 3.1 4.0-1.4-.3-2.9z"/><path fill="#e8dece" d="M643.0 68.1l.3-3.1-4.0-1.2-.3 2.9z"/><path fill="#fbccc1" d="M580.9 74.4l.8 1.0 2.6 1.3-.7-.9z"/><path fill="#fae3da" d="M611.1 75.4l.8-1.0-2.7 1.4-.7 .9z"/><path fill="#eea995" d="M564.8 63.2l.1 2.1 4.2 .5 .0-1.9z"/><path fill="#ead4c3" d="M627.9 65.3l.1-2.1-4.3 .7 .0 1.9z"/><path fill="#c0786c" d="M539.5 79.8l1.2 3.7 2.3-2.9-1.2-3.6z"/><path fill="#c7ccc8" d="M652.1 83.5l1.2-3.7-2.3-2.8-1.2 3.6z"/><path fill="#8f5856" d="M539.5 95.4l2.3 3.6 .5-3.1-2.3-3.6z"/><path fill="#9498a2" d="M651.0 99.0l2.3-3.6-.5-3.1-2.3 3.6z"/><path fill="#d58778" d="M543.4 71.5l.7 3.5 3.3-2.4-.7-3.2z"/><path fill="#dbdad0" d="M648.7 75.0l.7-3.5-3.3-2.1-.7 3.2z"/><path fill="#ea9c88" d="M553.1 63.9l.3 2.9 4.2-1.0-.2-2.6z"/><path fill="#eddfce" d="M639.4 66.8l.3-2.9-4.3-.7-.2 2.6z"/><path fill="#edb3a3" d="M572.6 67.8l.4 1.6 3.7 1.0-.3-1.4z"/><path fill="#ecd5c8" d="M619.8 69.4l.4-1.6-3.8 1.2-.3 1.4z"/><path fill="#efa692" d="M560.9 63.0l.1 2.4 4.4-.1-.2-2.1z"/><path fill="#eedac8" d="M631.8 65.4l.1-2.4-4.3 .2-.2 2.1z"/><path fill="#fccec4" d="M581.8 75.3l.9 .9 2.4 1.2-.8-.8z"/><path fill="#fbe4dc" d="M610.1 76.2l.9-.9-2.5 1.3-.8 .8z"/><path fill="#724d56" d="M553.6 116.3l3.7 2.8-1.4-1.4-3.8-2.9z"/><path fill="#6c6b80" d="M635.5 119.1l3.7-2.8 1.5-1.5-3.8 2.9z"/><path fill="#f8c3b5" d="M576.8 71.3l.7 1.3 3.1 1.1-.5-1.1z"/><path fill="#f7e0d5" d="M615.3 72.6l.7-1.3-3.3 1.3-.5 1.1z"/><path fill="#e9ab99" d="M568.7 65.5l.3 1.9 4.0 .7-.2-1.6z"/><path fill="#e3cebf" d="M623.8 67.4l.3-1.9-4.1 1.0-.2 1.6z"/><path fill="#eea28e" d="M557.0 63.2l.1 2.7 4.4-.5-.2-2.4z"/><path fill="#efdecc" d="M635.7 65.9l.1-2.7-4.3-.2-.2 2.4z"/><path fill="#7f4f50" d="M541.8 101.5l2.7 3.5-.1-2.9-2.8-3.5z"/><path fill="#838693" d="M648.3 105.0l2.7-3.5 .2-2.9-2.8 3.5z"/><path fill="#744b52" d="M549.0 112.1l3.5 3.1-1.1-2.1-3.6-3.1z"/><path fill="#6e6e80" d="M640.3 115.2l3.5-3.1 1.2-2.1-3.6 3.1z"/><path fill="#764b4e" d="M545.0 107.1l3.1 3.3-.6-2.5-3.2-3.4z"/><path fill="#737484" d="M644.7 110.4l3.1-3.3 .7-2.6-3.2 3.4z"/><path fill="#b16e66" d="M539.1 86.1l1.8 3.7 1.6-3.2-1.7-3.6z"/><path fill="#b7bdbe" d="M651.9 89.8l1.8-3.7-1.7-3.1-1.7 3.6z"/><path fill="#df9080" d="M546.4 69.5l.6 3.3 3.7-2.0-.6-3.1z"/><path fill="#e4dfd3" d="M645.8 72.8l.6-3.3-3.7-1.8-.6 3.1z"/><path fill="#f9c5b8" d="M577.5 72.5l.8 1.2 3.1 .9-.7-1.1z"/><path fill="#f8e1d7" d="M614.5 73.7l.8-1.2-3.2 1.0-.7 1.1z"/><path fill="#edb5a6" d="M573.0 69.3l.7 1.5 3.6 .8-.6-1.4z"/><path fill="#ecd7ca" d="M619.1 70.8l.7-1.5-3.7 .9-.6 1.4z"/><path fill="#eeaa98" d="M564.9 65.1l.4 2.1 4.2 .2-.3-1.8z"/><path fill="#ead6c6" d="M627.5 67.2l.4-2.1-4.3 .5-.3 1.8z"/><path fill="#ce8275" d="M541.5 77.2l1.2 3.6 2.8-2.8-1.2-3.5z"/><path fill="#d3d7d1" d="M650.1 80.8l1.2-3.6-2.8-2.7-1.2 3.5z"/><path fill="#e8ab9b" d="M569.0 67.2l.5 1.8 4.0 .5-.4-1.6z"/><path fill="#e2cec0" d="M623.3 69.0l.5-1.8-4.1 .7-.4 1.6z"/><path fill="#e79887" d="M549.7 67.8l.6 3.1 4.0-1.6-.6-2.9z"/><path fill="#eae2d4" d="M642.5 70.9l.6-3.1-4.0-1.4-.6 2.9z"/><path fill="#f0a895" d="M561.0 65.1l.4 2.4 4.3-.3-.4-2.1z"/><path fill="#eedccc" d="M631.4 67.5l.4-2.4-4.3 .0-.4 2.1z"/><path fill="#a26460" d="M539.8 92.5l2.3 3.6 1.0-3.2-2.3-3.6z"/><path fill="#a6abb2" d="M650.7 96.1l2.3-3.6-1.0-3.2-2.3 3.6z"/><path fill="#f9c7bb" d="M578.3 73.6l1.0 1.2 2.9 .7-.8-1.0z"/><path fill="#f8e2d8" d="M613.5 74.8l1.0-1.2-3.1 .9-.8 1.0z"/><path fill="#ed9f8d" d="M553.3 66.5l.6 2.9 4.1-1.3-.5-2.6z"/><path fill="#efe3d4" d="M638.9 69.4l.6-2.9-4.2-1.0-.5 2.6z"/><path fill="#f0a592" d="M557.1 65.6l.5 2.6 4.3-.7-.5-2.4z"/><path fill="#f0e1d1" d="M635.2 68.2l.5-2.6-4.3-.5-.5 2.4z"/><path fill="#eeb7a9" d="M573.7 70.7l.8 1.5 3.5 .5-.7-1.3z"/><path fill="#edd8cd" d="M618.3 72.2l.8-1.5-3.6 .7-.7 1.3z"/><path fill="#714e59" d="M556.9 118.8l4.0 2.6-1.3-1.4-4.1-2.6z"/><path fill="#6b6980" d="M631.9 121.4l4.0-2.6 1.4-1.4-4.1 2.6z"/><path fill="#d98c7e" d="M544.0 74.7l1.1 3.4 3.3-2.5-1.1-3.3z"/><path fill="#dedfd7" d="M647.7 78.1l1.1-3.4-3.3-2.4-1.1 3.3z"/><path fill="#c27a70" d="M540.5 83.3l1.8 3.6 2.2-3.2-1.7-3.4z"/><path fill="#c8cdcb" d="M650.5 86.9l1.8-3.6-2.3-3.0-1.7 3.4z"/><path fill="#925a5a" d="M541.5 98.8l2.8 3.5 .4-3.1-2.8-3.5z"/><path fill="#9699a5" d="M648.5 102.3l2.8-3.5-.4-3.1-2.8 3.5z"/><path fill="#edac9b" d="M565.3 67.0l.6 2.1 4.1-.1-.5-1.8z"/><path fill="#ead7c8" d="M626.9 69.1l.6-2.1-4.2 .2-.5 1.8z"/><path fill="#fac9be" d="M579.3 74.7l1.1 1.1 2.7 .6-.9-1.0z"/><path fill="#f9e3da" d="M612.4 75.8l1.1-1.1-2.9 .7-.9 1.0z"/><path fill="#e7ac9d" d="M569.5 68.9l.8 1.8 3.8 .2-.6-1.6z"/><path fill="#e1cec2" d="M622.5 70.7l.8-1.8-4.0 .4-.6 1.6z"/><path fill="#734c55" d="M552.1 114.9l3.8 2.8-1.0-2.0-3.9-2.8z"/><path fill="#6d6c80" d="M636.9 117.7l3.8-2.8 1.1-2.0-3.9 2.8z"/><path fill="#825255" d="M544.2 104.7l3.2 3.3-.1-2.8-3.2-3.4z"/><path fill="#858696" d="M645.4 108.0l3.2-3.3 .1-2.9-3.2 3.4z"/><path fill="#754b51" d="M547.8 110.1l3.5 3.1-.6-2.4-3.6-3.2z"/><path fill="#747587" d="M641.5 113.2l3.5-3.1 .7-2.5-3.6 3.2z"/><path fill="#efb9ac" d="M574.5 72.0l.9 1.5 3.4 .3-.8-1.3z"/><path fill="#eed9cf" d="M617.4 73.5l.9-1.5-3.5 .5-.8 1.3z"/><path fill="#e39485" d="M546.9 72.5l1.1 3.3 3.6-2.3-1.0-3.0z"/><path fill="#e7e4da" d="M644.8 75.8l1.1-3.3-3.7-2.0-1.0 3.0z"/><path fill="#facbc1" d="M580.4 75.7l1.2 1.1 2.6 .3-1.1-.9z"/><path fill="#f9e3db" d="M611.2 76.8l1.2-1.1-2.7 .5-1.1 .9z"/><path fill="#f1ab99" d="M561.4 67.3l.7 2.3 4.2-.5-.6-2.1z"/><path fill="#efded0" d="M630.7 69.6l.7-2.3-4.3-.3-.6 2.1z"/><path fill="#b3706a" d="M540.6 89.6l2.3 3.5 1.6-3.2-2.2-3.5z"/><path fill="#b8bcc1" d="M649.9 93.1l2.3-3.5-1.7-3.2-2.2 3.5z"/><path fill="#d2867b" d="M542.5 80.5l1.7 3.5 2.7-3.0-1.6-3.3z"/><path fill="#d7dbd7" d="M648.6 84.0l1.7-3.5-2.8-2.8-1.6 3.3z"/><path fill="#ea9c8c" d="M550.2 70.6l1.0 3.1 3.9-1.9-.9-2.8z"/><path fill="#ede6db" d="M641.6 73.7l1.0-3.1-4.0-1.6-.9 2.8z"/><path fill="#f1a896" d="M557.5 68.0l.9 2.6 4.1-1.1-.7-2.3z"/><path fill="#f1e3d5" d="M634.4 70.6l.9-2.6-4.3-.8-.7 2.3z"/><path fill="#e6ada0" d="M570.3 70.5l.9 1.7 3.7 .0-.8-1.5z"/><path fill="#e2cfc4" d="M621.6 72.2l.9-1.7-3.8 .2-.8 1.5z"/><path fill="#704f5c" d="M560.5 121.1l4.3 2.3-1.2-1.3-4.4-2.3z"/><path fill="#6a677f" d="M628.0 123.4l4.3-2.3 1.3-1.3-4.4 2.3z"/><path fill="#edad9e" d="M565.8 68.9l.9 2.0 4.0-.3-.7-1.8z"/><path fill="#e9d8cb" d="M626.1 70.9l.9-2.0-4.2-.1-.7 1.8z"/><path fill="#efa392" d="M553.8 69.1l.9 2.8 4.1-1.5-.9-2.5z"/><path fill="#f1e6d9" d="M638.1 71.9l.9-2.8-4.1-1.2-.9 2.5z"/><path fill="#fbcec4" d="M581.6 76.6l1.4 1.1 2.3 .1-1.1-.9z"/><path fill="#fae4dc" d="M609.8 77.7l1.4-1.1-2.6 .3-1.1 .9z"/><path fill="#efbcb0" d="M575.4 73.3l1.2 1.4 3.2 .1-1.0-1.2z"/><path fill="#eedad0" d="M616.2 74.7l1.2-1.4-3.4 .3-1.0 1.2z"/><path fill="#a46665" d="M541.8 95.9l2.7 3.5 1.0-3.3-2.7-3.5z"/><path fill="#a7abb5" d="M648.3 99.4l2.7-3.5-1.0-3.3-2.7 3.5z"/><path fill="#fbd0c7" d="M582.9 77.4l1.5 1.1 2.1 .0-1.2-.9z"/><path fill="#fae4dd" d="M608.4 78.5l1.5-1.1-2.4 .2-1.2 .9z"/><path fill="#724e58" d="M555.4 117.5l4.2 2.6-.9-2.0-4.3-2.6z"/><path fill="#6c6a80" d="M633.2 120.1l4.2-2.6 1.0-2.0-4.3 2.6z"/><path fill="#dd9083" d="M545.0 77.9l1.6 3.3 3.1-2.7-1.5-3.2z"/><path fill="#e2e3dd" d="M646.2 81.2l1.6-3.3-3.2-2.6-1.5 3.2z"/><path fill="#f1ad9d" d="M562.1 69.4l.9 2.3 4.1-.8-.8-2.1z"/><path fill="#efe0d3" d="M629.8 71.7l.9-2.3-4.2-.6-.8 2.1z"/><path fill="#f0beb3" d="M576.5 74.5l1.4 1.4 3.0-.1-1.2-1.2z"/><path fill="#efdbd2" d="M614.9 75.9l1.4-1.4-3.2 .1-1.2 1.2z"/><path fill="#e5afa2" d="M571.2 72.0l1.1 1.7 3.6-.2-1.0-1.5z"/><path fill="#e3d1c7" d="M620.5 73.7l1.1-1.7-3.7 .0-1.0 1.5z"/><path fill="#945d5f" d="M543.9 102.0l3.2 3.4 .4-3.2-3.2-3.3z"/><path fill="#9799a8" d="M645.7 105.4l3.2-3.4-.4-3.1-3.2 3.3z"/><path fill="#c47c75" d="M542.0 86.6l2.2 3.5 2.1-3.3-2.1-3.3z"/><path fill="#c9cdce" d="M648.6 90.1l2.2-3.5-2.2-3.1-2.1 3.3z"/><path fill="#fcd2ca" d="M584.3 78.2l1.8 1.0 1.7-.2-1.4-.8z"/><path fill="#fbe4dd" d="M606.7 79.2l1.8-1.0-2.1 .0-1.4 .8z"/><path fill="#744d54" d="M550.9 113.0l3.9 2.9-.6-2.5-3.9-2.9z"/><path fill="#757589" d="M638.0 115.9l3.9-2.9 .6-2.5-3.9 2.9z"/><path fill="#edafa1" d="M566.7 70.7l1.1 2.0 3.9-.5-1.0-1.8z"/><path fill="#e9d8cd" d="M625.0 72.7l1.1-2.0-4.0-.3-1.0 1.8z"/><path fill="#84555a" d="M547.0 107.8l3.6 3.1-.1-2.9-3.6-3.1z"/><path fill="#868699" d="M642.2 110.9l3.6-3.1 .1-2.9-3.6 3.1z"/><path fill="#e6998b" d="M547.9 75.5l1.4 3.2 3.5-2.5-1.4-3.0z"/><path fill="#eae8e0" d="M643.5 78.7l1.4-3.2-3.5-2.3-1.4 3.0z"/><path fill="#6f5160" d="M564.3 123.2l4.6 2.0-1.0-1.2-4.7-2.1z"/><path fill="#6a667f" d="M623.9 125.2l4.6-2.0 1.1-1.3-4.7 2.1z"/><path fill="#fcd5cd" d="M585.9 78.9l1.9 .9 1.4-.3-1.6-.8z"/><path fill="#fbe4de" d="M605.0 79.8l1.9-.9-1.7-.2-1.6 .8z"/><path fill="#f3ab9b" d="M558.3 70.3l1.1 2.5 4.1-1.2-1.0-2.3z"/><path fill="#f2e6da" d="M633.4 72.8l1.1-2.5-4.2-1.0-1.0 2.3z"/><path fill="#f0c1b6" d="M577.8 75.7l1.5 1.3 2.8-.3-1.3-1.1z"/><path fill="#efdbd3" d="M613.5 77.0l1.5-1.3-3.0-.1-1.3 1.1z"/><path fill="#eda091" d="M551.1 73.4l1.4 3.0 3.7-2.1-1.2-2.8z"/><path fill="#f0eae1" d="M640.3 76.4l1.4-3.0-3.9-1.9-1.2 2.8z"/><path fill="#f2a797" d="M554.6 71.7l1.2 2.7 4.0-1.7-1.1-2.5z"/><path fill="#f3eadf" d="M637.0 74.4l1.2-2.7-4.1-1.5-1.1 2.5z"/><path fill="#fcd7d0" d="M587.4 79.5l2.1 .7 1.1-.3-1.8-.6z"/><path fill="#fce4de" d="M603.3 80.2l2.1-.7-1.4-.2-1.8 .6z"/><path fill="#6c576c" d="M578.0 128.4l4.9 1.0-.6-.4-5.1-1.2z"/><path fill="#69627d" d="M609.9 129.4l4.9-1.0 .8-.6-5.1 1.2z"/><path fill="#e4b0a4" d="M572.3 73.5l1.3 1.7 3.4-.5-1.1-1.5z"/><path fill="#e3d2c9" d="M619.2 75.2l1.3-1.7-3.6-.3-1.1 1.5z"/><path fill="#b5736f" d="M542.6 92.9l2.7 3.4 1.5-3.4-2.6-3.3z"/><path fill="#b9bcc4" d="M647.5 96.3l2.7-3.4-1.6-3.3-2.6 3.3z"/><path fill="#d3897f" d="M544.0 83.7l2.1 3.4 2.5-3.2-2.0-3.2z"/><path fill="#d8dbd9" d="M646.7 87.1l2.1-3.4-2.6-3.0-2.0 3.2z"/><path fill="#fddad3" d="M589.1 80.0l2.2 .5 .8-.3-1.9-.5z"/><path fill="#fce3de" d="M601.5 80.5l2.2-.5-1.1-.3-1.9 .5z"/><path fill="#f2b0a1" d="M563.0 71.4l1.2 2.3 4.0-1.1-1.1-2.0z"/><path fill="#f0e1d6" d="M628.6 73.7l1.2-2.3-4.1-.8-1.1 2.0z"/><path fill="#fddcd6" d="M590.8 80.4l2.3 .3 .5-.3-2.0-.3z"/><path fill="#fde3de" d="M599.7 80.7l2.3-.3-.8-.3-2.0 .3z"/><path fill="#f1c3ba" d="M579.2 76.8l1.7 1.2 2.5-.4-1.4-1.1z"/><path fill="#f0dcd5" d="M611.9 78.0l1.7-1.2-2.8-.3-1.4 1.1z"/><path fill="#edb1a4" d="M567.7 72.5l1.3 1.9 3.8-.8-1.2-1.7z"/><path fill="#e9d9cf" d="M623.8 74.4l1.3-1.9-3.9-.6-1.2 1.7z"/><path fill="#704f5b" d="M559.1 119.9l4.5 2.3-.8-1.9-4.6-2.4z"/><path fill="#6b687f" d="M629.2 122.2l4.5-2.3 .9-2.0-4.6 2.4z"/><path fill="#fdded8" d="M592.6 80.7l2.2 .2 .3-.3-2.0-.2z"/><path fill="#fde2dd" d="M598.0 80.9l2.2-.2-.5-.3-2.0 .2z"/><path fill="#6b5970" d="M582.4 129.3l5.0 .8-.4-.4-5.2-.8z"/><path fill="#69617c" d="M605.4 130.1l5.0-.8 .6-.4-5.2 .8z"/><path fill="#fde0db" d="M594.4 80.8l2.2 .1 .0-.3-2.0-.1z"/><path fill="#fde2dd" d="M596.2 80.9l2.2-.1-.2-.3-2.0 .1z"/><path fill="#6e5364" d="M568.4 125.0l4.8 1.7-.9-1.2-4.9-1.7z"/><path fill="#69657e" d="M619.6 126.7l4.8-1.7 1.0-1.2-4.9 1.7z"/><path fill="#a5696a" d="M544.2 99.1l3.1 3.3 1.0-3.3-3.1-3.3z"/><path fill="#a8aab8" d="M645.5 102.4l3.1-3.3-1.0-3.3-3.1 3.3z"/><path fill="#e5b3a8" d="M573.6 74.9l1.5 1.6 3.2-.7-1.3-1.4z"/><path fill="#e4d2ca" d="M617.7 76.5l1.5-1.6-3.4-.5-1.3 1.4z"/><path fill="#e19589" d="M546.4 81.0l1.9 3.2 3.0-3.0-1.8-3.0z"/><path fill="#e5e7e2" d="M644.5 84.2l1.9-3.2-3.1-2.8-1.8 3.0z"/><path fill="#6b5c74" d="M587.0 130.1l5.0 .4-.2-.4-5.3-.5z"/><path fill="#69607b" d="M600.8 130.5l5.0-.4 .5-.5-5.3 .5z"/><path fill="#f1c6bd" d="M580.8 77.8l1.8 1.1 2.2-.6-1.5-1.0z"/><path fill="#f0dcd5" d="M610.2 78.9l1.8-1.1-2.5-.5-1.5 1.0z"/><path fill="#755059" d="M554.4 115.7l4.2 2.6-.5-2.4-4.3-2.7z"/><path fill="#77758b" d="M634.2 118.3l4.2-2.6 .6-2.5-4.3 2.7z"/><path fill="#f5ae9f" d="M559.3 72.6l1.4 2.5 4.0-1.6-1.3-2.2z"/><path fill="#f4e8de" d="M632.1 75.1l1.4-2.5-4.1-1.3-1.3 2.2z"/><path fill="#956165" d="M546.8 105.1l3.5 3.1 .4-3.1-3.6-3.1z"/><path fill="#9898aa" d="M642.5 108.2l3.5-3.1-.3-3.1-3.6 3.1z"/><path fill="#6a5e78" d="M591.5 130.5l5.1 .1 .0-.4-5.3-.1z"/><path fill="#6a607a" d="M596.2 130.6l5.1-.1 .2-.4-5.3 .1z"/><path fill="#c57f7a" d="M544.0 89.8l2.6 3.4 2.0-3.4-2.5-3.2z"/><path fill="#c9ccd1" d="M646.2 93.2l2.6-3.4-2.1-3.2-2.5 3.2z"/><path fill="#85585f" d="M550.2 110.7l3.9 2.9-.1-2.9-3.9-2.9z"/><path fill="#87869b" d="M638.7 113.6l3.9-2.9 .1-2.9-3.9 2.9z"/><path fill="#ea9e91" d="M549.2 78.4l1.8 3.1 3.4-2.7-1.8-2.9z"/><path fill="#edece6" d="M641.8 81.5l1.8-3.1-3.4-2.5-1.8 2.9z"/><path fill="#f4ab9c" d="M555.7 74.2l1.6 2.7 3.8-2.0-1.4-2.5z"/><path fill="#f5ede4" d="M635.5 76.9l1.6-2.7-4.0-1.8-1.4 2.5z"/><path fill="#edb4a7" d="M569.0 74.2l1.5 1.8 3.6-1.0-1.4-1.6z"/><path fill="#e9d9d1" d="M622.3 76.0l1.5-1.8-3.7-.8-1.4 1.6z"/><path fill="#f2c8c0" d="M582.4 78.7l2.0 1.0 1.9-.7-1.7-1.0z"/><path fill="#f1dcd6" d="M608.4 79.7l2.0-1.0-2.2-.7-1.7 1.0z"/><path fill="#f3b2a5" d="M564.2 73.4l1.5 2.2 3.8-1.3-1.4-1.9z"/><path fill="#f0e2d9" d="M627.1 75.6l1.5-2.2-3.9-1.0-1.4 1.9z"/><path fill="#f0a597" d="M552.3 76.1l1.7 2.9 3.7-2.4-1.6-2.6z"/><path fill="#f3eee6" d="M638.8 79.0l1.7-2.9-3.8-2.1-1.6 2.6z"/><path fill="#e6b5ac" d="M575.0 76.3l1.8 1.5 2.9-.9-1.5-1.3z"/><path fill="#e4d3cc" d="M616.0 77.8l1.8-1.5-3.2-.7-1.5 1.3z"/><path fill="#6d5567" d="M572.7 126.6l4.9 1.4-.6-1.1-5.2-1.5z"/><path fill="#69637d" d="M615.2 128.0l4.9-1.4 .9-1.2-5.2 1.5z"/><path fill="#6f515f" d="M563.1 122.0l4.7 2.0-.7-1.8-4.8-2.1z"/><path fill="#6b677f" d="M625.0 124.0l4.7-2.0 .8-1.9-4.8 2.1z"/><path fill="#f2cbc4" d="M584.2 79.5l2.1 .9 1.6-.9-1.8-.8z"/><path fill="#f2dcd6" d="M606.5 80.4l2.1-.9-1.9-.8-1.8 .8z"/><path fill="#b77675" d="M545.0 96.1l3.1 3.2 1.4-3.4-3.0-3.2z"/><path fill="#b9bbc7" d="M644.7 99.3l3.1-3.2-1.5-3.4-3.0 3.2z"/><path fill="#d48b84" d="M545.8 86.8l2.5 3.3 2.5-3.3-2.4-3.1z"/><path fill="#d8dadc" d="M644.5 90.1l2.5-3.3-2.6-3.1-2.4 3.1z"/><path fill="#f3cec7" d="M586.0 80.2l2.3 .7 1.3-.9-2.0-.7z"/><path fill="#f2dcd6" d="M604.5 80.9l2.3-.7-1.6-.9-2.0 .7z"/><path fill="#f6b2a4" d="M560.6 74.8l1.7 2.4 3.8-1.8-1.6-2.1z"/><path fill="#f5eae1" d="M630.5 77.2l1.7-2.4-3.9-1.5-1.6 2.1z"/><path fill="#e6b8af" d="M576.7 77.5l1.9 1.4 2.7-1.1-1.7-1.2z"/><path fill="#e5d4cd" d="M614.2 78.9l1.9-1.4-2.9-.9-1.7 1.2z"/><path fill="#6c576b" d="M577.2 127.9l5.1 1.1-.6-1.1-5.2-1.1z"/><path fill="#69627d" d="M610.5 129.0l5.1-1.1 .7-1.1-5.2 1.1z"/><path fill="#edb6ab" d="M570.4 75.8l1.8 1.8 3.3-1.3-1.5-1.5z"/><path fill="#e9dad2" d="M620.6 77.6l1.8-1.8-3.6-1.0-1.5 1.5z"/><path fill="#77535f" d="M558.2 118.1l4.5 2.3-.5-2.4-4.5-2.3z"/><path fill="#78758c" d="M630.1 120.4l4.5-2.3 .5-2.4-4.5 2.3z"/><path fill="#f3d0ca" d="M588.0 80.7l2.4 .6 .9-1.0-2.1-.5z"/><path fill="#f3dbd6" d="M602.4 81.3l2.4-.6-1.2-.9-2.1 .5z"/><path fill="#a76d70" d="M547.0 102.2l3.5 3.1 .9-3.4-3.5-3.1z"/><path fill="#a9aabb" d="M642.3 105.3l3.5-3.1-.9-3.4-3.5 3.1z"/><path fill="#f3b5a9" d="M565.6 75.3l1.8 2.1 3.5-1.5-1.5-1.9z"/><path fill="#f1e3db" d="M625.4 77.4l1.8-2.1-3.8-1.3-1.5 1.9z"/><path fill="#e2978d" d="M548.1 83.9l2.4 3.1 2.9-3.1-2.3-2.9z"/><path fill="#e5e6e4" d="M642.3 87.0l2.4-3.1-3.0-2.9-2.3 2.9z"/><path fill="#f3d3cd" d="M590.0 81.2l2.4 .4 .7-1.0-2.2-.4z"/><path fill="#f3dbd6" d="M600.4 81.6l2.4-.4-.9-1.0-2.2 .4z"/><path fill="#f7afa2" d="M557.2 76.6l1.8 2.6 3.7-2.2-1.7-2.4z"/><path fill="#f7f0e8" d="M633.8 79.2l1.8-2.6-3.8-2.0-1.7 2.4z"/><path fill="#875c65" d="M553.7 113.4l4.3 2.6-.1-2.8-4.3-2.7z"/><path fill="#88869d" d="M634.8 116.0l4.3-2.6 .1-2.9-4.3 2.7z"/><path fill="#6e5363" d="M567.4 123.9l4.9 1.7-.6-1.8-5.0-1.7z"/><path fill="#6a657e" d="M620.5 125.6l4.9-1.7 .7-1.8-5.0 1.7z"/><path fill="#97646b" d="M550.0 108.0l3.9 2.9 .3-3.2-3.9-2.8z"/><path fill="#9998ad" d="M638.9 110.9l3.9-2.9-.3-3.1-3.9 2.8z"/><path fill="#f4d5d0" d="M592.0 81.5l2.5 .3 .3-1.1-2.2-.2z"/><path fill="#f3dad5" d="M598.3 81.8l2.5-.3-.6-1.0-2.2 .2z"/><path fill="#6b5970" d="M581.8 128.9l5.2 .8-.3-1.1-5.4-.8z"/><path fill="#69617c" d="M605.8 129.7l5.2-.8 .5-1.1-5.4 .8z"/><path fill="#e7bbb3" d="M578.4 78.7l2.1 1.2 2.4-1.2-1.8-1.1z"/><path fill="#e6d4ce" d="M612.3 79.9l2.1-1.2-2.7-1.1-1.8 1.1z"/><path fill="#f4d8d3" d="M594.1 81.7l2.5 .1 .0-1.0-2.2-.1z"/><path fill="#f4d9d5" d="M596.2 81.8l2.5-.1-.3-1.0-2.2 .1z"/><path fill="#eda297" d="M550.8 81.2l2.3 3.0 3.2-2.9-2.1-2.8z"/><path fill="#f0efea" d="M639.7 84.2l2.3-3.0-3.4-2.7-2.1 2.8z"/><path fill="#f4aa9e" d="M553.9 78.8l2.0 2.7 3.5-2.6-1.9-2.5z"/><path fill="#f6f2eb" d="M636.9 81.5l2.0-2.7-3.6-2.4-1.9 2.5z"/><path fill="#c7827f" d="M546.3 92.9l3.0 3.2 1.9-3.5-2.9-3.0z"/><path fill="#c9cbd4" d="M643.5 96.1l3.0-3.2-2.0-3.3-2.9 3.0z"/><path fill="#edb9af" d="M572.1 77.3l2.0 1.7 3.1-1.5-1.8-1.4z"/><path fill="#e9dad3" d="M618.7 79.0l2.0-1.7-3.3-1.2-1.8 1.4z"/><path fill="#6b5c74" d="M586.5 129.7l5.3 .5-.2-1.1-5.4-.5z"/><path fill="#6a617b" d="M601.0 130.2l5.3-.5 .3-1.1-5.4 .5z"/><path fill="#6b5e78" d="M591.3 130.1l5.3 .2 .0-1.1-5.5-.1z"/><path fill="#6a607a" d="M596.2 130.3l5.3-.2 .2-1.0-5.5 .1z"/><path fill="#e7beb7" d="M580.3 79.7l2.3 1.1 2.1-1.3-2.0-1.0z"/><path fill="#e6d4ce" d="M610.2 80.8l2.3-1.1-2.4-1.2-2.0 1.0z"/><path fill="#f7b6aa" d="M562.2 76.9l2.0 2.3 3.5-2.0-1.8-2.0z"/><path fill="#f6ece4" d="M628.6 79.2l2.0-2.3-3.7-1.7-1.8 2.0z"/><path fill="#f4b9ae" d="M567.2 77.2l2.1 1.9 3.3-1.7-1.8-1.8z"/><path fill="#f1e4dd" d="M623.5 79.1l2.1-1.9-3.6-1.6-1.8 1.8z"/><path fill="#785765" d="M562.3 120.3l4.8 2.1-.4-2.4-4.9-2.1z"/><path fill="#78748e" d="M625.7 122.4l4.8-2.1 .5-2.4-4.9 2.1z"/><path fill="#6e5567" d="M571.8 125.5l5.1 1.5-.5-1.8-5.2-1.5z"/><path fill="#6a647d" d="M615.9 127.0l5.1-1.5 .6-1.8-5.2 1.5z"/><path fill="#b8797a" d="M547.8 99.1l3.4 3.1 1.3-3.6-3.3-3.0z"/><path fill="#babac9" d="M641.6 102.2l3.4-3.1-1.4-3.5-3.3 3.0z"/><path fill="#d58e89" d="M548.1 89.8l2.8 3.1 2.4-3.4-2.8-3.0z"/><path fill="#d8d9de" d="M641.9 92.9l2.8-3.1-2.4-3.3-2.8 3.0z"/><path fill="#e8c1ba" d="M582.4 80.6l2.4 1.0 1.7-1.5-2.1-.9z"/><path fill="#e7d4cf" d="M608.0 81.6l2.4-1.0-2.0-1.4-2.1 .9z"/><path fill="#edbbb2" d="M574.0 78.8l2.2 1.5 2.7-1.6-1.9-1.4z"/><path fill="#e9dad4" d="M616.6 80.3l2.2-1.5-3.0-1.5-1.9 1.4z"/><path fill="#f9b4a9" d="M558.9 78.9l2.2 2.5 3.4-2.4-2.0-2.3z"/><path fill="#f9f2ec" d="M631.7 81.4l2.2-2.5-3.6-2.2-2.0 2.3z"/><path fill="#885f6b" d="M557.6 115.9l4.6 2.3-.1-2.8-4.6-2.4z"/><path fill="#89869f" d="M630.6 118.2l4.6-2.3 .1-2.9-4.6 2.4z"/><path fill="#a97176" d="M550.2 105.1l3.9 2.9 .8-3.5-3.9-2.8z"/><path fill="#aaa9bd" d="M638.7 108.0l3.9-2.9-.8-3.4-3.9 2.8z"/><path fill="#e39a93" d="M550.3 86.8l2.7 2.9 2.7-3.2-2.6-2.8z"/><path fill="#e5e4e6" d="M639.8 89.7l2.7-2.9-2.8-3.1-2.6 2.8z"/><path fill="#e8c4be" d="M584.5 81.4l2.6 .8 1.4-1.5-2.3-.8z"/><path fill="#e7d3cf" d="M605.7 82.2l2.6-.8-1.7-1.5-2.3 .8z"/><path fill="#996871" d="M553.5 110.7l4.3 2.7 .3-3.2-4.3-2.7z"/><path fill="#9997ae" d="M635.0 113.4l4.3-2.7-.3-3.2-4.3 2.7z"/><path fill="#f7afa4" d="M555.8 81.3l2.3 2.6 3.3-2.8-2.2-2.4z"/><path fill="#f9f5f0" d="M634.7 83.9l2.3-2.6-3.4-2.6-2.2 2.4z"/><path fill="#6d576b" d="M576.5 126.9l5.2 1.1-.3-1.7-5.4-1.2z"/><path fill="#6a637d" d="M611.1 128.0l5.2-1.1 .5-1.8-5.4 1.2z"/><path fill="#eea59c" d="M552.9 83.9l2.5 2.8 3.0-3.1-2.4-2.6z"/><path fill="#f0eeed" d="M637.4 86.7l2.5-2.8-3.1-2.9-2.4 2.6z"/><path fill="#f4bcb2" d="M569.1 78.9l2.3 1.8 3.1-2.0-2.1-1.6z"/><path fill="#f2e4de" d="M621.4 80.7l2.3-1.8-3.3-1.8-2.1 1.6z"/><path fill="#f9baaf" d="M564.0 79.0l2.3 2.1 3.3-2.2-2.0-2.0z"/><path fill="#f7ede7" d="M626.5 81.1l2.3-2.1-3.6-2.1-2.0 2.0z"/><path fill="#e8c6c1" d="M586.7 82.1l2.7 .6 1.0-1.6-2.3-.6z"/><path fill="#e7d2ce" d="M603.4 82.7l2.7-.6-1.4-1.6-2.3 .6z"/><path fill="#ecbeb6" d="M576.0 80.1l2.4 1.3 2.4-1.7-2.1-1.3z"/><path fill="#e9d9d4" d="M614.4 81.4l2.4-1.3-2.7-1.7-2.1 1.3z"/><path fill="#c88585" d="M549.0 95.9l3.4 3.0 1.7-3.6-3.2-2.9z"/><path fill="#cacad6" d="M640.4 98.9l3.4-3.0-1.9-3.5-3.2 2.9z"/><path fill="#795a6b" d="M566.6 122.2l5.0 1.8-.3-2.3-5.1-1.8z"/><path fill="#79748e" d="M621.2 124.0l5.0-1.8 .4-2.3-5.1 1.8z"/><path fill="#e8c8c4" d="M589.0 82.6l2.8 .4 .7-1.6-2.4-.5z"/><path fill="#e7d1cd" d="M601.0 83.0l2.8-.4-1.1-1.7-2.4 .5z"/><path fill="#6c5a6f" d="M581.3 127.9l5.3 .9-.2-1.8-5.5-.8z"/><path fill="#6a627c" d="M606.2 128.8l5.3-.9 .4-1.7-5.5 .8z"/><path fill="#e8cbc7" d="M591.4 83.0l2.8 .2 .3-1.7-2.4-.2z"/><path fill="#e8d0cd" d="M598.6 83.2l2.8-.2-.7-1.7-2.4 .2z"/><path fill="#e8cdca" d="M593.8 83.2l2.8 .1 .0-1.7-2.5-.1z"/><path fill="#e8cfcc" d="M596.2 83.3l2.8-.1-.3-1.7-2.5 .1z"/><path fill="#ecc1b9" d="M578.1 81.2l2.6 1.3 2.2-2.0-2.3-1.1z"/><path fill="#e9d9d4" d="M612.1 82.5l2.6-1.3-2.5-1.8-2.3 1.1z"/><path fill="#fbb9af" d="M560.9 81.1l2.5 2.4 3.2-2.7-2.3-2.1z"/><path fill="#fcf4ef" d="M629.4 83.5l2.5-2.4-3.4-2.4-2.3 2.1z"/><path fill="#f5bfb6" d="M571.2 80.5l2.5 1.6 2.8-2.1-2.2-1.5z"/><path fill="#f2e5df" d="M619.1 82.1l2.5-1.6-3.1-2.0-2.2 1.5z"/><path fill="#6c5c73" d="M586.2 128.7l5.4 .5-.1-1.7-5.6-.5z"/><path fill="#6b627b" d="M601.2 129.2l5.4-.5 .3-1.7-5.6 .5z"/><path fill="#b97d81" d="M550.9 102.0l3.8 2.8 1.2-3.6-3.7-2.8z"/><path fill="#bbb9cb" d="M638.1 104.8l3.8-2.8-1.3-3.6-3.7 2.8z"/><path fill="#d7918f" d="M550.7 92.7l3.2 2.9 2.2-3.6-3.1-2.8z"/><path fill="#d8d7e0" d="M638.9 95.6l3.2-2.9-2.3-3.5-3.1 2.8z"/><path fill="#8a6372" d="M561.7 118.1l4.9 2.1-.1-2.9-4.9-2.1z"/><path fill="#8a85a0" d="M626.2 120.2l4.9-2.1 .1-2.9-4.9 2.1z"/><path fill="#6b5f78" d="M591.1 129.2l5.5 .1 .0-1.7-5.6-.1z"/><path fill="#6b617a" d="M596.2 129.3l5.5-.1 .1-1.7-5.6 .1z"/><path fill="#fabeb4" d="M566.1 80.9l2.5 1.9 3.1-2.4-2.3-1.8z"/><path fill="#f8eee9" d="M624.2 82.8l2.5-1.9-3.3-2.3-2.3 1.8z"/><path fill="#7a5e71" d="M571.2 123.9l5.2 1.5-.3-2.4-5.3-1.5z"/><path fill="#7a738f" d="M616.4 125.4l5.2-1.5 .4-2.4-5.3 1.5z"/><path fill="#aa747c" d="M553.7 107.8l4.3 2.6 .7-3.5-4.2-2.6z"/><path fill="#aba8be" d="M634.8 110.4l4.3-2.6-.8-3.5-4.2 2.6z"/><path fill="#ebc2bc" d="M580.5 82.3l2.7 1.0 1.8-2.0-2.4-1.0z"/><path fill="#e9d7d3" d="M609.6 83.3l2.7-1.0-2.1-2.0-2.4 1.0z"/><path fill="#f8b3aa" d="M557.9 83.7l2.7 2.5 3.1-3.0-2.5-2.3z"/><path fill="#f9f4f2" d="M632.2 86.2l2.7-2.5-3.3-2.8-2.5 2.3z"/><path fill="#9a6c78" d="M557.4 113.2l4.6 2.4 .2-3.2-4.5-2.4z"/><path fill="#9a97b0" d="M630.8 115.6l4.6-2.4-.3-3.2-4.5 2.4z"/><path fill="#e49d99" d="M552.8 89.5l3.0 2.8 2.5-3.5-2.9-2.6z"/><path fill="#e6e4e9" d="M637.0 92.3l3.0-2.8-2.6-3.3-2.9 2.6z"/><path fill="#efa9a2" d="M555.2 86.5l2.9 2.6 2.8-3.2-2.7-2.5z"/><path fill="#f2eeef" d="M634.7 89.1l2.9-2.6-3.0-3.1-2.7 2.5z"/><path fill="#f5c2ba" d="M573.5 81.9l2.7 1.6 2.4-2.3-2.4-1.4z"/><path fill="#f2e4df" d="M616.6 83.5l2.7-1.6-2.7-2.1-2.4 1.4z"/><path fill="#eac4bf" d="M582.9 83.2l2.9 .9 1.4-2.2-2.5-.8z"/><path fill="#e8d5d2" d="M607.0 84.1l2.9-.9-1.8-2.1-2.5 .8z"/><path fill="#c9898b" d="M552.0 98.7l3.8 2.8 1.6-3.7-3.6-2.7z"/><path fill="#cac8d7" d="M637.0 101.5l3.8-2.8-1.8-3.6-3.6 2.7z"/><path fill="#7b6277" d="M576.0 125.3l5.3 1.1-.2-2.3-5.4-1.2z"/><path fill="#7b738f" d="M611.5 126.4l5.3-1.1 .3-2.4-5.4 1.2z"/><path fill="#fbbcb4" d="M563.2 83.2l2.8 2.2 2.9-2.8-2.5-2.0z"/><path fill="#fcf3f0" d="M626.8 85.4l2.8-2.2-3.2-2.6-2.5 2.0z"/><path fill="#8b6778" d="M566.2 120.1l5.0 1.7 .0-2.8-5.1-1.8z"/><path fill="#8b85a1" d="M621.6 121.8l5.0-1.7 .1-2.9-5.1 1.8z"/><path fill="#fac1b8" d="M568.4 82.6l2.8 1.9 2.8-2.6-2.5-1.7z"/><path fill="#f8ece9" d="M621.6 84.5l2.8-1.9-3.1-2.4-2.5 1.7z"/><path fill="#eac6c2" d="M585.4 83.9l3.0 .7 1.1-2.2-2.6-.6z"/><path fill="#e8d4d1" d="M604.4 84.6l3.0-.7-1.5-2.1-2.6 .6z"/><path fill="#f3c4be" d="M575.9 83.3l2.9 1.3 2.1-2.4-2.5-1.3z"/><path fill="#f1e1de" d="M614.0 84.6l2.9-1.3-2.5-2.4-2.5 1.3z"/><path fill="#e9c9c5" d="M588.0 84.5l3.1 .5 .7-2.2-2.7-.5z"/><path fill="#e8d2d0" d="M601.7 85.0l3.1-.5-1.1-2.2-2.7 .5z"/><path fill="#bb8188" d="M554.4 104.6l4.1 2.6 1.1-3.7-4.0-2.5z"/><path fill="#bbb8cd" d="M634.3 107.2l4.1-2.6-1.2-3.6-4.0 2.5z"/><path fill="#d89595" d="M553.6 95.4l3.6 2.6 2.0-3.6-3.4-2.6z"/><path fill="#d9d6e2" d="M635.6 98.0l3.6-2.6-2.2-3.6-3.4 2.6z"/><path fill="#7c667d" d="M580.9 126.4l5.5 .8-.2-2.3-5.5-.9z"/><path fill="#7b728e" d="M606.4 127.2l5.5-.8 .2-2.4-5.5 .9z"/><path fill="#f9b7b0" d="M560.4 85.9l3.0 2.3 2.8-3.1-2.8-2.1z"/><path fill="#fbf4f4" d="M629.4 88.2l3.0-2.3-3.0-2.9-2.8 2.1z"/><path fill="#9b707f" d="M561.6 115.5l4.8 2.1 .2-3.3-4.8-2.1z"/><path fill="#9b96b1" d="M626.4 117.6l4.8-2.1-.2-3.3-4.8 2.1z"/><path fill="#e9cbc9" d="M590.7 84.9l3.1 .3 .4-2.3-2.8-.2z"/><path fill="#e8d1cf" d="M599.0 85.2l3.1-.3-.7-2.2-2.8 .2z"/><path fill="#e9cecc" d="M593.5 85.2l3.1 .1 .0-2.3-2.8-.1z"/><path fill="#e9d0ce" d="M596.2 85.3l3.1-.1-.3-2.3-2.8 .1z"/><path fill="#ab7983" d="M557.6 110.3l4.5 2.3 .7-3.5-4.5-2.3z"/><path fill="#aba7c0" d="M630.7 112.6l4.5-2.3-.7-3.5-4.5 2.3z"/><path fill="#e5a2a0" d="M555.6 92.1l3.4 2.6 2.3-3.6-3.2-2.5z"/><path fill="#e7e3eb" d="M633.8 94.7l3.4-2.6-2.5-3.5-3.2 2.5z"/><path fill="#f1aea9" d="M557.9 88.9l3.2 2.5 2.6-3.5-3.0-2.2z"/><path fill="#f4eef2" d="M631.7 91.4l3.2-2.5-2.8-3.2-3.0 2.2z"/><path fill="#7c6a83" d="M585.9 127.2l5.6 .4-.1-2.2-5.6-.6z"/><path fill="#7c718e" d="M601.3 127.6l5.6-.4 .1-2.4-5.6 .6z"/><path fill="#f9c3bd" d="M570.9 84.2l3.0 1.7 2.5-2.8-2.7-1.4z"/><path fill="#f7eae8" d="M618.9 85.9l3.0-1.7-2.8-2.5-2.7 1.4z"/><path fill="#f3c6c1" d="M578.5 84.4l3.1 1.2 1.8-2.6-2.7-1.0z"/><path fill="#f1dfdd" d="M611.2 85.6l3.1-1.2-2.2-2.4-2.7 1.0z"/><path fill="#8c6c7f" d="M570.8 121.7l5.3 1.5-.1-2.8-5.3-1.5z"/><path fill="#8b84a1" d="M616.7 123.2l5.3-1.5 .1-2.8-5.3 1.5z"/><path fill="#fcbfb9" d="M565.7 85.2l3.1 1.9 2.6-2.9-2.7-1.9z"/><path fill="#fcf1f1" d="M624.0 87.1l3.1-1.9-3.0-2.9-2.7 1.9z"/><path fill="#7c6e89" d="M591.0 127.6l5.6 .2 .0-2.3-5.7-.2z"/><path fill="#7c708c" d="M596.2 127.8l5.6-.2 .1-2.3-5.7 .2z"/><path fill="#ca8d92" d="M555.4 101.3l4.1 2.5 1.5-3.8-4.0-2.4z"/><path fill="#cbc7d9" d="M633.3 103.8l4.1-2.5-1.6-3.7-4.0 2.4z"/><path fill="#f2c9c5" d="M581.2 85.4l3.2 1.0 1.5-2.7-2.8-.8z"/><path fill="#f0dddc" d="M608.4 86.4l3.2-1.0-1.9-2.5-2.8 .8z"/><path fill="#9c7586" d="M566.0 117.4l5.1 1.8 .2-3.2-5.1-1.8z"/><path fill="#9c95b2" d="M621.7 119.2l5.1-1.8-.2-3.2-5.1 1.8z"/><path fill="#fabcb8" d="M563.2 88.0l3.2 2.1 2.6-3.3-3.0-1.9z"/><path fill="#fcf4f7" d="M626.4 90.1l3.2-2.1-2.8-3.1-3.0 1.9z"/><path fill="#f8c6c1" d="M573.7 85.7l3.1 1.5 2.2-2.9-2.9-1.3z"/><path fill="#f7e8e7" d="M616.0 87.2l3.1-1.5-2.4-2.7-2.9 1.3z"/><path fill="#8c7086" d="M575.6 123.1l5.5 1.2-.1-2.8-5.4-1.2z"/><path fill="#8c83a1" d="M611.7 124.3l5.5-1.2 .0-2.8-5.4 1.2z"/><path fill="#bc858f" d="M558.2 107.0l4.4 2.4 1.0-3.8-4.3-2.2z"/><path fill="#bcb7ce" d="M630.2 109.4l4.4-2.4-1.1-3.6-4.3 2.2z"/><path fill="#d99a9d" d="M556.9 97.9l3.9 2.4 1.8-3.8-3.7-2.3z"/><path fill="#dad6e4" d="M632.0 100.3l3.9-2.4-2.0-3.7-3.7 2.3z"/><path fill="#f1cbc9" d="M584.1 86.3l3.3 .7 1.1-2.7-2.9-.7z"/><path fill="#f0dcdb" d="M605.4 87.0l3.3-.7-1.5-2.7-2.9 .7z"/><path fill="#ac7d8b" d="M561.7 112.5l4.9 2.1 .5-3.6-4.7-2.0z"/><path fill="#aca6c1" d="M626.2 114.6l4.9-2.1-.7-3.5-4.7 2.0z"/><path fill="#fcc3bf" d="M568.5 86.9l3.3 1.8 2.4-3.1-3.0-1.6z"/><path fill="#fcf0f1" d="M621.0 88.7l3.3-1.8-2.7-2.9-3.0 1.6z"/><path fill="#f3b3b1" d="M560.8 91.2l3.5 2.2 2.4-3.6-3.3-2.1z"/><path fill="#f6eff6" d="M628.5 93.4l3.5-2.2-2.6-3.5-3.3 2.1z"/><path fill="#e7a7a7" d="M558.7 94.5l3.7 2.3 2.1-3.7-3.5-2.2z"/><path fill="#eae4ee" d="M630.4 96.8l3.7-2.3-2.3-3.6-3.5 2.2z"/><path fill="#f1cecd" d="M587.0 86.9l3.4 .6 .8-2.8-3.1-.5z"/><path fill="#f0dada" d="M602.4 87.5l3.4-.6-1.1-2.7-3.1 .5z"/><path fill="#8d748d" d="M580.6 124.3l5.6 .8 .0-2.8-5.6-.9z"/><path fill="#8d82a0" d="M606.6 125.1l5.6-.8 .0-2.9-5.6 .9z"/><path fill="#f8c9c6" d="M576.6 87.0l3.3 1.3 1.8-3.0-3.0-1.2z"/><path fill="#f6e6e7" d="M612.9 88.3l3.3-1.3-2.1-2.9-3.0 1.2z"/><path fill="#f1d2d1" d="M590.1 87.4l3.4 .3 .4-2.8-3.1-.3z"/><path fill="#f0d9d9" d="M599.3 87.7l3.4-.3-.7-2.8-3.1 .3z"/><path fill="#f1d5d5" d="M593.1 87.7l3.5 .1 .0-2.8-3.1-.1z"/><path fill="#f1d7d8" d="M596.2 87.8l3.5-.1-.4-2.8-3.1 .1z"/><path fill="#cb9299" d="M559.2 103.6l4.3 2.3 1.3-3.8-4.2-2.2z"/><path fill="#ccc6da" d="M629.3 105.9l4.3-2.3-1.4-3.7-4.2 2.2z"/><path fill="#9d798d" d="M570.7 119.1l5.3 1.5 .1-3.2-5.2-1.5z"/><path fill="#9d94b2" d="M616.8 120.6l5.3-1.5-.2-3.2-5.2 1.5z"/><path fill="#8d7994" d="M585.8 125.0l5.6 .6 .0-2.9-5.7-.5z"/><path fill="#8d819f" d="M601.4 125.6l5.6-.6 .1-2.8-5.7 .5z"/><path fill="#fdc2c0" d="M566.2 90.0l3.5 1.9 2.3-3.5-3.3-1.8z"/><path fill="#fff4f9" d="M623.1 91.9l3.5-1.9-2.5-3.4-3.3 1.8z"/><path fill="#fdc7c5" d="M571.5 88.5l3.5 1.6 2.0-3.3-3.1-1.4z"/><path fill="#fdeff2" d="M617.8 90.1l3.5-1.6-2.4-3.1-3.1 1.4z"/><path fill="#8e7d9a" d="M590.9 125.5l5.7 .2 .0-2.8-5.7-.2z"/><path fill="#8e809e" d="M596.2 125.7l5.7-.2 .0-2.8-5.7 .2z"/><path fill="#bd8a96" d="M562.3 109.2l4.7 2.1 .9-3.8-4.7-2.0z"/><path fill="#bcb6cf" d="M625.8 111.3l4.7-2.1-.9-3.7-4.7 2.0z"/><path fill="#f7ccca" d="M579.6 88.1l3.5 1.1 1.5-3.1-3.2-1.0z"/><path fill="#f6e4e6" d="M609.7 89.2l3.5-1.1-1.8-3.0-3.2 1.0z"/><path fill="#ad8292" d="M566.2 114.5l5.0 1.7 .5-3.5-5.0-1.8z"/><path fill="#ada5c1" d="M621.6 116.2l5.0-1.7-.5-3.6-5.0 1.8z"/><path fill="#da9fa4" d="M560.5 100.1l4.1 2.3 1.7-3.9-4.0-2.2z"/><path fill="#dcd5e6" d="M628.2 102.4l4.1-2.3-1.8-3.8-4.0 2.2z"/><path fill="#f7babb" d="M564.0 93.2l3.8 2.0 2.1-3.7-3.5-1.8z"/><path fill="#faf1fa" d="M625.0 95.2l3.8-2.0-2.4-3.5-3.5 1.8z"/><path fill="#eaadb0" d="M562.1 96.6l4.0 2.2 1.9-3.9-3.8-2.0z"/><path fill="#ede5f2" d="M626.7 98.8l4.0-2.2-2.1-3.7-3.8 2.0z"/><path fill="#9e7e94" d="M575.5 120.5l5.5 1.2 .1-3.2-5.4-1.2z"/><path fill="#9d93b2" d="M611.8 121.7l5.5-1.2-.2-3.2-5.4 1.2z"/><path fill="#f7cfcf" d="M582.8 89.0l3.6 .9 1.1-3.2-3.3-.8z"/><path fill="#f6e2e5" d="M606.4 89.9l3.6-.9-1.4-3.1-3.3 .8z"/><path fill="#fdcccb" d="M574.7 90.0l3.6 1.3 1.8-3.4-3.4-1.2z"/><path fill="#fdeef2" d="M614.5 91.3l3.6-1.3-2.0-3.3-3.4 1.2z"/><path fill="#ffc8c8" d="M569.4 91.7l3.8 1.7 1.9-3.6-3.4-1.6z"/><path fill="#fff5fc" d="M619.6 93.4l3.8-1.7-2.3-3.5-3.4 1.6z"/><path fill="#cc97a1" d="M563.1 105.8l4.6 2.0 1.2-3.9-4.5-2.0z"/><path fill="#cdc5db" d="M625.1 107.8l4.6-2.0-1.3-3.9-4.5 2.0z"/><path fill="#f7d3d4" d="M586.0 89.8l3.7 .6 .8-3.3-3.4-.5z"/><path fill="#f6e1e4" d="M603.1 90.4l3.7-.6-1.1-3.2-3.4 .5z"/><path fill="#9e839c" d="M580.6 121.7l5.5 .8 .1-3.3-5.5-.8z"/><path fill="#9e92b1" d="M606.7 122.5l5.5-.8-.1-3.3-5.5 .8z"/><path fill="#ae879a" d="M570.8 116.1l5.3 1.5 .3-3.6-5.1-1.4z"/><path fill="#ada4c1" d="M616.7 117.6l5.3-1.5-.5-3.5-5.1 1.4z"/><path fill="#f7d7d9" d="M589.4 90.3l3.7 .4 .4-3.3-3.4-.3z"/><path fill="#f7dfe3" d="M599.7 90.7l3.7-.4-.7-3.2-3.4 .3z"/><path fill="#be8f9e" d="M566.6 111.2l5.0 1.7 .7-3.8-4.8-1.7z"/><path fill="#bdb5cf" d="M621.2 112.9l5.0-1.7-.9-3.8-4.8 1.7z"/><path fill="#f7dbde" d="M592.8 90.6l3.8 .1 .0-3.2-3.4-.1z"/><path fill="#f7dee1" d="M596.2 90.7l3.8-.1-.4-3.2-3.4 .1z"/><path fill="#fbc3c5" d="M567.5 95.1l4.0 1.8 1.8-3.8-3.7-1.7z"/><path fill="#fff4ff" d="M621.3 96.9l4.0-1.8-2.1-3.7-3.7 1.7z"/><path fill="#fed0d2" d="M578.0 91.2l3.8 1.1 1.4-3.5-3.5-1.0z"/><path fill="#feecf2" d="M611.0 92.3l3.8-1.1-1.7-3.4-3.5 1.0z"/><path fill="#dda5ad" d="M564.3 102.2l4.4 2.0 1.4-4.0-4.2-1.9z"/><path fill="#ded6e8" d="M624.1 104.2l4.4-2.0-1.6-3.9-4.2 1.9z"/><path fill="#9f88a3" d="M585.7 122.5l5.7 .5 .0-3.3-5.6-.5z"/><path fill="#9f91b0" d="M601.4 123.0l5.7-.5-.1-3.3-5.6 .5z"/><path fill="#edb5bb" d="M565.8 98.6l4.2 1.9 1.6-4.0-4.0-1.7z"/><path fill="#f1e8f7" d="M622.8 100.5l4.2-1.9-1.8-3.8-4.0 1.7z"/><path fill="#9f8daa" d="M590.9 122.9l5.7 .2 .0-3.3-5.6-.1z"/><path fill="#9f90ae" d="M596.2 123.1l5.7-.2-.1-3.2-5.6 .1z"/><path fill="#ffcfd2" d="M572.8 93.2l4.0 1.5 1.6-3.7-3.6-1.4z"/><path fill="#fff7ff" d="M616.0 94.7l4.0-1.5-2.0-3.6-3.6 1.4z"/><path fill="#af8ca2" d="M575.7 117.5l5.4 1.2 .2-3.6-5.3-1.2z"/><path fill="#aea3c1" d="M611.7 118.7l5.4-1.2-.3-3.6-5.3 1.2z"/><path fill="#ffd5d8" d="M581.5 92.2l3.9 .9 1.1-3.6-3.6-.8z"/><path fill="#ffebf2" d="M607.4 93.1l3.9-.9-1.4-3.5-3.6 .8z"/><path fill="#ce9caa" d="M567.4 107.7l4.8 1.7 1.0-4.0-4.7-1.7z"/><path fill="#cec4dc" d="M620.6 109.4l4.8-1.7-1.1-4.0-4.7 1.7z"/><path fill="#be94a6" d="M571.2 112.8l5.2 1.5 .5-3.9-5.0-1.4z"/><path fill="#beb3cf" d="M616.4 114.3l5.2-1.5-.7-3.8-5.0 1.4z"/><path fill="#ffccd1" d="M571.2 96.7l4.2 1.6 1.5-4.0-3.9-1.4z"/><path fill="#fff8ff" d="M617.4 98.3l4.2-1.6-1.8-3.8-3.9 1.4z"/><path fill="#ffdadf" d="M585.0 93.0l4.1 .6 .7-3.6-3.7-.6z"/><path fill="#ffeaf1" d="M603.7 93.6l4.1-.6-1.1-3.6-3.7 .6z"/><path fill="#ffd7db" d="M576.5 94.5l4.1 1.2 1.3-3.7-3.8-1.1z"/><path fill="#fff8ff" d="M612.2 95.7l4.1-1.2-1.6-3.6-3.8 1.1z"/><path fill="#af91aa" d="M580.6 118.7l5.6 .8 .2-3.7-5.5-.8z"/><path fill="#afa2c0" d="M606.6 119.5l5.6-.8-.3-3.7-5.5 .8z"/><path fill="#dfacb7" d="M568.4 104.0l4.7 1.7 1.1-4.1-4.4-1.6z"/><path fill="#e1d7eb" d="M619.7 105.7l4.7-1.7-1.4-4.0-4.4 1.6z"/><path fill="#f2bec6" d="M569.7 100.3l4.4 1.7 1.4-4.1-4.2-1.5z"/><path fill="#f7ebfc" d="M618.7 102.0l4.4-1.7-1.6-3.9-4.2 1.5z"/><path fill="#ffdfe5" d="M588.7 93.6l4.1 .4 .4-3.7-3.8-.3z"/><path fill="#ffe9f0" d="M600.0 94.0l4.1-.4-.7-3.6-3.8 .3z"/><path fill="#ffe4eb" d="M592.5 93.9l4.1 .2 .0-3.7-3.8-.1z"/><path fill="#ffe7ef" d="M596.2 94.1l4.1-.2-.3-3.6-3.8 .1z"/><path fill="#b096b1" d="M585.8 119.4l5.6 .6 .1-3.7-5.6-.5z"/><path fill="#afa0bf" d="M601.4 120.0l5.6-.6-.1-3.6-5.6 .5z"/><path fill="#cfa2b2" d="M571.8 109.3l5.1 1.4 .7-4.0-4.8-1.4z"/><path fill="#cfc4dd" d="M615.9 110.7l5.1-1.4-1.0-4.0-4.8 1.4z"/><path fill="#bf9aae" d="M576.0 114.2l5.3 1.2 .4-3.9-5.2-1.2z"/><path fill="#bfb2cf" d="M611.5 115.4l5.3-1.2-.5-3.9-5.2 1.2z"/><path fill="#ffdee5" d="M580.2 95.6l4.3 1.0 1.0-3.9-3.9-.8z"/><path fill="#fff9ff" d="M608.3 96.6l4.3-1.0-1.4-3.7-3.9 .8z"/><path fill="#b09cb9" d="M591.0 119.9l5.6 .2 .0-3.7-5.6-.1z"/><path fill="#b09fbd" d="M596.2 120.1l5.6-.2 .0-3.6-5.6 .1z"/><path fill="#ffd6de" d="M575.0 98.1l4.4 1.3 1.3-4.0-4.1-1.2z"/><path fill="#fffcff" d="M613.4 99.4l4.4-1.3-1.6-3.9-4.1 1.2z"/><path fill="#e2b4c2" d="M572.7 105.6l4.9 1.4 .9-4.1-4.6-1.4z"/><path fill="#e5d8ee" d="M615.2 107.0l4.9-1.4-1.2-4.1-4.6 1.4z"/><path fill="#f8c8d3" d="M573.8 101.8l4.6 1.4 1.1-4.1-4.4-1.3z"/><path fill="#fdefff" d="M614.4 103.2l4.6-1.4-1.3-4.0-4.4 1.3z"/><path fill="#ffe6ee" d="M584.1 96.5l4.4 .7 .6-3.9-4.0-.6z"/><path fill="#fff9ff" d="M604.3 97.2l4.4-.7-1.0-3.8-4.0 .6z"/><path fill="#c09fb6" d="M580.9 115.3l5.4 .8 .3-3.9-5.3-.8z"/><path fill="#bfb1ce" d="M606.5 116.1l5.4-.8-.4-3.9-5.3 .8z"/><path fill="#d1a9bb" d="M576.5 110.6l5.2 1.2 .6-4.1-5.1-1.1z"/><path fill="#d1c3dd" d="M611.1 111.8l5.2-1.2-.7-4.0-5.1 1.1z"/><path fill="#ffe1eb" d="M579.1 99.3l4.5 1.0 .9-4.0-4.2-1.0z"/><path fill="#ffffff" d="M609.2 100.3l4.5-1.0-1.2-4.0-4.2 1.0z"/><path fill="#ffedf7" d="M588.1 97.1l4.4 .4 .3-3.9-4.0-.4z"/><path fill="#fff9ff" d="M600.3 97.5l4.4-.4-.7-3.9-4.0 .4z"/><path fill="#fff4ff" d="M592.1 97.5l4.5 .2 .0-4.0-4.1-.1z"/><path fill="#fff8ff" d="M596.2 97.7l4.5-.2-.4-3.9-4.1 .1z"/><path fill="#c1a5bf" d="M585.9 116.1l5.5 .5 .2-4.0-5.4-.4z"/><path fill="#c0b0cd" d="M601.4 116.6l5.5-.5-.3-3.9-5.4 .4z"/><path fill="#e6bdcd" d="M577.2 106.9l5.0 1.1 .7-4.2-4.8-1.0z"/><path fill="#e9daf1" d="M610.6 108.0l5.0-1.1-.9-4.1-4.8 1.0z"/><path fill="#fed4e1" d="M578.1 103.1l4.7 1.0 .9-4.1-4.5-1.0z"/><path fill="#fff3ff" d="M610.0 104.1l4.7-1.0-1.1-4.1-4.5 1.0z"/><path fill="#c1aac6" d="M591.0 116.6l5.6 .1 .0-3.9-5.4-.2z"/><path fill="#c1aecb" d="M596.2 116.7l5.6-.1-.2-4.0-5.4 .2z"/><path fill="#ffecf8" d="M583.2 100.2l4.7 .7 .6-4.0-4.3-.7z"/><path fill="#ffffff" d="M604.9 100.9l4.7-.7-1.0-4.0-4.3 .7z"/><path fill="#d2afc5" d="M581.3 111.7l5.3 .8 .4-4.1-5.1-.8z"/><path fill="#d3c3dd" d="M606.2 112.5l5.3-.8-.6-4.1-5.1 .8z"/><path fill="#fff6ff" d="M587.5 100.9l4.7 .4 .3-4.1-4.4-.4z"/><path fill="#ffffff" d="M600.6 101.3l4.7-.4-.6-4.1-4.4 .4z"/><path fill="#ffdfee" d="M582.5 104.1l4.9 .7 .5-4.2-4.6-.7z"/><path fill="#fff7ff" d="M605.4 104.8l4.9-.7-.8-4.2-4.6 .7z"/><path fill="#eac6d8" d="M581.8 107.9l5.1 .8 .5-4.2-4.9-.8z"/><path fill="#eddbf3" d="M605.9 108.7l5.1-.8-.7-4.2-4.9 .8z"/><path fill="#d4b6ce" d="M586.2 112.5l5.4 .4 .2-4.1-5.2-.5z"/><path fill="#d4c2dd" d="M601.2 112.9l5.4-.4-.4-4.2-5.2 .5z"/><path fill="#ffffff" d="M591.8 101.3l4.8 .2 .0-4.2-4.4-.1z"/><path fill="#ffffff" d="M596.2 101.5l4.8-.2-.4-4.1-4.4 .1z"/><path fill="#d5bcd6" d="M591.2 112.9l5.4 .2 .0-4.1-5.2-.2z"/><path fill="#d5c0db" d="M596.2 113.1l5.4-.2-.2-4.1-5.2 .2z"/><path fill="#ffeafb" d="M587.0 104.8l5.0 .4 .2-4.2-4.7-.4z"/><path fill="#fff8ff" d="M600.8 105.2l5.0-.4-.5-4.2-4.7 .4z"/><path fill="#eecee3" d="M586.6 108.7l5.1 .4 .3-4.2-5.0-.5z"/><path fill="#efdcf4" d="M601.1 109.1l5.1-.4-.4-4.3-5.0 .5z"/><path fill="#fff3ff" d="M591.6 105.2l5.0 .2 .0-4.3-4.7-.1z"/><path fill="#fff8ff" d="M596.2 105.4l5.0-.2-.3-4.2-4.7 .1z"/><path fill="#f0d6ed" d="M591.4 109.1l5.2 .2 .0-4.3-5.0-.1z"/><path fill="#f1dbf2" d="M596.2 109.3l5.2-.2-.2-4.2-5.0 .1z"/></g></g>
<clipPath id="hc2"><path d="M576.4,66.78 L578.4,67.94 L580.4,69.5 L582.4,71.41 L584.4,74.11 L586.4,78.17 L588.4,79.15 L590.4,79.82 L592.4,80.26 L594.4,80.52 L596.4,80.62 L598.4,80.52 L600.4,80.26 L602.4,79.82 L604.4,79.3 L606.4,78.6 L608.4,77.2 L610.4,75.2 L612.4,72.6 L614.4,69.6 L616.4,66.8 L616.4,36.1 L576.4,36.1 Z"/></clipPath><ellipse cx="584.4" cy="66.1" rx="12" ry="9.5" fill="url(#hw)" opacity="0.92"/><g clip-path="url(#hc2)"><ellipse cx="595.4" cy="74.1" rx="13.5" ry="10.5" fill="url(#hl)"/><ellipse cx="600.4" cy="73.1" rx="10.5" ry="9.5" fill="url(#hd)"/></g>
<path d="M388.5,127.7 C386.95,127.4 382.5,127.17 379.2,125.9 C375.9,124.63 371.82,123.02 368.7,120.1 C365.58,117.18 362.35,112.3 360.5,108.4 C358.65,104.5 357.88,100.4 357.6,96.7 C357.32,93 358.22,88.92 358.8,86.2 C359.38,83.48 360.72,81.37 361.1,80.4" stroke="#e8506a" stroke-opacity="0.66" stroke-width="2.0" fill="none"/>
<path d="M340.5,59.6 C342.33,60.45 348.45,63.12 351.5,64.7 C354.55,66.28 356.55,67.77 358.8,69.1 C361.05,70.43 362.47,71.18 365,72.7 C367.53,74.22 371.25,76.38 374,78.2 C376.75,80.02 379.97,82.3 381.5,83.6 C383.03,84.9 383.37,85.53 383.2,86 C383.03,86.47 381.7,86.73 380.5,86.4 C379.3,86.07 376.75,84.4 376,84" stroke="#ee8090" stroke-opacity="0.66" stroke-width="2.0" fill="none" stroke-linecap="round"/>
<path d="M319.4,52.3 C319.88,52.3 320.6,51.93 322.3,52.3 C324,52.67 326.57,53.28 329.6,54.5 C332.63,55.72 336.85,57.9 340.5,59.6 C344.15,61.3 349.67,63.85 351.5,64.7" stroke="#ec6448" stroke-opacity="0.72" stroke-width="2.1" fill="none" stroke-linecap="round"/>
<path d="M319.4,52.3 C319.75,52.78 320.4,54.1 321.5,55.2 C322.6,56.3 323.43,57.07 326,58.9 C328.57,60.73 333.27,64.02 336.9,66.2 C340.53,68.38 344.15,70.18 347.8,72 C351.45,73.82 356.55,76.07 358.8,77.1 C361.05,78.13 360.88,78.02 361.3,78.2 M361.3,78.2 C361.95,77 363.18,73.75 365.2,71 C367.22,68.25 370.48,63.93 373.4,61.7 C376.32,59.47 379.78,58.38 382.7,57.6 C385.62,56.82 387.98,56.8 390.9,57 C393.82,57.2 397.28,57.63 400.2,58.8 C403.12,59.97 405.87,61.57 408.4,64 C410.93,66.43 413.55,69.9 415.4,73.4 C417.25,76.9 418.72,81.5 419.5,85 C420.28,88.5 420.4,90.88 420.1,94.4 C419.8,97.92 419.07,102.4 417.7,106.1 C416.33,109.8 414.23,113.68 411.9,116.6 C409.57,119.52 406.62,121.85 403.7,123.6 C400.78,125.35 396.93,126.42 394.4,127.1 C391.87,127.78 389.48,127.6 388.5,127.7" stroke="#ff0000" stroke-width="2.2" fill="none" stroke-linecap="round" stroke-linejoin="round"/>
<path d="M556,44.4 C554.83,46.15 550.65,51.22 549,54.9 C547.35,58.58 546.38,62.62 546.1,66.5 C545.82,70.38 546.23,74.3 547.3,78.2 C548.37,82.1 550.07,86.2 552.5,89.9 C554.93,93.6 558.4,97.87 561.9,100.4 C565.4,102.93 569.62,104.52 573.5,105.1 C577.38,105.68 581.5,105.07 585.2,103.9 C588.9,102.73 592.78,100.43 595.7,98.1 C598.62,95.77 600.95,92.63 602.7,89.9 C604.45,87.17 605.52,83.65 606.2,81.7 C606.88,79.75 606.7,78.78 606.8,78.2" stroke="#e8506a" stroke-opacity="0.68" stroke-width="2.1" fill="none"/>
<path d="M646.2,110.1 C644.07,108.25 637.48,102.2 633.4,99 C629.32,95.8 625.6,93.42 621.7,90.9 C617.8,88.38 612.53,85.47 610,83.9 C607.47,82.33 607.08,81.9 606.5,81.5" stroke="#e8506a" stroke-opacity="0.5" stroke-width="1.8" fill="none"/>
<path d="M556,44.4 C557.37,43.32 561.08,39.57 564.2,37.9 C567.32,36.23 571.2,34.88 574.7,34.4 C578.2,33.92 581.88,34.12 585.2,35 C588.52,35.88 591.68,37.55 594.6,39.7 C597.52,41.85 600.57,44.98 602.7,47.9 C604.83,50.82 606.42,54.1 607.4,57.2 C608.38,60.3 608.6,63.58 608.6,66.5 C608.6,69.42 607.98,72.85 607.4,74.7 C606.82,76.55 606.27,76.82 605.1,77.6 C603.93,78.38 602.35,79.1 600.4,79.4 C598.45,79.7 595.53,79.8 593.4,79.4 C591.27,79 589.17,77.68 587.6,77 C586.03,76.32 584.6,75.58 584,75.3 M584,75.3 C584.45,75.75 585.37,76.85 586.7,78 C588.03,79.15 590.05,80.83 592,82.2 C593.95,83.57 595.4,84.37 598.4,86.2 C601.4,88.03 606.12,91.07 610,93.2 C613.88,95.33 617.8,97.05 621.7,99 C625.6,100.95 629.5,103.13 633.4,104.9 C637.3,106.67 642.95,108.73 645.1,109.6 C647.25,110.47 646.1,110.02 646.3,110.1" stroke="#ff0000" stroke-width="2.2" fill="none" stroke-linecap="round" stroke-linejoin="round"/>
<path d="M281.2,66.2 V102.8 L375.4,161.2 L459,96.1" stroke="#8a8a8a" stroke-width="0.8" fill="none"/>
<text x="259.6" y="84" text-anchor="middle" font-size="12.3" fill="#666">x/(1−u)</text>
<text x="307.6" y="144.3" text-anchor="middle" font-size="12.3" fill="#666">y/(1−u)</text>
<text x="438.3" y="139.2" text-anchor="middle" font-size="12.3" fill="#666">z/(1−u)</text>
<path d="M507.4,66.2 V102.8 L601.6,161.2 L685.2,96.1" stroke="#8a8a8a" stroke-width="0.8" fill="none"/>
<text x="485.8" y="84" text-anchor="middle" font-size="12.3" fill="#666">x/(1−u)</text>
<text x="533.8" y="144.3" text-anchor="middle" font-size="12.3" fill="#666">y/(1−u)</text>
<text x="663.71" y="139.2" text-anchor="middle" font-size="12.3" fill="#666">z/(1−u)</text>
<text x="250.8" y="9.6" font-size="12" font-weight="bold">b</text>
<text x="341.6" y="11.8" font-size="9.4" fill="#111">q<tspan font-size="5.9" dx="0.6" dy="3.2">1234</tspan></text>
<text x="565.6" y="11.8" font-size="9.4" fill="#111">-q<tspan font-size="5.9" dx="0.6" dy="3.2">1234</tspan></text>
</svg></body></html>
